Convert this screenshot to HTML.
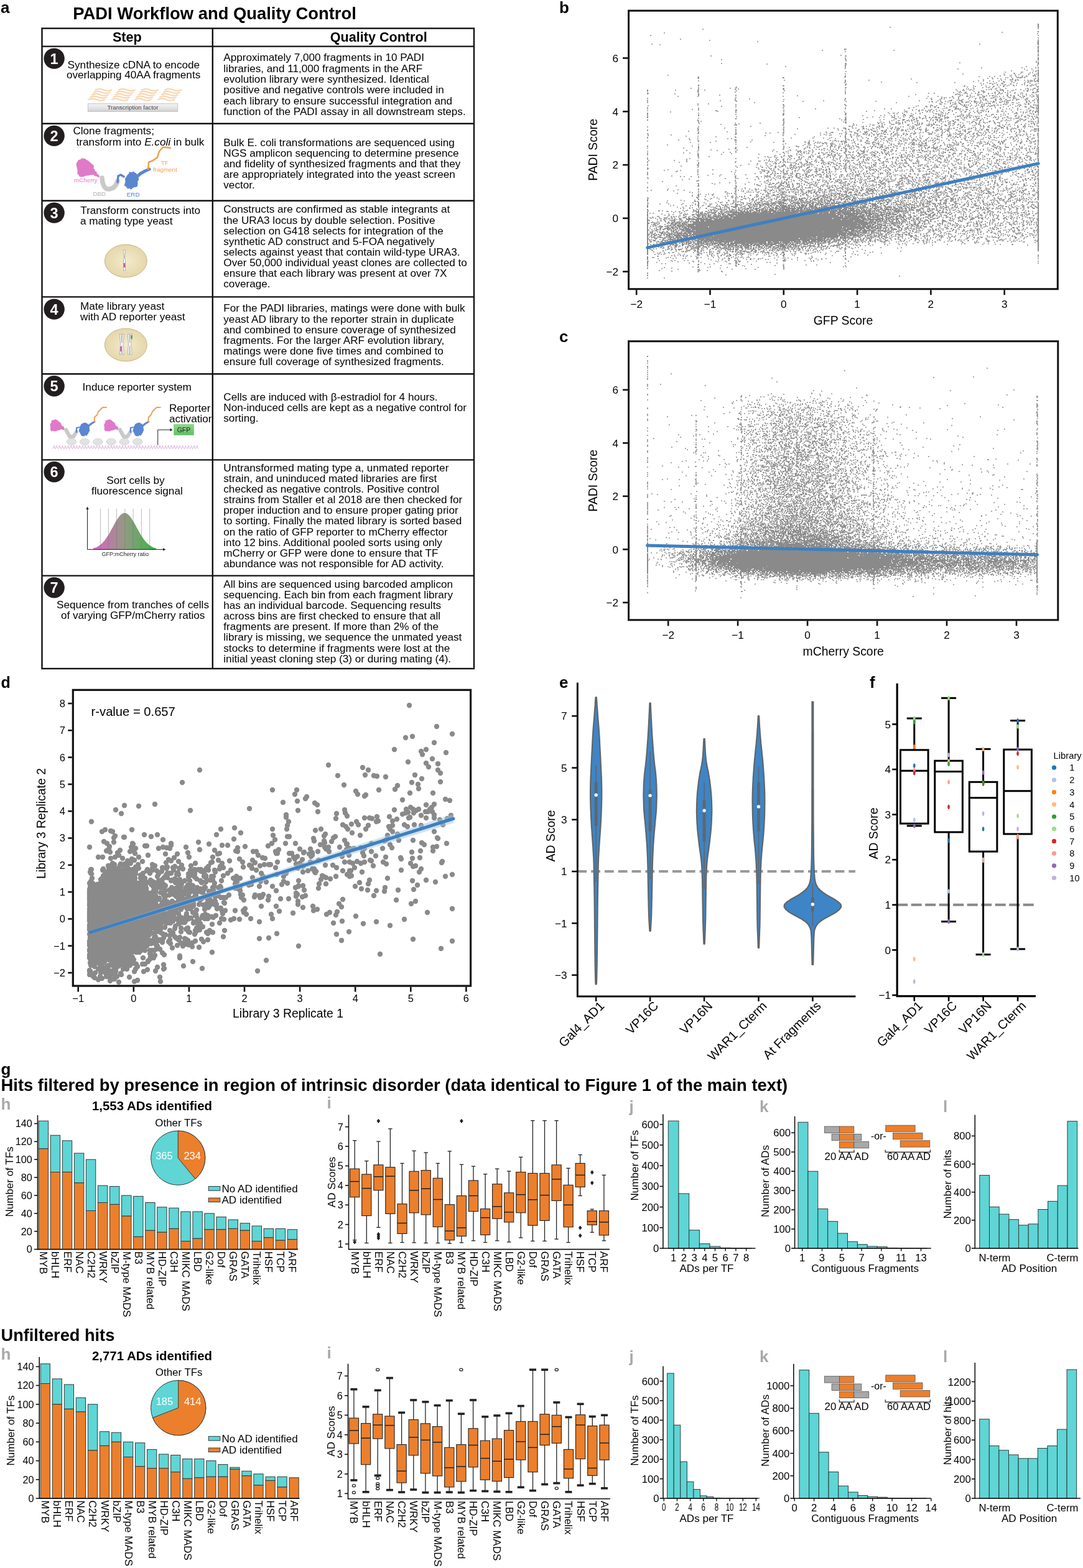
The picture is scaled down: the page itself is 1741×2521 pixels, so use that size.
<!DOCTYPE html><html><head><meta charset="utf-8"><title>PADI Workflow</title><style>html,body{margin:0;padding:0;background:#fff;width:1741px;height:2521px;overflow:hidden}svg{display:block}</style></head><body><svg width="1741" height="2521" viewBox="0 0 1741 2521" font-family="'Liberation Sans', Arial, Helvetica, sans-serif"><rect width="1741" height="2521" fill="#fff"/><text x="1" y="21" font-size="26" font-weight="bold">a</text><text x="117.3" y="30.6" font-size="27.4" font-weight="bold">PADI Workflow and Quality Control</text><rect x="67.5" y="45.6" width="694.5" height="1029.4" fill="none" stroke="#111" stroke-width="2.4"/><line x1="341.8" y1="45.6" x2="341.8" y2="1075" stroke="#111" stroke-width="2.4" /><line x1="67.5" y1="74.6" x2="762" y2="74.6" stroke="#111" stroke-width="2.4" /><line x1="67.5" y1="198.8" x2="762" y2="198.8" stroke="#111" stroke-width="2.4" /><line x1="67.5" y1="322.8" x2="762" y2="322.8" stroke="#111" stroke-width="2.4" /><line x1="67.5" y1="477.4" x2="762" y2="477.4" stroke="#111" stroke-width="2.4" /><line x1="67.5" y1="601.2" x2="762" y2="601.2" stroke="#111" stroke-width="2.4" /><line x1="67.5" y1="739.4" x2="762" y2="739.4" stroke="#111" stroke-width="2.4" /><line x1="67.5" y1="925.6" x2="762" y2="925.6" stroke="#111" stroke-width="2.4" /><text x="204.3" y="67.2" font-size="21.6" text-anchor="middle" font-weight="bold">Step</text><text x="608.7" y="67.2" font-size="21.6" text-anchor="middle" font-weight="bold">Quality Control</text><circle cx="87.1" cy="94.1" r="16.7" fill="#221e1f" /><text x="87.1" y="102.6" font-size="23.5" text-anchor="middle" font-weight="bold" fill="#fff">1</text><circle cx="87.1" cy="218.4" r="16.7" fill="#221e1f" /><text x="87.1" y="226.9" font-size="23.5" text-anchor="middle" font-weight="bold" fill="#fff">2</text><circle cx="87.1" cy="342.1" r="16.7" fill="#221e1f" /><text x="87.1" y="350.6" font-size="23.5" text-anchor="middle" font-weight="bold" fill="#fff">3</text><circle cx="87.1" cy="497.1" r="16.7" fill="#221e1f" /><text x="87.1" y="505.6" font-size="23.5" text-anchor="middle" font-weight="bold" fill="#fff">4</text><circle cx="87.1" cy="620.8" r="16.7" fill="#221e1f" /><text x="87.1" y="629.3" font-size="23.5" text-anchor="middle" font-weight="bold" fill="#fff">5</text><circle cx="87.1" cy="758.8" r="16.7" fill="#221e1f" /><text x="87.1" y="767.3" font-size="23.5" text-anchor="middle" font-weight="bold" fill="#fff">6</text><circle cx="87.1" cy="944.8" r="16.7" fill="#221e1f" /><text x="87.1" y="953.3" font-size="23.5" text-anchor="middle" font-weight="bold" fill="#fff">7</text><text x="108.6" y="109.9" font-size="17.15">Synthesize cDNA to encode</text><text x="106.9" y="126.1" font-size="17.15">overlapping 40AA fragments</text><text x="117.4" y="216.4" font-size="17.15">Clone fragments;</text><text x="129.3" y="344.2" font-size="17.15">Transform constructs into</text><text x="129" y="361.2" font-size="17.15">a mating type yeast</text><text x="129" y="498.3" font-size="17.15">Mate library yeast</text><text x="129" y="515.3" font-size="17.15">with AD reporter yeast</text><text x="132.6" y="628.3" font-size="17.15">Induce reporter system</text><text x="271.9" y="662.1" font-size="17.15">Reporter</text><text x="171.3" y="778.3" font-size="17.15">Sort cells by</text><text x="147" y="795.3" font-size="17.15">fluorescence signal</text><text x="91.1" y="977.5" font-size="17.15">Sequence from tranches of cells</text><text x="97.9" y="994.8" font-size="17.15">of varying GFP/mCherry ratios</text><text x="122.6" y="234.1" font-size="17.15">transform into <tspan font-style="italic">E.coli</tspan> in bulk</text><clipPath id="cpa"><rect x="68" y="600" width="272" height="140"/></clipPath><text x="271.9" y="679" font-size="17.15" clip-path="url(#cpa)">activation</text><text x="359.3" y="98.4" font-size="17.15">Approximately 7,000 fragments in 10 PADI</text><text x="359.3" y="115.7" font-size="17.15">libraries, and 11,000 fragments in the ARF</text><text x="359.3" y="133" font-size="17.15">evolution library were synthesized. Identical</text><text x="359.3" y="150.3" font-size="17.15">positive and negative controls were included in</text><text x="359.3" y="167.6" font-size="17.15">each library to ensure successful integration and</text><text x="359.3" y="184.9" font-size="17.15">function of the PADI assay in all downstream steps.</text><text x="359.3" y="234.7" font-size="17.15">Bulk E. coli transformations are sequenced using</text><text x="359.3" y="251.8" font-size="17.15">NGS amplicon sequencing to determine presence</text><text x="359.3" y="268.8" font-size="17.15">and fidelity of synthesized fragments and that they</text><text x="359.3" y="285.9" font-size="17.15">are appropriately integrated into the yeast screen</text><text x="359.3" y="302.9" font-size="17.15">vector.</text><text x="359.3" y="342.4" font-size="17.15">Constructs are confirmed as stable integrants at</text><text x="359.3" y="359.5" font-size="17.15">the URA3 locus by double selection. Positive</text><text x="359.3" y="376.5" font-size="17.15">selection on G418 selects for integration of the</text><text x="359.3" y="393.6" font-size="17.15">synthetic AD construct and 5-FOA negatively</text><text x="359.3" y="410.6" font-size="17.15">selects against yeast that contain wild-type URA3.</text><text x="359.3" y="427.7" font-size="17.15">Over 50,000 individual yeast clones are collected to</text><text x="359.3" y="444.8" font-size="17.15">ensure that each library was present at over 7X</text><text x="359.3" y="461.8" font-size="17.15">coverage.</text><text x="359.3" y="501.3" font-size="17.15">For the PADI libraries, matings were done with bulk</text><text x="359.3" y="518.5" font-size="17.15">yeast AD library to the reporter strain in duplicate</text><text x="359.3" y="535.7" font-size="17.15">and combined to ensure coverage of synthesized</text><text x="359.3" y="552.8" font-size="17.15">fragments. For the larger ARF evolution library,</text><text x="359.3" y="570" font-size="17.15">matings were done five times and combined to</text><text x="359.3" y="587.2" font-size="17.15">ensure full coverage of synthesized fragments.</text><text x="359.3" y="643.8" font-size="17.15">Cells are induced with β-estradiol for 4 hours.</text><text x="359.3" y="660.8" font-size="17.15">Non-induced cells are kept as a negative control for</text><text x="359.3" y="677.7" font-size="17.15">sorting.</text><text x="359.3" y="757.5" font-size="17.15">Untransformed mating type a, unmated reporter</text><text x="359.3" y="774.7" font-size="17.15">strain, and uninduced mated libraries are first</text><text x="359.3" y="791.8" font-size="17.15">checked as negative controls. Positive control</text><text x="359.3" y="809" font-size="17.15">strains from Staller et al 2018 are then checked for</text><text x="359.3" y="826.1" font-size="17.15">proper induction and to ensure proper gating prior</text><text x="359.3" y="843.3" font-size="17.15">to sorting. Finally the mated library is sorted based</text><text x="359.3" y="860.5" font-size="17.15">on the ratio of GFP reporter to mCherry effector</text><text x="359.3" y="877.6" font-size="17.15">into 12 bins. Additional pooled sorts using only</text><text x="359.3" y="894.8" font-size="17.15">mCherry or GFP were done to ensure that TF</text><text x="359.3" y="911.9" font-size="17.15">abundance was not responsible for AD activity.</text><text x="359.3" y="944.6" font-size="17.15">All bins are sequenced using barcoded amplicon</text><text x="359.3" y="961.8" font-size="17.15">sequencing. Each bin from each fragment library</text><text x="359.3" y="978.9" font-size="17.15">has an individual barcode. Sequencing results</text><text x="359.3" y="996.1" font-size="17.15">across bins are first checked to ensure that all</text><text x="359.3" y="1013.2" font-size="17.15">fragments are present. If more than 2% of the</text><text x="359.3" y="1030.3" font-size="17.15">library is missing, we sequence the unmated yeast</text><text x="359.3" y="1047.5" font-size="17.15">stocks to determine if fragments were lost at the</text><text x="359.3" y="1064.7" font-size="17.15">initial yeast cloning step (3) or during mating (4).</text><polyline points="153.5,144.5 154.5,144.1 155.5,143.8 156.5,143.5 157.5,143.3 158.5,143.1 159.5,143.0 160.5,143.0 161.5,143.1 162.5,143.3 163.5,143.5 164.5,143.8 165.5,144.1 166.5,144.5 167.5,144.9 168.5,145.2 169.5,145.5 170.5,145.7 171.5,145.9 172.5,146.0 173.5,146.0 174.5,145.9 175.5,145.7 176.5,145.5 177.5,145.2 178.5,144.9 179.5,144.5" fill="none" stroke="#f3bb80" stroke-width="2.2" stroke-opacity="0.62" stroke-linecap="round"/><polyline points="150.7,148.4 151.7,148.0 152.7,147.7 153.7,147.4 154.7,147.2 155.7,147.0 156.7,146.9 157.7,146.9 158.7,147.0 159.7,147.2 160.7,147.4 161.7,147.7 162.7,148.0 163.7,148.4 164.7,148.8 165.7,149.1 166.7,149.4 167.7,149.6 168.7,149.8 169.7,149.9 170.7,149.9 171.7,149.8 172.7,149.6 173.7,149.4 174.7,149.1 175.7,148.8 176.7,148.4" fill="none" stroke="#f3bb80" stroke-width="2.2" stroke-opacity="0.62" stroke-linecap="round"/><polyline points="147.9,152.3 148.9,151.9 149.9,151.6 150.9,151.3 151.9,151.1 152.9,150.9 153.9,150.8 154.9,150.8 155.9,150.9 156.9,151.1 157.9,151.3 158.9,151.6 159.9,151.9 160.9,152.3 161.9,152.7 162.9,153.0 163.9,153.3 164.9,153.5 165.9,153.7 166.9,153.8 167.9,153.8 168.9,153.7 169.9,153.5 170.9,153.3 171.9,153.0 172.9,152.7 173.9,152.3" fill="none" stroke="#f3bb80" stroke-width="2.2" stroke-opacity="0.62" stroke-linecap="round"/><polyline points="145.1,156.2 146.1,155.8 147.1,155.5 148.1,155.2 149.1,155.0 150.1,154.8 151.1,154.7 152.1,154.7 153.1,154.8 154.1,155.0 155.1,155.2 156.1,155.5 157.1,155.8 158.1,156.2 159.1,156.6 160.1,156.9 161.1,157.2 162.1,157.4 163.1,157.6 164.1,157.7 165.1,157.7 166.1,157.6 167.1,157.4 168.1,157.2 169.1,156.9 170.1,156.6 171.1,156.2" fill="none" stroke="#f3bb80" stroke-width="2.2" stroke-opacity="0.62" stroke-linecap="round"/><polyline points="142.3,160.1 143.3,159.7 144.3,159.4 145.3,159.1 146.3,158.9 147.3,158.7 148.3,158.6 149.3,158.6 150.3,158.7 151.3,158.9 152.3,159.1 153.3,159.4 154.3,159.7 155.3,160.1 156.3,160.5 157.3,160.8 158.3,161.1 159.3,161.3 160.3,161.5 161.3,161.6 162.3,161.6 163.3,161.5 164.3,161.3 165.3,161.1 166.3,160.8 167.3,160.5 168.3,160.1" fill="none" stroke="#f3bb80" stroke-width="2.2" stroke-opacity="0.62" stroke-linecap="round"/><polyline points="190.8,144.5 191.8,144.1 192.8,143.8 193.8,143.5 194.8,143.3 195.8,143.1 196.8,143.0 197.8,143.0 198.8,143.1 199.8,143.3 200.8,143.5 201.8,143.8 202.8,144.1 203.8,144.5 204.8,144.9 205.8,145.2 206.8,145.5 207.8,145.7 208.8,145.9 209.8,146.0 210.8,146.0 211.8,145.9 212.8,145.7 213.8,145.5 214.8,145.2 215.8,144.9 216.8,144.5" fill="none" stroke="#f3bb80" stroke-width="2.2" stroke-opacity="0.62" stroke-linecap="round"/><polyline points="188.0,148.4 189.0,148.0 190.0,147.7 191.0,147.4 192.0,147.2 193.0,147.0 194.0,146.9 195.0,146.9 196.0,147.0 197.0,147.2 198.0,147.4 199.0,147.7 200.0,148.0 201.0,148.4 202.0,148.8 203.0,149.1 204.0,149.4 205.0,149.6 206.0,149.8 207.0,149.9 208.0,149.9 209.0,149.8 210.0,149.6 211.0,149.4 212.0,149.1 213.0,148.8 214.0,148.4" fill="none" stroke="#f3bb80" stroke-width="2.2" stroke-opacity="0.62" stroke-linecap="round"/><polyline points="185.2,152.3 186.2,151.9 187.2,151.6 188.2,151.3 189.2,151.1 190.2,150.9 191.2,150.8 192.2,150.8 193.2,150.9 194.2,151.1 195.2,151.3 196.2,151.6 197.2,151.9 198.2,152.3 199.2,152.7 200.2,153.0 201.2,153.3 202.2,153.5 203.2,153.7 204.2,153.8 205.2,153.8 206.2,153.7 207.2,153.5 208.2,153.3 209.2,153.0 210.2,152.7 211.2,152.3" fill="none" stroke="#f3bb80" stroke-width="2.2" stroke-opacity="0.62" stroke-linecap="round"/><polyline points="182.4,156.2 183.4,155.8 184.4,155.5 185.4,155.2 186.4,155.0 187.4,154.8 188.4,154.7 189.4,154.7 190.4,154.8 191.4,155.0 192.4,155.2 193.4,155.5 194.4,155.8 195.4,156.2 196.4,156.6 197.4,156.9 198.4,157.2 199.4,157.4 200.4,157.6 201.4,157.7 202.4,157.7 203.4,157.6 204.4,157.4 205.4,157.2 206.4,156.9 207.4,156.6 208.4,156.2" fill="none" stroke="#f3bb80" stroke-width="2.2" stroke-opacity="0.62" stroke-linecap="round"/><polyline points="179.6,160.1 180.6,159.7 181.6,159.4 182.6,159.1 183.6,158.9 184.6,158.7 185.6,158.6 186.6,158.6 187.6,158.7 188.6,158.9 189.6,159.1 190.6,159.4 191.6,159.7 192.6,160.1 193.6,160.5 194.6,160.8 195.6,161.1 196.6,161.3 197.6,161.5 198.6,161.6 199.6,161.6 200.6,161.5 201.6,161.3 202.6,161.1 203.6,160.8 204.6,160.5 205.6,160.1" fill="none" stroke="#f3bb80" stroke-width="2.2" stroke-opacity="0.62" stroke-linecap="round"/><polyline points="228.1,144.5 229.1,144.1 230.1,143.8 231.1,143.5 232.1,143.3 233.1,143.1 234.1,143.0 235.1,143.0 236.1,143.1 237.1,143.3 238.1,143.5 239.1,143.8 240.1,144.1 241.1,144.5 242.1,144.9 243.1,145.2 244.1,145.5 245.1,145.7 246.1,145.9 247.1,146.0 248.1,146.0 249.1,145.9 250.1,145.7 251.1,145.5 252.1,145.2 253.1,144.9 254.1,144.5" fill="none" stroke="#f3bb80" stroke-width="2.2" stroke-opacity="0.62" stroke-linecap="round"/><polyline points="225.3,148.4 226.3,148.0 227.3,147.7 228.3,147.4 229.3,147.2 230.3,147.0 231.3,146.9 232.3,146.9 233.3,147.0 234.3,147.2 235.3,147.4 236.3,147.7 237.3,148.0 238.3,148.4 239.3,148.8 240.3,149.1 241.3,149.4 242.3,149.6 243.3,149.8 244.3,149.9 245.3,149.9 246.3,149.8 247.3,149.6 248.3,149.4 249.3,149.1 250.3,148.8 251.3,148.4" fill="none" stroke="#f3bb80" stroke-width="2.2" stroke-opacity="0.62" stroke-linecap="round"/><polyline points="222.5,152.3 223.5,151.9 224.5,151.6 225.5,151.3 226.5,151.1 227.5,150.9 228.5,150.8 229.5,150.8 230.5,150.9 231.5,151.1 232.5,151.3 233.5,151.6 234.5,151.9 235.5,152.3 236.5,152.7 237.5,153.0 238.5,153.3 239.5,153.5 240.5,153.7 241.5,153.8 242.5,153.8 243.5,153.7 244.5,153.5 245.5,153.3 246.5,153.0 247.5,152.7 248.5,152.3" fill="none" stroke="#f3bb80" stroke-width="2.2" stroke-opacity="0.62" stroke-linecap="round"/><polyline points="219.7,156.2 220.7,155.8 221.7,155.5 222.7,155.2 223.7,155.0 224.7,154.8 225.7,154.7 226.7,154.7 227.7,154.8 228.7,155.0 229.7,155.2 230.7,155.5 231.7,155.8 232.7,156.2 233.7,156.6 234.7,156.9 235.7,157.2 236.7,157.4 237.7,157.6 238.7,157.7 239.7,157.7 240.7,157.6 241.7,157.4 242.7,157.2 243.7,156.9 244.7,156.6 245.7,156.2" fill="none" stroke="#f3bb80" stroke-width="2.2" stroke-opacity="0.62" stroke-linecap="round"/><polyline points="216.9,160.1 217.9,159.7 218.9,159.4 219.9,159.1 220.9,158.9 221.9,158.7 222.9,158.6 223.9,158.6 224.9,158.7 225.9,158.9 226.9,159.1 227.9,159.4 228.9,159.7 229.9,160.1 230.9,160.5 231.9,160.8 232.9,161.1 233.9,161.3 234.9,161.5 235.9,161.6 236.9,161.6 237.9,161.5 238.9,161.3 239.9,161.1 240.9,160.8 241.9,160.5 242.9,160.1" fill="none" stroke="#f3bb80" stroke-width="2.2" stroke-opacity="0.62" stroke-linecap="round"/><polyline points="265.4,144.5 266.4,144.1 267.4,143.8 268.4,143.5 269.4,143.3 270.4,143.1 271.4,143.0 272.4,143.0 273.4,143.1 274.4,143.3 275.4,143.5 276.4,143.8 277.4,144.1 278.4,144.5 279.4,144.9 280.4,145.2 281.4,145.5 282.4,145.7 283.4,145.9 284.4,146.0 285.4,146.0 286.4,145.9 287.4,145.7 288.4,145.5 289.4,145.2 290.4,144.9 291.4,144.5" fill="none" stroke="#f3bb80" stroke-width="2.2" stroke-opacity="0.62" stroke-linecap="round"/><polyline points="262.6,148.4 263.6,148.0 264.6,147.7 265.6,147.4 266.6,147.2 267.6,147.0 268.6,146.9 269.6,146.9 270.6,147.0 271.6,147.2 272.6,147.4 273.6,147.7 274.6,148.0 275.6,148.4 276.6,148.8 277.6,149.1 278.6,149.4 279.6,149.6 280.6,149.8 281.6,149.9 282.6,149.9 283.6,149.8 284.6,149.6 285.6,149.4 286.6,149.1 287.6,148.8 288.6,148.4" fill="none" stroke="#f3bb80" stroke-width="2.2" stroke-opacity="0.62" stroke-linecap="round"/><polyline points="259.8,152.3 260.8,151.9 261.8,151.6 262.8,151.3 263.8,151.1 264.8,150.9 265.8,150.8 266.8,150.8 267.8,150.9 268.8,151.1 269.8,151.3 270.8,151.6 271.8,151.9 272.8,152.3 273.8,152.7 274.8,153.0 275.8,153.3 276.8,153.5 277.8,153.7 278.8,153.8 279.8,153.8 280.8,153.7 281.8,153.5 282.8,153.3 283.8,153.0 284.8,152.7 285.8,152.3" fill="none" stroke="#f3bb80" stroke-width="2.2" stroke-opacity="0.62" stroke-linecap="round"/><polyline points="257.0,156.2 258.0,155.8 259.0,155.5 260.0,155.2 261.0,155.0 262.0,154.8 263.0,154.7 264.0,154.7 265.0,154.8 266.0,155.0 267.0,155.2 268.0,155.5 269.0,155.8 270.0,156.2 271.0,156.6 272.0,156.9 273.0,157.2 274.0,157.4 275.0,157.6 276.0,157.7 277.0,157.7 278.0,157.6 279.0,157.4 280.0,157.2 281.0,156.9 282.0,156.6 283.0,156.2" fill="none" stroke="#f3bb80" stroke-width="2.2" stroke-opacity="0.62" stroke-linecap="round"/><polyline points="254.2,160.1 255.2,159.7 256.2,159.4 257.2,159.1 258.2,158.9 259.2,158.7 260.2,158.6 261.2,158.6 262.2,158.7 263.2,158.9 264.2,159.1 265.2,159.4 266.2,159.7 267.2,160.1 268.2,160.5 269.2,160.8 270.2,161.1 271.2,161.3 272.2,161.5 273.2,161.6 274.2,161.6 275.2,161.5 276.2,161.3 277.2,161.1 278.2,160.8 279.2,160.5 280.2,160.1" fill="none" stroke="#f3bb80" stroke-width="2.2" stroke-opacity="0.62" stroke-linecap="round"/><defs><linearGradient id="gbar" x1="0" y1="0" x2="0" y2="1"><stop offset="0" stop-color="#f2f2f2"/><stop offset="0.5" stop-color="#e6e6e6"/><stop offset="1" stop-color="#cfcfcf"/></linearGradient><linearGradient id="ggfp" x1="0" y1="0" x2="0" y2="1"><stop offset="0" stop-color="#8fd88f"/><stop offset="1" stop-color="#5fbf5f"/></linearGradient><linearGradient id="gbell" x1="0" y1="0" x2="1" y2="0"><stop offset="0" stop-color="#e05fc8"/><stop offset="0.5" stop-color="#939a82"/><stop offset="1" stop-color="#35b545"/></linearGradient><radialGradient id="gyeast" cx="0.5" cy="0.5" r="0.6"><stop offset="0" stop-color="#f3ebcc"/><stop offset="1" stop-color="#e3d3a4"/></radialGradient></defs><rect x="141.3" y="166.7" width="144.5" height="12.6" fill="url(#gbar)" stroke="#bbb" stroke-width="0.8"/><text x="213.5" y="176.4" font-size="9.6" text-anchor="middle" fill="#444">Transcription factor</text><polygon points="131.1,254.8 135.9,254.7 138.4,256.4 142.0,258.4 143.5,259.8 148.2,264.0 150.8,266.1 150.7,269.8 150.8,272.2 153.0,271.9 152.2,274.8 155.7,276.1 155.3,277.8 156.6,279.4 159.2,282.0 160.4,283.4 159.3,284.6 158.5,284.2 158.8,286.1 155.6,283.5 153.8,283.5 149.1,280.6 148.0,281.7 146.2,281.1 143.5,281.9 137.5,282.7 134.3,284.2 128.8,284.5 126.4,282.2 127.0,281.2 124.3,280.1 124.7,274.3 123.1,267.8 122.5,262.7 124.4,259.9 126.0,257.3 126.7,257.1 130.4,255.9 130.4,254.1" fill="#e07ac8"/><path d="M164,286 C165,299 169,305 176,304 C183,303 187,298 189,291" fill="none" stroke="#c9c9c9" stroke-width="7.5" stroke-linecap="round"/><polyline points="189.0,293.0 190.0,283.0 194.0,281.0 199.0,284.0" fill="none" stroke="#5b86d0" stroke-width="3.5" stroke-linejoin="round" stroke-linecap="round"/><polygon points="207.1,279.1 207.7,276.3 212.2,277.1 214.4,275.3 216.3,277.5 218.2,277.8 219.8,279.7 221.6,284.6 223.1,286.8 222.9,289.4 221.2,291.9 221.6,295.6 220.7,299.9 218.3,300.8 215.0,301.2 212.6,303.1 210.3,304.9 208.1,302.6 205.9,303.7 203.9,301.9 202.3,299.7 199.6,298.2 201.4,292.8 201.3,290.8 200.9,287.1 202.7,285.0 204.4,281.8" fill="#5b86d0"/><polyline points="219.0,285.0 226.0,279.0 233.0,275.0 240.0,272.0" fill="none" stroke="#5b86d0" stroke-width="5" stroke-linejoin="round" stroke-linecap="round"/><polyline points="238.0,272.0 239.0,261.0 246.0,258.0 253.0,253.0 255.0,246.0 257.0,242.0 262.0,236.5 268.0,237.0 274.0,238.0" fill="none" stroke="#f0a050" stroke-width="2.6" stroke-linejoin="round" stroke-linecap="round"/><text x="119" y="293.4" font-size="9.8" fill="#e07ac8">mCherry</text><text x="149.5" y="314.7" font-size="9.8" fill="#b0b0b0">DBD</text><text x="203.8" y="315.6" font-size="9.8" fill="#4a86c8">ERD</text><text x="258.9" y="265.3" font-size="9.8" fill="#f0a050">TF</text><text x="246" y="275.5" font-size="9.8" fill="#f0a050">fragment</text><ellipse cx="202.3" cy="419.5" rx="34" ry="26.4" fill="url(#gyeast)" stroke="#b8a878" stroke-width="0.8"/><path d="M198.5,402 h3 l-1,12 l1,4 v17 h-3 v-17 l1,-4 z" fill="#fff" stroke="#888" stroke-width="0.6"/><rect x="198.6" y="423.0" width="2.8" height="7.0" fill="#c85aa8"/><ellipse cx="202.3" cy="554.5" rx="34" ry="26.4" fill="url(#gyeast)" stroke="#b8a878" stroke-width="0.8"/><path d="M192.3,537 h2.5 l1,14 l1,-14 h2.5 l-1.5,16 l1.5,17 h-2.5 l-1,-14 l-1,14 h-2.5 l1.5,-17 z" fill="#fff" stroke="#888" stroke-width="0.6"/><path d="M205.1,537 h2.5 l1,14 l1,-14 h2.5 l-1.5,16 l1.5,17 h-2.5 l-1,-14 l-1,14 h-2.5 l1.5,-17 z" fill="#fff" stroke="#888" stroke-width="0.6"/><rect x="193.2" y="557.0" width="2.4" height="8.0" fill="#c85aa8"/><rect x="210.4" y="539.0" width="2.4" height="6.0" fill="#3aa04a"/><ellipse cx="114.9" cy="710.2" rx="7.8" ry="5.2" fill="#e2e2e2" stroke="#c8c8c8" stroke-width="0.6"/><ellipse cx="136.2" cy="710.2" rx="7.8" ry="5.2" fill="#e2e2e2" stroke="#c8c8c8" stroke-width="0.6"/><ellipse cx="157.4" cy="710.2" rx="7.8" ry="5.2" fill="#e2e2e2" stroke="#c8c8c8" stroke-width="0.6"/><ellipse cx="178.7" cy="710.2" rx="7.8" ry="5.2" fill="#e2e2e2" stroke="#c8c8c8" stroke-width="0.6"/><ellipse cx="199.9" cy="710.2" rx="7.8" ry="5.2" fill="#e2e2e2" stroke="#c8c8c8" stroke-width="0.6"/><ellipse cx="221.2" cy="710.2" rx="7.8" ry="5.2" fill="#e2e2e2" stroke="#c8c8c8" stroke-width="0.6"/><path d="M84.5,721.5 l3,-5.2 M86.0,716.3 l3,5.2M89.1,721.5 l3,-5.2 M90.6,716.3 l3,5.2M93.7,721.5 l3,-5.2 M95.2,716.3 l3,5.2M98.3,721.5 l3,-5.2 M99.8,716.3 l3,5.2M102.9,721.5 l3,-5.2 M104.4,716.3 l3,5.2M107.5,721.5 l3,-5.2 M109.0,716.3 l3,5.2M112.1,721.5 l3,-5.2 M113.6,716.3 l3,5.2M116.7,721.5 l3,-5.2 M118.2,716.3 l3,5.2M121.3,721.5 l3,-5.2 M122.8,716.3 l3,5.2M125.9,721.5 l3,-5.2 M127.4,716.3 l3,5.2M130.5,721.5 l3,-5.2 M132.0,716.3 l3,5.2M135.1,721.5 l3,-5.2 M136.6,716.3 l3,5.2M139.7,721.5 l3,-5.2 M141.2,716.3 l3,5.2M144.3,721.5 l3,-5.2 M145.8,716.3 l3,5.2M148.9,721.5 l3,-5.2 M150.4,716.3 l3,5.2M153.5,721.5 l3,-5.2 M155.0,716.3 l3,5.2M158.1,721.5 l3,-5.2 M159.6,716.3 l3,5.2M162.7,721.5 l3,-5.2 M164.2,716.3 l3,5.2M167.3,721.5 l3,-5.2 M168.8,716.3 l3,5.2M171.9,721.5 l3,-5.2 M173.4,716.3 l3,5.2M176.5,721.5 l3,-5.2 M178.0,716.3 l3,5.2M181.1,721.5 l3,-5.2 M182.6,716.3 l3,5.2M185.7,721.5 l3,-5.2 M187.2,716.3 l3,5.2M190.3,721.5 l3,-5.2 M191.8,716.3 l3,5.2M194.9,721.5 l3,-5.2 M196.4,716.3 l3,5.2M199.5,721.5 l3,-5.2 M201.0,716.3 l3,5.2M204.1,721.5 l3,-5.2 M205.6,716.3 l3,5.2M208.7,721.5 l3,-5.2 M210.2,716.3 l3,5.2M213.3,721.5 l3,-5.2 M214.8,716.3 l3,5.2M217.9,721.5 l3,-5.2 M219.4,716.3 l3,5.2M222.5,721.5 l3,-5.2 M224.0,716.3 l3,5.2M227.1,721.5 l3,-5.2 M228.6,716.3 l3,5.2M231.7,721.5 l3,-5.2 M233.2,716.3 l3,5.2M236.3,721.5 l3,-5.2 M237.8,716.3 l3,5.2M240.9,721.5 l3,-5.2 M242.4,716.3 l3,5.2M245.5,721.5 l3,-5.2 M247.0,716.3 l3,5.2M250.1,721.5 l3,-5.2 M251.6,716.3 l3,5.2M254.7,721.5 l3,-5.2 M256.2,716.3 l3,5.2M259.3,721.5 l3,-5.2 M260.8,716.3 l3,5.2M263.9,721.5 l3,-5.2 M265.4,716.3 l3,5.2M268.5,721.5 l3,-5.2 M270.0,716.3 l3,5.2M273.1,721.5 l3,-5.2 M274.6,716.3 l3,5.2M277.7,721.5 l3,-5.2 M279.2,716.3 l3,5.2M282.3,721.5 l3,-5.2 M283.8,716.3 l3,5.2M286.9,721.5 l3,-5.2 M288.4,716.3 l3,5.2M291.5,721.5 l3,-5.2 M293.0,716.3 l3,5.2M296.1,721.5 l3,-5.2 M297.6,716.3 l3,5.2M300.7,721.5 l3,-5.2 M302.2,716.3 l3,5.2M305.3,721.5 l3,-5.2 M306.8,716.3 l3,5.2M309.9,721.5 l3,-5.2 M311.4,716.3 l3,5.2M314.5,721.5 l3,-5.2 M316.0,716.3 l3,5.2" stroke="#d49ad0" stroke-width="0.8" fill="none"/><g transform="translate(0,0)"><polygon points="82.9,676.1 86.1,675.3 87.7,674.8 89.5,674.0 92.2,675.8 93.4,676.4 95.3,678.5 97.3,679.3 98.8,682.8 99.2,684.2 100.2,684.6 102.4,686.0 103.5,687.6 102.9,689.0 103.2,690.6 103.0,691.2 101.0,690.9 98.9,690.0 97.8,690.8 95.2,691.7 92.0,692.2 89.7,693.3 87.7,693.5 85.2,693.1 82.7,693.6 80.5,690.2 81.3,688.3 80.8,685.8 80.3,682.8 82.5,678.9" fill="#e07ac8"/><path d="M106,691 L112,702 L118,702 L123,694" fill="none" stroke="#c9c9c9" stroke-width="6" stroke-linecap="round" stroke-linejoin="round"/><polyline points="123.0,695.0 123.0,688.0 127.0,687.0" fill="none" stroke="#5b86d0" stroke-width="2.2" stroke-linejoin="round" stroke-linecap="round"/><polygon points="130.0,682.3 133.0,680.4 134.6,679.8 137.6,679.5 140.3,680.9 142.1,682.6 143.4,683.9 143.8,687.4 144.0,689.9 144.3,692.3 143.0,694.6 142.2,696.6 139.3,700.7 137.3,699.7 135.4,701.4 131.4,700.9 129.7,698.7 128.8,696.4 127.3,694.3 126.8,692.8 127.5,689.5 128.2,687.0 128.5,684.5 129.7,684.4" fill="#5b86d0"/><polyline points="142.0,685.0 147.0,681.0 152.0,678.0" fill="none" stroke="#5b86d0" stroke-width="3" stroke-linejoin="round" stroke-linecap="round"/><polyline points="151.5,678.0 152.0,671.0 156.0,667.0 158.0,662.0 162.0,658.0 165.0,655.0 171.0,655.0" fill="none" stroke="#f0a050" stroke-width="2.0" stroke-linejoin="round" stroke-linecap="round"/></g><g transform="translate(86.8,0)"><polygon points="82.9,676.1 86.1,675.3 87.7,674.8 89.5,674.0 92.2,675.8 93.4,676.4 95.3,678.5 97.3,679.3 98.8,682.8 99.2,684.2 100.2,684.6 102.4,686.0 103.5,687.6 102.9,689.0 103.2,690.6 103.0,691.2 101.0,690.9 98.9,690.0 97.8,690.8 95.2,691.7 92.0,692.2 89.7,693.3 87.7,693.5 85.2,693.1 82.7,693.6 80.5,690.2 81.3,688.3 80.8,685.8 80.3,682.8 82.5,678.9" fill="#e07ac8"/><path d="M106,691 L112,702 L118,702 L123,694" fill="none" stroke="#c9c9c9" stroke-width="6" stroke-linecap="round" stroke-linejoin="round"/><polyline points="123.0,695.0 123.0,688.0 127.0,687.0" fill="none" stroke="#5b86d0" stroke-width="2.2" stroke-linejoin="round" stroke-linecap="round"/><polygon points="130.0,682.3 133.0,680.4 134.6,679.8 137.6,679.5 140.3,680.9 142.1,682.6 143.4,683.9 143.8,687.4 144.0,689.9 144.3,692.3 143.0,694.6 142.2,696.6 139.3,700.7 137.3,699.7 135.4,701.4 131.4,700.9 129.7,698.7 128.8,696.4 127.3,694.3 126.8,692.8 127.5,689.5 128.2,687.0 128.5,684.5 129.7,684.4" fill="#5b86d0"/><polyline points="142.0,685.0 147.0,681.0 152.0,678.0" fill="none" stroke="#5b86d0" stroke-width="3" stroke-linejoin="round" stroke-linecap="round"/><polyline points="151.5,678.0 152.0,671.0 156.0,667.0 158.0,662.0 162.0,658.0 165.0,655.0 171.0,655.0" fill="none" stroke="#f0a050" stroke-width="2.0" stroke-linejoin="round" stroke-linecap="round"/></g><path d="M253.7,715.4 V691.1 H274" fill="none" stroke="#222" stroke-width="1"/><path d="M277.5,691.1 l-4,-2.5 v5 z" fill="#222"/><rect x="279.7" y="682.4" width="31.6" height="17.0" fill="url(#ggfp)" stroke="#6cbf6c" stroke-width="0.6"/><text x="295.5" y="694.6" font-size="10.5" text-anchor="middle" fill="#222">GFP</text><polygon points="149.6,883.4 149.6,881.6 150.6,881.3 151.6,881.0 152.6,880.7 153.7,880.3 154.7,879.9 155.7,879.4 156.7,878.9 157.7,878.3 158.7,877.7 159.8,877.0 160.8,876.3 161.8,875.5 162.8,874.6 163.8,873.7 164.8,872.7 165.8,871.6 166.9,870.4 167.9,869.2 168.9,867.9 169.9,866.6 170.9,865.1 171.9,863.6 172.9,862.1 174.0,860.4 175.0,858.7 176.0,857.0 177.0,855.2 178.0,853.4 179.0,851.6 180.0,849.7 181.1,847.9 182.1,846.0 183.1,844.1 184.1,842.3 185.1,840.5 186.1,838.7 187.2,837.0 188.2,835.4 189.2,833.8 190.2,832.4 191.2,831.0 192.2,829.8 193.2,828.6 194.3,827.7 195.3,826.8 196.3,826.1 197.3,825.5 198.3,825.1 199.3,824.9 200.3,824.8 201.4,824.9 202.4,825.1 203.4,825.5 204.4,826.1 205.4,826.8 206.4,827.7 207.5,828.6 208.5,829.8 209.5,831.0 210.5,832.4 211.5,833.8 212.5,835.4 213.5,837.0 214.6,838.7 215.6,840.5 216.6,842.3 217.6,844.1 218.6,846.0 219.6,847.9 220.6,849.7 221.7,851.6 222.7,853.4 223.7,855.2 224.7,857.0 225.7,858.7 226.7,860.4 227.8,862.1 228.8,863.6 229.8,865.1 230.8,866.6 231.8,867.9 232.8,869.2 233.8,870.4 234.9,871.6 235.9,872.7 236.9,873.7 237.9,874.6 238.9,875.5 239.9,876.3 240.9,877.0 242.0,877.7 243.0,878.3 244.0,878.9 245.0,879.4 246.0,879.9 247.0,880.3 248.1,880.7 249.1,881.0 250.1,881.3 251.1,881.6 251.1,883.4" fill="url(#gbell)"/><line x1="161.4" y1="817.8" x2="161.4" y2="883.4" stroke="#777" stroke-width="0.5" /><line x1="174.4" y1="817.8" x2="174.4" y2="883.4" stroke="#777" stroke-width="0.5" /><line x1="187.4" y1="817.8" x2="187.4" y2="883.4" stroke="#777" stroke-width="0.5" /><line x1="200.8" y1="817.8" x2="200.8" y2="883.4" stroke="#777" stroke-width="0.5" /><line x1="214.1" y1="817.8" x2="214.1" y2="883.4" stroke="#777" stroke-width="0.5" /><line x1="227.3" y1="817.8" x2="227.3" y2="883.4" stroke="#777" stroke-width="0.5" /><line x1="240.7" y1="817.8" x2="240.7" y2="883.4" stroke="#777" stroke-width="0.5" /><path d="M140.5,818 V883.4 H263" fill="none" stroke="#222" stroke-width="1"/><path d="M140.5,814.5 l-2.2,4.5 h4.4 z M266.5,883.4 l-4.5,-2.2 v4.4 z" fill="#222"/><text x="201.3" y="894.2" font-size="9.0" text-anchor="middle" fill="#222">GFP:mCherry ratio</text><text x="899" y="21" font-size="26" font-weight="bold">b</text><path d="M1040 368h2v2h-2zM1066 368h2v2h-2zM1072 368h2v2h-2zM1078 368h2v2h-2zM1092 368h2v2h-2zM1096 368h4v2h-4zM1102 368h8v2h-8zM1112 368h240v2h-240zM1356 368h18v2h-18zM1378 368h2v2h-2zM1382 368h4v2h-4zM1388 368h4v2h-4zM1396 368h4v2h-4zM1404 368h2v2h-2zM1438 368h4v2h-4zM1448 368h2v2h-2zM1532 368h2v2h-2zM1668 368h2v2h-2zM1040 400h2v2h-2zM1090 400h2v2h-2zM1094 400h2v2h-2zM1122 400h2v2h-2zM1150 400h2v2h-2zM1172 400h2v2h-2zM1178 400h2v2h-2zM1182 400h2v2h-2zM1210 400h2v2h-2zM1274 400h2v2h-2zM1668 400h2v2h-2zM1040 356h2v2h-2zM1074 356h2v2h-2zM1082 356h2v2h-2zM1102 356h4v2h-4zM1114 356h280v2h-280zM1396 356h4v2h-4zM1402 356h6v2h-6zM1410 356h2v2h-2zM1470 356h2v2h-2zM1492 356h2v2h-2zM1560 356h2v2h-2zM1668 356h2v2h-2zM1116 348h2v2h-2zM1122 348h2v2h-2zM1128 348h2v2h-2zM1138 348h4v2h-4zM1146 348h2v2h-2zM1150 348h6v2h-6zM1160 348h12v2h-12zM1174 348h182v2h-182zM1358 348h10v2h-10zM1370 348h18v2h-18zM1394 348h2v2h-2zM1398 348h6v2h-6zM1410 348h2v2h-2zM1418 348h2v2h-2zM1448 348h4v2h-4zM1462 348h4v2h-4zM1490 348h2v2h-2zM1558 348h2v2h-2zM1668 348h2v2h-2zM1040 362h2v2h-2zM1084 362h2v2h-2zM1088 362h4v2h-4zM1094 362h2v2h-2zM1104 362h12v2h-12zM1118 362h258v2h-258zM1380 362h4v2h-4zM1386 362h6v2h-6zM1394 362h6v2h-6zM1402 362h2v2h-2zM1406 362h4v2h-4zM1420 362h4v2h-4zM1426 362h2v2h-2zM1466 362h2v2h-2zM1480 362h2v2h-2zM1538 362h2v2h-2zM1668 362h2v2h-2zM1040 378h2v2h-2zM1046 378h2v2h-2zM1074 378h4v2h-4zM1084 378h10v2h-10zM1096 378h16v2h-16zM1114 378h2v2h-2zM1118 378h28v2h-28zM1148 378h200v2h-200zM1352 378h10v2h-10zM1366 378h2v2h-2zM1372 378h8v2h-8zM1390 378h2v2h-2zM1408 378h2v2h-2zM1668 378h2v2h-2zM1040 388h2v2h-2zM1074 388h2v2h-2zM1096 388h2v2h-2zM1110 388h2v2h-2zM1122 388h6v2h-6zM1130 388h6v2h-6zM1138 388h2v2h-2zM1142 388h2v2h-2zM1146 388h2v2h-2zM1150 388h2v2h-2zM1156 388h16v2h-16zM1176 388h2v2h-2zM1180 388h52v2h-52zM1234 388h6v2h-6zM1242 388h10v2h-10zM1254 388h2v2h-2zM1258 388h12v2h-12zM1272 388h2v2h-2zM1276 388h6v2h-6zM1284 388h4v2h-4zM1290 388h8v2h-8zM1300 388h6v2h-6zM1308 388h2v2h-2zM1312 388h4v2h-4zM1320 388h2v2h-2zM1324 388h4v2h-4zM1330 388h4v2h-4zM1352 388h2v2h-2zM1358 388h2v2h-2zM1420 388h2v2h-2zM1668 388h2v2h-2zM1668 102h2v2h-2zM1040 344h2v2h-2zM1122 344h2v2h-2zM1138 344h2v2h-2zM1148 344h4v2h-4zM1160 344h4v2h-4zM1170 344h14v2h-14zM1186 344h158v2h-158zM1346 344h6v2h-6zM1356 344h18v2h-18zM1376 344h4v2h-4zM1382 344h2v2h-2zM1386 344h4v2h-4zM1392 344h2v2h-2zM1396 344h6v2h-6zM1404 344h2v2h-2zM1410 344h2v2h-2zM1418 344h4v2h-4zM1424 344h2v2h-2zM1430 344h2v2h-2zM1438 344h2v2h-2zM1462 344h2v2h-2zM1494 344h2v2h-2zM1526 344h2v2h-2zM1668 344h2v2h-2zM1040 346h2v2h-2zM1092 346h2v2h-2zM1120 346h4v2h-4zM1128 346h2v2h-2zM1138 346h2v2h-2zM1154 346h2v2h-2zM1164 346h6v2h-6zM1172 346h6v2h-6zM1182 346h166v2h-166zM1350 346h6v2h-6zM1358 346h2v2h-2zM1362 346h16v2h-16zM1380 346h10v2h-10zM1394 346h6v2h-6zM1402 346h2v2h-2zM1406 346h6v2h-6zM1416 346h4v2h-4zM1424 346h2v2h-2zM1428 346h2v2h-2zM1442 346h2v2h-2zM1520 346h2v2h-2zM1668 346h2v2h-2zM1040 376h2v2h-2zM1058 376h2v2h-2zM1070 376h2v2h-2zM1076 376h2v2h-2zM1082 376h2v2h-2zM1090 376h2v2h-2zM1094 376h2v2h-2zM1098 376h2v2h-2zM1102 376h4v2h-4zM1108 376h2v2h-2zM1112 376h18v2h-18zM1132 376h214v2h-214zM1348 376h12v2h-12zM1362 376h2v2h-2zM1366 376h10v2h-10zM1382 376h4v2h-4zM1388 376h2v2h-2zM1398 376h2v2h-2zM1412 376h2v2h-2zM1668 376h2v2h-2zM1040 370h2v2h-2zM1078 370h2v2h-2zM1082 370h2v2h-2zM1090 370h2v2h-2zM1096 370h2v2h-2zM1102 370h12v2h-12zM1118 370h246v2h-246zM1368 370h8v2h-8zM1380 370h4v2h-4zM1386 370h12v2h-12zM1402 370h2v2h-2zM1418 370h2v2h-2zM1462 370h2v2h-2zM1500 370h2v2h-2zM1668 370h2v2h-2zM1122 342h2v2h-2zM1126 342h2v2h-2zM1132 342h2v2h-2zM1144 342h2v2h-2zM1156 342h2v2h-2zM1162 342h2v2h-2zM1178 342h2v2h-2zM1182 342h2v2h-2zM1186 342h10v2h-10zM1198 342h22v2h-22zM1222 342h22v2h-22zM1246 342h34v2h-34zM1282 342h4v2h-4zM1288 342h26v2h-26zM1316 342h6v2h-6zM1324 342h8v2h-8zM1334 342h8v2h-8zM1344 342h8v2h-8zM1354 342h32v2h-32zM1390 342h10v2h-10zM1402 342h2v2h-2zM1408 342h2v2h-2zM1416 342h2v2h-2zM1424 342h8v2h-8zM1434 342h2v2h-2zM1442 342h2v2h-2zM1454 342h2v2h-2zM1582 342h2v2h-2zM1668 342h2v2h-2zM1536 174h2v2h-2zM1540 174h2v2h-2zM1668 174h2v2h-2zM1122 326h2v2h-2zM1218 326h2v2h-2zM1240 326h6v2h-6zM1258 326h2v2h-2zM1262 326h2v2h-2zM1280 326h6v2h-6zM1298 326h2v2h-2zM1304 326h4v2h-4zM1314 326h2v2h-2zM1318 326h2v2h-2zM1328 326h4v2h-4zM1336 326h4v2h-4zM1342 326h6v2h-6zM1354 326h2v2h-2zM1362 326h2v2h-2zM1366 326h2v2h-2zM1370 326h2v2h-2zM1374 326h2v2h-2zM1386 326h2v2h-2zM1390 326h2v2h-2zM1396 326h4v2h-4zM1406 326h2v2h-2zM1426 326h2v2h-2zM1472 326h2v2h-2zM1536 326h2v2h-2zM1630 326h2v2h-2zM1668 326h2v2h-2zM1040 374h2v2h-2zM1052 374h2v2h-2zM1062 374h4v2h-4zM1068 374h2v2h-2zM1084 374h2v2h-2zM1092 374h4v2h-4zM1100 374h4v2h-4zM1106 374h4v2h-4zM1114 374h232v2h-232zM1348 374h12v2h-12zM1362 374h10v2h-10zM1374 374h2v2h-2zM1378 374h4v2h-4zM1390 374h2v2h-2zM1396 374h2v2h-2zM1400 374h2v2h-2zM1460 374h2v2h-2zM1668 374h2v2h-2zM1040 354h2v2h-2zM1068 354h2v2h-2zM1106 354h2v2h-2zM1118 354h6v2h-6zM1126 354h6v2h-6zM1134 354h238v2h-238zM1374 354h16v2h-16zM1398 354h2v2h-2zM1402 354h2v2h-2zM1408 354h2v2h-2zM1414 354h2v2h-2zM1418 354h2v2h-2zM1422 354h2v2h-2zM1428 354h2v2h-2zM1434 354h2v2h-2zM1440 354h2v2h-2zM1456 354h2v2h-2zM1516 354h2v2h-2zM1668 354h2v2h-2zM1040 366h2v2h-2zM1072 366h2v2h-2zM1076 366h2v2h-2zM1080 366h2v2h-2zM1092 366h2v2h-2zM1098 366h10v2h-10zM1110 366h250v2h-250zM1362 366h28v2h-28zM1392 366h6v2h-6zM1400 366h4v2h-4zM1410 366h2v2h-2zM1420 366h2v2h-2zM1454 366h2v2h-2zM1668 366h2v2h-2zM1040 340h2v2h-2zM1122 340h2v2h-2zM1128 340h2v2h-2zM1150 340h2v2h-2zM1158 340h2v2h-2zM1166 340h2v2h-2zM1174 340h14v2h-14zM1190 340h6v2h-6zM1198 340h6v2h-6zM1206 340h2v2h-2zM1210 340h6v2h-6zM1220 340h2v2h-2zM1224 340h10v2h-10zM1236 340h4v2h-4zM1242 340h38v2h-38zM1282 340h2v2h-2zM1286 340h22v2h-22zM1310 340h2v2h-2zM1314 340h2v2h-2zM1318 340h14v2h-14zM1334 340h10v2h-10zM1346 340h18v2h-18zM1366 340h2v2h-2zM1372 340h2v2h-2zM1376 340h4v2h-4zM1384 340h2v2h-2zM1388 340h6v2h-6zM1396 340h4v2h-4zM1414 340h2v2h-2zM1422 340h2v2h-2zM1430 340h2v2h-2zM1440 340h2v2h-2zM1444 340h2v2h-2zM1458 340h2v2h-2zM1520 340h2v2h-2zM1668 340h2v2h-2zM1040 332h2v2h-2zM1122 332h2v2h-2zM1178 332h6v2h-6zM1204 332h2v2h-2zM1220 332h2v2h-2zM1228 332h2v2h-2zM1242 332h2v2h-2zM1246 332h4v2h-4zM1256 332h10v2h-10zM1268 332h2v2h-2zM1272 332h2v2h-2zM1276 332h2v2h-2zM1280 332h2v2h-2zM1284 332h8v2h-8zM1294 332h2v2h-2zM1302 332h4v2h-4zM1308 332h6v2h-6zM1316 332h2v2h-2zM1320 332h12v2h-12zM1334 332h2v2h-2zM1338 332h2v2h-2zM1350 332h2v2h-2zM1354 332h10v2h-10zM1366 332h2v2h-2zM1378 332h2v2h-2zM1382 332h2v2h-2zM1388 332h2v2h-2zM1394 332h2v2h-2zM1402 332h2v2h-2zM1422 332h2v2h-2zM1426 332h4v2h-4zM1432 332h2v2h-2zM1446 332h4v2h-4zM1458 332h2v2h-2zM1668 332h2v2h-2zM1040 358h4v2h-4zM1072 358h2v2h-2zM1078 358h4v2h-4zM1086 358h2v2h-2zM1092 358h2v2h-2zM1096 358h2v2h-2zM1114 358h264v2h-264zM1380 358h18v2h-18zM1400 358h2v2h-2zM1406 358h2v2h-2zM1410 358h2v2h-2zM1420 358h2v2h-2zM1434 358h2v2h-2zM1470 358h2v2h-2zM1476 358h2v2h-2zM1514 358h2v2h-2zM1554 358h2v2h-2zM1668 358h2v2h-2zM1040 390h2v2h-2zM1092 390h2v2h-2zM1096 390h2v2h-2zM1102 390h2v2h-2zM1106 390h6v2h-6zM1120 390h4v2h-4zM1126 390h4v2h-4zM1136 390h2v2h-2zM1142 390h2v2h-2zM1148 390h6v2h-6zM1156 390h4v2h-4zM1164 390h4v2h-4zM1170 390h2v2h-2zM1174 390h24v2h-24zM1200 390h12v2h-12zM1214 390h2v2h-2zM1220 390h12v2h-12zM1234 390h4v2h-4zM1240 390h2v2h-2zM1244 390h10v2h-10zM1260 390h8v2h-8zM1270 390h2v2h-2zM1280 390h4v2h-4zM1290 390h4v2h-4zM1296 390h4v2h-4zM1306 390h2v2h-2zM1310 390h2v2h-2zM1314 390h2v2h-2zM1318 390h2v2h-2zM1322 390h2v2h-2zM1332 390h2v2h-2zM1668 390h2v2h-2zM1122 314h2v2h-2zM1262 314h2v2h-2zM1286 314h2v2h-2zM1402 314h2v2h-2zM1434 314h2v2h-2zM1480 314h2v2h-2zM1552 314h2v2h-2zM1632 314h2v2h-2zM1668 314h2v2h-2zM1040 350h2v2h-2zM1092 350h2v2h-2zM1106 350h4v2h-4zM1120 350h8v2h-8zM1134 350h4v2h-4zM1142 350h2v2h-2zM1148 350h2v2h-2zM1152 350h2v2h-2zM1156 350h6v2h-6zM1164 350h12v2h-12zM1178 350h160v2h-160zM1340 350h24v2h-24zM1366 350h16v2h-16zM1384 350h8v2h-8zM1394 350h2v2h-2zM1398 350h2v2h-2zM1404 350h2v2h-2zM1412 350h2v2h-2zM1416 350h4v2h-4zM1428 350h2v2h-2zM1440 350h4v2h-4zM1474 350h2v2h-2zM1492 350h2v2h-2zM1502 350h2v2h-2zM1562 350h2v2h-2zM1624 350h2v2h-2zM1668 350h2v2h-2zM1118 338h2v2h-2zM1122 338h2v2h-2zM1174 338h2v2h-2zM1190 338h2v2h-2zM1196 338h2v2h-2zM1200 338h2v2h-2zM1206 338h2v2h-2zM1216 338h6v2h-6zM1228 338h6v2h-6zM1236 338h12v2h-12zM1250 338h2v2h-2zM1258 338h2v2h-2zM1262 338h8v2h-8zM1272 338h20v2h-20zM1294 338h12v2h-12zM1310 338h8v2h-8zM1320 338h24v2h-24zM1348 338h8v2h-8zM1358 338h2v2h-2zM1362 338h16v2h-16zM1380 338h4v2h-4zM1390 338h2v2h-2zM1394 338h6v2h-6zM1412 338h2v2h-2zM1422 338h2v2h-2zM1438 338h8v2h-8zM1448 338h2v2h-2zM1454 338h4v2h-4zM1462 338h2v2h-2zM1490 338h2v2h-2zM1668 338h2v2h-2zM1040 364h2v2h-2zM1080 364h2v2h-2zM1086 364h2v2h-2zM1090 364h4v2h-4zM1096 364h2v2h-2zM1100 364h2v2h-2zM1106 364h32v2h-32zM1140 364h214v2h-214zM1356 364h8v2h-8zM1366 364h36v2h-36zM1404 364h4v2h-4zM1410 364h2v2h-2zM1414 364h2v2h-2zM1424 364h2v2h-2zM1478 364h2v2h-2zM1488 364h2v2h-2zM1598 364h2v2h-2zM1668 364h2v2h-2zM1040 382h2v2h-2zM1068 382h2v2h-2zM1076 382h2v2h-2zM1082 382h2v2h-2zM1088 382h4v2h-4zM1094 382h4v2h-4zM1102 382h2v2h-2zM1106 382h4v2h-4zM1112 382h2v2h-2zM1116 382h4v2h-4zM1122 382h20v2h-20zM1144 382h140v2h-140zM1286 382h12v2h-12zM1300 382h6v2h-6zM1310 382h2v2h-2zM1314 382h8v2h-8zM1324 382h4v2h-4zM1330 382h2v2h-2zM1336 382h4v2h-4zM1350 382h4v2h-4zM1356 382h4v2h-4zM1368 382h4v2h-4zM1388 382h2v2h-2zM1396 382h2v2h-2zM1400 382h2v2h-2zM1604 382h2v2h-2zM1668 382h2v2h-2zM1040 360h2v2h-2zM1050 360h2v2h-2zM1084 360h2v2h-2zM1096 360h2v2h-2zM1102 360h2v2h-2zM1106 360h276v2h-276zM1384 360h12v2h-12zM1398 360h2v2h-2zM1402 360h4v2h-4zM1410 360h8v2h-8zM1422 360h2v2h-2zM1464 360h2v2h-2zM1668 360h2v2h-2zM1040 380h2v2h-2zM1076 380h8v2h-8zM1086 380h4v2h-4zM1092 380h4v2h-4zM1098 380h8v2h-8zM1114 380h190v2h-190zM1306 380h6v2h-6zM1314 380h34v2h-34zM1350 380h2v2h-2zM1356 380h4v2h-4zM1362 380h4v2h-4zM1372 380h2v2h-2zM1404 380h2v2h-2zM1412 380h2v2h-2zM1416 380h2v2h-2zM1464 380h2v2h-2zM1512 380h2v2h-2zM1668 380h2v2h-2zM1658 186h2v2h-2zM1040 372h2v2h-2zM1064 372h2v2h-2zM1082 372h2v2h-2zM1088 372h2v2h-2zM1094 372h2v2h-2zM1100 372h2v2h-2zM1104 372h12v2h-12zM1118 372h204v2h-204zM1324 372h30v2h-30zM1358 372h4v2h-4zM1364 372h6v2h-6zM1376 372h4v2h-4zM1388 372h6v2h-6zM1400 372h4v2h-4zM1422 372h2v2h-2zM1440 372h2v2h-2zM1444 372h2v2h-2zM1586 372h2v2h-2zM1668 372h2v2h-2zM1040 384h2v2h-2zM1076 384h6v2h-6zM1084 384h2v2h-2zM1088 384h2v2h-2zM1092 384h2v2h-2zM1100 384h2v2h-2zM1108 384h2v2h-2zM1114 384h2v2h-2zM1122 384h10v2h-10zM1134 384h20v2h-20zM1156 384h146v2h-146zM1304 384h18v2h-18zM1324 384h2v2h-2zM1330 384h2v2h-2zM1336 384h2v2h-2zM1340 384h2v2h-2zM1348 384h2v2h-2zM1358 384h2v2h-2zM1370 384h2v2h-2zM1374 384h2v2h-2zM1668 384h2v2h-2zM1668 128h2v2h-2zM1224 272h2v2h-2zM1408 272h2v2h-2zM1430 272h2v2h-2zM1668 272h2v2h-2zM1040 336h2v2h-2zM1154 336h2v2h-2zM1158 336h2v2h-2zM1214 336h4v2h-4zM1220 336h2v2h-2zM1224 336h2v2h-2zM1230 336h2v2h-2zM1236 336h8v2h-8zM1252 336h4v2h-4zM1258 336h12v2h-12zM1272 336h6v2h-6zM1280 336h4v2h-4zM1286 336h4v2h-4zM1296 336h8v2h-8zM1310 336h2v2h-2zM1314 336h4v2h-4zM1320 336h8v2h-8zM1330 336h4v2h-4zM1336 336h2v2h-2zM1342 336h2v2h-2zM1348 336h4v2h-4zM1354 336h8v2h-8zM1366 336h8v2h-8zM1376 336h2v2h-2zM1380 336h2v2h-2zM1384 336h2v2h-2zM1388 336h2v2h-2zM1392 336h2v2h-2zM1398 336h2v2h-2zM1406 336h2v2h-2zM1424 336h4v2h-4zM1430 336h2v2h-2zM1434 336h2v2h-2zM1444 336h2v2h-2zM1466 336h2v2h-2zM1520 336h2v2h-2zM1668 336h2v2h-2zM1040 392h2v2h-2zM1050 392h2v2h-2zM1082 392h2v2h-2zM1086 392h2v2h-2zM1096 392h4v2h-4zM1102 392h2v2h-2zM1122 392h2v2h-2zM1126 392h2v2h-2zM1136 392h2v2h-2zM1144 392h2v2h-2zM1148 392h2v2h-2zM1154 392h2v2h-2zM1158 392h8v2h-8zM1168 392h4v2h-4zM1174 392h6v2h-6zM1182 392h2v2h-2zM1192 392h12v2h-12zM1206 392h4v2h-4zM1212 392h4v2h-4zM1218 392h2v2h-2zM1222 392h4v2h-4zM1228 392h4v2h-4zM1234 392h14v2h-14zM1254 392h6v2h-6zM1262 392h4v2h-4zM1268 392h2v2h-2zM1272 392h2v2h-2zM1278 392h2v2h-2zM1292 392h4v2h-4zM1314 392h2v2h-2zM1320 392h2v2h-2zM1348 392h2v2h-2zM1668 392h2v2h-2zM1040 394h2v2h-2zM1084 394h4v2h-4zM1096 394h2v2h-2zM1108 394h2v2h-2zM1122 394h2v2h-2zM1126 394h2v2h-2zM1150 394h2v2h-2zM1154 394h2v2h-2zM1160 394h2v2h-2zM1166 394h2v2h-2zM1172 394h4v2h-4zM1180 394h6v2h-6zM1190 394h2v2h-2zM1194 394h2v2h-2zM1200 394h6v2h-6zM1210 394h4v2h-4zM1218 394h4v2h-4zM1226 394h2v2h-2zM1230 394h4v2h-4zM1238 394h4v2h-4zM1248 394h4v2h-4zM1254 394h8v2h-8zM1270 394h2v2h-2zM1278 394h2v2h-2zM1284 394h2v2h-2zM1302 394h2v2h-2zM1320 394h2v2h-2zM1382 394h2v2h-2zM1668 394h2v2h-2zM1122 324h2v2h-2zM1212 324h2v2h-2zM1254 324h2v2h-2zM1258 324h2v2h-2zM1296 324h2v2h-2zM1320 324h2v2h-2zM1326 324h2v2h-2zM1332 324h2v2h-2zM1340 324h2v2h-2zM1348 324h4v2h-4zM1356 324h4v2h-4zM1378 324h4v2h-4zM1390 324h2v2h-2zM1426 324h2v2h-2zM1466 324h2v2h-2zM1040 396h2v2h-2zM1086 396h2v2h-2zM1122 396h4v2h-4zM1130 396h6v2h-6zM1148 396h2v2h-2zM1170 396h2v2h-2zM1182 396h2v2h-2zM1186 396h2v2h-2zM1190 396h4v2h-4zM1202 396h2v2h-2zM1220 396h6v2h-6zM1228 396h2v2h-2zM1238 396h2v2h-2zM1242 396h2v2h-2zM1250 396h2v2h-2zM1254 396h2v2h-2zM1258 396h4v2h-4zM1266 396h2v2h-2zM1282 396h2v2h-2zM1364 396h2v2h-2zM1668 396h2v2h-2zM1258 302h2v2h-2zM1318 302h2v2h-2zM1404 302h2v2h-2zM1668 302h2v2h-2zM1668 82h2v2h-2zM1040 352h2v2h-2zM1084 352h2v2h-2zM1104 352h6v2h-6zM1114 352h10v2h-10zM1126 352h18v2h-18zM1148 352h204v2h-204zM1354 352h8v2h-8zM1364 352h20v2h-20zM1386 352h6v2h-6zM1396 352h8v2h-8zM1406 352h10v2h-10zM1418 352h2v2h-2zM1424 352h2v2h-2zM1428 352h2v2h-2zM1440 352h4v2h-4zM1452 352h4v2h-4zM1668 352h2v2h-2zM1040 408h2v2h-2zM1120 408h4v2h-4zM1172 408h2v2h-2zM1192 408h2v2h-2zM1260 408h2v2h-2zM1040 330h2v2h-2zM1122 330h2v2h-2zM1182 330h2v2h-2zM1222 330h2v2h-2zM1234 330h2v2h-2zM1248 330h4v2h-4zM1254 330h2v2h-2zM1258 330h6v2h-6zM1268 330h2v2h-2zM1272 330h2v2h-2zM1278 330h2v2h-2zM1284 330h2v2h-2zM1288 330h8v2h-8zM1302 330h6v2h-6zM1310 330h2v2h-2zM1320 330h2v2h-2zM1326 330h4v2h-4zM1334 330h2v2h-2zM1338 330h12v2h-12zM1354 330h2v2h-2zM1358 330h2v2h-2zM1364 330h6v2h-6zM1386 330h6v2h-6zM1404 330h4v2h-4zM1410 330h2v2h-2zM1422 330h2v2h-2zM1474 330h2v2h-2zM1478 330h2v2h-2zM1484 330h2v2h-2zM1506 330h2v2h-2zM1520 330h2v2h-2zM1668 330h2v2h-2zM1040 386h2v2h-2zM1050 386h4v2h-4zM1072 386h2v2h-2zM1084 386h4v2h-4zM1092 386h6v2h-6zM1102 386h2v2h-2zM1106 386h2v2h-2zM1118 386h6v2h-6zM1126 386h4v2h-4zM1132 386h6v2h-6zM1140 386h6v2h-6zM1148 386h16v2h-16zM1166 386h14v2h-14zM1182 386h98v2h-98zM1282 386h4v2h-4zM1290 386h12v2h-12zM1304 386h8v2h-8zM1314 386h14v2h-14zM1332 386h2v2h-2zM1340 386h2v2h-2zM1344 386h2v2h-2zM1356 386h4v2h-4zM1374 386h2v2h-2zM1668 386h2v2h-2zM1150 334h2v2h-2zM1200 334h2v2h-2zM1210 334h2v2h-2zM1214 334h4v2h-4zM1226 334h2v2h-2zM1238 334h2v2h-2zM1242 334h2v2h-2zM1246 334h6v2h-6zM1256 334h6v2h-6zM1266 334h14v2h-14zM1282 334h8v2h-8zM1292 334h2v2h-2zM1300 334h2v2h-2zM1304 334h2v2h-2zM1310 334h8v2h-8zM1320 334h2v2h-2zM1324 334h6v2h-6zM1334 334h2v2h-2zM1348 334h6v2h-6zM1356 334h6v2h-6zM1364 334h10v2h-10zM1378 334h2v2h-2zM1382 334h2v2h-2zM1398 334h2v2h-2zM1404 334h6v2h-6zM1424 334h2v2h-2zM1436 334h2v2h-2zM1464 334h2v2h-2zM1512 334h2v2h-2zM1572 334h2v2h-2zM1576 334h2v2h-2zM1586 334h2v2h-2zM1668 334h2v2h-2zM1182 318h2v2h-2zM1272 318h2v2h-2zM1284 318h2v2h-2zM1288 318h2v2h-2zM1312 318h4v2h-4zM1320 318h2v2h-2zM1348 318h2v2h-2zM1386 318h2v2h-2zM1416 318h4v2h-4zM1456 318h2v2h-2zM1460 318h2v2h-2zM1604 318h2v2h-2zM1668 318h2v2h-2zM1122 328h2v2h-2zM1182 328h4v2h-4zM1216 328h2v2h-2zM1220 328h2v2h-2zM1234 328h2v2h-2zM1256 328h2v2h-2zM1282 328h2v2h-2zM1296 328h2v2h-2zM1300 328h4v2h-4zM1306 328h2v2h-2zM1310 328h2v2h-2zM1314 328h2v2h-2zM1318 328h6v2h-6zM1334 328h2v2h-2zM1340 328h2v2h-2zM1358 328h2v2h-2zM1376 328h2v2h-2zM1392 328h2v2h-2zM1402 328h6v2h-6zM1424 328h2v2h-2zM1458 328h2v2h-2zM1478 328h2v2h-2zM1494 328h2v2h-2zM1530 328h2v2h-2zM1668 328h2v2h-2zM1350 292h2v2h-2zM1618 292h2v2h-2zM1122 248h2v2h-2zM1370 248h2v2h-2zM1466 248h2v2h-2zM1040 416h2v2h-2zM1394 278h2v2h-2zM1402 278h2v2h-2zM1570 278h2v2h-2zM1668 278h2v2h-2zM1256 316h4v2h-4zM1274 316h2v2h-2zM1314 316h4v2h-4zM1322 316h2v2h-2zM1348 316h2v2h-2zM1358 316h2v2h-2zM1426 316h2v2h-2zM1456 316h2v2h-2zM1462 316h2v2h-2zM1484 316h2v2h-2zM1500 316h2v2h-2zM1518 316h2v2h-2zM1668 316h2v2h-2zM1322 258h2v2h-2zM1350 258h2v2h-2zM1358 258h2v2h-2zM1364 258h2v2h-2zM1668 258h2v2h-2zM1258 256h2v2h-2zM1668 256h2v2h-2zM1040 442h2v2h-2zM1280 284h2v2h-2zM1298 284h2v2h-2zM1466 284h2v2h-2zM1424 208h2v2h-2zM1506 208h2v2h-2zM1524 208h2v2h-2zM1668 208h2v2h-2zM1040 322h2v2h-2zM1260 322h2v2h-2zM1268 322h2v2h-2zM1274 322h2v2h-2zM1302 322h2v2h-2zM1330 322h2v2h-2zM1334 322h2v2h-2zM1340 322h2v2h-2zM1368 322h2v2h-2zM1374 322h2v2h-2zM1378 322h2v2h-2zM1412 322h2v2h-2zM1430 322h2v2h-2zM1490 322h2v2h-2zM1494 322h2v2h-2zM1500 204h2v2h-2zM1610 204h2v2h-2zM1404 216h2v2h-2zM1442 216h2v2h-2zM1366 308h2v2h-2zM1394 308h2v2h-2zM1432 308h2v2h-2zM1446 308h2v2h-2zM1668 308h2v2h-2zM1668 42h2v2h-2zM1302 252h2v2h-2zM1388 252h2v2h-2zM1434 252h2v2h-2zM1040 422h2v2h-2zM1182 422h2v2h-2zM1122 424h2v2h-2zM1122 312h2v2h-2zM1250 312h2v2h-2zM1296 312h2v2h-2zM1324 312h2v2h-2zM1348 312h2v2h-2zM1352 312h2v2h-2zM1372 312h4v2h-4zM1440 312h2v2h-2zM1456 312h4v2h-4zM1462 312h2v2h-2zM1668 312h2v2h-2zM1668 172h2v2h-2zM1370 286h2v2h-2zM1398 286h2v2h-2zM1652 286h2v2h-2zM1122 124h2v2h-2zM1258 124h2v2h-2zM1640 124h2v2h-2zM1668 126h2v2h-2zM1432 214h2v2h-2zM1040 398h2v2h-2zM1114 398h2v2h-2zM1120 398h4v2h-4zM1178 398h2v2h-2zM1202 398h2v2h-2zM1210 398h2v2h-2zM1224 398h2v2h-2zM1234 398h2v2h-2zM1246 398h2v2h-2zM1258 398h2v2h-2zM1266 398h2v2h-2zM1300 398h2v2h-2zM1332 398h2v2h-2zM1668 398h2v2h-2zM1258 266h2v2h-2zM1468 266h2v2h-2zM1586 266h2v2h-2zM1182 306h2v2h-2zM1358 306h2v2h-2zM1398 306h2v2h-2zM1432 306h2v2h-2zM1476 306h2v2h-2zM1480 306h2v2h-2zM1504 306h2v2h-2zM1644 306h2v2h-2zM1668 306h2v2h-2zM1246 268h2v2h-2zM1654 268h2v2h-2zM1668 268h2v2h-2zM1040 404h2v2h-2zM1156 404h2v2h-2zM1182 404h2v2h-2zM1214 404h2v2h-2zM1278 404h2v2h-2zM1122 298h2v2h-2zM1342 298h2v2h-2zM1404 298h2v2h-2zM1530 298h2v2h-2zM1668 298h2v2h-2zM1122 152h2v2h-2zM1636 152h2v2h-2zM1668 40h2v2h-2zM1330 250h2v2h-2zM1360 250h2v2h-2zM1448 250h2v2h-2zM1668 66h2v2h-2zM1122 262h2v2h-2zM1382 262h2v2h-2zM1614 262h2v2h-2zM1668 262h2v2h-2zM1668 288h2v2h-2zM1040 426h2v2h-2zM1182 426h2v2h-2zM1122 428h2v2h-2zM1384 242h2v2h-2zM1668 242h2v2h-2zM1358 218h2v2h-2zM1524 218h2v2h-2zM1358 104h2v2h-2zM1532 194h2v2h-2zM1668 194h2v2h-2zM1358 130h2v2h-2zM1668 130h2v2h-2zM1466 176h2v2h-2zM1524 176h2v2h-2zM1668 176h2v2h-2zM1234 310h2v2h-2zM1348 310h2v2h-2zM1388 310h2v2h-2zM1450 310h2v2h-2zM1454 310h2v2h-2zM1474 310h2v2h-2zM1668 310h2v2h-2zM1552 238h2v2h-2zM1040 320h2v2h-2zM1122 320h2v2h-2zM1208 320h2v2h-2zM1252 320h2v2h-2zM1280 320h2v2h-2zM1284 320h2v2h-2zM1296 320h2v2h-2zM1334 320h4v2h-4zM1346 320h2v2h-2zM1370 320h2v2h-2zM1668 320h2v2h-2zM1668 156h2v2h-2zM1040 182h2v2h-2zM1182 190h2v2h-2zM1482 190h2v2h-2zM1122 236h2v2h-2zM1182 236h2v2h-2zM1410 236h2v2h-2zM1524 236h2v2h-2zM1668 236h2v2h-2zM1668 70h2v2h-2zM1320 240h2v2h-2zM1530 240h2v2h-2zM1638 240h2v2h-2zM1358 220h2v2h-2zM1216 296h2v2h-2zM1266 296h2v2h-2zM1372 296h2v2h-2zM1336 246h2v2h-2zM1668 246h2v2h-2zM1122 226h2v2h-2zM1668 226h2v2h-2zM1448 282h2v2h-2zM1460 282h2v2h-2zM1268 300h2v2h-2zM1314 300h2v2h-2zM1384 300h2v2h-2zM1122 150h2v2h-2zM1524 180h2v2h-2zM1576 180h2v2h-2zM1668 180h2v2h-2zM1040 402h2v2h-2zM1182 402h2v2h-2zM1190 402h2v2h-2zM1226 402h2v2h-2zM1250 402h2v2h-2zM1668 402h2v2h-2zM1668 160h2v2h-2zM1468 228h2v2h-2zM1328 280h2v2h-2zM1378 280h2v2h-2zM1668 280h2v2h-2zM1266 304h2v2h-2zM1354 304h2v2h-2zM1386 304h2v2h-2zM1448 304h2v2h-2zM1534 304h4v2h-4zM1668 68h2v2h-2zM1260 264h2v2h-2zM1358 264h2v2h-2zM1564 264h2v2h-2zM1668 94h2v2h-2zM1662 198h2v2h-2zM1410 244h2v2h-2zM1478 244h2v2h-2zM1668 244h2v2h-2zM1182 224h2v2h-2zM1668 224h2v2h-2zM1588 178h2v2h-2zM1668 178h2v2h-2zM1520 260h2v2h-2zM1668 158h2v2h-2zM1668 112h2v2h-2zM1668 92h2v2h-2zM1668 118h2v2h-2zM1390 212h2v2h-2zM1040 406h2v2h-2zM1358 406h2v2h-2zM1510 166h2v2h-2zM1248 294h2v2h-2zM1258 294h2v2h-2zM1330 294h2v2h-2zM1664 294h2v2h-2zM1668 294h2v2h-2zM1596 162h2v2h-2zM1040 144h2v2h-2zM1258 200h2v2h-2zM1668 202h2v2h-2zM1040 412h2v2h-2zM1624 134h2v2h-2zM1668 116h2v2h-2zM1668 142h2v2h-2zM1182 168h2v2h-2zM1668 168h2v2h-2zM1182 410h2v2h-2zM1258 410h2v2h-2zM1358 410h2v2h-2zM1040 234h2v2h-2zM1668 50h2v2h-2zM1040 188h2v2h-2zM1420 222h2v2h-2zM1668 76h2v2h-2zM1668 206h2v2h-2zM1404 210h2v2h-2zM1668 210h2v2h-2zM1122 184h2v2h-2zM1258 184h2v2h-2zM1508 184h2v2h-2zM1122 136h2v2h-2zM1668 120h2v2h-2zM1668 74h2v2h-2zM1668 146h2v2h-2zM1668 100h2v2h-2zM1040 192h2v2h-2zM1668 80h2v2h-2zM1040 414h2v2h-2zM1332 270h2v2h-2zM1668 164h2v2h-2zM1292 274h2v2h-2zM1668 170h2v2h-2zM1668 254h2v2h-2zM1668 38h2v2h-2zM1358 122h2v2h-2z" fill="#8a8a8a"/><path d="M1041 147h0m0 3h0m0 1h0m0 7h0m0 3h0m0 2h0m0 2h0m0 8h0m0 2h0m0 3h0m0 4h0m0 3h0m0 2h0m0 17h0m0 5h0m0 1h0m0 5h0m0 6h0m0 1h0m0 5h0m0 11h0m0 5h0m0 3h0m0 1h0m0 2h0m0 5h0m0 2h0m0 4h0m0 1h0m0 3h0m0 2h0m0 4h0m0 2h0m0 5h0m0 2h0m0 1h0m0 1h0m0 5h0m0 8h0m0 7h0m0 1h0m0 5h0m0 11h0m0 8h0m0 3h0m0 9h0m0 5h0m0 1h0m0 5h0m0 71h0m0 1h0m0 1h0m0 2h0m0 2h0m0 4h0m0 2h0m0 7h0m0 1h0m0 7h0m1-297h0m0 20h0m0 46h0m0 2h0m0 53h0m0 16h0m0 32h0m0 8h0m0 12h0m0 45h0m0 36h0m1-162h0m0 96h0m0 16h0m0 7h0m0 1h0m0 14h0m1-37h0m0 21h0m0 5h0m0 4h0m0 1h0m0 14h0m1-57h0m0 7h0m0 17h0m0 6h0m0 14h0m0 2h0m1-332h0m0 307h0m0 10h0m0 19h0m0 8h0m1-95h0m0 45h0m0 7h0m0 16h0m0 2h0m0 5h0m0 4h0m0 3h0m0 1h0m1-318h0m0 290h0m0 8h0m0 3h0m0 6h0m0 4h0m0 13h0m0 7h0m1-53h0m0 8h0m0 16h0m0 1h0m0 1h0m0 28h0m0 11h0m1-71h0m0 7h0m0 8h0m0 5h0m0 1h0m0 7h0m0 6h0m0 4h0m0 5h0m0 8h0m1-17h0m0 4h0m0 19h0m0 5h0m0 9h0m1-55h0m0 9h0m0 9h0m0 1h0m0 2h0m0 3h0m1-25h0m0 3h0m0 2h0m0 8h0m0 11h0m0 27h0m1-58h0m0 9h0m0 3h0m0 15h0m0 1h0m0 5h0m0 1h0m1-22h0m0 3h0m0 1h0m0 2h0m0 2h0m0 12h0m0 17h0m1-42h0m0 1h0m0 12h0m0 6h0m0 1h0m0 5h0m0 6h0m0 2h0m0 31h0m1-74h0m0 5h0m0 3h0m0 5h0m0 8h0m0 4h0m0 8h0m0 26h0m0 5h0m1-47h0m0 4h0m0 19h0m0 24h0m0 4h0m1-77h0m0 9h0m0 9h0m0 3h0m0 21h0m0 8h0m0 7h0m0 1h0m0 12h0m1-70h0m0 11h0m0 9h0m0 5h0m0 9h0m0 6h0m0 2h0m0 26h0m0 12h0m0 16h0m1-363h0m0 256h0m0 24h0m0 11h0m0 3h0m0 2h0m0 2h0m0 3h0m0 1h0m0 8h0m0 3h0m0 5h0m1-35h0m0 9h0m0 3h0m0 2h0m0 9h0m0 1h0m0 2h0m0 17h0m0 8h0m1-54h0m0 3h0m0 9h0m0 1h0m0 1h0m0 8h0m0 2h0m0 2h0m0 4h0m0 6h0m0 1h0m0 1h0m0 4h0m0 3h0m0 1h0m0 11h0m1-65h0m0 49h0m0 31h0m0 8h0m1-140h0m0 47h0m0 25h0m0 1h0m0 17h0m0 4h0m0 1h0m0 1h0m0 1h0m0 1h0m0 1h0m0 2h0m0 3h0m0 3h0m1-30h0m0 6h0m0 9h0m0 1h0m0 5h0m0 13h0m0 1h0m1-51h0m0 19h0m0 5h0m0 6h0m0 3h0m0 4h0m0 2h0m0 5h0m0 2h0m0 10h0m1-356h0m0 221h0m0 76h0m0 1h0m0 17h0m0 6h0m0 3h0m0 2h0m0 4h0m0 3h0m0 4h0m0 4h0m0 12h0m0 24h0m0 17h0m1-101h0m0 7h0m0 8h0m0 3h0m0 4h0m0 14h0m0 6h0m0 5h0m0 15h0m1-57h0m0 6h0m0 7h0m0 3h0m0 16h0m0 4h0m0 1h0m0 14h0m0 22h0m1-74h0m0 17h0m0 7h0m0 7h0m0 5h0m0 5h0m0 24h0m1-89h0m0 14h0m0 12h0m0 12h0m0 3h0m0 5h0m0 6h0m0 2h0m0 9h0m1-156h0m0 73h0m0 17h0m0 26h0m0 14h0m0 2h0m0 7h0m0 1h0m0 3h0m0 2h0m0 3h0m0 8h0m0 4h0m0 8h0m1-280h0m0 152h0m0 31h0m0 36h0m0 22h0m0 3h0m0 9h0m0 4h0m0 5h0m0 2h0m0 11h0m0 1h0m0 1h0m0 3h0m0 13h0m1-86h0m0 16h0m0 3h0m0 5h0m0 6h0m0 7h0m0 1h0m0 1h0m0 2h0m0 1h0m0 5h0m0 6h0m0 4h0m0 3h0m0 11h0m0 7h0m1-60h0m0 5h0m0 8h0m0 4h0m0 6h0m0 6h0m0 1h0m0 1h0m0 4h0m0 11h0m0 4h0m0 4h0m0 7h0m1-53h0m0 9h0m0 5h0m0 8h0m0 11h0m0 2h0m0 6h0m1-215h0m0 151h0m0 31h0m0 25h0m0 2h0m0 1h0m0 3h0m0 1h0m0 20h0m1-197h0m0 131h0m0 3h0m0 3h0m0 7h0m0 2h0m0 2h0m0 1h0m0 9h0m0 2h0m0 6h0m0 5h0m0 3h0m0 1h0m0 5h0m0 5h0m0 17h0m1-136h0m0 57h0m0 9h0m0 7h0m0 17h0m0 2h0m0 2h0m0 1h0m0 12h0m0 3h0m0 6h0m0 2h0m0 10h0m0 20h0m0 5h0m1-85h0m0 3h0m0 3h0m0 4h0m0 11h0m0 6h0m0 9h0m0 1h0m0 2h0m0 3h0m0 8h0m0 5h0m0 14h0m1-75h0m0 9h0m0 5h0m0 1h0m0 3h0m0 2h0m0 3h0m0 2h0m0 5h0m0 9h0m0 3h0m0 7h0m0 22h0m1-109h0m0 23h0m0 12h0m0 6h0m0 6h0m0 7h0m0 2h0m0 3h0m0 2h0m0 18h0m0 20h0m1-148h0m0 91h0m0 6h0m0 22h0m0 1h0m0 6h0m0 26h0m1-259h0m0 200h0m0 3h0m0 2h0m0 2h0m0 1h0m0 7h0m0 1h0m0 3h0m0 4h0m0 16h0m0 1h0m0 1h0m0 5h0m0 2h0m0 13h0m0 7h0m1-274h0m0 195h0m0 19h0m0 2h0m0 3h0m0 5h0m0 1h0m0 3h0m0 4h0m0 6h0m0 1h0m0 4h0m0 4h0m0 9h0m1-125h0m0 23h0m0 49h0m0 13h0m0 8h0m0 4h0m0 9h0m0 7h0m0 2h0m0 11h0m0 2h0m0 11h0m1-62h0m0 4h0m0 10h0m0 4h0m0 2h0m0 2h0m0 2h0m0 9h0m0 7h0m0 2h0m1-120h0m0 36h0m0 22h0m0 25h0m0 1h0m0 3h0m0 4h0m0 2h0m0 7h0m0 2h0m0 11h0m0 6h0m1-239h0m0 150h0m0 52h0m0 4h0m0 7h0m0 7h0m0 7h0m0 5h0m0 23h0m0 11h0m0 12h0m1-208h0m0 124h0m0 9h0m0 1h0m0 16h0m0 1h0m0 5h0m0 4h0m0 12h0m0 10h0m1-146h0m0 80h0m0 11h0m0 4h0m0 2h0m0 3h0m0 1h0m0 12h0m0 28h0m1-62h0m0 4h0m0 10h0m0 4h0m0 5h0m0 14h0m0 5h0m0 13h0m0 1h0m0 5h0m0 8h0m1-346h0m0 211h0m0 10h0m0 51h0m0 18h0m0 8h0m0 3h0m0 19h0m0 5h0m0 23h0m1-144h0m0 55h0m0 21h0m0 9h0m0 1h0m0 3h0m0 2h0m0 4h0m0 7h0m0 9h0m0 8h0m0 3h0m1-60h0m0 13h0m0 13h0m0 11h0m0 2h0m0 3h0m0 3h0m0 4h0m0 12h0m0 14h0m1-115h0m0 66h0m0 8h0m0 12h0m0 24h0m1-72h0m0 6h0m0 5h0m0 12h0m0 8h0m0 4h0m0 3h0m0 7h0m0 5h0m0 8h0m0 9h0m0 11h0m0 6h0m0 5h0m1-178h0m0 8h0m0 89h0m0 10h0m0 2h0m0 3h0m0 7h0m0 3h0m0 2h0m0 2h0m0 7h0m0 4h0m0 9h0m0 3h0m0 2h0m0 15h0m0 8h0m1-128h0m0 22h0m0 17h0m0 17h0m0 6h0m0 4h0m0 9h0m0 1h0m0 3h0m0 1h0m0 7h0m0 4h0m0 3h0m0 5h0m0 3h0m0 4h0m0 2h0m0 17h0m0 10h0m1-76h0m0 6h0m0 8h0m0 1h0m0 2h0m0 1h0m0 9h0m0 6h0m0 7h0m0 4h0m0 1h0m1-43h0m0 4h0m0 6h0m0 10h0m0 4h0m0 1h0m0 27h0m0 1h0m0 7h0m0 10h0m1-196h0m0 112h0m0 8h0m0 6h0m0 3h0m0 3h0m0 8h0m0 4h0m0 2h0m0 8h0m0 11h0m0 5h0m0 11h0m0 3h0m0 2h0m0 7h0m1-170h0m0 14h0m0 2h0m0 2h0m0 92h0m0 1h0m0 36h0m0 2h0m0 9h0m1-62h0m0 6h0m0 16h0m0 4h0m0 12h0m0 6h0m0 5h0m0 2h0m0 8h0m0 1h0m0 4h0m0 2h0m0 7h0m1-54h0m0 3h0m0 4h0m0 10h0m0 10h0m0 6h0m0 3h0m0 3h0m0 2h0m0 21h0m1-208h0m0 138h0m0 7h0m0 28h0m0 4h0m0 1h0m0 4h0m0 2h0m0 8h0m1-180h0m0 65h0m0 80h0m0 14h0m0 5h0m0 1h0m0 15h0m0 20h0m1-198h0m0 21h0m0 9h0m0 54h0m0 25h0m0 1h0m0 13h0m0 20h0m0 24h0m0 10h0m1-173h0m0 102h0m0 25h0m0 1h0m0 12h0m0 7h0m0 5h0m0 1h0m0 6h0m0 9h0m1-255h0m0 142h0m0 68h0m0 5h0m0 3h0m0 15h0m0 1h0m0 4h0m0 3h0m0 2h0m0 10h0m0 5h0m0 1h0m0 11h0m1-60h0m0 2h0m0 24h0m0 3h0m0 3h0m0 1h0m0 1h0m0 12h0m0 1h0m1-223h0m0 59h0m0 75h0m0 4h0m0 1h0m0 15h0m0 4h0m0 11h0m0 1h0m0 7h0m0 3h0m0 22h0m0 8h0m0 7h0m0 3h0m0 4h0m1-74h0m0 15h0m0 5h0m0 3h0m0 2h0m0 5h0m0 3h0m0 1h0m0 21h0m0 6h0m0 1h0m0 1h0m0 4h0m0 4h0m0 23h0m0 9h0m1-92h0m0 2h0m0 6h0m0 7h0m0 4h0m0 15h0m0 11h0m0 1h0m0 6h0m0 2h0m0 4h0m0 1h0m0 6h0m0 4h0m0 15h0m1-82h0m0 6h0m0 3h0m0 4h0m0 12h0m0 7h0m0 1h0m0 1h0m0 5h0m1-56h0m0 2h0m0 48h0m0 1h0m0 7h0m0 5h0m0 1h0m0 1h0m0 2h0m0 2h0m0 3h0m0 4h0m0 1h0m0 2h0m0 2h0m0 1h0m1-80h0m0 4h0m0 1h0m0 10h0m0 25h0m0 21h0m0 7h0m0 5h0m0 6h0m1-63h0m0 3h0m0 2h0m0 5h0m0 34h0m0 8h0m0 1h0m0 6h0m0 13h0m1-121h0m0 26h0m0 19h0m0 5h0m0 9h0m0 33h0m0 11h0m0 2h0m0 1h0m0 17h0m0 2h0m1-151h0m0 53h0m0 6h0m0 17h0m0 4h0m0 40h0m0 4h0m0 4h0m0 4h0m0 4h0m0 3h0m0 2h0m1-281h0m0 20h0m0 2h0m0 1h0m0 7h0m0 12h0m0 2h0m0 24h0m0 1h0m0 12h0m0 2h0m0 2h0m0 5h0m0 4h0m0 3h0m0 3h0m0 18h0m0 3h0m0 2h0m0 1h0m0 2h0m0 7h0m0 8h0m0 3h0m0 4h0m0 2h0m0 2h0m0 3h0m0 1h0m0 10h0m0 4h0m0 4h0m0 15h0m0 5h0m0 11h0m0 7h0m0 4h0m0 7h0m0 36h0m0 5h0m0 7h0m0 6h0m0 1h0m0 1h0m0 6h0m0 1h0m0 3h0m0 1h0m0 11h0m0 4h0m0 4h0m0 3h0m1-313h0m0 2h0m0 4h0m0 8h0m0 3h0m0 1h0m0 2h0m0 1h0m0 3h0m0 26h0m0 2h0m0 1h0m0 5h0m0 4h0m0 4h0m0 5h0m0 2h0m0 7h0m0 4h0m0 4h0m0 1h0m0 1h0m0 18h0m0 3h0m0 3h0m0 1h0m0 2h0m0 11h0m0 2h0m0 7h0m0 3h0m0 3h0m0 17h0m0 1h0m0 5h0m0 6h0m0 1h0m0 7h0m0 1h0m0 3h0m0 1h0m0 3h0m0 5h0m0 88h0m0 1h0m0 1h0m0 12h0m0 2h0m0 13h0m0 2h0m1-238h0m0 138h0m0 9h0m0 2h0m0 40h0m0 4h0m0 2h0m0 17h0m0 23h0m1-85h0m0 4h0m0 43h0m0 12h0m0 28h0m1-123h0m0 22h0m0 8h0m0 1h0m0 2h0m0 2h0m0 6h0m0 1h0m0 34h0m0 3h0m1-196h0m0 147h0m0 3h0m0 58h0m0 1h0m0 1h0m0 3h0m0 6h0m0 8h0m1-34h0m0 2h0m0 10h0m0 3h0m0 5h0m1-77h0m0 11h0m0 2h0m0 1h0m0 6h0m0 43h0m0 4h0m0 3h0m1-354h0m0 297h0m0 47h0m0 2h0m0 2h0m1-65h0m0 16h0m0 2h0m0 2h0m0 1h0m0 26h0m0 9h0m0 1h0m0 4h0m0 4h0m0 5h0m0 3h0m1-77h0m0 19h0m0 7h0m0 3h0m0 30h0m0 7h0m0 14h0m1-261h0m0 175h0m0 26h0m0 1h0m0 3h0m0 43h0m0 31h0m1-108h0m0 24h0m0 4h0m0 4h0m0 37h0m0 5h0m1-77h0m0 8h0m0 7h0m0 7h0m0 9h0m0 3h0m0 2h0m0 42h0m0 1h0m0 1h0m1-58h0m0 5h0m0 4h0m0 1h0m0 53h0m0 8h0m1-65h0m0 48h0m0 6h0m0 4h0m0 1h0m0 10h0m0 25h0m1-153h0m0 41h0m0 9h0m0 11h0m0 4h0m0 1h0m0 2h0m0 44h0m0 18h0m0 18h0m1-263h0m0 145h0m0 19h0m0 7h0m0 4h0m0 24h0m0 20h0m0 1h0m0 5h0m0 5h0m0 19h0m1-164h0m0 80h0m0 8h0m0 2h0m0 3h0m0 7h0m0 36h0m0 3h0m0 4h0m0 2h0m1-332h0m0 263h0m0 3h0m0 16h0m0 3h0m0 38h0m0 5h0m0 1h0m0 8h0m0 2h0m0 1h0m0 2h0m0 2h0m0 16h0m1-196h0m0 91h0m0 9h0m0 8h0m0 5h0m0 4h0m0 5h0m0 40h0m0 3h0m0 7h0m0 4h0m0 24h0m1-339h0m0 151h0m0 92h0m0 5h0m0 2h0m0 5h0m0 3h0m0 1h0m0 34h0m0 35h0m1-99h0m0 9h0m0 11h0m0 3h0m0 8h0m0 4h0m0 28h0m0 12h0m0 11h0m0 3h0m0 2h0m0 1h0m1-116h0m0 18h0m0 24h0m0 5h0m0 8h0m0 1h0m0 3h0m0 35h0m0 2h0m0 1h0m0 7h0m0 1h0m0 12h0m1-139h0m0 7h0m0 34h0m0 19h0m0 15h0m0 31h0m0 12h0m0 3h0m0 14h0m1-96h0m0 25h0m0 4h0m0 2h0m0 3h0m0 4h0m0 1h0m0 1h0m0 34h0m0 1h0m0 5h0m0 8h0m0 5h0m0 9h0m1-97h0m0 17h0m0 2h0m0 2h0m0 5h0m0 5h0m0 31h0m0 11h0m0 6h0m0 2h0m0 13h0m0 13h0m1-128h0m0 43h0m0 2h0m0 2h0m0 4h0m0 1h0m1-15h0m0 5h0m0 4h0m0 6h0m0 49h0m1-219h0m0 42h0m0 7h0m0 99h0m0 21h0m0 1h0m0 4h0m0 40h0m0 28h0m1-242h0m0 153h0m0 4h0m0 4h0m0 12h0m0 47h0m1-156h0m0 76h0m0 11h0m0 3h0m0 7h0m0 8h0m0 41h0m0 7h0m0 1h0m0 3h0m0 8h0m0 1h0m1-229h0m0 157h0m0 53h0m0 4h0m0 5h0m0 6h0m0 4h0m0 3h0m0 10h0m1-97h0m0 18h0m0 1h0m0 2h0m0 1h0m0 39h0m0 4h0m0 1h0m0 9h0m0 5h0m0 9h0m0 5h0m1-98h0m0 11h0m0 12h0m0 3h0m0 4h0m0 1h0m0 35h0m0 5h0m0 2h0m0 3h0m0 6h0m0 5h0m0 8h0m1-262h0m0 130h0m0 11h0m0 38h0m0 4h0m0 12h0m0 50h0m1-236h0m0 164h0m0 7h0m0 1h0m0 3h0m0 3h0m0 4h0m0 1h0m0 1h0m0 1h0m0 1h0m0 44h0m0 2h0m0 3h0m0 2h0m0 3h0m0 29h0m1-231h0m0 81h0m0 45h0m0 9h0m0 13h0m0 1h0m0 50h0m0 12h0m0 16h0m1-331h0m0 6h0m0 69h0m0 77h0m0 81h0m0 9h0m0 2h0m0 3h0m0 6h0m0 52h0m0 10h0m0 25h0m1-111h0m0 14h0m0 2h0m0 2h0m0 49h0m0 7h0m0 10h0m0 9h0m0 19h0m1-107h0m0 4h0m0 3h0m0 9h0m0 1h0m0 4h0m0 41h0m0 7h0m0 17h0m1-171h0m0 85h0m0 65h0m0 4h0m0 1h0m1-62h0m0 2h0m0 3h0m0 3h0m0 2h0m0 4h0m0 34h0m0 11h0m0 9h0m0 4h0m1-204h0m0 126h0m0 1h0m0 2h0m0 2h0m0 5h0m0 45h0m0 7h0m0 1h0m0 3h0m0 2h0m0 8h0m0 7h0m1-128h0m0 22h0m0 7h0m0 13h0m0 2h0m0 14h0m0 48h0m0 4h0m0 1h0m0 4h0m0 6h0m0 12h0m1-112h0m0 11h0m0 11h0m0 7h0m0 3h0m0 60h0m0 3h0m0 39h0m1-116h0m0 6h0m0 1h0m0 3h0m0 7h0m0 53h0m0 2h0m0 1h0m0 1h0m0 7h0m0 5h0m0 9h0m1-209h0m0 98h0m0 2h0m0 14h0m0 3h0m0 3h0m0 7h0m0 1h0m0 1h0m0 49h0m0 14h0m0 1h0m0 1h0m0 6h0m0 18h0m1-207h0m0 92h0m0 19h0m0 10h0m0 2h0m0 1h0m0 47h0m0 5h0m0 2h0m0 7h0m0 3h0m1-89h0m0 7h0m0 11h0m0 1h0m0 1h0m0 2h0m0 51h0m0 5h0m0 2h0m0 13h0m0 3h0m1-178h0m0 71h0m0 12h0m0 10h0m0 1h0m0 2h0m0 8h0m0 2h0m0 49h0m0 3h0m0 14h0m0 3h0m0 1h0m0 3h0m0 5h0m1-130h0m0 42h0m0 2h0m0 1h0m0 2h0m0 47h0m0 1h0m0 4h0m0 1h0m0 2h0m0 14h0m0 6h0m1-274h0m0 103h0m0 97h0m0 8h0m0 38h0m0 10h0m0 1h0m0 1h0m0 3h0m0 1h0m0 6h0m0 1h0m0 13h0m1-96h0m0 61h0m0 12h0m0 10h0m1-188h0m0 24h0m0 29h0m0 35h0m0 5h0m0 16h0m0 64h0m0 1h0m0 17h0m1-96h0m0 14h0m0 4h0m0 1h0m0 1h0m0 1h0m0 4h0m0 9h0m0 44h0m0 5h0m0 3h0m0 1h0m0 28h0m1-118h0m0 2h0m0 10h0m0 1h0m0 10h0m0 56h0m0 2h0m0 1h0m0 8h0m1-82h0m0 3h0m0 11h0m0 9h0m0 49h0m0 9h0m0 9h0m1-90h0m0 2h0m0 13h0m0 2h0m0 3h0m0 4h0m0 51h0m0 11h0m1-208h0m0 24h0m0 55h0m0 23h0m0 8h0m0 27h0m0 5h0m0 44h0m0 32h0m1-275h0m0 4h0m0 11h0m0 2h0m0 37h0m0 18h0m0 4h0m0 19h0m0 22h0m0 16h0m0 6h0m0 2h0m0 5h0m0 1h0m0 17h0m0 20h0m0 3h0m0 61h0m0 1h0m0 23h0m1-275h0m0 2h0m0 10h0m0 1h0m0 3h0m0 5h0m0 10h0m0 5h0m0 1h0m0 1h0m0 2h0m0 3h0m0 16h0m0 1h0m0 4h0m0 3h0m0 1h0m0 2h0m0 2h0m0 2h0m0 6h0m0 6h0m0 2h0m0 3h0m0 7h0m0 4h0m0 2h0m0 10h0m0 5h0m0 7h0m0 7h0m0 9h0m0 3h0m0 1h0m0 6h0m0 2h0m0 3h0m0 2h0m0 1h0m0 2h0m0 2h0m0 5h0m0 2h0m0 2h0m0 3h0m0 4h0m0 1h0m0 1h0m0 1h0m0 1h0m0 2h0m0 8h0m0 1h0m0 3h0m0 59h0m0 2h0m0 9h0m0 5h0m0 5h0m0 1h0m0 1h0m0 5h0m1-286h0m0 6h0m0 17h0m0 14h0m0 11h0m0 13h0m0 14h0m0 85h0m0 16h0m0 22h0m0 1h0m0 6h0m0 48h0m0 5h0m0 4h0m0 6h0m0 12h0m0 4h0m0 4h0m1-187h0m0 28h0m0 62h0m0 1h0m0 11h0m0 2h0m0 48h0m0 8h0m0 7h0m0 7h0m0 7h0m1-135h0m0 31h0m0 7h0m0 72h0m0 2h0m0 2h0m0 1h0m0 3h0m0 1h0m0 11h0m1-274h0m0 163h0m0 18h0m0 5h0m0 5h0m0 3h0m0 1h0m0 58h0m0 4h0m0 5h0m0 4h0m0 4h0m0 6h0m0 6h0m1-226h0m0 136h0m0 1h0m0 1h0m0 1h0m0 55h0m0 2h0m0 26h0m0 4h0m1-109h0m0 13h0m0 9h0m0 1h0m0 3h0m0 56h0m0 5h0m0 3h0m0 14h0m1-96h0m0 6h0m0 8h0m0 4h0m0 53h0m0 13h0m0 1h0m0 11h0m1-154h0m0 55h0m0 5h0m0 7h0m0 1h0m0 1h0m0 59h0m0 4h0m0 7h0m0 1h0m0 8h0m1-107h0m0 9h0m0 13h0m0 1h0m0 65h0m0 4h0m0 4h0m0 4h0m0 4h0m1-107h0m0 13h0m0 4h0m0 5h0m0 7h0m0 4h0m0 2h0m0 1h0m0 59h0m0 2h0m0 6h0m0 6h0m1-77h0m0 64h0m0 1h0m0 3h0m0 5h0m0 18h0m1-120h0m0 1h0m0 18h0m0 1h0m0 1h0m0 4h0m0 72h0m0 11h0m1-96h0m0 16h0m0 4h0m0 1h0m0 64h0m0 4h0m1-93h0m0 1h0m0 16h0m0 5h0m0 3h0m0 1h0m0 2h0m0 52h0m0 2h0m0 8h0m0 23h0m1-132h0m0 6h0m0 1h0m0 8h0m0 8h0m0 12h0m0 3h0m0 1h0m0 9h0m0 52h0m0 1h0m0 2h0m0 3h0m0 2h0m1-123h0m0 39h0m0 17h0m0 54h0m0 4h0m0 3h0m0 2h0m0 32h0m1-103h0m0 66h0m0 2h0m0 1h0m0 6h0m0 13h0m1-180h0m0 50h0m0 22h0m0 17h0m0 11h0m0 61h0m0 1h0m0 7h0m0 8h0m1-86h0m0 8h0m0 4h0m0 57h0m0 4h0m0 4h0m0 16h0m1-114h0m0 11h0m0 12h0m0 1h0m0 4h0m0 1h0m0 4h0m0 66h0m0 6h0m1-148h0m0 29h0m0 16h0m0 18h0m0 4h0m0 4h0m0 63h0m0 3h0m0 4h0m0 4h0m0 5h0m1-255h0m0 145h0m0 16h0m0 3h0m0 4h0m0 11h0m0 1h0m0 3h0m0 64h0m1-92h0m0 15h0m0 2h0m0 2h0m0 1h0m0 6h0m0 52h0m0 8h0m0 17h0m1-214h0m0 25h0m0 31h0m0 50h0m0 5h0m0 12h0m0 1h0m0 8h0m0 2h0m0 58h0m0 1h0m0 1h0m0 1h0m0 2h0m0 4h0m0 3h0m0 3h0m0 6h0m0 1h0m1-88h0m0 5h0m0 60h0m0 3h0m0 3h0m0 3h0m0 22h0m1-200h0m0 81h0m0 18h0m0 8h0m0 1h0m0 4h0m0 1h0m0 64h0m0 2h0m1-85h0m0 19h0m0 3h0m0 61h0m1-93h0m0 11h0m0 2h0m0 6h0m0 1h0m0 1h0m0 8h0m0 70h0m1-77h0m0 2h0m0 60h0m0 5h0m0 1h0m0 6h0m0 11h0m1-251h0m0 131h0m0 21h0m0 13h0m0 6h0m0 4h0m0 50h0m0 2h0m0 9h0m0 4h0m1-126h0m0 10h0m0 15h0m0 19h0m0 4h0m0 1h0m0 4h0m0 71h0m0 30h0m1-129h0m0 3h0m0 20h0m0 2h0m0 69h0m0 1h0m0 3h0m0 2h0m0 2h0m1-137h0m0 15h0m0 21h0m0 8h0m0 2h0m0 2h0m0 4h0m0 2h0m0 9h0m0 7h0m0 56h0m0 1h0m0 2h0m0 5h0m0 7h0m0 10h0m1-155h0m0 44h0m0 17h0m0 4h0m0 2h0m0 8h0m0 2h0m0 48h0m0 2h0m0 2h0m1-327h0m0 196h0m0 21h0m0 29h0m0 3h0m0 26h0m0 51h0m0 2h0m0 14h0m1-155h0m0 16h0m0 16h0m0 12h0m0 6h0m0 6h0m0 5h0m0 6h0m0 4h0m0 3h0m0 7h0m0 56h0m0 5h0m0 2h0m0 2h0m0 6h0m0 11h0m0 13h0m1-182h0m0 11h0m0 13h0m0 16h0m0 10h0m0 10h0m0 11h0m0 16h0m0 3h0m0 3h0m0 60h0m0 1h0m0 14h0m1-91h0m0 1h0m0 4h0m0 13h0m0 1h0m0 49h0m0 5h0m1-200h0m0 61h0m0 17h0m0 16h0m0 7h0m0 27h0m0 4h0m0 2h0m0 60h0m0 9h0m1-134h0m0 12h0m0 32h0m0 8h0m0 3h0m0 1h0m0 6h0m0 5h0m0 3h0m0 5h0m0 58h0m0 5h0m0 11h0m1-139h0m0 7h0m0 12h0m0 10h0m0 10h0m0 3h0m0 12h0m0 8h0m0 3h0m0 62h0m1-135h0m0 52h0m0 2h0m0 1h0m0 1h0m0 1h0m0 2h0m0 8h0m0 3h0m0 55h0m1-125h0m0 6h0m0 38h0m0 7h0m0 8h0m0 3h0m0 5h0m0 2h0m0 1h0m0 66h0m0 2h0m0 8h0m1-103h0m0 8h0m0 8h0m0 2h0m0 70h0m0 5h0m1-132h0m0 2h0m0 31h0m0 11h0m0 7h0m0 4h0m0 9h0m0 1h0m0 2h0m0 53h0m0 1h0m0 5h0m1-141h0m0 18h0m0 7h0m0 3h0m0 6h0m0 25h0m0 1h0m0 5h0m0 4h0m0 3h0m0 5h0m0 67h0m0 3h0m0 5h0m1-192h0m0 34h0m0 22h0m0 20h0m0 11h0m0 2h0m0 20h0m0 80h0m1-193h0m0 48h0m0 21h0m0 1h0m0 15h0m0 3h0m0 1h0m0 6h0m0 15h0m0 3h0m0 1h0m0 1h0m0 3h0m0 3h0m0 64h0m0 18h0m1-160h0m0 8h0m0 5h0m0 21h0m0 16h0m0 7h0m0 2h0m0 4h0m0 9h0m0 4h0m0 4h0m0 60h0m0 3h0m0 2h0m0 4h0m0 3h0m1-306h0m0 159h0m0 12h0m0 5h0m0 4h0m0 2h0m0 10h0m0 18h0m0 3h0m0 9h0m0 2h0m0 1h0m0 64h0m0 2h0m0 28h0m1-170h0m0 15h0m0 11h0m0 4h0m0 8h0m0 19h0m0 1h0m0 14h0m0 4h0m0 2h0m0 4h0m0 1h0m0 2h0m0 59h0m0 3h0m0 6h0m0 1h0m1-130h0m0 8h0m0 5h0m0 3h0m0 13h0m0 9h0m0 1h0m0 4h0m0 7h0m0 14h0m0 2h0m0 53h0m0 11h0m0 11h0m1-164h0m0 6h0m0 10h0m0 6h0m0 2h0m0 20h0m0 3h0m0 12h0m0 5h0m0 6h0m0 4h0m0 5h0m0 1h0m0 7h0m0 57h0m0 9h0m0 1h0m0 2h0m0 3h0m1-156h0m0 2h0m0 13h0m0 12h0m0 14h0m0 32h0m0 5h0m0 62h0m0 2h0m0 4h0m0 1h0m1-189h0m0 50h0m0 20h0m0 1h0m0 9h0m0 2h0m0 5h0m0 5h0m0 2h0m0 3h0m0 6h0m0 3h0m0 3h0m0 8h0m0 4h0m0 61h0m0 16h0m0 10h0m1-169h0m0 7h0m0 7h0m0 5h0m0 9h0m0 9h0m0 37h0m0 3h0m0 1h0m0 60h0m0 8h0m0 3h0m1-131h0m0 9h0m0 8h0m0 9h0m0 4h0m0 5h0m0 15h0m0 3h0m0 1h0m0 5h0m0 1h0m0 1h0m0 4h0m0 53h0m0 3h0m0 15h0m1-141h0m0 8h0m0 27h0m0 5h0m0 9h0m0 5h0m0 2h0m0 7h0m0 4h0m0 70h0m0 4h0m1-164h0m0 17h0m0 17h0m0 2h0m0 16h0m0 5h0m0 4h0m0 32h0m0 54h0m0 9h0m0 1h0m0 1h0m0 1h0m1-116h0m0 9h0m0 15h0m0 3h0m0 1h0m0 12h0m0 2h0m0 2h0m0 62h0m0 9h0m0 3h0m1-175h0m0 12h0m0 22h0m0 9h0m0 2h0m0 1h0m0 20h0m0 6h0m0 5h0m0 8h0m0 12h0m0 73h0m0 11h0m1-159h0m0 29h0m0 3h0m0 4h0m0 12h0m0 10h0m0 4h0m0 1h0m0 5h0m0 1h0m0 10h0m0 13h0m0 54h0m0 2h0m0 3h0m0 13h0m1-162h0m0 8h0m0 7h0m0 2h0m0 6h0m0 1h0m0 5h0m0 21h0m0 22h0m0 2h0m0 2h0m0 6h0m0 1h0m0 6h0m0 54h0m0 5h0m0 5h0m0 21h0m0 14h0m1-191h0m0 7h0m0 5h0m0 2h0m0 3h0m0 12h0m0 10h0m0 8h0m0 3h0m0 1h0m0 14h0m0 9h0m0 3h0m0 10h0m1-82h0m0 4h0m0 4h0m0 22h0m0 21h0m0 2h0m0 12h0m0 1h0m0 9h0m0 62h0m0 3h0m0 3h0m0 1h0m0 5h0m0 3h0m0 4h0m1-167h0m0 9h0m0 50h0m0 10h0m0 4h0m0 2h0m0 5h0m0 2h0m0 11h0m0 1h0m0 60h0m0 3h0m0 7h0m0 10h0m0 5h0m1-166h0m0 22h0m0 4h0m0 19h0m0 14h0m0 1h0m0 84h0m0 1h0m0 8h0m1-197h0m0 44h0m0 15h0m0 7h0m0 7h0m0 7h0m0 8h0m0 8h0m0 14h0m0 3h0m0 72h0m0 15h0m1-150h0m0 4h0m0 6h0m0 10h0m0 11h0m0 5h0m0 2h0m0 2h0m0 2h0m0 12h0m0 7h0m0 2h0m0 2h0m0 4h0m0 5h0m0 1h0m0 52h0m0 3h0m0 6h0m0 3h0m1-102h0m0 7h0m0 4h0m0 4h0m0 9h0m0 2h0m0 2h0m0 5h0m0 61h0m0 2h0m0 3h0m1-151h0m0 13h0m0 8h0m0 14h0m0 4h0m0 10h0m0 2h0m0 6h0m0 2h0m0 17h0m0 3h0m0 2h0m0 2h0m0 3h0m0 1h0m0 3h0m0 1h0m0 1h0m0 59h0m0 1h0m0 2h0m1-142h0m0 15h0m0 4h0m0 4h0m0 3h0m0 9h0m0 1h0m0 14h0m0 3h0m0 8h0m0 5h0m0 1h0m0 7h0m0 2h0m0 54h0m0 1h0m0 18h0m1-157h0m0 24h0m0 17h0m0 3h0m0 2h0m0 6h0m0 3h0m0 6h0m0 6h0m0 4h0m0 5h0m0 1h0m0 9h0m0 1h0m0 52h0m0 9h0m1-147h0m0 14h0m0 1h0m0 23h0m0 3h0m0 4h0m0 5h0m0 7h0m0 4h0m0 1h0m0 10h0m0 1h0m0 5h0m0 7h0m0 50h0m0 8h0m0 1h0m0 4h0m0 1h0m0 5h0m1-140h0m0 41h0m0 1h0m0 1h0m0 1h0m0 2h0m0 8h0m0 1h0m0 9h0m0 6h0m0 2h0m0 51h0m0 9h0m0 1h0m0 5h0m1-267h0m0 5h0m0 6h0m0 6h0m0 8h0m0 5h0m0 6h0m0 9h0m0 10h0m0 15h0m0 5h0m0 3h0m0 2h0m0 5h0m0 4h0m0 5h0m0 8h0m0 5h0m0 16h0m0 13h0m0 2h0m0 1h0m0 7h0m0 2h0m0 13h0m0 6h0m0 17h0m0 8h0m0 61h0m0 11h0m0 4h0m0 9h0m0 4h0m0 8h0m1-302h0m0 13h0m0 4h0m0 2h0m0 16h0m0 9h0m0 1h0m0 2h0m0 5h0m0 2h0m0 3h0m0 2h0m0 7h0m0 1h0m0 2h0m0 2h0m0 1h0m0 1h0m0 1h0m0 5h0m0 2h0m0 3h0m0 2h0m0 3h0m0 12h0m0 2h0m0 7h0m0 1h0m0 1h0m0 2h0m0 6h0m0 6h0m0 4h0m0 2h0m0 1h0m0 1h0m0 5h0m0 1h0m0 7h0m0 2h0m0 4h0m0 2h0m0 3h0m0 11h0m0 5h0m0 10h0m0 2h0m0 1h0m0 7h0m0 1h0m0 2h0m0 3h0m0 1h0m0 1h0m0 1h0m0 2h0m0 9h0m0 54h0m0 12h0m0 1h0m0 1h0m0 2h0m0 1h0m0 1h0m0 2h0m0 6h0m0 1h0m0 5h0m0 3h0m0 1h0m0 1h0m0 1h0m0 2h0m1-304h0m0 17h0m0 101h0m0 3h0m0 35h0m0 3h0m0 5h0m0 9h0m0 6h0m0 5h0m0 4h0m0 2h0m0 2h0m0 6h0m0 72h0m0 1h0m0 2h0m0 15h0m0 1h0m1-158h0m0 6h0m0 13h0m0 2h0m0 11h0m0 25h0m0 5h0m0 76h0m0 3h0m0 2h0m0 12h0m0 5h0m1-313h0m0 124h0m0 30h0m0 7h0m0 11h0m0 6h0m0 15h0m0 4h0m0 5h0m0 3h0m0 9h0m0 2h0m0 13h0m0 59h0m0 2h0m0 2h0m0 19h0m1-174h0m0 45h0m0 4h0m0 2h0m0 1h0m0 13h0m0 12h0m0 2h0m0 6h0m0 1h0m0 1h0m0 4h0m0 69h0m1-129h0m0 1h0m0 1h0m0 3h0m0 9h0m0 1h0m0 5h0m0 6h0m0 5h0m0 8h0m0 3h0m0 18h0m0 60h0m0 4h0m1-142h0m0 3h0m0 10h0m0 9h0m0 9h0m0 10h0m0 1h0m0 20h0m0 2h0m0 6h0m0 70h0m0 7h0m1-161h0m0 3h0m0 9h0m0 6h0m0 10h0m0 3h0m0 12h0m0 15h0m0 14h0m0 6h0m0 9h0m0 2h0m0 1h0m0 61h0m0 21h0m1-165h0m0 1h0m0 31h0m0 10h0m0 2h0m0 15h0m0 21h0m0 65h0m0 5h0m0 1h0m1-164h0m0 15h0m0 33h0m0 2h0m0 10h0m0 2h0m0 9h0m0 2h0m0 6h0m0 4h0m0 70h0m0 6h0m1-155h0m0 12h0m0 4h0m0 4h0m0 6h0m0 3h0m0 15h0m0 30h0m0 6h0m0 8h0m0 2h0m0 9h0m0 52h0m0 5h0m0 1h0m0 5h0m1-161h0m0 8h0m0 14h0m0 2h0m0 5h0m0 8h0m0 3h0m0 21h0m0 2h0m0 20h0m0 1h0m0 3h0m0 9h0m0 52h0m0 6h0m0 9h0m1-183h0m0 29h0m0 4h0m0 10h0m0 4h0m0 10h0m0 3h0m0 7h0m0 3h0m0 25h0m0 5h0m0 1h0m0 1h0m0 7h0m0 62h0m0 4h0m0 4h0m1-150h0m0 11h0m0 4h0m0 3h0m0 4h0m0 12h0m0 20h0m0 3h0m0 7h0m0 6h0m0 6h0m0 1h0m0 70h0m0 1h0m0 9h0m0 9h0m1-145h0m0 4h0m0 2h0m0 2h0m0 4h0m0 11h0m0 2h0m0 4h0m0 15h0m0 2h0m0 5h0m0 5h0m0 63h0m0 1h0m0 2h0m0 4h0m0 1h0m0 11h0m1-140h0m0 27h0m0 2h0m0 1h0m0 5h0m0 4h0m0 17h0m0 5h0m0 1h0m0 58h0m0 1h0m0 2h0m1-131h0m0 5h0m0 1h0m0 22h0m0 13h0m0 1h0m0 4h0m0 7h0m0 3h0m0 7h0m0 1h0m0 4h0m0 2h0m0 61h0m0 2h0m0 1h0m0 1h0m0 6h0m1-148h0m0 11h0m0 4h0m0 21h0m0 12h0m0 18h0m0 4h0m0 4h0m0 65h0m0 3h0m0 3h0m0 8h0m0 3h0m1-195h0m0 45h0m0 13h0m0 2h0m0 29h0m0 1h0m0 5h0m0 5h0m0 2h0m0 1h0m0 3h0m0 4h0m0 1h0m0 5h0m0 59h0m0 8h0m0 1h0m0 5h0m1-141h0m0 3h0m0 4h0m0 3h0m0 9h0m0 26h0m0 4h0m0 8h0m0 2h0m0 3h0m0 3h0m0 63h0m0 5h0m0 11h0m1-173h0m0 6h0m0 18h0m0 4h0m0 7h0m0 10h0m0 1h0m0 2h0m0 20h0m0 6h0m0 3h0m0 1h0m0 4h0m0 10h0m0 10h0m0 5h0m0 53h0m0 1h0m0 1h0m1-162h0m0 12h0m0 2h0m0 9h0m0 11h0m0 10h0m0 2h0m0 2h0m0 12h0m0 7h0m0 3h0m0 14h0m0 6h0m0 16h0m0 2h0m0 43h0m0 1h0m0 5h0m0 3h0m0 4h0m0 3h0m1-248h0m0 53h0m0 36h0m0 32h0m0 4h0m0 17h0m0 9h0m0 19h0m0 10h0m0 1h0m0 6h0m0 48h0m0 3h0m0 22h0m0 1h0m0 3h0m1-182h0m0 9h0m0 12h0m0 7h0m0 22h0m0 9h0m0 6h0m0 7h0m0 2h0m0 15h0m0 5h0m0 4h0m0 55h0m0 6h0m0 5h0m1-164h0m0 7h0m0 1h0m0 9h0m0 11h0m0 4h0m0 5h0m0 6h0m0 7h0m0 15h0m0 5h0m0 7h0m0 10h0m0 3h0m0 4h0m0 7h0m0 61h0m0 1h0m0 3h0m0 1h0m1-214h0m0 59h0m0 4h0m0 2h0m0 2h0m0 13h0m0 2h0m0 15h0m0 4h0m0 5h0m0 2h0m0 1h0m0 2h0m0 26h0m0 56h0m0 9h0m0 9h0m1-157h0m0 18h0m0 19h0m0 3h0m0 4h0m0 41h0m0 13h0m0 1h0m0 44h0m0 1h0m0 4h0m0 1h0m0 1h0m0 7h0m0 1h0m0 1h0m1-160h0m0 3h0m0 4h0m0 8h0m0 11h0m0 16h0m0 20h0m0 1h0m0 6h0m0 9h0m0 1h0m0 1h0m0 2h0m0 19h0m0 62h0m1-161h0m0 11h0m0 6h0m0 2h0m0 6h0m0 19h0m0 4h0m0 6h0m0 9h0m0 14h0m0 1h0m0 2h0m0 2h0m0 4h0m0 13h0m0 50h0m0 2h0m0 2h0m0 9h0m1-159h0m0 3h0m0 3h0m0 13h0m0 2h0m0 21h0m0 6h0m0 6h0m0 4h0m0 4h0m0 12h0m0 5h0m0 2h0m0 1h0m0 1h0m0 57h0m0 4h0m0 1h0m0 6h0m1-134h0m0 22h0m0 4h0m0 10h0m0 3h0m0 4h0m0 5h0m0 1h0m0 6h0m0 3h0m0 2h0m0 5h0m0 6h0m0 3h0m0 61h0m0 1h0m1-237h0m0 71h0m0 39h0m0 1h0m0 7h0m0 1h0m0 27h0m0 13h0m0 4h0m0 3h0m0 67h0m0 2h0m0 4h0m1-157h0m0 7h0m0 14h0m0 39h0m0 6h0m0 2h0m0 6h0m0 5h0m0 1h0m0 4h0m0 3h0m0 5h0m0 56h0m0 3h0m1-157h0m0 1h0m0 4h0m0 2h0m0 18h0m0 3h0m0 24h0m0 5h0m0 1h0m0 21h0m0 7h0m0 13h0m0 1h0m0 57h0m1-168h0m0 4h0m0 32h0m0 14h0m0 8h0m0 25h0m0 8h0m0 7h0m0 1h0m0 1h0m0 6h0m0 3h0m0 59h0m0 11h0m0 12h0m1-190h0m0 9h0m0 19h0m0 23h0m0 1h0m0 11h0m0 1h0m0 9h0m0 17h0m0 3h0m0 3h0m0 10h0m0 1h0m0 56h0m0 4h0m0 3h0m0 1h0m0 9h0m1-165h0m0 15h0m0 4h0m0 10h0m0 9h0m0 2h0m0 4h0m0 5h0m0 9h0m0 7h0m0 2h0m0 12h0m0 7h0m0 67h0m0 6h0m0 4h0m0 1h0m0 18h0m1-179h0m0 13h0m0 6h0m0 5h0m0 5h0m0 3h0m0 2h0m0 3h0m0 14h0m0 11h0m0 5h0m0 13h0m0 4h0m0 3h0m0 1h0m0 58h0m1-158h0m0 2h0m0 22h0m0 2h0m0 1h0m0 3h0m0 5h0m0 8h0m0 15h0m0 26h0m0 5h0m0 11h0m0 58h0m0 3h0m0 8h0m1-174h0m0 26h0m0 13h0m0 1h0m0 5h0m0 14h0m0 6h0m0 7h0m0 5h0m0 7h0m0 2h0m0 1h0m0 7h0m0 59h0m0 1h0m0 11h0m0 6h0m0 1h0m1-173h0m0 3h0m0 10h0m0 3h0m0 2h0m0 6h0m0 12h0m0 8h0m0 3h0m0 1h0m0 6h0m0 12h0m0 11h0m0 2h0m0 2h0m0 15h0m0 9h0m0 55h0m0 2h0m0 12h0m0 5h0m1-182h0m0 2h0m0 2h0m0 1h0m0 3h0m0 3h0m0 15h0m0 10h0m0 6h0m0 1h0m0 8h0m0 5h0m0 20h0m0 6h0m0 13h0m0 5h0m0 5h0m0 2h0m0 57h0m0 5h0m0 20h0m1-177h0m0 5h0m0 19h0m0 3h0m0 8h0m0 21h0m0 3h0m0 2h0m0 2h0m0 6h0m0 9h0m0 8h0m0 1h0m0 2h0m0 9h0m0 57h0m0 3h0m0 1h0m0 1h0m1-165h0m0 18h0m0 11h0m0 12h0m0 1h0m0 8h0m0 19h0m0 7h0m0 10h0m0 3h0m0 3h0m0 60h0m0 5h0m0 2h0m0 10h0m0 15h0m1-153h0m0 33h0m0 10h0m0 4h0m0 7h0m0 5h0m0 61h0m0 7h0m0 5h0m0 11h0m0 8h0m0 5h0m1-171h0m0 7h0m0 4h0m0 4h0m0 3h0m0 6h0m0 9h0m0 6h0m0 5h0m0 3h0m0 10h0m0 4h0m0 27h0m0 43h0m0 1h0m0 10h0m0 4h0m0 4h0m0 13h0m1-171h0m0 5h0m0 35h0m0 8h0m0 13h0m0 20h0m0 3h0m0 4h0m0 4h0m0 2h0m0 2h0m0 52h0m0 25h0m1-192h0m0 21h0m0 1h0m0 6h0m0 2h0m0 13h0m0 16h0m0 15h0m0 9h0m0 15h0m0 1h0m0 3h0m0 1h0m0 8h0m0 2h0m0 3h0m0 45h0m0 5h0m0 4h0m0 3h0m0 1h0m0 7h0m0 3h0m1-179h0m0 57h0m0 1h0m0 7h0m0 6h0m0 12h0m0 4h0m0 2h0m0 11h0m0 8h0m0 6h0m0 42h0m0 18h0m0 18h0m0 1h0m1-200h0m0 11h0m0 6h0m0 71h0m0 1h0m0 10h0m0 2h0m0 4h0m0 11h0m0 1h0m0 3h0m0 1h0m0 41h0m0 2h0m0 10h0m0 1h0m0 1h0m0 1h0m1-163h0m0 25h0m0 10h0m0 7h0m0 20h0m0 3h0m0 6h0m0 2h0m0 1h0m0 1h0m0 10h0m0 1h0m0 2h0m0 9h0m0 5h0m0 64h0m0 5h0m1-230h0m0 54h0m0 19h0m0 10h0m0 14h0m0 10h0m0 11h0m0 2h0m0 16h0m0 5h0m0 4h0m0 2h0m0 3h0m0 63h0m0 1h0m0 4h0m0 4h0m0 8h0m1-165h0m0 16h0m0 5h0m0 13h0m0 2h0m0 1h0m0 6h0m0 10h0m0 6h0m0 12h0m0 1h0m0 14h0m0 11h0m0 4h0m0 59h0m0 1h0m0 15h0m1-180h0m0 23h0m0 11h0m0 2h0m0 3h0m0 4h0m0 18h0m0 1h0m0 11h0m0 1h0m0 3h0m0 2h0m0 7h0m0 5h0m0 2h0m0 1h0m0 7h0m0 4h0m0 41h0m0 4h0m0 40h0m1-196h0m0 23h0m0 13h0m0 10h0m0 5h0m0 8h0m0 6h0m0 47h0m0 1h0m0 39h0m0 1h0m0 3h0m0 12h0m0 5h0m1-175h0m0 9h0m0 14h0m0 39h0m0 18h0m0 5h0m0 1h0m0 7h0m0 3h0m0 72h0m0 9h0m0 13h0m1-172h0m0 1h0m0 6h0m0 8h0m0 20h0m0 12h0m0 12h0m0 2h0m0 15h0m0 2h0m0 1h0m0 2h0m0 66h0m0 2h0m0 2h0m1-167h0m0 6h0m0 4h0m0 6h0m0 6h0m0 19h0m0 2h0m0 1h0m0 6h0m0 10h0m0 13h0m0 7h0m0 20h0m0 11h0m0 47h0m0 1h0m0 3h0m0 2h0m1-144h0m0 1h0m0 3h0m0 20h0m0 10h0m0 5h0m0 17h0m0 3h0m0 1h0m0 4h0m0 9h0m0 2h0m0 2h0m0 14h0m0 50h0m0 6h0m0 6h0m1-189h0m0 3h0m0 12h0m0 6h0m0 19h0m0 26h0m0 20h0m0 5h0m0 11h0m0 4h0m0 2h0m0 12h0m0 2h0m0 2h0m0 50h0m0 18h0m1-148h0m0 13h0m0 1h0m0 9h0m0 2h0m0 1h0m0 1h0m0 21h0m0 9h0m0 9h0m0 3h0m0 8h0m0 1h0m0 55h0m0 7h0m0 2h0m1-155h0m0 11h0m0 2h0m0 4h0m0 1h0m0 35h0m0 23h0m0 2h0m0 75h0m0 3h0m0 15h0m0 1h0m1-336h0m0 149h0m0 4h0m0 21h0m0 12h0m0 1h0m0 9h0m0 28h0m0 3h0m0 7h0m0 5h0m0 2h0m0 51h0m0 10h0m0 2h0m1-154h0m0 15h0m0 12h0m0 3h0m0 8h0m0 4h0m0 3h0m0 10h0m0 3h0m0 2h0m0 1h0m0 6h0m0 2h0m0 10h0m0 5h0m0 10h0m0 2h0m0 8h0m0 8h0m0 1h0m0 29h0m0 11h0m0 6h0m0 6h0m0 6h0m1-240h0m0 60h0m0 9h0m0 8h0m0 9h0m0 1h0m0 13h0m0 2h0m0 9h0m0 4h0m0 4h0m0 16h0m0 17h0m0 17h0m0 53h0m0 7h0m0 6h0m0 3h0m1-184h0m0 26h0m0 11h0m0 26h0m0 29h0m0 3h0m0 3h0m0 2h0m0 2h0m0 2h0m0 2h0m0 1h0m0 8h0m0 65h0m1-167h0m0 10h0m0 9h0m0 13h0m0 4h0m0 25h0m0 4h0m0 3h0m0 8h0m0 3h0m0 2h0m0 13h0m0 2h0m0 1h0m0 1h0m0 4h0m0 53h0m0 1h0m0 6h0m1-161h0m0 39h0m0 5h0m0 18h0m0 14h0m0 10h0m0 1h0m0 1h0m0 3h0m0 8h0m0 66h0m0 1h0m0 4h0m0 9h0m1-197h0m0 5h0m0 29h0m0 17h0m0 9h0m0 2h0m0 10h0m0 21h0m0 8h0m0 1h0m0 14h0m0 55h0m0 7h0m0 17h0m0 9h0m1-202h0m0 16h0m0 2h0m0 21h0m0 20h0m0 3h0m0 2h0m0 5h0m0 2h0m0 6h0m0 2h0m0 6h0m0 10h0m0 9h0m0 3h0m0 1h0m0 14h0m0 49h0m0 2h0m0 11h0m0 2h0m1-165h0m0 5h0m0 5h0m0 23h0m0 32h0m0 14h0m0 1h0m0 2h0m0 2h0m0 6h0m0 4h0m0 58h0m0 10h0m1-191h0m0 18h0m0 24h0m0 14h0m0 21h0m0 1h0m0 1h0m0 9h0m0 2h0m0 3h0m0 4h0m0 14h0m0 5h0m0 8h0m0 5h0m0 61h0m1-147h0m0 13h0m0 2h0m0 4h0m0 11h0m0 23h0m0 10h0m0 11h0m0 9h0m0 8h0m0 50h0m0 3h0m1-151h0m0 7h0m0 11h0m0 3h0m0 10h0m0 3h0m0 15h0m0 13h0m0 3h0m0 5h0m0 3h0m0 1h0m0 3h0m0 4h0m0 3h0m0 1h0m0 3h0m0 4h0m0 9h0m0 39h0m0 3h0m0 8h0m1-178h0m0 3h0m0 4h0m0 23h0m0 5h0m0 23h0m0 3h0m0 1h0m0 5h0m0 5h0m0 12h0m0 2h0m0 1h0m0 7h0m0 8h0m0 16h0m0 4h0m0 48h0m1-159h0m0 5h0m0 5h0m0 1h0m0 1h0m0 2h0m0 13h0m0 12h0m0 14h0m0 3h0m0 1h0m0 1h0m0 1h0m0 3h0m0 1h0m0 16h0m0 1h0m0 1h0m0 13h0m0 8h0m0 55h0m0 4h0m0 1h0m0 3h0m0 5h0m0 26h0m1-209h0m0 4h0m0 16h0m0 2h0m0 14h0m0 12h0m0 27h0m0 5h0m0 18h0m0 1h0m0 1h0m0 1h0m0 1h0m0 3h0m0 1h0m0 14h0m0 2h0m0 50h0m0 19h0m1-183h0m0 9h0m0 2h0m0 2h0m0 8h0m0 2h0m0 18h0m0 14h0m0 24h0m0 5h0m0 2h0m0 3h0m0 4h0m0 1h0m0 5h0m0 5h0m0 6h0m0 5h0m0 54h0m0 5h0m1-182h0m0 22h0m0 7h0m0 8h0m0 42h0m0 6h0m0 3h0m0 13h0m0 14h0m0 1h0m0 5h0m0 16h0m0 40h0m0 21h0m1-198h0m0 14h0m0 3h0m0 2h0m0 12h0m0 8h0m0 5h0m0 4h0m0 7h0m0 12h0m0 21h0m0 5h0m0 5h0m0 11h0m0 4h0m0 9h0m0 2h0m0 47h0m0 4h0m0 1h0m0 7h0m1-156h0m0 4h0m0 10h0m0 1h0m0 8h0m0 25h0m0 28h0m0 5h0m0 2h0m0 14h0m0 13h0m0 32h0m0 2h0m0 11h0m0 1h0m1-190h0m0 43h0m0 3h0m0 6h0m0 6h0m0 23h0m0 11h0m0 6h0m0 2h0m0 5h0m0 2h0m0 9h0m0 5h0m0 8h0m0 2h0m0 46h0m0 5h0m0 6h0m1-168h0m0 6h0m0 3h0m0 2h0m0 8h0m0 6h0m0 17h0m0 1h0m0 1h0m0 12h0m0 12h0m0 13h0m0 8h0m0 3h0m0 2h0m0 24h0m0 45h0m0 6h0m1-172h0m0 3h0m0 22h0m0 2h0m0 9h0m0 12h0m0 2h0m0 3h0m0 14h0m0 21h0m0 3h0m0 1h0m0 28h0m0 39h0m0 3h0m0 2h0m0 19h0m1-172h0m0 6h0m0 15h0m0 9h0m0 7h0m0 9h0m0 5h0m0 7h0m0 9h0m0 8h0m0 4h0m0 5h0m0 3h0m0 13h0m0 2h0m0 3h0m0 7h0m0 43h0m0 6h0m1-168h0m0 39h0m0 7h0m0 19h0m0 12h0m0 12h0m0 8h0m0 2h0m0 6h0m0 2h0m0 4h0m0 2h0m0 43h0m0 1h0m0 4h0m0 6h0m0 10h0m1-162h0m0 4h0m0 1h0m0 9h0m0 6h0m0 4h0m0 23h0m0 2h0m0 12h0m0 3h0m0 5h0m0 1h0m0 12h0m0 11h0m0 2h0m0 2h0m0 39h0m0 5h0m0 2h0m0 10h0m0 1h0m0 2h0m1-191h0m0 65h0m0 20h0m0 7h0m0 12h0m0 9h0m0 10h0m0 3h0m0 2h0m0 1h0m0 1h0m0 38h0m0 1h0m0 10h0m0 5h0m0 2h0m0 11h0m1-195h0m0 18h0m0 10h0m0 2h0m0 10h0m0 40h0m0 14h0m0 4h0m0 18h0m0 3h0m0 5h0m0 13h0m0 33h0m0 7h0m0 1h0m0 1h0m0 2h0m0 1h0m0 4h0m0 9h0m1-169h0m0 2h0m0 13h0m0 13h0m0 5h0m0 2h0m0 19h0m0 5h0m0 22h0m0 11h0m0 1h0m0 2h0m0 3h0m0 46h0m0 19h0m1-207h0m0 24h0m0 17h0m0 15h0m0 7h0m0 2h0m0 7h0m0 20h0m0 2h0m0 1h0m0 4h0m0 12h0m0 9h0m0 3h0m0 15h0m0 50h0m0 8h0m0 8h0m0 5h0m1-181h0m0 16h0m0 16h0m0 2h0m0 10h0m0 3h0m0 29h0m0 7h0m0 4h0m0 2h0m0 3h0m0 7h0m0 13h0m0 53h0m0 2h0m0 6h0m1-303h0m0 139h0m0 14h0m0 30h0m0 4h0m0 5h0m0 8h0m0 9h0m0 10h0m0 7h0m0 3h0m0 2h0m0 1h0m0 6h0m0 17h0m0 49h0m0 7h0m1-207h0m0 22h0m0 12h0m0 12h0m0 3h0m0 9h0m0 16h0m0 14h0m0 2h0m0 1h0m0 7h0m0 1h0m0 3h0m0 8h0m0 17h0m0 2h0m0 10h0m0 1h0m0 1h0m0 4h0m0 8h0m0 23h0m0 1h0m0 11h0m0 17h0m1-188h0m0 18h0m0 3h0m0 1h0m0 68h0m0 2h0m0 1h0m0 9h0m0 4h0m0 4h0m0 6h0m0 17h0m0 2h0m0 8h0m0 1h0m0 19h0m0 8h0m0 1h0m0 9h0m0 2h0m0 5h0m1-117h0m0 13h0m0 6h0m0 14h0m0 1h0m0 31h0m0 22h0m0 1h0m0 5h0m0 8h0m0 2h0m0 2h0m0 5h0m0 2h0m1-197h0m0 10h0m0 21h0m0 10h0m0 21h0m0 5h0m0 8h0m0 17h0m0 6h0m0 3h0m0 4h0m0 7h0m0 8h0m0 4h0m0 45h0m0 1h0m0 7h0m0 11h0m0 1h0m0 1h0m0 4h0m0 22h0m0 17h0m1-191h0m0 7h0m0 22h0m0 3h0m0 15h0m0 13h0m0 15h0m0 6h0m0 1h0m0 4h0m0 3h0m0 1h0m0 11h0m0 35h0m0 17h0m1-312h0m0 1h0m0 44h0m0 9h0m0 28h0m0 7h0m0 12h0m0 13h0m0 13h0m0 22h0m0 2h0m0 1h0m0 15h0m0 10h0m0 12h0m0 20h0m0 6h0m0 15h0m0 4h0m0 5h0m0 20h0m0 10h0m0 1h0m0 51h0m0 3h0m1-320h0m0 7h0m0 3h0m0 2h0m0 7h0m0 5h0m0 2h0m0 1h0m0 9h0m0 3h0m0 7h0m0 1h0m0 7h0m0 4h0m0 3h0m0 3h0m0 2h0m0 2h0m0 7h0m0 1h0m0 10h0m0 4h0m0 2h0m0 8h0m0 2h0m0 4h0m0 2h0m0 2h0m0 3h0m0 1h0m0 9h0m0 2h0m0 5h0m0 4h0m0 7h0m0 3h0m0 7h0m0 2h0m0 3h0m0 2h0m0 3h0m0 3h0m0 23h0m0 1h0m0 2h0m0 1h0m0 14h0m0 4h0m0 1h0m0 3h0m0 2h0m0 1h0m0 3h0m0 1h0m0 10h0m0 9h0m0 2h0m0 66h0m0 4h0m0 1h0m0 3h0m0 3h0m0 4h0m0 10h0m0 1h0m0 7h0m0 4h0m1-348h0m0 11h0m0 6h0m0 2h0m0 4h0m0 2h0m0 11h0m0 20h0m0 1h0m0 5h0m0 22h0m0 7h0m0 12h0m0 2h0m0 4h0m0 3h0m0 2h0m0 3h0m0 2h0m0 9h0m0 4h0m0 4h0m0 1h0m0 7h0m0 3h0m0 1h0m0 2h0m0 11h0m0 3h0m0 1h0m0 5h0m0 4h0m0 5h0m0 4h0m0 1h0m0 1h0m0 2h0m0 1h0m0 6h0m0 3h0m0 12h0m0 21h0m0 1h0m0 2h0m0 4h0m0 1h0m0 7h0m0 2h0m0 21h0m0 36h0m0 5h0m0 5h0m0 1h0m0 6h0m0 17h0m0 12h0m1-215h0m0 15h0m0 4h0m0 6h0m0 3h0m0 7h0m0 8h0m0 13h0m0 6h0m0 7h0m0 9h0m0 12h0m0 4h0m0 2h0m0 3h0m0 2h0m0 2h0m0 3h0m0 1h0m0 8h0m0 1h0m0 9h0m0 9h0m0 26h0m0 2h0m0 6h0m1-128h0m0 27h0m0 2h0m0 15h0m0 4h0m0 2h0m0 3h0m0 7h0m0 2h0m0 5h0m0 7h0m0 39h0m0 1h0m0 11h0m0 3h0m0 4h0m0 1h0m0 2h0m0 7h0m1-172h0m0 11h0m0 19h0m0 4h0m0 2h0m0 1h0m0 19h0m0 8h0m0 8h0m0 3h0m0 7h0m0 11h0m0 3h0m0 3h0m0 1h0m0 10h0m0 18h0m0 1h0m0 19h0m0 7h0m0 4h0m0 8h0m1-183h0m0 24h0m0 2h0m0 10h0m0 5h0m0 46h0m0 7h0m0 3h0m0 6h0m0 4h0m0 4h0m0 9h0m0 3h0m0 2h0m0 3h0m0 1h0m0 4h0m0 25h0m0 6h0m0 13h0m0 6h0m0 29h0m1-217h0m0 5h0m0 17h0m0 11h0m0 32h0m0 3h0m0 12h0m0 14h0m0 12h0m0 7h0m0 3h0m0 6h0m0 5h0m0 11h0m0 9h0m0 1h0m0 14h0m0 7h0m0 4h0m0 1h0m0 1h0m0 5h0m0 1h0m0 5h0m0 3h0m0 6h0m1-187h0m0 24h0m0 4h0m0 6h0m0 3h0m0 6h0m0 8h0m0 5h0m0 2h0m0 11h0m0 11h0m0 5h0m0 8h0m0 6h0m0 7h0m0 3h0m0 1h0m0 4h0m0 7h0m1-129h0m0 13h0m0 22h0m0 7h0m0 20h0m0 7h0m0 13h0m0 3h0m0 12h0m0 4h0m0 10h0m0 6h0m0 62h0m0 1h0m0 5h0m1-176h0m0 5h0m0 2h0m0 31h0m0 22h0m0 3h0m0 4h0m0 8h0m0 7h0m0 16h0m0 2h0m0 2h0m0 3h0m0 10h0m0 2h0m0 55h0m0 9h0m0 20h0m1-201h0m0 8h0m0 1h0m0 5h0m0 11h0m0 3h0m0 12h0m0 6h0m0 16h0m0 14h0m0 16h0m0 5h0m0 18h0m0 22h0m0 30h0m0 6h0m0 1h0m0 13h0m1-195h0m0 26h0m0 23h0m0 14h0m0 14h0m0 11h0m0 7h0m0 1h0m0 5h0m0 9h0m0 7h0m0 1h0m0 9h0m0 2h0m0 17h0m0 42h0m0 16h0m1-206h0m0 4h0m0 28h0m0 11h0m0 9h0m0 4h0m0 12h0m0 7h0m0 1h0m0 5h0m0 23h0m0 10h0m0 4h0m0 3h0m0 8h0m0 2h0m0 8h0m0 31h0m0 1h0m0 5h0m0 3h0m0 19h0m1-201h0m0 25h0m0 2h0m0 10h0m0 8h0m0 9h0m0 2h0m0 7h0m0 11h0m0 7h0m0 20h0m0 1h0m0 3h0m0 2h0m0 11h0m0 2h0m0 6h0m0 5h0m0 2h0m0 9h0m0 32h0m0 2h0m0 5h0m0 7h0m0 7h0m0 11h0m1-204h0m0 16h0m0 12h0m0 10h0m0 29h0m0 1h0m0 4h0m0 1h0m0 20h0m0 9h0m0 15h0m0 1h0m0 4h0m0 1h0m0 3h0m0 2h0m0 25h0m0 35h0m1-176h0m0 1h0m0 14h0m0 24h0m0 3h0m0 8h0m0 24h0m0 5h0m0 1h0m0 16h0m0 7h0m0 4h0m0 2h0m0 4h0m0 3h0m0 2h0m0 1h0m0 8h0m0 16h0m0 17h0m0 2h0m0 14h0m1-158h0m0 40h0m0 5h0m0 6h0m0 1h0m0 2h0m0 4h0m0 1h0m0 4h0m0 6h0m0 7h0m0 4h0m0 7h0m0 27h0m0 37h0m0 10h0m0 6h0m0 11h0m1-203h0m0 8h0m0 20h0m0 31h0m0 4h0m0 8h0m0 21h0m0 6h0m0 15h0m0 2h0m0 5h0m0 5h0m0 1h0m0 1h0m0 1h0m0 2h0m0 32h0m0 1h0m0 4h0m0 3h0m0 5h0m0 8h0m0 5h0m1-193h0m0 18h0m0 17h0m0 7h0m0 7h0m0 30h0m0 2h0m0 23h0m0 3h0m0 4h0m0 1h0m0 1h0m0 10h0m0 3h0m0 5h0m0 31h0m0 1h0m0 7h0m0 6h0m0 1h0m0 12h0m1-180h0m0 5h0m0 1h0m0 6h0m0 36h0m0 6h0m0 7h0m0 21h0m0 15h0m0 2h0m0 5h0m0 3h0m0 6h0m0 8h0m0 39h0m0 1h0m0 14h0m0 2h0m0 2h0m0 2h0m0 4h0m0 9h0m1-193h0m0 4h0m0 3h0m0 7h0m0 7h0m0 4h0m0 5h0m0 5h0m0 6h0m0 13h0m0 18h0m0 17h0m0 6h0m0 21h0m0 1h0m0 2h0m0 6h0m0 1h0m0 2h0m0 9h0m0 11h0m0 4h0m0 1h0m0 13h0m0 3h0m0 30h0m1-201h0m0 10h0m0 13h0m0 4h0m0 9h0m0 2h0m0 9h0m0 1h0m0 18h0m0 2h0m0 6h0m0 5h0m0 24h0m0 7h0m0 5h0m0 3h0m0 2h0m0 12h0m0 7h0m0 24h0m0 5h0m0 3h0m0 5h0m0 2h0m0 11h0m1-190h0m0 30h0m0 12h0m0 1h0m0 10h0m0 19h0m0 21h0m0 2h0m0 7h0m0 4h0m0 14h0m0 5h0m0 39h0m0 7h0m0 2h0m0 1h0m0 7h0m0 4h0m1-175h0m0 29h0m0 1h0m0 12h0m0 4h0m0 1h0m0 3h0m0 11h0m0 2h0m0 9h0m0 3h0m0 16h0m0 1h0m0 10h0m0 2h0m0 2h0m0 17h0m0 3h0m0 24h0m0 2h0m0 3h0m1-161h0m0 15h0m0 15h0m0 7h0m0 5h0m0 12h0m0 4h0m0 14h0m0 3h0m0 6h0m0 2h0m0 11h0m0 5h0m0 15h0m0 1h0m0 3h0m0 10h0m0 21h0m0 13h0m0 5h0m0 1h0m0 2h0m0 3h0m1-160h0m0 28h0m0 23h0m0 13h0m0 17h0m0 8h0m0 1h0m0 4h0m0 3h0m0 4h0m0 3h0m0 3h0m0 19h0m0 3h0m0 20h0m0 10h0m0 1h0m0 2h0m1-167h0m0 7h0m0 6h0m0 14h0m0 21h0m0 17h0m0 6h0m0 2h0m0 10h0m0 3h0m0 1h0m0 19h0m0 2h0m0 5h0m0 2h0m0 9h0m0 10h0m0 8h0m0 11h0m0 7h0m0 7h0m1-183h0m0 48h0m0 8h0m0 2h0m0 8h0m0 4h0m0 14h0m0 15h0m0 11h0m0 5h0m0 2h0m0 1h0m0 7h0m0 6h0m0 1h0m0 3h0m0 1h0m0 5h0m0 25h0m0 5h0m0 3h0m0 11h0m0 12h0m1-215h0m0 11h0m0 10h0m0 15h0m0 22h0m0 3h0m0 51h0m0 6h0m0 8h0m0 2h0m0 2h0m0 9h0m0 1h0m0 7h0m0 1h0m0 5h0m0 3h0m0 31h0m0 2h0m0 3h0m0 1h0m0 6h0m0 2h0m0 3h0m1-198h0m0 11h0m0 1h0m0 2h0m0 9h0m0 1h0m0 21h0m0 6h0m0 2h0m0 5h0m0 6h0m0 1h0m0 2h0m0 7h0m0 6h0m0 7h0m0 18h0m0 4h0m0 23h0m0 11h0m0 2h0m0 1h0m0 3h0m0 1h0m0 26h0m0 6h0m0 10h0m0 1h0m1-178h0m0 29h0m0 6h0m0 3h0m0 1h0m0 6h0m0 8h0m0 18h0m0 3h0m0 9h0m0 5h0m0 24h0m0 5h0m0 1h0m0 2h0m0 1h0m0 6h0m0 5h0m0 10h0m0 26h0m0 13h0m1-176h0m0 4h0m0 21h0m0 3h0m0 4h0m0 5h0m0 3h0m0 10h0m0 21h0m0 1h0m0 28h0m0 10h0m0 5h0m0 1h0m0 5h0m0 1h0m0 3h0m0 2h0m0 10h0m0 58h0m1-192h0m0 14h0m0 9h0m0 29h0m0 22h0m0 3h0m0 1h0m0 6h0m0 15h0m0 5h0m0 3h0m0 7h0m0 1h0m0 51h0m0 8h0m0 6h0m0 8h0m1-174h0m0 20h0m0 8h0m0 5h0m0 7h0m0 11h0m0 14h0m0 2h0m0 10h0m0 4h0m0 3h0m0 20h0m0 1h0m0 12h0m0 2h0m0 6h0m0 2h0m0 7h0m0 23h0m1-207h0m0 24h0m0 4h0m0 4h0m0 2h0m0 4h0m0 4h0m0 5h0m0 5h0m0 27h0m0 13h0m0 4h0m0 2h0m0 7h0m0 5h0m0 7h0m0 3h0m0 4h0m0 1h0m0 4h0m0 1h0m0 13h0m0 3h0m0 2h0m0 7h0m0 5h0m0 13h0m0 1h0m0 1h0m0 21h0m0 7h0m0 4h0m1-197h0m0 23h0m0 3h0m0 12h0m0 16h0m0 1h0m0 5h0m0 5h0m0 1h0m0 14h0m0 6h0m0 39h0m0 4h0m0 1h0m0 1h0m0 6h0m0 9h0m0 6h0m0 6h0m0 10h0m0 11h0m0 10h0m0 2h0m0 4h0m1-161h0m0 3h0m0 4h0m0 7h0m0 19h0m0 6h0m0 24h0m0 1h0m0 5h0m0 7h0m0 3h0m0 3h0m0 1h0m0 2h0m0 3h0m0 7h0m0 36h0m0 1h0m0 13h0m0 7h0m0 3h0m0 5h0m0 27h0m1-202h0m0 15h0m0 8h0m0 10h0m0 12h0m0 4h0m0 27h0m0 20h0m0 1h0m0 6h0m0 1h0m0 8h0m0 2h0m0 8h0m0 6h0m0 10h0m0 4h0m0 1h0m0 1h0m0 2h0m0 25h0m0 3h0m0 7h0m0 4h0m1-264h0m0 81h0m0 7h0m0 1h0m0 10h0m0 29h0m0 6h0m0 5h0m0 3h0m0 12h0m0 5h0m0 8h0m0 10h0m0 11h0m0 20h0m0 11h0m0 3h0m0 22h0m0 5h0m0 1h0m0 12h0m0 1h0m1-189h0m0 13h0m0 15h0m0 23h0m0 15h0m0 4h0m0 5h0m0 6h0m0 7h0m0 1h0m0 8h0m0 3h0m0 5h0m0 4h0m0 7h0m0 6h0m0 36h0m0 10h0m0 13h0m0 2h0m0 1h0m1-187h0m0 35h0m0 11h0m0 25h0m0 3h0m0 30h0m0 13h0m0 1h0m0 3h0m0 2h0m0 8h0m0 1h0m0 27h0m0 21h0m0 2h0m0 4h0m0 2h0m0 7h0m0 11h0m1-198h0m0 62h0m0 10h0m0 11h0m0 7h0m0 6h0m0 2h0m0 5h0m0 11h0m0 10h0m0 11h0m0 9h0m0 3h0m0 2h0m0 5h0m0 6h0m0 3h0m0 8h0m0 6h0m0 1h0m0 2h0m1-179h0m0 4h0m0 6h0m0 19h0m0 1h0m0 7h0m0 3h0m0 5h0m0 8h0m0 4h0m0 2h0m0 5h0m0 32h0m0 6h0m0 8h0m0 1h0m0 8h0m0 8h0m0 3h0m0 16h0m0 2h0m0 7h0m0 7h0m0 6h0m0 4h0m1-172h0m0 6h0m0 21h0m0 8h0m0 39h0m0 8h0m0 7h0m0 3h0m0 3h0m0 3h0m0 1h0m0 4h0m0 11h0m0 6h0m0 1h0m0 4h0m0 2h0m0 5h0m0 2h0m0 15h0m0 3h0m0 9h0m0 10h0m1-192h0m0 13h0m0 5h0m0 23h0m0 2h0m0 5h0m0 12h0m0 3h0m0 6h0m0 12h0m0 4h0m0 9h0m0 8h0m0 1h0m0 5h0m0 9h0m0 4h0m0 3h0m0 5h0m0 5h0m0 1h0m0 1h0m0 3h0m0 4h0m0 1h0m0 7h0m0 1h0m0 4h0m0 7h0m0 9h0m0 5h0m0 1h0m0 2h0m0 7h0m0 7h0m0 6h0m0 6h0m0 11h0m1-194h0m0 18h0m0 4h0m0 12h0m0 20h0m0 7h0m0 26h0m0 8h0m0 2h0m0 2h0m0 11h0m0 1h0m0 6h0m0 15h0m0 5h0m0 19h0m0 4h0m0 7h0m1-177h0m0 6h0m0 9h0m0 12h0m0 6h0m0 11h0m0 4h0m0 1h0m0 9h0m0 5h0m0 3h0m0 7h0m0 4h0m0 6h0m0 6h0m0 2h0m0 27h0m0 9h0m0 10h0m0 2h0m0 2h0m0 4h0m0 3h0m0 4h0m0 1h0m0 5h0m0 1h0m0 11h0m0 1h0m0 2h0m0 1h0m1-197h0m0 47h0m0 7h0m0 14h0m0 3h0m0 2h0m0 15h0m0 21h0m0 1h0m0 15h0m0 2h0m0 6h0m0 7h0m0 3h0m0 18h0m0 1h0m0 4h0m0 22h0m0 11h0m0 1h0m0 2h0m0 7h0m1-176h0m0 10h0m0 1h0m0 7h0m0 7h0m0 7h0m0 7h0m0 3h0m0 5h0m0 4h0m0 3h0m0 7h0m0 4h0m0 9h0m0 4h0m0 4h0m0 13h0m0 11h0m0 2h0m0 14h0m0 9h0m0 6h0m0 2h0m0 16h0m0 3h0m0 2h0m0 3h0m0 5h0m0 5h0m0 2h0m0 1h0m0 1h0m0 1h0m1-226h0m0 49h0m0 13h0m0 1h0m0 9h0m0 12h0m0 15h0m0 3h0m0 3h0m0 30h0m0 8h0m0 10h0m0 8h0m0 6h0m0 2h0m0 12h0m0 1h0m0 5h0m0 5h0m0 2h0m0 1h0m0 2h0m0 7h0m0 3h0m0 11h0m1-175h0m0 9h0m0 6h0m0 3h0m0 7h0m0 31h0m0 12h0m0 19h0m0 3h0m0 5h0m0 6h0m0 5h0m0 1h0m0 3h0m0 7h0m0 6h0m0 3h0m0 1h0m0 5h0m0 1h0m0 1h0m0 4h0m0 5h0m0 1h0m0 17h0m0 1h0m0 5h0m0 2h0m0 1h0m1-172h0m0 5h0m0 35h0m0 8h0m0 34h0m0 23h0m0 7h0m0 1h0m0 7h0m0 14h0m0 13h0m0 3h0m0 13h0m0 18h0m1-188h0m0 15h0m0 4h0m0 1h0m0 2h0m0 4h0m0 7h0m0 55h0m0 2h0m0 18h0m0 11h0m0 1h0m0 3h0m0 7h0m0 6h0m0 1h0m0 3h0m0 3h0m0 4h0m0 8h0m0 3h0m0 8h0m0 5h0m0 3h0m0 4h0m0 6h0m0 5h0m1-187h0m0 6h0m0 11h0m0 11h0m0 4h0m0 1h0m0 21h0m0 4h0m0 18h0m0 1h0m0 4h0m0 3h0m0 14h0m0 22h0m0 3h0m0 3h0m0 2h0m0 7h0m0 3h0m0 6h0m0 6h0m0 2h0m0 5h0m0 1h0m0 1h0m0 6h0m0 7h0m0 2h0m0 1h0m0 2h0m0 3h0m1-181h0m0 4h0m0 28h0m0 3h0m0 23h0m0 1h0m0 14h0m0 14h0m0 8h0m0 4h0m0 5h0m0 5h0m0 5h0m0 8h0m0 13h0m0 4h0m0 4h0m0 5h0m0 1h0m0 9h0m0 10h0m0 1h0m0 2h0m0 1h0m0 1h0m0 15h0m1-197h0m0 14h0m0 1h0m0 3h0m0 8h0m0 23h0m0 9h0m0 3h0m0 8h0m0 5h0m0 27h0m0 7h0m0 3h0m0 13h0m0 2h0m0 2h0m0 8h0m0 22h0m0 1h0m0 3h0m0 4h0m0 5h0m0 3h0m0 8h0m0 8h0m0 4h0m1-190h0m0 27h0m0 16h0m0 19h0m0 4h0m0 9h0m0 5h0m0 5h0m0 2h0m0 10h0m0 1h0m0 3h0m0 5h0m0 15h0m0 9h0m0 1h0m0 3h0m0 1h0m0 4h0m0 1h0m0 3h0m0 9h0m0 5h0m0 6h0m0 2h0m0 2h0m0 4h0m0 3h0m0 1h0m0 4h0m0 1h0m0 1h0m0 1h0m0 3h0m0 6h0m0 4h0m1-202h0m0 10h0m0 22h0m0 5h0m0 4h0m0 6h0m0 4h0m0 35h0m0 7h0m0 14h0m0 1h0m0 5h0m0 12h0m0 11h0m0 5h0m0 2h0m0 5h0m0 1h0m0 2h0m0 3h0m0 3h0m0 3h0m0 6h0m0 12h0m0 3h0m0 2h0m0 1h0m0 6h0m0 10h0m0 2h0m0 10h0m1-266h0m0 72h0m0 6h0m0 4h0m0 1h0m0 21h0m0 4h0m0 4h0m0 18h0m0 8h0m0 16h0m0 6h0m0 4h0m0 7h0m0 3h0m0 9h0m0 1h0m0 5h0m0 2h0m0 4h0m0 4h0m0 3h0m0 7h0m0 4h0m0 10h0m0 2h0m0 5h0m0 1h0m0 2h0m0 6h0m0 5h0m0 2h0m0 29h0m1-209h0m0 2h0m0 2h0m0 8h0m0 9h0m0 5h0m0 9h0m0 2h0m0 1h0m0 9h0m0 1h0m0 32h0m0 14h0m0 3h0m0 14h0m0 2h0m0 4h0m0 2h0m0 6h0m0 4h0m0 8h0m0 1h0m0 1h0m0 5h0m0 3h0m0 8h0m0 6h0m0 3h0m0 4h0m0 5h0m0 7h0m0 5h0m0 5h0m0 1h0m1-185h0m0 6h0m0 1h0m0 22h0m0 4h0m0 10h0m0 15h0m0 4h0m0 13h0m0 11h0m0 6h0m0 5h0m0 2h0m0 4h0m0 6h0m0 1h0m0 4h0m0 2h0m0 3h0m0 1h0m0 14h0m0 32h0m0 6h0m0 4h0m1-175h0m0 10h0m0 15h0m0 11h0m0 19h0m0 2h0m0 8h0m0 25h0m0 1h0m0 25h0m0 2h0m0 5h0m0 10h0m0 2h0m0 2h0m0 14h0m0 6h0m0 6h0m0 16h0m1-196h0m0 4h0m0 5h0m0 16h0m0 13h0m0 34h0m0 4h0m0 2h0m0 3h0m0 5h0m0 13h0m0 2h0m0 5h0m0 15h0m0 5h0m0 2h0m0 2h0m0 1h0m0 1h0m0 2h0m0 4h0m0 4h0m0 1h0m0 7h0m0 1h0m0 3h0m0 10h0m0 5h0m0 5h0m0 4h0m0 5h0m0 1h0m0 8h0m0 4h0m0 6h0m1-215h0m0 10h0m0 15h0m0 11h0m0 5h0m0 4h0m0 20h0m0 2h0m0 2h0m0 10h0m0 40h0m0 4h0m0 4h0m0 8h0m0 1h0m0 6h0m0 9h0m0 5h0m0 4h0m0 8h0m0 5h0m0 6h0m0 19h0m0 6h0m0 2h0m0 12h0m1-183h0m0 2h0m0 4h0m0 19h0m0 7h0m0 4h0m0 6h0m0 33h0m0 3h0m0 7h0m0 2h0m0 3h0m0 5h0m0 3h0m0 14h0m0 1h0m0 13h0m0 1h0m0 8h0m0 3h0m0 9h0m0 1h0m0 9h0m0 3h0m0 1h0m0 10h0m0 4h0m0 2h0m0 2h0m0 3h0m1-180h0m0 8h0m0 1h0m0 17h0m0 4h0m0 6h0m0 11h0m0 10h0m0 4h0m0 1h0m0 2h0m0 15h0m0 20h0m0 7h0m0 19h0m0 12h0m0 1h0m0 1h0m0 1h0m0 5h0m0 2h0m0 4h0m0 2h0m0 2h0m0 1h0m0 1h0m0 7h0m0 2h0m0 5h0m0 4h0m1-174h0m0 13h0m0 13h0m0 9h0m0 1h0m0 7h0m0 4h0m0 6h0m0 1h0m0 1h0m0 22h0m0 15h0m0 1h0m0 1h0m0 5h0m0 4h0m0 5h0m0 2h0m0 2h0m0 8h0m0 17h0m0 4h0m0 3h0m0 2h0m0 7h0m0 5h0m0 1h0m0 4h0m0 2h0m0 2h0m0 2h0m0 5h0m1-150h0m0 9h0m0 10h0m0 22h0m0 3h0m0 3h0m0 4h0m0 53h0m0 8h0m0 2h0m0 2h0m0 2h0m0 1h0m0 10h0m0 21h0m1-181h0m0 10h0m0 11h0m0 2h0m0 18h0m0 9h0m0 3h0m0 11h0m0 4h0m0 4h0m0 1h0m0 4h0m0 8h0m0 18h0m0 5h0m0 6h0m0 1h0m0 8h0m0 6h0m0 11h0m0 14h0m0 10h0m0 3h0m0 1h0m0 1h0m0 7h0m0 4h0m0 8h0m1-213h0m0 42h0m0 14h0m0 2h0m0 5h0m0 17h0m0 9h0m0 6h0m0 12h0m0 5h0m0 7h0m0 36h0m0 1h0m0 1h0m0 2h0m0 6h0m0 1h0m0 3h0m0 2h0m0 7h0m0 8h0m0 3h0m0 3h0m0 4h0m1-152h0m0 9h0m0 11h0m0 3h0m0 24h0m0 9h0m0 10h0m0 2h0m0 3h0m0 9h0m0 6h0m0 9h0m0 2h0m0 1h0m0 1h0m0 2h0m0 6h0m0 5h0m0 3h0m0 5h0m0 23h0m0 2h0m0 4h0m0 14h0m1-205h0m0 12h0m0 2h0m0 26h0m0 7h0m0 20h0m0 22h0m0 6h0m0 6h0m0 15h0m0 2h0m0 2h0m0 1h0m0 2h0m0 8h0m0 20h0m0 8h0m0 7h0m0 1h0m0 5h0m0 1h0m0 4h0m0 2h0m0 1h0m0 9h0m0 1h0m0 3h0m0 4h0m0 3h0m0 8h0m1-347h0m0 154h0m0 5h0m0 8h0m0 15h0m0 29h0m0 11h0m0 8h0m0 6h0m0 12h0m0 17h0m0 4h0m0 4h0m0 4h0m0 10h0m0 2h0m0 18h0m0 5h0m0 2h0m0 8h0m1-160h0m0 11h0m0 5h0m0 11h0m0 4h0m0 6h0m0 36h0m0 7h0m0 2h0m0 16h0m0 8h0m0 5h0m0 7h0m0 10h0m0 2h0m0 2h0m0 11h0m0 1h0m0 3h0m0 9h0m0 1h0m0 3h0m0 5h0m0 1h0m0 3h0m0 8h0m0 1h0m1-209h0m0 11h0m0 14h0m0 8h0m0 12h0m0 4h0m0 7h0m0 2h0m0 8h0m0 3h0m0 24h0m0 15h0m0 1h0m0 20h0m0 12h0m0 6h0m0 5h0m0 2h0m0 10h0m0 5h0m0 3h0m0 1h0m0 5h0m0 3h0m0 2h0m0 2h0m0 5h0m0 2h0m0 3h0m0 3h0m0 5h0m0 1h0m0 7h0m1-197h0m0 5h0m0 12h0m0 17h0m0 4h0m0 21h0m0 12h0m0 4h0m0 1h0m0 24h0m0 2h0m0 1h0m0 18h0m0 7h0m0 3h0m0 16h0m0 5h0m0 8h0m0 3h0m0 3h0m0 3h0m0 2h0m0 5h0m0 1h0m0 2h0m0 1h0m0 4h0m0 8h0m1-193h0m0 12h0m0 5h0m0 35h0m0 2h0m0 13h0m0 7h0m0 7h0m0 31h0m0 6h0m0 4h0m0 7h0m0 28h0m0 3h0m0 2h0m0 6h0m0 12h0m0 9h0m1-195h0m0 31h0m0 6h0m0 17h0m0 11h0m0 6h0m0 24h0m0 37h0m0 5h0m0 7h0m0 3h0m0 3h0m0 13h0m0 7h0m0 1h0m0 1h0m0 3h0m0 4h0m0 1h0m0 7h0m0 2h0m1-290h0m0 108h0m0 4h0m0 7h0m0 12h0m0 6h0m0 14h0m0 5h0m0 29h0m0 1h0m0 14h0m0 9h0m0 1h0m0 15h0m0 3h0m0 7h0m0 10h0m0 7h0m0 5h0m0 2h0m0 2h0m0 2h0m0 3h0m0 1h0m0 1h0m0 3h0m0 7h0m0 1h0m0 8h0m0 6h0m0 6h0m1-198h0m0 3h0m0 2h0m0 2h0m0 19h0m0 8h0m0 92h0m0 2h0m0 1h0m0 2h0m0 1h0m0 1h0m0 18h0m0 5h0m0 7h0m0 8h0m0 5h0m0 1h0m0 3h0m0 1h0m0 5h0m0 1h0m1-178h0m0 43h0m0 28h0m0 6h0m0 4h0m0 1h0m0 10h0m0 6h0m0 22h0m0 11h0m0 4h0m0 4h0m0 3h0m0 2h0m0 2h0m0 4h0m0 17h0m0 3h0m0 2h0m0 5h0m0 16h0m1-186h0m0 6h0m0 2h0m0 9h0m0 2h0m0 6h0m0 3h0m0 17h0m0 10h0m0 7h0m0 2h0m0 13h0m0 6h0m0 6h0m0 10h0m0 9h0m0 3h0m0 1h0m0 14h0m0 1h0m0 11h0m0 8h0m0 1h0m0 4h0m0 3h0m0 7h0m0 3h0m0 15h0m0 1h0m0 2h0m0 5h0m1-220h0m0 26h0m0 5h0m0 39h0m0 7h0m0 6h0m0 8h0m0 2h0m0 5h0m0 12h0m0 22h0m0 4h0m0 6h0m0 4h0m0 8h0m0 8h0m0 2h0m0 6h0m0 2h0m0 8h0m0 3h0m0 1h0m0 8h0m0 32h0m1-206h0m0 15h0m0 10h0m0 2h0m0 1h0m0 3h0m0 24h0m0 1h0m0 26h0m0 34h0m0 17h0m0 8h0m0 4h0m0 8h0m0 5h0m0 7h0m0 9h0m0 2h0m0 2h0m0 3h0m0 1h0m0 11h0m1-170h0m0 8h0m0 6h0m0 15h0m0 18h0m0 1h0m0 17h0m0 3h0m0 7h0m0 12h0m0 4h0m0 10h0m0 3h0m0 10h0m0 3h0m0 6h0m0 2h0m0 4h0m0 13h0m0 9h0m0 2h0m0 4h0m0 9h0m0 27h0m1-218h0m0 7h0m0 6h0m0 3h0m0 11h0m0 1h0m0 22h0m0 23h0m0 5h0m0 36h0m0 2h0m0 1h0m0 11h0m0 5h0m0 3h0m0 3h0m0 3h0m0 9h0m0 5h0m0 4h0m0 13h0m0 1h0m0 7h0m0 3h0m0 1h0m0 5h0m0 5h0m0 1h0m0 1h0m0 3h0m0 2h0m0 2h0m0 7h0m1-194h0m0 2h0m0 6h0m0 11h0m0 11h0m0 4h0m0 31h0m0 6h0m0 24h0m0 8h0m0 3h0m0 13h0m0 7h0m0 5h0m0 4h0m0 14h0m0 4h0m0 5h0m0 3h0m0 4h0m0 2h0m0 3h0m0 14h0m0 7h0m1-195h0m0 13h0m0 18h0m0 5h0m0 20h0m0 16h0m0 3h0m0 19h0m0 3h0m0 4h0m0 2h0m0 6h0m0 10h0m0 1h0m0 21h0m0 2h0m0 3h0m0 4h0m0 2h0m0 2h0m0 8h0m0 2h0m0 2h0m0 4h0m0 2h0m0 4h0m0 7h0m0 2h0m0 14h0m0 51h0m1-254h0m0 8h0m0 1h0m0 36h0m0 11h0m0 16h0m0 6h0m0 7h0m0 7h0m0 10h0m0 8h0m0 2h0m0 1h0m0 8h0m0 15h0m0 3h0m0 1h0m0 9h0m0 7h0m0 2h0m0 2h0m0 8h0m0 8h0m0 5h0m0 6h0m0 8h0m0 1h0m1-182h0m0 17h0m0 5h0m0 6h0m0 21h0m0 11h0m0 23h0m0 4h0m0 31h0m0 1h0m0 5h0m0 1h0m0 7h0m0 4h0m0 5h0m0 1h0m0 6h0m0 10h0m0 18h0m0 7h0m0 17h0m1-194h0m0 8h0m0 9h0m0 22h0m0 8h0m0 12h0m0 1h0m0 16h0m0 2h0m0 8h0m0 4h0m0 24h0m0 2h0m0 9h0m0 12h0m0 5h0m0 7h0m0 2h0m0 6h0m0 4h0m0 17h0m0 10h0m1-190h0m0 23h0m0 11h0m0 7h0m0 3h0m0 2h0m0 4h0m0 4h0m0 11h0m0 2h0m0 5h0m0 10h0m0 4h0m0 2h0m0 7h0m0 12h0m0 1h0m0 4h0m0 5h0m0 5h0m0 4h0m0 2h0m0 4h0m0 1h0m0 12h0m0 2h0m0 1h0m0 2h0m0 2h0m0 8h0m0 9h0m0 4h0m1-199h0m0 11h0m0 3h0m0 1h0m0 2h0m0 11h0m0 48h0m0 27h0m0 1h0m0 1h0m0 3h0m0 3h0m0 6h0m0 19h0m0 4h0m0 5h0m0 11h0m0 2h0m0 10h0m0 5h0m0 9h0m0 1h0m0 9h0m0 3h0m0 1h0m0 2h0m0 3h0m0 9h0m1-206h0m0 6h0m0 1h0m0 11h0m0 5h0m0 7h0m0 6h0m0 2h0m0 29h0m0 11h0m0 2h0m0 20h0m0 10h0m0 9h0m0 4h0m0 15h0m0 8h0m0 4h0m0 7h0m0 1h0m0 2h0m0 4h0m0 7h0m0 1h0m0 5h0m0 25h0m1-204h0m0 4h0m0 5h0m0 21h0m0 2h0m0 11h0m0 10h0m0 1h0m0 2h0m0 2h0m0 6h0m0 34h0m0 17h0m0 9h0m0 11h0m0 7h0m0 3h0m0 2h0m0 1h0m0 7h0m0 2h0m0 1h0m0 5h0m0 1h0m0 2h0m0 1h0m0 4h0m0 1h0m0 19h0m1-198h0m0 3h0m0 4h0m0 8h0m0 41h0m0 24h0m0 5h0m0 5h0m0 1h0m0 7h0m0 13h0m0 4h0m0 24h0m0 6h0m0 6h0m0 3h0m0 14h0m0 1h0m0 24h0m0 4h0m0 12h0m0 1h0m1-202h0m0 1h0m0 10h0m0 27h0m0 2h0m0 5h0m0 20h0m0 2h0m0 5h0m0 25h0m0 1h0m0 1h0m0 2h0m0 21h0m0 6h0m0 4h0m0 1h0m0 5h0m0 7h0m0 3h0m0 2h0m0 1h0m0 11h0m0 9h0m0 2h0m0 19h0m0 14h0m1-212h0m0 18h0m0 12h0m0 1h0m0 8h0m0 27h0m0 13h0m0 1h0m0 3h0m0 6h0m0 18h0m0 49h0m0 1h0m0 4h0m0 2h0m0 6h0m0 1h0m0 5h0m0 15h0m0 4h0m0 4h0m0 7h0m1-173h0m0 4h0m0 15h0m0 8h0m0 4h0m0 4h0m0 9h0m0 6h0m0 2h0m0 16h0m0 9h0m0 7h0m0 8h0m0 12h0m0 11h0m0 2h0m0 2h0m0 2h0m0 3h0m0 2h0m0 15h0m0 9h0m0 5h0m0 3h0m0 3h0m0 6h0m0 15h0m0 1h0m1-215h0m0 2h0m0 13h0m0 22h0m0 8h0m0 2h0m0 26h0m0 2h0m0 19h0m0 13h0m0 23h0m0 30h0m0 3h0m0 9h0m0 10h0m0 6h0m0 7h0m0 3h0m0 12h0m1-195h0m0 7h0m0 7h0m0 8h0m0 35h0m0 12h0m0 23h0m0 3h0m0 7h0m0 61h0m0 3h0m0 1h0m0 3h0m0 2h0m1-164h0m0 47h0m0 6h0m0 11h0m0 25h0m0 2h0m0 24h0m0 2h0m0 3h0m0 3h0m0 4h0m0 12h0m0 3h0m0 6h0m0 14h0m0 3h0m1-212h0m0 19h0m0 19h0m0 7h0m0 11h0m0 11h0m0 10h0m0 5h0m0 28h0m0 1h0m0 16h0m0 7h0m0 4h0m0 2h0m0 20h0m0 15h0m0 4h0m0 1h0m0 3h0m0 8h0m0 5h0m0 1h0m0 17h0m0 8h0m0 1h0m0 5h0m1-209h0m0 15h0m0 6h0m0 11h0m0 18h0m0 25h0m0 3h0m0 4h0m0 1h0m0 27h0m0 7h0m0 18h0m0 3h0m0 16h0m0 4h0m0 3h0m0 1h0m0 17h0m0 3h0m0 1h0m0 2h0m0 3h0m0 14h0m0 11h0m1-201h0m0 17h0m0 16h0m0 11h0m0 14h0m0 14h0m0 10h0m0 7h0m0 4h0m0 16h0m0 8h0m0 13h0m0 3h0m0 8h0m0 10h0m0 9h0m0 4h0m0 9h0m0 8h0m0 7h0m0 4h0m1-191h0m0 21h0m0 7h0m0 3h0m0 20h0m0 13h0m0 18h0m0 3h0m0 3h0m0 5h0m0 4h0m0 7h0m0 21h0m0 6h0m0 5h0m0 5h0m0 1h0m0 13h0m0 5h0m0 4h0m0 28h0m0 2h0m1-254h0m0 56h0m0 3h0m0 7h0m0 28h0m0 8h0m0 6h0m0 5h0m0 7h0m0 12h0m0 10h0m0 3h0m0 20h0m0 12h0m0 7h0m0 3h0m0 19h0m0 4h0m0 17h0m0 9h0m0 2h0m0 1h0m0 2h0m0 11h0m0 6h0m1-199h0m0 7h0m0 2h0m0 10h0m0 9h0m0 11h0m0 7h0m0 25h0m0 29h0m0 11h0m0 7h0m0 12h0m0 14h0m0 2h0m0 2h0m0 4h0m0 17h0m0 20h0m0 4h0m1-192h0m0 3h0m0 8h0m0 5h0m0 3h0m0 2h0m0 19h0m0 3h0m0 2h0m0 6h0m0 5h0m0 1h0m0 6h0m0 2h0m0 1h0m0 19h0m0 1h0m0 1h0m0 14h0m0 6h0m0 5h0m0 8h0m0 2h0m0 1h0m0 3h0m0 5h0m0 11h0m0 4h0m0 1h0m0 27h0m0 10h0m0 1h0m0 8h0m1-196h0m0 41h0m0 6h0m0 2h0m0 8h0m0 21h0m0 1h0m0 12h0m0 1h0m0 13h0m0 2h0m0 5h0m0 1h0m0 4h0m0 5h0m0 7h0m0 2h0m0 23h0m0 5h0m0 7h0m0 2h0m0 2h0m0 9h0m0 5h0m0 1h0m0 3h0m0 20h0m1-219h0m0 16h0m0 3h0m0 1h0m0 10h0m0 2h0m0 1h0m0 9h0m0 1h0m0 7h0m0 2h0m0 12h0m0 6h0m0 3h0m0 62h0m0 6h0m0 6h0m0 3h0m0 7h0m0 4h0m0 1h0m0 3h0m0 4h0m0 5h0m0 8h0m0 2h0m0 3h0m0 22h0m1-190h0m0 19h0m0 20h0m0 2h0m0 8h0m0 1h0m0 9h0m0 12h0m0 16h0m0 13h0m0 14h0m0 2h0m0 1h0m0 2h0m0 5h0m0 1h0m0 3h0m0 4h0m0 4h0m0 2h0m0 1h0m0 2h0m0 10h0m0 4h0m0 1h0m0 4h0m0 1h0m0 8h0m0 3h0m0 3h0m0 2h0m1-173h0m0 4h0m0 13h0m0 2h0m0 10h0m0 55h0m0 8h0m0 9h0m0 2h0m0 7h0m0 4h0m0 2h0m0 1h0m0 1h0m0 2h0m0 10h0m0 8h0m0 1h0m0 13h0m0 12h0m0 14h0m0 5h0m0 4h0m0 1h0m0 3h0m1-235h0m0 30h0m0 26h0m0 6h0m0 48h0m0 8h0m0 20h0m0 18h0m0 8h0m0 1h0m0 31h0m0 7h0m0 5h0m0 1h0m0 1h0m0 11h0m0 5h0m0 7h0m0 1h0m1-215h0m0 5h0m0 15h0m0 10h0m0 19h0m0 6h0m0 1h0m0 5h0m0 22h0m0 9h0m0 22h0m0 8h0m0 1h0m0 8h0m0 9h0m0 7h0m0 2h0m0 2h0m0 8h0m0 3h0m0 5h0m0 14h0m0 13h0m0 1h0m0 3h0m0 10h0m0 2h0m0 3h0m1-251h0m0 57h0m0 3h0m0 2h0m0 7h0m0 40h0m0 17h0m0 1h0m0 26h0m0 33h0m0 5h0m0 13h0m0 3h0m0 1h0m0 5h0m0 4h0m0 3h0m0 9h0m0 1h0m0 4h0m0 4h0m0 1h0m0 2h0m0 10h0m1-187h0m0 1h0m0 2h0m0 6h0m0 1h0m0 16h0m0 26h0m0 4h0m0 3h0m0 1h0m0 2h0m0 13h0m0 10h0m0 12h0m0 4h0m0 1h0m0 6h0m0 13h0m0 19h0m0 1h0m0 1h0m0 21h0m0 2h0m0 1h0m0 1h0m0 26h0m1-220h0m0 24h0m0 31h0m0 8h0m0 12h0m0 4h0m0 13h0m0 5h0m0 13h0m0 1h0m0 20h0m0 15h0m0 9h0m0 6h0m0 1h0m0 1h0m0 19h0m0 2h0m0 7h0m0 4h0m0 1h0m0 15h0m0 4h0m0 5h0m1-212h0m0 23h0m0 30h0m0 5h0m0 5h0m0 11h0m0 1h0m0 6h0m0 2h0m0 3h0m0 3h0m0 5h0m0 3h0m0 16h0m0 4h0m0 2h0m0 4h0m0 5h0m0 31h0m0 1h0m0 2h0m0 3h0m0 6h0m0 1h0m0 6h0m0 7h0m0 5h0m0 3h0m0 3h0m1-212h0m0 15h0m0 2h0m0 9h0m0 10h0m0 2h0m0 5h0m0 3h0m0 6h0m0 15h0m0 4h0m0 3h0m0 5h0m0 1h0m0 32h0m0 2h0m0 10h0m0 3h0m0 7h0m0 12h0m0 11h0m0 19h0m0 19h0m0 1h0m0 10h0m0 3h0m0 16h0m1-205h0m0 1h0m0 6h0m0 1h0m0 18h0m0 9h0m0 3h0m0 2h0m0 4h0m0 7h0m0 19h0m0 14h0m0 5h0m0 15h0m0 6h0m0 19h0m0 1h0m0 2h0m0 4h0m0 9h0m0 9h0m0 1h0m0 16h0m0 3h0m0 2h0m0 8h0m1-162h0m0 6h0m0 3h0m0 14h0m0 7h0m0 1h0m0 32h0m0 8h0m0 15h0m0 16h0m0 9h0m0 9h0m0 2h0m0 10h0m0 3h0m0 3h0m0 3h0m0 1h0m0 1h0m0 5h0m0 2h0m0 11h0m0 6h0m0 5h0m0 2h0m1-170h0m0 15h0m0 10h0m0 1h0m0 6h0m0 6h0m0 4h0m0 3h0m0 12h0m0 32h0m0 5h0m0 10h0m0 1h0m0 9h0m0 12h0m0 6h0m0 1h0m0 2h0m0 8h0m0 15h0m0 17h0m1-206h0m0 21h0m0 2h0m0 29h0m0 2h0m0 6h0m0 1h0m0 4h0m0 51h0m0 18h0m0 15h0m0 2h0m0 7h0m0 11h0m0 9h0m0 12h0m1-186h0m0 17h0m0 21h0m0 15h0m0 9h0m0 8h0m0 14h0m0 17h0m0 17h0m0 1h0m0 2h0m0 7h0m0 9h0m0 3h0m0 2h0m0 6h0m0 2h0m0 5h0m0 6h0m0 3h0m0 10h0m0 4h0m0 1h0m0 10h0m0 17h0m1-210h0m0 36h0m0 18h0m0 11h0m0 12h0m0 16h0m0 5h0m0 9h0m0 2h0m0 34h0m0 8h0m0 6h0m0 2h0m0 4h0m0 1h0m0 10h0m0 12h0m0 17h0m1-190h0m0 37h0m0 43h0m0 11h0m0 3h0m0 7h0m0 4h0m0 1h0m0 12h0m0 2h0m0 15h0m0 2h0m0 2h0m0 9h0m0 7h0m0 1h0m0 4h0m0 6h0m0 1h0m0 7h0m0 4h0m0 8h0m0 10h0m0 2h0m0 1h0m0 1h0m1-216h0m0 53h0m0 7h0m0 1h0m0 9h0m0 8h0m0 19h0m0 10h0m0 19h0m0 13h0m0 5h0m0 5h0m0 10h0m0 8h0m0 16h0m0 3h0m0 5h0m0 14h0m0 1h0m0 12h0m1-206h0m0 45h0m0 6h0m0 7h0m0 6h0m0 7h0m0 8h0m0 2h0m0 17h0m0 1h0m0 4h0m0 1h0m0 3h0m0 10h0m0 7h0m0 1h0m0 4h0m0 1h0m0 27h0m0 12h0m0 1h0m0 3h0m0 2h0m0 18h0m0 3h0m0 1h0m1-212h0m0 7h0m0 9h0m0 2h0m0 19h0m0 2h0m0 1h0m0 14h0m0 5h0m0 4h0m0 4h0m0 1h0m0 13h0m0 2h0m0 1h0m0 1h0m0 24h0m0 7h0m0 11h0m0 7h0m0 16h0m0 6h0m0 5h0m0 9h0m0 1h0m0 2h0m0 5h0m0 4h0m0 11h0m0 1h0m1-174h0m0 15h0m0 2h0m0 4h0m0 12h0m0 2h0m0 3h0m0 2h0m0 1h0m0 11h0m0 5h0m0 5h0m0 5h0m0 18h0m0 5h0m0 9h0m0 4h0m0 5h0m0 5h0m0 5h0m0 1h0m0 11h0m0 11h0m0 1h0m0 12h0m0 4h0m0 5h0m0 22h0m0 12h0m0 3h0m1-233h0m0 13h0m0 1h0m0 8h0m0 14h0m0 7h0m0 9h0m0 24h0m0 10h0m0 20h0m0 3h0m0 12h0m0 2h0m0 10h0m0 3h0m0 12h0m0 19h0m0 3h0m0 3h0m0 13h0m0 10h0m0 6h0m0 15h0m0 3h0m0 2h0m0 5h0m0 5h0m1-211h0m0 15h0m0 8h0m0 21h0m0 16h0m0 28h0m0 6h0m0 16h0m0 2h0m0 26h0m0 10h0m0 1h0m0 4h0m0 4h0m0 18h0m0 25h0m0 4h0m0 2h0m0 2h0m1-232h0m0 54h0m0 4h0m0 24h0m0 5h0m0 7h0m0 1h0m0 1h0m0 4h0m0 4h0m0 3h0m0 6h0m0 1h0m0 11h0m0 5h0m0 3h0m0 2h0m0 7h0m0 15h0m0 13h0m0 8h0m0 3h0m0 4h0m0 6h0m0 9h0m0 14h0m0 5h0m1-224h0m0 27h0m0 23h0m0 2h0m0 14h0m0 5h0m0 6h0m0 10h0m0 35h0m0 16h0m0 6h0m0 5h0m0 7h0m0 2h0m0 4h0m0 7h0m0 5h0m0 4h0m0 3h0m0 5h0m0 4h0m0 1h0m0 4h0m0 3h0m0 11h0m0 13h0m1-208h0m0 25h0m0 7h0m0 3h0m0 2h0m0 13h0m0 2h0m0 20h0m0 1h0m0 19h0m0 16h0m0 4h0m0 3h0m0 1h0m0 5h0m0 8h0m0 3h0m0 8h0m0 3h0m0 10h0m0 1h0m0 8h0m0 8h0m0 2h0m0 3h0m0 7h0m0 25h0m0 8h0m0 7h0m0 3h0m1-211h0m0 2h0m0 9h0m0 54h0m0 3h0m0 2h0m0 5h0m0 4h0m0 19h0m0 15h0m0 2h0m0 27h0m0 5h0m0 1h0m0 10h0m0 2h0m0 9h0m0 6h0m0 7h0m0 4h0m0 5h0m0 4h0m1-203h0m0 2h0m0 5h0m0 16h0m0 22h0m0 11h0m0 18h0m0 9h0m0 7h0m0 36h0m0 7h0m0 8h0m0 8h0m0 5h0m0 15h0m0 4h0m0 3h0m0 3h0m0 1h0m0 4h0m0 2h0m0 9h0m0 5h0m0 12h0m0 2h0m1-226h0m0 1h0m0 10h0m0 22h0m0 9h0m0 3h0m0 13h0m0 50h0m0 6h0m0 6h0m0 38h0m0 23h0m0 10h0m0 4h0m0 3h0m1-196h0m0 3h0m0 13h0m0 25h0m0 14h0m0 7h0m0 16h0m0 16h0m0 17h0m0 17h0m0 13h0m0 10h0m0 5h0m0 7h0m0 3h0m0 10h0m0 7h0m0 21h0m0 2h0m1-202h0m0 6h0m0 10h0m0 9h0m0 12h0m0 11h0m0 1h0m0 13h0m0 27h0m0 26h0m0 4h0m0 15h0m0 8h0m0 12h0m0 3h0m0 11h0m0 4h0m0 2h0m0 3h0m0 1h0m0 5h0m0 2h0m0 4h0m0 10h0m0 5h0m0 3h0m0 16h0m0 3h0m0 4h0m1-205h0m0 4h0m0 1h0m0 31h0m0 4h0m0 4h0m0 4h0m0 6h0m0 9h0m0 4h0m0 5h0m0 8h0m0 5h0m0 1h0m0 15h0m0 1h0m0 23h0m0 13h0m0 1h0m0 8h0m0 5h0m0 5h0m0 1h0m0 4h0m0 11h0m0 7h0m0 13h0m1-204h0m0 4h0m0 4h0m0 12h0m0 2h0m0 6h0m0 29h0m0 2h0m0 1h0m0 1h0m0 3h0m0 8h0m0 30h0m0 22h0m0 6h0m0 4h0m0 16h0m0 8h0m0 6h0m0 3h0m0 2h0m0 5h0m0 21h0m0 3h0m0 2h0m1-228h0m0 22h0m0 28h0m0 27h0m0 5h0m0 12h0m0 6h0m0 18h0m0 7h0m0 22h0m0 30h0m0 9h0m0 9h0m1-173h0m0 17h0m0 25h0m0 8h0m0 1h0m0 8h0m0 7h0m0 1h0m0 25h0m0 2h0m0 4h0m0 24h0m0 4h0m0 9h0m0 3h0m0 5h0m0 3h0m0 3h0m0 8h0m0 1h0m0 2h0m0 12h0m0 1h0m0 11h0m0 1h0m0 18h0m0 1h0m0 13h0m1-217h0m0 11h0m0 5h0m0 4h0m0 4h0m0 1h0m0 13h0m0 16h0m0 4h0m0 10h0m0 9h0m0 5h0m0 4h0m0 22h0m0 6h0m0 6h0m0 3h0m0 4h0m0 29h0m0 2h0m0 39h0m0 1h0m0 12h0m0 7h0m1-225h0m0 12h0m0 12h0m0 1h0m0 12h0m0 17h0m0 19h0m0 2h0m0 4h0m0 25h0m0 9h0m0 3h0m0 15h0m0 4h0m0 6h0m0 1h0m0 3h0m0 4h0m0 3h0m0 3h0m0 1h0m0 2h0m0 1h0m0 9h0m0 1h0m0 1h0m0 4h0m0 9h0m0 17h0m0 4h0m0 12h0m1-210h0m0 9h0m0 4h0m0 6h0m0 3h0m0 1h0m0 15h0m0 3h0m0 13h0m0 27h0m0 6h0m0 9h0m0 3h0m0 14h0m0 3h0m0 5h0m0 3h0m0 3h0m0 3h0m0 2h0m0 5h0m0 3h0m0 1h0m0 10h0m0 2h0m0 12h0m0 2h0m0 14h0m0 19h0m0 7h0m1-185h0m0 2h0m0 7h0m0 4h0m0 15h0m0 3h0m0 13h0m0 2h0m0 3h0m0 16h0m0 2h0m0 9h0m0 10h0m0 5h0m0 12h0m0 10h0m0 7h0m0 2h0m0 24h0m0 5h0m0 1h0m0 3h0m0 4h0m0 9h0m0 26h0m1-231h0m0 7h0m0 11h0m0 43h0m0 3h0m0 5h0m0 6h0m0 24h0m0 15h0m0 11h0m0 3h0m0 11h0m0 11h0m0 5h0m0 6h0m0 1h0m0 10h0m0 13h0m0 1h0m0 9h0m0 5h0m0 6h0m0 1h0m0 16h0m1-205h0m0 10h0m0 6h0m0 20h0m0 32h0m0 7h0m0 6h0m0 6h0m0 25h0m0 8h0m0 3h0m0 5h0m0 2h0m0 1h0m0 10h0m0 2h0m0 12h0m0 12h0m0 28h0m0 1h0m0 3h0m0 5h0m1-199h0m0 7h0m0 5h0m0 5h0m0 1h0m0 6h0m0 4h0m0 14h0m0 5h0m0 3h0m0 15h0m0 3h0m0 4h0m0 15h0m0 12h0m0 27h0m0 5h0m0 8h0m0 1h0m0 20h0m0 1h0m0 3h0m0 6h0m0 1h0m0 10h0m0 4h0m0 17h0m0 5h0m0 1h0m1-226h0m0 29h0m0 4h0m0 43h0m0 3h0m0 14h0m0 1h0m0 6h0m0 23h0m0 18h0m0 13h0m0 8h0m0 5h0m0 2h0m0 1h0m0 4h0m0 9h0m0 17h0m0 3h0m0 3h0m0 5h0m0 8h0m1-217h0m0 23h0m0 2h0m0 5h0m0 16h0m0 26h0m0 16h0m0 5h0m0 7h0m0 25h0m0 22h0m0 13h0m0 3h0m0 1h0m0 2h0m0 4h0m0 6h0m0 7h0m0 15h0m0 12h0m0 3h0m0 11h0m1-227h0m0 5h0m0 1h0m0 3h0m0 12h0m0 3h0m0 10h0m0 2h0m0 10h0m0 2h0m0 11h0m0 16h0m0 17h0m0 5h0m0 5h0m0 9h0m0 17h0m0 7h0m0 6h0m0 8h0m0 2h0m0 1h0m0 2h0m0 10h0m0 19h0m0 3h0m0 2h0m0 1h0m0 20h0m0 6h0m0 4h0m0 5h0m1-227h0m0 2h0m0 33h0m0 1h0m0 7h0m0 4h0m0 5h0m0 4h0m0 4h0m0 2h0m0 3h0m0 5h0m0 13h0m0 7h0m0 34h0m0 9h0m0 11h0m0 21h0m0 8h0m0 4h0m0 47h0m1-215h0m0 16h0m0 4h0m0 2h0m0 23h0m0 3h0m0 2h0m0 35h0m0 24h0m0 10h0m0 8h0m0 10h0m0 38h0m0 2h0m0 12h0m0 1h0m0 2h0m0 4h0m0 18h0m1-204h0m0 7h0m0 14h0m0 48h0m0 3h0m0 5h0m0 14h0m0 21h0m0 1h0m0 6h0m0 6h0m0 9h0m0 2h0m0 7h0m0 2h0m0 12h0m0 3h0m0 3h0m0 1h0m0 3h0m0 8h0m0 3h0m0 3h0m0 1h0m0 11h0m0 2h0m0 11h0m1-203h0m0 51h0m0 11h0m0 5h0m0 6h0m0 27h0m0 8h0m0 7h0m0 21h0m0 12h0m0 2h0m0 4h0m0 4h0m0 5h0m1-184h0m0 2h0m0 12h0m0 15h0m0 27h0m0 18h0m0 29h0m0 5h0m0 3h0m0 3h0m0 4h0m0 10h0m0 1h0m0 11h0m0 10h0m0 5h0m0 11h0m0 4h0m0 19h0m0 9h0m0 20h0m0 3h0m0 11h0m1-222h0m0 7h0m0 14h0m0 1h0m0 2h0m0 10h0m0 7h0m0 25h0m0 12h0m0 11h0m0 2h0m0 29h0m0 4h0m0 4h0m0 14h0m0 17h0m0 8h0m0 21h0m0 1h0m0 6h0m0 3h0m1-202h0m0 19h0m0 3h0m0 10h0m0 6h0m0 1h0m0 9h0m0 28h0m0 2h0m0 4h0m0 13h0m0 9h0m0 15h0m0 1h0m0 2h0m0 4h0m0 7h0m0 4h0m0 4h0m0 2h0m0 4h0m0 11h0m0 1h0m0 2h0m0 3h0m0 2h0m0 5h0m0 8h0m0 4h0m0 10h0m0 6h0m0 4h0m0 8h0m1-217h0m0 32h0m0 50h0m0 36h0m0 21h0m0 5h0m0 5h0m0 8h0m0 8h0m0 3h0m0 2h0m0 7h0m0 16h0m1-177h0m0 1h0m0 28h0m0 7h0m0 14h0m0 30h0m0 2h0m0 55h0m0 6h0m0 4h0m0 3h0m0 10h0m0 1h0m0 8h0m0 5h0m0 2h0m0 8h0m0 9h0m0 2h0m0 8h0m1-193h0m0 5h0m0 2h0m0 20h0m0 6h0m0 17h0m0 2h0m0 1h0m0 6h0m0 15h0m0 1h0m0 9h0m0 16h0m0 10h0m0 2h0m0 17h0m0 3h0m0 23h0m0 6h0m0 19h0m0 3h0m0 6h0m0 11h0m0 10h0m1-229h0m0 25h0m0 5h0m0 13h0m0 4h0m0 8h0m0 23h0m0 19h0m0 3h0m0 32h0m0 5h0m0 2h0m0 12h0m0 1h0m0 4h0m0 12h0m0 17h0m0 11h0m0 8h0m0 20h0m1-199h0m0 8h0m0 3h0m0 25h0m0 16h0m0 8h0m0 2h0m0 2h0m0 17h0m0 6h0m0 2h0m0 1h0m0 12h0m0 6h0m0 6h0m0 31h0m0 9h0m0 15h0m0 6h0m0 11h0m0 2h0m0 3h0m1-218h0m0 37h0m0 4h0m0 2h0m0 1h0m0 2h0m0 4h0m0 5h0m0 9h0m0 6h0m0 13h0m0 14h0m0 12h0m0 1h0m0 16h0m0 3h0m0 13h0m0 4h0m0 8h0m0 11h0m0 9h0m0 6h0m0 12h0m0 18h0m0 10h0m0 4h0m1-229h0m0 15h0m0 4h0m0 1h0m0 19h0m0 18h0m0 2h0m0 2h0m0 15h0m0 2h0m0 10h0m0 5h0m0 1h0m0 52h0m0 1h0m0 34h0m0 1h0m0 11h0m0 4h0m0 5h0m0 17h0m0 8h0m1-222h0m0 3h0m0 2h0m0 29h0m0 3h0m0 3h0m0 17h0m0 18h0m0 3h0m0 1h0m0 40h0m0 3h0m0 1h0m0 20h0m0 4h0m0 9h0m0 5h0m0 7h0m0 11h0m0 9h0m0 2h0m0 3h0m0 4h0m0 2h0m0 11h0m0 10h0m1-220h0m0 9h0m0 36h0m0 10h0m0 5h0m0 11h0m0 23h0m0 17h0m0 9h0m0 22h0m0 3h0m0 12h0m0 2h0m0 3h0m0 12h0m0 8h0m0 24h0m0 9h0m0 11h0m1-227h0m0 9h0m0 65h0m0 4h0m0 1h0m0 14h0m0 9h0m0 11h0m0 1h0m0 1h0m0 7h0m0 2h0m0 21h0m0 1h0m0 3h0m0 3h0m0 6h0m0 2h0m0 2h0m0 11h0m0 9h0m0 12h0m0 12h0m0 13h0m1-225h0m0 23h0m0 1h0m0 15h0m0 35h0m0 19h0m0 16h0m0 8h0m0 36h0m0 5h0m0 7h0m0 10h0m0 17h0m0 1h0m0 3h0m0 11h0m0 1h0m0 8h0m0 9h0m0 7h0m1-231h0m0 9h0m0 3h0m0 31h0m0 3h0m0 18h0m0 5h0m0 9h0m0 3h0m0 12h0m0 17h0m0 21h0m0 6h0m0 25h0m0 3h0m0 1h0m0 1h0m0 10h0m0 2h0m0 3h0m0 15h0m0 1h0m0 7h0m0 9h0m1-221h0m0 9h0m0 14h0m0 12h0m0 10h0m0 12h0m0 9h0m0 15h0m0 9h0m0 3h0m0 4h0m0 1h0m0 5h0m0 22h0m0 9h0m0 1h0m0 27h0m0 1h0m0 4h0m0 4h0m0 9h0m0 27h0m1-158h0m0 2h0m0 6h0m0 16h0m0 11h0m0 26h0m0 7h0m0 3h0m0 10h0m0 1h0m0 9h0m0 9h0m0 13h0m0 14h0m0 1h0m0 12h0m0 4h0m0 10h0m0 10h0m0 19h0m1-248h0m0 33h0m0 2h0m0 4h0m0 4h0m0 21h0m0 34h0m0 12h0m0 3h0m0 24h0m0 22h0m0 15h0m0 7h0m0 1h0m0 16h0m0 2h0m0 14h0m0 18h0m0 16h0m1-229h0m0 12h0m0 10h0m0 14h0m0 4h0m0 4h0m0 17h0m0 3h0m0 4h0m0 6h0m0 12h0m0 9h0m0 8h0m0 9h0m0 15h0m0 16h0m0 2h0m0 9h0m0 13h0m0 2h0m0 3h0m0 1h0m0 2h0m0 2h0m0 2h0m0 6h0m0 8h0m0 1h0m0 3h0m0 9h0m0 8h0m0 8h0m0 5h0m0 5h0m0 1h0m0 1h0m1-242h0m0 8h0m0 15h0m0 6h0m0 8h0m0 28h0m0 10h0m0 9h0m0 5h0m0 7h0m0 20h0m0 9h0m0 3h0m0 5h0m0 3h0m0 13h0m0 3h0m0 1h0m0 3h0m0 10h0m0 14h0m0 10h0m0 6h0m0 20h0m0 3h0m0 7h0m0 1h0m0 2h0m1-203h0m0 2h0m0 43h0m0 15h0m0 12h0m0 14h0m0 2h0m0 29h0m0 3h0m0 24h0m0 1h0m0 13h0m0 6h0m0 26h0m1-214h0m0 5h0m0 10h0m0 14h0m0 12h0m0 5h0m0 1h0m0 12h0m0 4h0m0 12h0m0 12h0m0 48h0m0 11h0m0 17h0m0 5h0m0 17h0m0 2h0m0 27h0m1-249h0m0 76h0m0 14h0m0 15h0m0 5h0m0 11h0m0 19h0m0 6h0m0 5h0m0 27h0m0 1h0m0 7h0m0 4h0m0 5h0m0 1h0m0 13h0m0 3h0m0 4h0m0 11h0m0 4h0m0 8h0m0 18h0m0 19h0m1-235h0m0 4h0m0 2h0m0 1h0m0 5h0m0 23h0m0 5h0m0 2h0m0 6h0m0 11h0m0 19h0m0 3h0m0 24h0m0 5h0m0 26h0m0 13h0m0 3h0m0 17h0m0 14h0m0 17h0m0 3h0m0 1h0m0 5h0m0 15h0m1-228h0m0 1h0m0 12h0m0 5h0m0 50h0m0 40h0m0 8h0m0 7h0m0 10h0m0 37h0m0 21h0m0 2h0m0 8h0m0 2h0m0 15h0m0 3h0m0 16h0m0 1h0m1-285h0m0 51h0m0 3h0m0 7h0m0 4h0m0 11h0m0 9h0m0 21h0m0 5h0m0 3h0m0 4h0m0 28h0m0 2h0m0 19h0m0 27h0m0 5h0m0 6h0m0 12h0m0 10h0m0 1h0m0 12h0m0 8h0m0 5h0m0 9h0m0 2h0m1-218h0m0 6h0m0 14h0m0 8h0m0 13h0m0 9h0m0 4h0m0 2h0m0 8h0m0 3h0m0 4h0m0 3h0m0 7h0m0 19h0m0 23h0m0 1h0m0 12h0m0 9h0m0 3h0m0 6h0m0 5h0m0 49h0m0 1h0m0 19h0m0 6h0m1-232h0m0 13h0m0 6h0m0 11h0m0 1h0m0 5h0m0 20h0m0 24h0m0 29h0m0 3h0m0 1h0m0 2h0m0 40h0m0 17h0m0 12h0m0 8h0m0 3h0m0 5h0m0 13h0m0 3h0m0 21h0m0 2h0m1-227h0m0 3h0m0 19h0m0 7h0m0 25h0m0 2h0m0 7h0m0 20h0m0 3h0m0 5h0m0 18h0m0 3h0m0 16h0m0 6h0m0 2h0m0 28h0m0 8h0m0 16h0m0 7h0m0 23h0m0 13h0m1-239h0m0 10h0m0 6h0m0 35h0m0 1h0m0 27h0m0 3h0m0 7h0m0 58h0m0 17h0m0 2h0m0 18h0m0 12h0m0 3h0m0 3h0m0 17h0m0 17h0m1-270h0m0 26h0m0 15h0m0 5h0m0 12h0m0 8h0m0 2h0m0 5h0m0 6h0m0 5h0m0 6h0m0 6h0m0 16h0m0 45h0m0 24h0m0 31h0m0 4h0m0 4h0m0 11h0m0 2h0m0 19h0m0 5h0m0 14h0m1-246h0m0 27h0m0 14h0m0 16h0m0 30h0m0 4h0m0 52h0m0 9h0m0 6h0m0 1h0m0 5h0m0 6h0m0 3h0m0 13h0m0 13h0m0 2h0m0 2h0m0 16h0m0 6h0m1-230h0m0 7h0m0 4h0m0 19h0m0 20h0m0 4h0m0 9h0m0 9h0m0 11h0m0 21h0m0 12h0m0 10h0m0 3h0m0 2h0m0 2h0m0 6h0m0 14h0m0 4h0m0 24h0m0 10h0m0 6h0m0 4h0m0 1h0m0 11h0m0 13h0m0 5h0m0 1h0m0 5h0m0 10h0m1-248h0m0 30h0m0 2h0m0 10h0m0 10h0m0 15h0m0 4h0m0 10h0m0 5h0m0 13h0m0 12h0m0 4h0m0 4h0m0 13h0m0 5h0m0 13h0m0 5h0m0 9h0m0 10h0m0 5h0m0 11h0m0 1h0m0 24h0m0 13h0m0 10h0m0 16h0m1-243h0m0 22h0m0 9h0m0 29h0m0 2h0m0 1h0m0 5h0m0 5h0m0 2h0m0 24h0m0 2h0m0 25h0m0 35h0m0 9h0m0 2h0m0 14h0m0 7h0m0 7h0m0 24h0m1-225h0m0 2h0m0 14h0m0 1h0m0 8h0m0 3h0m0 3h0m0 9h0m0 32h0m0 6h0m0 44h0m0 11h0m0 7h0m0 9h0m0 5h0m0 2h0m0 7h0m0 25h0m0 1h0m0 8h0m0 3h0m0 5h0m0 31h0m1-241h0m0 12h0m0 14h0m0 3h0m0 4h0m0 9h0m0 5h0m0 83h0m0 6h0m0 2h0m0 17h0m0 3h0m0 1h0m0 24h0m0 12h0m0 10h0m0 16h0m0 8h0m0 6h0m0 3h0m1-241h0m0 11h0m0 3h0m0 10h0m0 9h0m0 3h0m0 11h0m0 9h0m0 19h0m0 11h0m0 16h0m0 4h0m0 6h0m0 4h0m0 34h0m0 3h0m0 17h0m0 5h0m0 9h0m0 8h0m0 19h0m0 9h0m0 3h0m0 12h0m0 9h0m1-229h0m0 32h0m0 21h0m0 6h0m0 15h0m0 5h0m0 5h0m0 3h0m0 30h0m0 2h0m0 21h0m0 7h0m0 9h0m0 2h0m0 4h0m0 6h0m0 5h0m0 4h0m0 30h0m0 9h0m0 11h0m0 1h0m0 4h0m1-244h0m0 16h0m0 5h0m0 5h0m0 16h0m0 27h0m0 9h0m0 12h0m0 7h0m0 3h0m0 16h0m0 4h0m0 1h0m0 1h0m0 25h0m0 4h0m0 23h0m0 9h0m0 3h0m0 1h0m0 29h0m0 28h0m1-205h0m0 1h0m0 13h0m0 10h0m0 2h0m0 5h0m0 45h0m0 7h0m0 1h0m0 10h0m0 3h0m0 8h0m0 7h0m0 2h0m0 1h0m0 11h0m0 2h0m0 9h0m0 21h0m0 8h0m0 9h0m0 24h0m1-236h0m0 12h0m0 5h0m0 16h0m0 7h0m0 2h0m0 2h0m0 10h0m0 13h0m0 4h0m0 10h0m0 15h0m0 4h0m0 10h0m0 4h0m0 9h0m0 1h0m0 4h0m0 1h0m0 9h0m0 1h0m0 17h0m0 12h0m0 24h0m0 9h0m0 18h0m0 7h0m0 3h0m0 5h0m1-226h0m0 2h0m0 11h0m0 5h0m0 10h0m0 8h0m0 41h0m0 24h0m0 5h0m0 10h0m0 6h0m0 10h0m0 9h0m0 7h0m0 8h0m0 5h0m0 6h0m0 18h0m0 5h0m0 10h0m0 1h0m0 8h0m0 8h0m1-226h0m0 31h0m0 32h0m0 4h0m0 8h0m0 8h0m0 15h0m0 3h0m0 30h0m0 7h0m0 7h0m0 9h0m0 6h0m0 17h0m0 12h0m0 10h0m0 9h0m0 16h0m0 2h0m0 1h0m1-221h0m0 13h0m0 6h0m0 17h0m0 11h0m0 9h0m0 18h0m0 10h0m0 33h0m0 1h0m0 10h0m0 3h0m0 20h0m0 12h0m0 2h0m0 6h0m0 3h0m0 5h0m0 20h0m0 4h0m1-197h0m0 41h0m0 34h0m0 15h0m0 4h0m0 8h0m0 9h0m0 22h0m0 5h0m0 12h0m0 13h0m0 7h0m0 8h0m0 12h0m0 7h0m0 17h0m0 3h0m0 4h0m0 3h0m1-235h0m0 29h0m0 21h0m0 7h0m0 14h0m0 4h0m0 2h0m0 4h0m0 28h0m0 8h0m0 13h0m0 31h0m0 27h0m0 8h0m0 9h0m0 21h0m0 14h0m1-254h0m0 7h0m0 3h0m0 38h0m0 9h0m0 17h0m0 10h0m0 13h0m0 15h0m0 1h0m0 5h0m0 34h0m0 1h0m0 17h0m0 2h0m0 16h0m0 14h0m0 19h0m0 6h0m0 4h0m0 14h0m0 2h0m1-235h0m0 4h0m0 8h0m0 8h0m0 29h0m0 3h0m0 19h0m0 4h0m0 1h0m0 25h0m0 3h0m0 31h0m0 11h0m0 4h0m0 9h0m0 13h0m0 13h0m0 2h0m0 10h0m0 11h0m0 9h0m0 4h0m0 6h0m0 3h0m0 8h0m0 1h0m0 1h0m1-221h0m0 2h0m0 1h0m0 16h0m0 21h0m0 32h0m0 4h0m0 9h0m0 3h0m0 7h0m0 3h0m0 41h0m0 4h0m0 18h0m0 17h0m0 49h0m0 1h0m1-251h0m0 11h0m0 9h0m0 12h0m0 16h0m0 10h0m0 8h0m0 3h0m0 16h0m0 15h0m0 9h0m0 1h0m0 15h0m0 13h0m0 17h0m0 16h0m0 14h0m0 4h0m0 1h0m0 2h0m0 18h0m0 18h0m0 24h0m1-233h0m0 5h0m0 1h0m0 24h0m0 5h0m0 4h0m0 3h0m0 7h0m0 3h0m0 41h0m0 2h0m0 9h0m0 2h0m0 22h0m0 11h0m0 4h0m0 10h0m0 8h0m0 8h0m0 3h0m0 8h0m0 11h0m0 11h0m0 4h0m0 14h0m1-212h0m0 1h0m0 3h0m0 20h0m0 9h0m0 16h0m0 6h0m0 13h0m0 22h0m0 4h0m0 2h0m0 16h0m0 12h0m0 3h0m0 11h0m0 2h0m0 11h0m0 14h0m0 4h0m0 21h0m0 2h0m0 2h0m0 8h0m0 20h0m0 2h0m1-216h0m0 5h0m0 8h0m0 6h0m0 21h0m0 2h0m0 14h0m0 4h0m0 33h0m0 23h0m0 41h0m0 4h0m0 13h0m0 10h0m0 2h0m0 4h0m0 4h0m0 2h0m0 14h0m0 3h0m1-236h0m0 2h0m0 11h0m0 13h0m0 3h0m0 11h0m0 19h0m0 8h0m0 1h0m0 16h0m0 11h0m0 5h0m0 3h0m0 4h0m0 16h0m0 6h0m0 17h0m0 6h0m0 9h0m0 3h0m0 6h0m0 2h0m0 15h0m0 2h0m0 5h0m0 4h0m0 12h0m0 2h0m0 6h0m0 2h0m0 2h0m0 2h0m0 7h0m1-252h0m0 18h0m0 1h0m0 4h0m0 16h0m0 21h0m0 10h0m0 12h0m0 5h0m0 12h0m0 7h0m0 17h0m0 2h0m0 6h0m0 11h0m0 13h0m0 13h0m0 9h0m0 10h0m0 2h0m0 13h0m0 15h0m0 4h0m0 4h0m0 22h0m0 5h0m0 8h0m1-267h0m0 25h0m0 33h0m0 2h0m0 4h0m0 3h0m0 8h0m0 51h0m0 22h0m0 6h0m0 24h0m0 11h0m0 5h0m0 5h0m0 8h0m0 12h0m0 1h0m0 7h0m0 1h0m0 5h0m0 12h0m0 16h0m1-313h0m0 81h0m0 4h0m0 2h0m0 8h0m0 29h0m0 2h0m0 3h0m0 9h0m0 4h0m0 5h0m0 12h0m0 2h0m0 25h0m0 6h0m0 14h0m0 10h0m0 2h0m0 1h0m0 6h0m0 5h0m0 3h0m0 5h0m0 5h0m0 11h0m0 34h0m0 9h0m0 2h0m1-209h0m0 4h0m0 7h0m0 22h0m0 8h0m0 4h0m0 21h0m0 14h0m0 5h0m0 2h0m0 7h0m0 14h0m0 3h0m0 7h0m0 1h0m0 4h0m0 14h0m0 5h0m0 10h0m0 5h0m0 1h0m0 8h0m0 6h0m0 3h0m0 9h0m0 1h0m0 15h0m0 1h0m0 12h0m0 7h0m1-247h0m0 23h0m0 6h0m0 15h0m0 15h0m0 10h0m0 11h0m0 10h0m0 4h0m0 2h0m0 15h0m0 29h0m0 6h0m0 5h0m0 9h0m0 1h0m0 3h0m0 4h0m0 4h0m0 27h0m0 17h0m0 7h0m0 7h0m0 1h0m0 7h0m0 1h0m0 4h0m1-268h0m0 28h0m0 9h0m0 6h0m0 17h0m0 2h0m0 15h0m0 22h0m0 1h0m0 9h0m0 12h0m0 38h0m0 38h0m0 2h0m0 2h0m0 4h0m0 31h0m0 2h0m0 4h0m0 7h0m0 4h0m0 20h0m1-217h0m0 3h0m0 4h0m0 5h0m0 1h0m0 13h0m0 17h0m0 8h0m0 29h0m0 21h0m0 4h0m0 6h0m0 8h0m0 1h0m0 7h0m0 21h0m0 4h0m0 5h0m0 16h0m0 9h0m0 4h0m0 1h0m0 4h0m0 11h0m0 14h0m1-240h0m0 6h0m0 7h0m0 2h0m0 3h0m0 12h0m0 3h0m0 50h0m0 11h0m0 15h0m0 3h0m0 3h0m0 18h0m0 9h0m0 14h0m0 11h0m0 16h0m0 1h0m0 12h0m0 13h0m0 3h0m0 40h0m1-265h0m0 2h0m0 5h0m0 11h0m0 3h0m0 12h0m0 18h0m0 14h0m0 3h0m0 6h0m0 1h0m0 3h0m0 8h0m0 8h0m0 11h0m0 7h0m0 1h0m0 23h0m0 43h0m0 4h0m0 9h0m0 3h0m0 2h0m0 3h0m0 5h0m0 1h0m0 8h0m0 19h0m0 15h0m1-228h0m0 7h0m0 2h0m0 10h0m0 2h0m0 1h0m0 7h0m0 20h0m0 7h0m0 14h0m0 10h0m0 37h0m0 5h0m0 24h0m0 16h0m0 17h0m0 2h0m0 7h0m0 1h0m0 28h0m0 26h0m1-243h0m0 7h0m0 34h0m0 22h0m0 40h0m0 1h0m0 4h0m0 26h0m0 5h0m0 19h0m0 11h0m0 24h0m1-181h0m0 1h0m0 37h0m0 18h0m0 13h0m0 3h0m0 40h0m0 11h0m0 16h0m0 31h0m0 8h0m0 11h0m0 1h0m0 6h0m0 4h0m0 1h0m0 3h0m1-226h0m0 21h0m0 7h0m0 13h0m0 6h0m0 28h0m0 1h0m0 7h0m0 50h0m0 10h0m0 1h0m0 8h0m0 12h0m0 1h0m0 1h0m0 7h0m0 16h0m0 7h0m0 13h0m0 16h0m0 20h0m0 1h0m1-244h0m0 4h0m0 10h0m0 7h0m0 5h0m0 10h0m0 8h0m0 24h0m0 1h0m0 39h0m0 58h0m0 5h0m0 74h0m1-252h0m0 38h0m0 20h0m0 6h0m0 11h0m0 22h0m0 2h0m0 23h0m0 21h0m0 8h0m0 3h0m0 17h0m0 7h0m0 8h0m0 9h0m0 1h0m0 1h0m0 7h0m0 5h0m0 3h0m0 7h0m0 6h0m0 6h0m0 15h0m0 7h0m0 2h0m1-262h0m0 37h0m0 12h0m0 12h0m0 17h0m0 6h0m0 20h0m0 8h0m0 3h0m0 17h0m0 3h0m0 2h0m0 16h0m0 14h0m0 5h0m0 9h0m0 1h0m0 9h0m0 8h0m0 7h0m0 8h0m0 41h0m1-240h0m0 9h0m0 1h0m0 15h0m0 3h0m0 11h0m0 24h0m0 4h0m0 1h0m0 3h0m0 6h0m0 3h0m0 6h0m0 3h0m0 18h0m0 1h0m0 20h0m0 1h0m0 22h0m0 2h0m0 3h0m0 7h0m0 3h0m0 3h0m0 4h0m0 21h0m0 2h0m0 4h0m0 9h0m0 20h0m0 17h0m0 2h0m0 3h0m1-248h0m0 22h0m0 30h0m0 6h0m0 3h0m0 18h0m0 20h0m0 16h0m0 49h0m0 3h0m0 5h0m0 13h0m0 1h0m0 9h0m0 32h0m0 16h0m0 1h0m1-265h0m0 7h0m0 4h0m0 6h0m0 14h0m0 17h0m0 16h0m0 8h0m0 18h0m0 10h0m0 9h0m0 1h0m0 8h0m0 14h0m0 1h0m0 8h0m0 20h0m0 2h0m0 18h0m0 5h0m0 2h0m0 17h0m0 6h0m0 5h0m0 5h0m0 14h0m0 1h0m0 1h0m0 2h0m0 19h0m1-215h0m0 1h0m0 4h0m0 24h0m0 23h0m0 2h0m0 44h0m0 10h0m0 22h0m0 26h0m0 7h0m0 10h0m0 4h0m0 2h0m0 2h0m0 7h0m0 2h0m0 10h0m0 2h0m1-234h0m0 9h0m0 15h0m0 5h0m0 58h0m0 7h0m0 15h0m0 22h0m0 15h0m0 20h0m0 1h0m0 9h0m0 1h0m0 2h0m0 28h0m0 33h0m1-230h0m0 26h0m0 5h0m0 10h0m0 54h0m0 20h0m0 3h0m0 22h0m0 3h0m0 35h0m0 3h0m0 46h0m0 3h0m1-249h0m0 25h0m0 4h0m0 4h0m0 12h0m0 14h0m0 22h0m0 4h0m0 5h0m0 10h0m0 10h0m0 17h0m0 19h0m0 6h0m0 13h0m0 2h0m0 35h0m0 2h0m0 6h0m0 1h0m0 4h0m0 4h0m0 14h0m0 2h0m0 8h0m0 5h0m0 7h0m0 1h0m1-254h0m0 8h0m0 1h0m0 5h0m0 13h0m0 11h0m0 65h0m0 21h0m0 17h0m0 6h0m0 29h0m0 6h0m0 6h0m0 6h0m0 8h0m0 13h0m0 4h0m0 6h0m0 1h0m0 2h0m0 11h0m1-235h0m0 8h0m0 18h0m0 7h0m0 5h0m0 15h0m0 5h0m0 5h0m0 40h0m0 2h0m0 4h0m0 1h0m0 4h0m0 10h0m0 27h0m0 4h0m0 14h0m0 4h0m0 4h0m0 6h0m0 12h0m0 5h0m0 4h0m0 6h0m0 6h0m0 2h0m0 8h0m0 11h0m0 14h0m0 4h0m1-247h0m0 15h0m0 3h0m0 39h0m0 17h0m0 5h0m0 3h0m0 4h0m0 7h0m0 16h0m0 18h0m0 16h0m0 2h0m0 13h0m0 4h0m0 9h0m0 8h0m0 4h0m0 2h0m0 30h0m0 14h0m0 1h0m0 6h0m1-252h0m0 11h0m0 15h0m0 15h0m0 5h0m0 2h0m0 16h0m0 10h0m0 1h0m0 9h0m0 3h0m0 2h0m0 9h0m0 12h0m0 4h0m0 16h0m0 1h0m0 8h0m0 12h0m0 19h0m0 1h0m0 1h0m0 5h0m0 19h0m0 1h0m0 8h0m0 17h0m0 7h0m0 3h0m0 26h0m0 9h0m1-247h0m0 5h0m0 3h0m0 5h0m0 4h0m0 13h0m0 16h0m0 10h0m0 35h0m0 14h0m0 15h0m0 20h0m0 2h0m0 2h0m0 3h0m0 1h0m0 3h0m0 20h0m0 46h0m0 2h0m0 13h0m0 6h0m0 12h0m1-239h0m0 5h0m0 1h0m0 2h0m0 27h0m0 16h0m0 1h0m0 1h0m0 19h0m0 11h0m0 1h0m0 8h0m0 21h0m0 2h0m0 5h0m0 8h0m0 31h0m0 9h0m0 14h0m0 27h0m0 14h0m1-244h0m0 9h0m0 3h0m0 21h0m0 18h0m0 8h0m0 19h0m0 3h0m0 8h0m0 17h0m0 8h0m0 10h0m0 2h0m0 2h0m0 23h0m0 45h0m0 5h0m0 12h0m0 5h0m0 15h0m0 3h0m0 13h0m1-246h0m0 20h0m0 13h0m0 11h0m0 30h0m0 27h0m0 11h0m0 1h0m0 14h0m0 7h0m0 10h0m0 15h0m0 3h0m0 14h0m0 11h0m0 11h0m0 53h0m0 1h0m1-262h0m0 11h0m0 9h0m0 6h0m0 25h0m0 1h0m0 14h0m0 5h0m0 5h0m0 6h0m0 27h0m0 9h0m0 13h0m0 1h0m0 39h0m0 7h0m0 7h0m0 7h0m0 6h0m0 2h0m0 10h0m0 5h0m0 7h0m0 2h0m0 1h0m0 9h0m0 3h0m0 4h0m0 8h0m1-206h0m0 11h0m0 8h0m0 2h0m0 31h0m0 8h0m0 17h0m0 3h0m0 14h0m0 2h0m0 16h0m0 17h0m0 8h0m0 2h0m0 8h0m0 16h0m0 8h0m0 6h0m0 1h0m0 6h0m0 5h0m0 10h0m0 4h0m0 6h0m0 1h0m0 3h0m1-252h0m0 10h0m0 8h0m0 2h0m0 47h0m0 6h0m0 4h0m0 20h0m0 2h0m0 10h0m0 27h0m0 6h0m0 16h0m0 13h0m0 25h0m0 1h0m0 4h0m0 4h0m0 18h0m0 19h0m0 14h0m1-237h0m0 6h0m0 5h0m0 4h0m0 34h0m0 3h0m0 1h0m0 1h0m0 10h0m0 5h0m0 18h0m0 15h0m0 5h0m0 1h0m0 3h0m0 11h0m0 14h0m0 2h0m0 25h0m0 8h0m0 1h0m0 42h0m0 18h0m1-259h0m0 15h0m0 6h0m0 2h0m0 13h0m0 7h0m0 8h0m0 1h0m0 56h0m0 1h0m0 1h0m0 5h0m0 4h0m0 2h0m0 6h0m0 3h0m0 19h0m0 1h0m0 11h0m0 3h0m0 3h0m0 2h0m0 9h0m0 19h0m0 3h0m0 8h0m0 5h0m0 6h0m0 1h0m0 19h0m0 10h0m0 2h0m0 1h0m0 12h0m0 7h0m1-266h0m0 24h0m0 7h0m0 3h0m0 8h0m0 15h0m0 3h0m0 8h0m0 9h0m0 34h0m0 2h0m0 28h0m0 12h0m0 27h0m0 7h0m0 16h0m0 3h0m0 4h0m0 22h0m0 4h0m0 4h0m0 11h0m0 7h0m1-256h0m0 5h0m0 11h0m0 15h0m0 4h0m0 15h0m0 27h0m0 21h0m0 24h0m0 6h0m0 40h0m0 22h0m0 1h0m0 56h0m1-324h0m0 92h0m0 6h0m0 44h0m0 20h0m0 7h0m0 7h0m0 1h0m0 40h0m0 2h0m0 8h0m0 1h0m0 7h0m0 6h0m0 4h0m0 15h0m0 10h0m0 9h0m0 28h0m0 26h0m0 2h0m1-253h0m0 1h0m0 10h0m0 18h0m0 13h0m0 3h0m0 11h0m0 1h0m0 10h0m0 17h0m0 12h0m0 1h0m0 21h0m0 21h0m0 18h0m0 5h0m0 11h0m0 26h0m0 2h0m0 9h0m0 18h0m1-231h0m0 8h0m0 6h0m0 2h0m0 8h0m0 13h0m0 4h0m0 13h0m0 21h0m0 4h0m0 19h0m0 27h0m0 6h0m0 1h0m0 41h0m0 3h0m0 14h0m0 2h0m0 8h0m0 16h0m0 4h0m0 6h0m0 19h0m0 3h0m0 8h0m1-268h0m0 13h0m0 5h0m0 2h0m0 19h0m0 24h0m0 21h0m0 13h0m0 10h0m0 1h0m0 18h0m0 2h0m0 13h0m0 61h0m0 15h0m0 11h0m0 5h0m0 18h0m0 15h0m1-264h0m0 11h0m0 30h0m0 2h0m0 3h0m0 22h0m0 14h0m0 24h0m0 13h0m0 9h0m0 20h0m0 1h0m0 19h0m0 17h0m0 18h0m0 15h0m0 3h0m0 8h0m0 1h0m0 4h0m1-239h0m0 12h0m0 8h0m0 13h0m0 36h0m0 9h0m0 38h0m0 3h0m0 6h0m0 11h0m0 8h0m0 8h0m0 1h0m0 23h0m0 24h0m0 2h0m0 8h0m0 10h0m0 30h0m0 11h0m1-252h0m0 17h0m0 18h0m0 8h0m0 11h0m0 21h0m0 24h0m0 1h0m0 12h0m0 27h0m0 25h0m0 4h0m0 9h0m0 26h0m0 4h0m0 10h0m0 8h0m0 10h0m0 4h0m0 6h0m0 14h0m1-223h0m0 3h0m0 1h0m0 10h0m0 17h0m0 5h0m0 40h0m0 40h0m0 17h0m0 5h0m0 3h0m0 3h0m0 19h0m0 2h0m0 6h0m0 16h0m0 4h0m0 21h0m1-235h0m0 15h0m0 1h0m0 10h0m0 3h0m0 21h0m0 6h0m0 10h0m0 1h0m0 1h0m0 7h0m0 43h0m0 2h0m0 30h0m0 15h0m0 50h0m0 4h0m1-232h0m0 21h0m0 3h0m0 2h0m0 3h0m0 8h0m0 26h0m0 19h0m0 1h0m0 13h0m0 16h0m0 16h0m0 9h0m0 7h0m0 37h0m0 3h0m0 14h0m0 18h0m0 37h0m0 10h0m1-232h0m0 9h0m0 6h0m0 12h0m0 7h0m0 11h0m0 36h0m0 9h0m0 20h0m0 11h0m0 36h0m0 8h0m0 3h0m0 8h0m0 17h0m0 9h0m0 15h0m0 7h0m1-243h0m0 25h0m0 32h0m0 63h0m0 12h0m0 6h0m0 29h0m0 15h0m0 1h0m0 14h0m0 7h0m0 2h0m0 26h0m1-212h0m0 18h0m0 25h0m0 16h0m0 36h0m0 9h0m0 32h0m0 20h0m0 17h0m0 5h0m0 2h0m0 1h0m0 20h0m0 2h0m0 1h0m0 10h0m0 7h0m1-256h0m0 6h0m0 20h0m0 9h0m0 4h0m0 8h0m0 21h0m0 13h0m0 19h0m0 29h0m0 2h0m0 2h0m0 1h0m0 15h0m0 32h0m0 7h0m0 3h0m0 6h0m0 3h0m0 1h0m0 1h0m0 23h0m0 14h0m0 22h0m0 3h0m1-257h0m0 24h0m0 1h0m0 39h0m0 15h0m0 2h0m0 10h0m0 10h0m0 12h0m0 5h0m0 6h0m0 4h0m0 11h0m0 15h0m0 13h0m0 12h0m0 6h0m0 2h0m0 1h0m0 1h0m0 18h0m0 6h0m0 2h0m0 25h0m1-255h0m0 7h0m0 3h0m0 8h0m0 45h0m0 13h0m0 18h0m0 4h0m0 21h0m0 69h0m0 8h0m0 2h0m0 3h0m0 14h0m0 2h0m0 9h0m0 7h0m0 2h0m0 3h0m0 9h0m0 2h0m0 5h0m0 21h0m1-261h0m0 3h0m0 15h0m0 19h0m0 41h0m0 14h0m0 26h0m0 3h0m0 13h0m0 28h0m0 8h0m0 3h0m0 15h0m0 1h0m0 16h0m0 10h0m0 37h0m0 13h0m1-267h0m0 2h0m0 33h0m0 7h0m0 5h0m0 7h0m0 59h0m0 2h0m0 13h0m0 5h0m0 18h0m0 4h0m0 26h0m0 4h0m0 11h0m0 11h0m0 16h0m0 17h0m0 5h0m0 8h0m0 1h0m0 13h0m1-256h0m0 8h0m0 11h0m0 2h0m0 7h0m0 42h0m0 15h0m0 2h0m0 40h0m0 14h0m0 18h0m0 1h0m0 11h0m0 5h0m0 4h0m0 9h0m0 19h0m0 7h0m0 3h0m0 3h0m0 1h0m0 1h0m0 6h0m0 6h0m0 1h0m0 15h0m1-270h0m0 15h0m0 5h0m0 16h0m0 5h0m0 32h0m0 32h0m0 4h0m0 9h0m0 59h0m0 1h0m0 12h0m0 21h0m0 5h0m0 8h0m0 24h0m0 1h0m0 19h0m1-268h0m0 32h0m0 5h0m0 2h0m0 26h0m0 18h0m0 5h0m0 5h0m0 32h0m0 7h0m0 8h0m0 49h0m0 5h0m0 4h0m0 9h0m0 17h0m0 8h0m0 7h0m0 3h0m0 10h0m0 1h0m0 2h0m0 7h0m1-260h0m0 10h0m0 19h0m0 38h0m0 11h0m0 22h0m0 6h0m0 27h0m0 3h0m0 15h0m0 5h0m0 5h0m0 16h0m0 23h0m0 12h0m0 29h0m0 20h0m0 2h0m0 5h0m1-266h0m0 6h0m0 2h0m0 14h0m0 14h0m0 13h0m0 11h0m0 4h0m0 4h0m0 7h0m0 10h0m0 8h0m0 34h0m0 7h0m0 48h0m0 3h0m0 35h0m0 3h0m0 11h0m0 19h0m0 7h0m0 1h0m1-259h0m0 13h0m0 23h0m0 1h0m0 20h0m0 5h0m0 27h0m0 5h0m0 6h0m0 8h0m0 1h0m0 6h0m0 9h0m0 3h0m0 3h0m0 21h0m0 4h0m0 3h0m0 14h0m0 14h0m0 13h0m0 2h0m0 9h0m0 3h0m0 18h0m0 21h0m0 6h0m1-248h0m0 32h0m0 16h0m0 1h0m0 7h0m0 5h0m0 1h0m0 1h0m0 20h0m0 2h0m0 22h0m0 5h0m0 25h0m0 22h0m0 26h0m0 2h0m0 10h0m0 4h0m0 4h0m0 2h0m0 8h0m0 2h0m0 1h0m0 5h0m0 3h0m0 6h0m0 1h0m0 10h0m0 9h0m1-261h0m0 3h0m0 32h0m0 10h0m0 4h0m0 2h0m0 1h0m0 25h0m0 2h0m0 1h0m0 23h0m0 16h0m0 8h0m0 10h0m0 8h0m0 14h0m0 17h0m0 5h0m0 16h0m0 13h0m0 1h0m0 7h0m0 1h0m0 24h0m0 7h0m1-251h0m0 5h0m0 61h0m0 4h0m0 1h0m0 9h0m0 18h0m0 4h0m0 13h0m0 27h0m0 13h0m0 9h0m0 9h0m0 46h0m0 4h0m0 22h0m0 2h0m1-251h0m0 40h0m0 5h0m0 3h0m0 19h0m0 2h0m0 19h0m0 8h0m0 33h0m0 9h0m0 21h0m0 6h0m0 19h0m0 18h0m0 10h0m0 32h0m0 1h0m0 9h0m0 2h0m0 8h0m1-259h0m0 46h0m0 21h0m0 17h0m0 2h0m0 2h0m0 22h0m0 1h0m0 17h0m0 7h0m0 7h0m0 1h0m0 4h0m0 30h0m0 6h0m0 1h0m0 5h0m0 5h0m0 2h0m0 2h0m0 27h0m0 10h0m0 10h0m0 1h0m0 17h0m1-233h0m0 14h0m0 25h0m0 24h0m0 12h0m0 23h0m0 2h0m0 6h0m0 31h0m0 15h0m0 16h0m0 52h0m1-257h0m0 26h0m0 7h0m0 18h0m0 7h0m0 4h0m0 11h0m0 20h0m0 6h0m0 12h0m0 1h0m0 1h0m0 7h0m0 15h0m0 31h0m0 1h0m0 36h0m0 14h0m0 11h0m0 28h0m0 7h0m1-265h0m0 8h0m0 33h0m0 30h0m0 5h0m0 8h0m0 8h0m0 17h0m0 3h0m0 17h0m0 40h0m0 17h0m0 7h0m0 1h0m0 7h0m0 13h0m0 12h0m0 16h0m0 29h0m1-278h0m0 27h0m0 13h0m0 36h0m0 43h0m0 8h0m0 1h0m0 2h0m0 17h0m0 4h0m0 21h0m0 29h0m0 5h0m0 5h0m0 25h0m0 2h0m0 6h0m0 17h0m0 7h0m0 2h0m1-263h0m0 6h0m0 2h0m0 27h0m0 3h0m0 38h0m0 26h0m0 41h0m0 6h0m0 15h0m0 9h0m0 14h0m0 3h0m0 19h0m0 4h0m0 3h0m0 1h0m0 5h0m0 7h0m0 3h0m0 3h0m0 10h0m0 3h0m0 12h0m0 3h0m1-222h0m0 23h0m0 2h0m0 22h0m0 7h0m0 37h0m0 19h0m0 16h0m0 7h0m0 1h0m0 9h0m0 9h0m0 3h0m0 1h0m0 4h0m0 2h0m0 3h0m0 9h0m0 11h0m0 13h0m0 2h0m0 2h0m0 3h0m0 5h0m0 2h0m0 10h0m0 10h0m1-243h0m0 9h0m0 39h0m0 9h0m0 7h0m0 6h0m0 80h0m0 2h0m0 33h0m0 2h0m0 2h0m0 2h0m0 18h0m0 7h0m0 1h0m0 21h0m1-273h0m0 14h0m0 4h0m0 5h0m0 2h0m0 19h0m0 12h0m0 21h0m0 13h0m0 5h0m0 6h0m0 21h0m0 21h0m0 1h0m0 16h0m0 25h0m0 2h0m0 8h0m0 5h0m0 9h0m0 21h0m0 1h0m0 5h0m0 25h0m0 10h0m0 7h0m1-265h0m0 8h0m0 28h0m0 11h0m0 1h0m0 15h0m0 6h0m0 9h0m0 2h0m0 35h0m0 23h0m0 13h0m0 1h0m0 3h0m0 4h0m0 5h0m0 11h0m0 6h0m0 18h0m0 21h0m0 25h0m1-226h0m0 18h0m0 7h0m0 13h0m0 7h0m0 4h0m0 7h0m0 51h0m0 7h0m0 30h0m0 2h0m0 15h0m0 8h0m0 27h0m0 10h0m0 28h0m1-270h0m0 15h0m0 29h0m0 2h0m0 5h0m0 5h0m0 2h0m0 7h0m0 42h0m0 3h0m0 10h0m0 11h0m0 3h0m0 1h0m0 21h0m0 27h0m0 4h0m0 11h0m0 14h0m0 1h0m0 3h0m0 19h0m0 3h0m0 12h0m0 24h0m1-268h0m0 10h0m0 15h0m0 8h0m0 14h0m0 4h0m0 13h0m0 3h0m0 36h0m0 7h0m0 4h0m0 20h0m0 3h0m0 3h0m0 5h0m0 6h0m0 9h0m0 25h0m0 31h0m0 18h0m0 8h0m0 6h0m0 5h0m0 1h0m1-238h0m0 3h0m0 5h0m0 5h0m0 4h0m0 1h0m0 11h0m0 27h0m0 34h0m0 4h0m0 1h0m0 21h0m0 7h0m0 20h0m0 2h0m0 4h0m0 35h0m0 20h0m0 12h0m0 5h0m0 8h0m0 1h0m0 15h0m0 6h0m0 14h0m1-251h0m0 2h0m0 22h0m0 23h0m0 31h0m0 3h0m0 48h0m0 49h0m0 5h0m0 1h0m0 8h0m0 4h0m1-220h0m0 1h0m0 10h0m0 2h0m0 30h0m0 4h0m0 2h0m0 6h0m0 1h0m0 11h0m0 9h0m0 1h0m0 4h0m0 3h0m0 32h0m0 10h0m0 6h0m0 25h0m0 2h0m0 30h0m0 3h0m0 6h0m0 8h0m0 8h0m0 7h0m0 3h0m0 2h0m0 12h0m1-194h0m0 16h0m0 8h0m0 39h0m0 13h0m0 2h0m0 16h0m0 4h0m0 15h0m0 35h0m0 1h0m0 32h0m0 6h0m0 10h0m0 2h0m0 14h0m1-259h0m0 17h0m0 4h0m0 16h0m0 24h0m0 4h0m0 38h0m0 7h0m0 3h0m0 13h0m0 9h0m0 3h0m0 12h0m0 22h0m0 30h0m0 5h0m0 26h0m0 2h0m0 27h0m1-250h0m0 2h0m0 13h0m0 21h0m0 5h0m0 2h0m0 5h0m0 18h0m0 8h0m0 1h0m0 7h0m0 5h0m0 19h0m0 1h0m0 9h0m0 9h0m0 3h0m0 10h0m0 14h0m0 8h0m0 10h0m0 33h0m0 23h0m0 12h0m0 9h0m1-246h0m0 8h0m0 45h0m0 9h0m0 6h0m0 1h0m0 29h0m0 2h0m0 15h0m0 9h0m0 4h0m0 11h0m0 3h0m0 31h0m0 18h0m0 4h0m0 6h0m0 26h0m0 1h0m0 3h0m1-250h0m0 25h0m0 16h0m0 4h0m0 16h0m0 23h0m0 14h0m0 14h0m0 1h0m0 51h0m0 1h0m0 10h0m0 32h0m0 11h0m0 4h0m0 17h0m0 6h0m0 11h0m0 9h0m1-259h0m0 13h0m0 15h0m0 4h0m0 13h0m0 11h0m0 7h0m0 9h0m0 15h0m0 35h0m0 35h0m0 2h0m0 6h0m0 4h0m0 14h0m0 7h0m0 6h0m0 11h0m0 2h0m0 8h0m0 6h0m0 3h0m0 35h0m1-264h0m0 8h0m0 15h0m0 6h0m0 5h0m0 6h0m0 24h0m0 5h0m0 8h0m0 5h0m0 2h0m0 24h0m0 6h0m0 17h0m0 33h0m0 3h0m0 14h0m0 5h0m0 14h0m0 15h0m0 6h0m0 12h0m0 5h0m0 2h0m1-232h0m0 27h0m0 6h0m0 7h0m0 6h0m0 1h0m0 4h0m0 1h0m0 10h0m0 8h0m0 17h0m0 8h0m0 1h0m0 39h0m0 13h0m0 11h0m0 23h0m0 1h0m0 2h0m0 8h0m0 15h0m0 5h0m0 11h0m0 15h0m0 9h0m0 2h0m0 6h0m0 3h0m0 1h0m1-262h0m0 7h0m0 2h0m0 2h0m0 11h0m0 18h0m0 5h0m0 22h0m0 14h0m0 6h0m0 4h0m0 11h0m0 6h0m0 10h0m0 1h0m0 20h0m0 23h0m0 6h0m0 2h0m0 7h0m0 10h0m0 7h0m0 21h0m0 16h0m0 7h0m0 13h0m0 3h0m1-253h0m0 15h0m0 6h0m0 38h0m0 27h0m0 1h0m0 19h0m0 4h0m0 1h0m0 4h0m0 12h0m0 20h0m0 5h0m0 12h0m0 27h0m0 9h0m0 4h0m0 7h0m0 54h0m0 1h0m0 3h0m1-281h0m0 6h0m0 8h0m0 3h0m0 5h0m0 18h0m0 20h0m0 11h0m0 1h0m0 9h0m0 6h0m0 15h0m0 15h0m0 19h0m0 2h0m0 9h0m0 16h0m0 7h0m0 5h0m0 4h0m0 5h0m0 6h0m0 20h0m0 13h0m0 12h0m0 22h0m0 13h0m1-280h0m0 1h0m0 14h0m0 5h0m0 16h0m0 3h0m0 14h0m0 7h0m0 10h0m0 3h0m0 1h0m0 2h0m0 3h0m0 1h0m0 6h0m0 3h0m0 19h0m0 2h0m0 33h0m0 5h0m0 30h0m0 32h0m0 24h0m0 10h0m0 14h0m0 1h0m0 2h0m0 11h0m0 6h0m1-247h0m0 14h0m0 3h0m0 1h0m0 6h0m0 2h0m0 32h0m0 11h0m0 3h0m0 37h0m0 28h0m0 9h0m0 34h0m0 14h0m0 1h0m0 9h0m0 18h0m0 10h0m0 2h0m0 6h0m0 17h0m0 1h0m1-334h0m0 15h0m0 36h0m0 25h0m0 10h0m0 5h0m0 16h0m0 2h0m0 7h0m0 5h0m0 4h0m0 10h0m0 26h0m0 2h0m0 18h0m0 13h0m0 3h0m0 3h0m0 14h0m0 15h0m0 4h0m0 19h0m0 11h0m0 25h0m0 12h0m0 14h0m0 5h0m0 1h0m1-330h0m0 2h0m0 11h0m0 4h0m0 3h0m0 1h0m0 1h0m0 6h0m0 7h0m0 5h0m0 3h0m0 1h0m0 1h0m0 1h0m0 6h0m0 1h0m0 3h0m0 8h0m0 2h0m0 4h0m0 1h0m0 8h0m0 2h0m0 9h0m0 5h0m0 1h0m0 12h0m0 2h0m0 1h0m0 8h0m0 4h0m0 15h0m0 2h0m0 1h0m0 4h0m0 2h0m0 2h0m0 4h0m0 1h0m0 8h0m0 8h0m0 1h0m0 3h0m0 2h0m0 1h0m0 1h0m0 7h0m0 2h0m0 2h0m0 6h0m0 1h0m0 1h0m0 8h0m0 2h0m0 1h0m0 15h0m0 5h0m0 3h0m0 1h0m0 2h0m0 4h0m0 1h0m0 3h0m0 2h0m0 2h0m0 2h0m0 1h0m0 4h0m0 1h0m0 2h0m0 2h0m0 2h0m0 22h0m0 84h0m0 1h0m0 2h0m0 3h0m0 4h0m0 3h0" stroke="#8a8a8a" stroke-width="1.9" stroke-linecap="round" fill="none"/><line x1="1040.9" y1="398.1" x2="1669.1" y2="262.9" stroke="#3f80c0" stroke-width="5" stroke-linecap="round"/><rect x="1010.6" y="17.2" width="689.7" height="447.5" fill="none" stroke="#111" stroke-width="3"/><line x1="1023.2" y1="466.2" x2="1023.2" y2="474.2" stroke="#111" stroke-width="2.6" /><text x="1023.2" y="494.9" font-size="17.2" text-anchor="middle">−2</text><line x1="1141.5" y1="466.2" x2="1141.5" y2="474.2" stroke="#111" stroke-width="2.6" /><text x="1141.5" y="494.9" font-size="17.2" text-anchor="middle">−1</text><line x1="1259.8" y1="466.2" x2="1259.8" y2="474.2" stroke="#111" stroke-width="2.6" /><text x="1259.8" y="494.9" font-size="17.2" text-anchor="middle">0</text><line x1="1378.1" y1="466.2" x2="1378.1" y2="474.2" stroke="#111" stroke-width="2.6" /><text x="1378.1" y="494.9" font-size="17.2" text-anchor="middle">1</text><line x1="1496.4" y1="466.2" x2="1496.4" y2="474.2" stroke="#111" stroke-width="2.6" /><text x="1496.4" y="494.9" font-size="17.2" text-anchor="middle">2</text><line x1="1614.7" y1="466.2" x2="1614.7" y2="474.2" stroke="#111" stroke-width="2.6" /><text x="1614.7" y="494.9" font-size="17.2" text-anchor="middle">3</text><line x1="1001.1" y1="436.7" x2="1009.1" y2="436.7" stroke="#111" stroke-width="2.6" /><text x="994.1" y="442.9" font-size="17.2" text-anchor="end">−2</text><line x1="1001.1" y1="350.9" x2="1009.1" y2="350.9" stroke="#111" stroke-width="2.6" /><text x="994.1" y="357.1" font-size="17.2" text-anchor="end">0</text><line x1="1001.1" y1="265.1" x2="1009.1" y2="265.1" stroke="#111" stroke-width="2.6" /><text x="994.1" y="271.3" font-size="17.2" text-anchor="end">2</text><line x1="1001.1" y1="179.3" x2="1009.1" y2="179.3" stroke="#111" stroke-width="2.6" /><text x="994.1" y="185.5" font-size="17.2" text-anchor="end">4</text><line x1="1001.1" y1="93.4" x2="1009.1" y2="93.4" stroke="#111" stroke-width="2.6" /><text x="994.1" y="99.6" font-size="17.2" text-anchor="end">6</text><text x="1355.5" y="522" font-size="19.4" text-anchor="middle">GFP Score</text><text x="960" y="240.9" font-size="19.4" transform="rotate(-90 960 240.9)" text-anchor="middle">PADI Score</text><text x="899" y="550" font-size="26" font-weight="bold">c</text><path d="M1040 902h2v2h-2zM1106 902h2v2h-2zM1118 902h6v2h-6zM1128 902h2v2h-2zM1138 902h6v2h-6zM1146 902h4v2h-4zM1154 902h18v2h-18zM1174 902h258v2h-258zM1434 902h12v2h-12zM1450 902h20v2h-20zM1472 902h4v2h-4zM1478 902h14v2h-14zM1494 902h2v2h-2zM1500 902h10v2h-10zM1512 902h4v2h-4zM1518 902h2v2h-2zM1526 902h2v2h-2zM1536 902h4v2h-4zM1544 902h2v2h-2zM1552 902h2v2h-2zM1556 902h6v2h-6zM1566 902h2v2h-2zM1578 902h2v2h-2zM1584 902h2v2h-2zM1590 902h12v2h-12zM1608 902h2v2h-2zM1612 902h2v2h-2zM1618 902h12v2h-12zM1632 902h2v2h-2zM1636 902h2v2h-2zM1640 902h2v2h-2zM1646 902h4v2h-4zM1666 902h2v2h-2zM1040 882h2v2h-2zM1122 882h2v2h-2zM1130 882h2v2h-2zM1150 882h2v2h-2zM1154 882h2v2h-2zM1160 882h2v2h-2zM1174 882h4v2h-4zM1180 882h4v2h-4zM1190 882h4v2h-4zM1198 882h6v2h-6zM1206 882h8v2h-8zM1216 882h78v2h-78zM1296 882h8v2h-8zM1306 882h40v2h-40zM1348 882h2v2h-2zM1352 882h2v2h-2zM1356 882h2v2h-2zM1360 882h2v2h-2zM1364 882h4v2h-4zM1370 882h6v2h-6zM1378 882h8v2h-8zM1388 882h2v2h-2zM1394 882h2v2h-2zM1398 882h4v2h-4zM1404 882h2v2h-2zM1414 882h2v2h-2zM1420 882h2v2h-2zM1430 882h2v2h-2zM1434 882h6v2h-6zM1452 882h2v2h-2zM1498 882h2v2h-2zM1554 882h2v2h-2zM1582 882h2v2h-2zM1626 882h2v2h-2zM1666 882h2v2h-2zM1040 906h2v2h-2zM1112 906h2v2h-2zM1116 906h4v2h-4zM1138 906h4v2h-4zM1144 906h6v2h-6zM1152 906h8v2h-8zM1162 906h6v2h-6zM1170 906h260v2h-260zM1432 906h8v2h-8zM1442 906h4v2h-4zM1448 906h6v2h-6zM1458 906h10v2h-10zM1470 906h6v2h-6zM1478 906h4v2h-4zM1484 906h4v2h-4zM1490 906h6v2h-6zM1502 906h2v2h-2zM1506 906h4v2h-4zM1516 906h2v2h-2zM1520 906h2v2h-2zM1526 906h2v2h-2zM1530 906h4v2h-4zM1548 906h2v2h-2zM1552 906h4v2h-4zM1558 906h2v2h-2zM1562 906h4v2h-4zM1578 906h2v2h-2zM1588 906h4v2h-4zM1596 906h4v2h-4zM1602 906h4v2h-4zM1620 906h2v2h-2zM1644 906h2v2h-2zM1666 906h2v2h-2zM1118 888h2v2h-2zM1140 888h2v2h-2zM1144 888h8v2h-8zM1158 888h4v2h-4zM1168 888h2v2h-2zM1172 888h6v2h-6zM1180 888h2v2h-2zM1184 888h192v2h-192zM1378 888h4v2h-4zM1384 888h2v2h-2zM1388 888h6v2h-6zM1396 888h10v2h-10zM1408 888h2v2h-2zM1412 888h4v2h-4zM1420 888h4v2h-4zM1428 888h2v2h-2zM1432 888h4v2h-4zM1438 888h8v2h-8zM1452 888h2v2h-2zM1456 888h2v2h-2zM1462 888h4v2h-4zM1468 888h4v2h-4zM1478 888h2v2h-2zM1486 888h2v2h-2zM1490 888h2v2h-2zM1508 888h6v2h-6zM1536 888h4v2h-4zM1554 888h4v2h-4zM1592 888h2v2h-2zM1604 888h2v2h-2zM1662 888h2v2h-2zM1666 888h2v2h-2zM1040 880h2v2h-2zM1118 880h2v2h-2zM1160 880h2v2h-2zM1170 880h2v2h-2zM1174 880h2v2h-2zM1178 880h6v2h-6zM1186 880h2v2h-2zM1190 880h4v2h-4zM1196 880h4v2h-4zM1202 880h6v2h-6zM1210 880h6v2h-6zM1220 880h16v2h-16zM1240 880h82v2h-82zM1324 880h20v2h-20zM1346 880h6v2h-6zM1356 880h12v2h-12zM1372 880h4v2h-4zM1382 880h4v2h-4zM1390 880h2v2h-2zM1404 880h4v2h-4zM1422 880h2v2h-2zM1426 880h2v2h-2zM1456 880h2v2h-2zM1466 880h2v2h-2zM1490 880h2v2h-2zM1622 880h2v2h-2zM1666 880h2v2h-2zM1040 916h2v2h-2zM1150 916h2v2h-2zM1180 916h2v2h-2zM1186 916h2v2h-2zM1192 916h14v2h-14zM1210 916h4v2h-4zM1216 916h2v2h-2zM1220 916h64v2h-64zM1286 916h52v2h-52zM1342 916h26v2h-26zM1372 916h6v2h-6zM1380 916h4v2h-4zM1388 916h2v2h-2zM1392 916h4v2h-4zM1400 916h12v2h-12zM1414 916h2v2h-2zM1420 916h4v2h-4zM1426 916h2v2h-2zM1430 916h2v2h-2zM1436 916h2v2h-2zM1444 916h2v2h-2zM1452 916h2v2h-2zM1458 916h2v2h-2zM1462 916h2v2h-2zM1470 916h2v2h-2zM1474 916h4v2h-4zM1486 916h2v2h-2zM1494 916h4v2h-4zM1524 916h2v2h-2zM1572 916h2v2h-2zM1620 916h2v2h-2zM1666 916h2v2h-2zM1040 898h2v2h-2zM1094 898h2v2h-2zM1106 898h2v2h-2zM1116 898h2v2h-2zM1122 898h2v2h-2zM1138 898h2v2h-2zM1144 898h4v2h-4zM1150 898h24v2h-24zM1176 898h260v2h-260zM1438 898h6v2h-6zM1448 898h20v2h-20zM1470 898h6v2h-6zM1478 898h6v2h-6zM1486 898h8v2h-8zM1496 898h4v2h-4zM1504 898h2v2h-2zM1510 898h2v2h-2zM1518 898h2v2h-2zM1522 898h2v2h-2zM1528 898h2v2h-2zM1540 898h2v2h-2zM1544 898h2v2h-2zM1548 898h10v2h-10zM1560 898h2v2h-2zM1570 898h4v2h-4zM1576 898h4v2h-4zM1592 898h4v2h-4zM1598 898h2v2h-2zM1602 898h2v2h-2zM1610 898h2v2h-2zM1624 898h2v2h-2zM1632 898h4v2h-4zM1652 898h2v2h-2zM1666 898h2v2h-2zM1040 886h2v2h-2zM1118 886h2v2h-2zM1130 886h2v2h-2zM1138 886h2v2h-2zM1142 886h2v2h-2zM1150 886h12v2h-12zM1164 886h4v2h-4zM1170 886h10v2h-10zM1182 886h180v2h-180zM1364 886h16v2h-16zM1382 886h14v2h-14zM1398 886h18v2h-18zM1418 886h4v2h-4zM1424 886h2v2h-2zM1428 886h2v2h-2zM1432 886h4v2h-4zM1446 886h2v2h-2zM1470 886h2v2h-2zM1474 886h2v2h-2zM1488 886h2v2h-2zM1492 886h2v2h-2zM1498 886h4v2h-4zM1520 886h4v2h-4zM1536 886h2v2h-2zM1556 886h2v2h-2zM1586 886h2v2h-2zM1596 886h2v2h-2zM1642 886h2v2h-2zM1646 886h2v2h-2zM1666 886h2v2h-2zM1144 922h2v2h-2zM1190 922h2v2h-2zM1208 922h2v2h-2zM1218 922h2v2h-2zM1224 922h2v2h-2zM1232 922h2v2h-2zM1242 922h2v2h-2zM1250 922h2v2h-2zM1256 922h4v2h-4zM1262 922h4v2h-4zM1270 922h2v2h-2zM1274 922h4v2h-4zM1280 922h8v2h-8zM1290 922h2v2h-2zM1296 922h2v2h-2zM1302 922h10v2h-10zM1314 922h2v2h-2zM1322 922h4v2h-4zM1328 922h2v2h-2zM1350 922h2v2h-2zM1370 922h4v2h-4zM1376 922h4v2h-4zM1382 922h2v2h-2zM1396 922h2v2h-2zM1400 922h6v2h-6zM1420 922h2v2h-2zM1430 922h4v2h-4zM1464 922h2v2h-2zM1526 922h2v2h-2zM1530 922h2v2h-2zM1574 922h2v2h-2zM1594 922h2v2h-2zM1640 922h2v2h-2zM1666 922h2v2h-2zM1040 878h2v2h-2zM1164 878h2v2h-2zM1176 878h2v2h-2zM1184 878h2v2h-2zM1190 878h4v2h-4zM1196 878h2v2h-2zM1202 878h6v2h-6zM1212 878h6v2h-6zM1220 878h4v2h-4zM1228 878h6v2h-6zM1236 878h2v2h-2zM1240 878h2v2h-2zM1244 878h16v2h-16zM1262 878h12v2h-12zM1276 878h20v2h-20zM1298 878h2v2h-2zM1304 878h20v2h-20zM1326 878h8v2h-8zM1336 878h2v2h-2zM1340 878h4v2h-4zM1350 878h2v2h-2zM1356 878h2v2h-2zM1360 878h4v2h-4zM1368 878h4v2h-4zM1374 878h4v2h-4zM1400 878h2v2h-2zM1410 878h2v2h-2zM1416 878h2v2h-2zM1442 878h2v2h-2zM1666 878h2v2h-2zM1040 914h2v2h-2zM1118 914h2v2h-2zM1150 914h2v2h-2zM1154 914h2v2h-2zM1166 914h2v2h-2zM1170 914h2v2h-2zM1174 914h4v2h-4zM1180 914h2v2h-2zM1188 914h12v2h-12zM1202 914h6v2h-6zM1212 914h14v2h-14zM1230 914h124v2h-124zM1356 914h22v2h-22zM1380 914h4v2h-4zM1386 914h16v2h-16zM1404 914h10v2h-10zM1416 914h4v2h-4zM1422 914h4v2h-4zM1434 914h6v2h-6zM1444 914h10v2h-10zM1460 914h2v2h-2zM1466 914h2v2h-2zM1474 914h2v2h-2zM1488 914h2v2h-2zM1498 914h2v2h-2zM1508 914h2v2h-2zM1522 914h2v2h-2zM1556 914h2v2h-2zM1560 914h2v2h-2zM1566 914h4v2h-4zM1574 914h2v2h-2zM1578 914h2v2h-2zM1584 914h2v2h-2zM1588 914h2v2h-2zM1606 914h2v2h-2zM1610 914h2v2h-2zM1636 914h2v2h-2zM1666 914h2v2h-2zM1040 904h2v2h-2zM1118 904h2v2h-2zM1128 904h6v2h-6zM1144 904h4v2h-4zM1152 904h8v2h-8zM1162 904h4v2h-4zM1168 904h16v2h-16zM1186 904h248v2h-248zM1436 904h8v2h-8zM1446 904h30v2h-30zM1480 904h6v2h-6zM1492 904h2v2h-2zM1500 904h2v2h-2zM1504 904h2v2h-2zM1514 904h6v2h-6zM1530 904h2v2h-2zM1534 904h12v2h-12zM1552 904h2v2h-2zM1556 904h2v2h-2zM1560 904h2v2h-2zM1564 904h8v2h-8zM1574 904h4v2h-4zM1592 904h2v2h-2zM1596 904h2v2h-2zM1614 904h2v2h-2zM1618 904h2v2h-2zM1626 904h6v2h-6zM1646 904h4v2h-4zM1652 904h2v2h-2zM1656 904h2v2h-2zM1666 904h2v2h-2zM1040 834h2v2h-2zM1214 834h2v2h-2zM1256 834h4v2h-4zM1264 834h2v2h-2zM1272 834h2v2h-2zM1364 834h2v2h-2zM1238 782h2v2h-2zM1040 874h2v2h-2zM1188 874h4v2h-4zM1200 874h4v2h-4zM1206 874h2v2h-2zM1212 874h2v2h-2zM1216 874h8v2h-8zM1226 874h2v2h-2zM1232 874h2v2h-2zM1238 874h2v2h-2zM1242 874h2v2h-2zM1248 874h14v2h-14zM1264 874h26v2h-26zM1292 874h6v2h-6zM1300 874h2v2h-2zM1304 874h6v2h-6zM1312 874h8v2h-8zM1322 874h8v2h-8zM1332 874h6v2h-6zM1342 874h4v2h-4zM1348 874h2v2h-2zM1352 874h2v2h-2zM1356 874h2v2h-2zM1370 874h2v2h-2zM1380 874h2v2h-2zM1386 874h2v2h-2zM1404 874h2v2h-2zM1666 874h2v2h-2zM1190 866h2v2h-2zM1202 866h2v2h-2zM1206 866h2v2h-2zM1236 866h4v2h-4zM1244 866h2v2h-2zM1256 866h2v2h-2zM1266 866h2v2h-2zM1274 866h2v2h-2zM1280 866h8v2h-8zM1292 866h2v2h-2zM1304 866h14v2h-14zM1322 866h4v2h-4zM1332 866h6v2h-6zM1340 866h2v2h-2zM1352 866h4v2h-4zM1380 866h2v2h-2zM1040 894h2v2h-2zM1114 894h2v2h-2zM1118 894h2v2h-2zM1126 894h2v2h-2zM1130 894h2v2h-2zM1138 894h2v2h-2zM1142 894h4v2h-4zM1150 894h284v2h-284zM1436 894h18v2h-18zM1458 894h2v2h-2zM1478 894h6v2h-6zM1494 894h4v2h-4zM1514 894h2v2h-2zM1518 894h2v2h-2zM1522 894h4v2h-4zM1532 894h2v2h-2zM1548 894h4v2h-4zM1562 894h2v2h-2zM1572 894h2v2h-2zM1576 894h4v2h-4zM1582 894h2v2h-2zM1594 894h6v2h-6zM1616 894h2v2h-2zM1624 894h2v2h-2zM1628 894h2v2h-2zM1648 894h2v2h-2zM1662 894h6v2h-6zM1040 918h2v2h-2zM1146 918h2v2h-2zM1152 918h2v2h-2zM1168 918h2v2h-2zM1178 918h4v2h-4zM1192 918h8v2h-8zM1202 918h4v2h-4zM1210 918h2v2h-2zM1214 918h2v2h-2zM1218 918h2v2h-2zM1224 918h6v2h-6zM1232 918h4v2h-4zM1238 918h2v2h-2zM1242 918h8v2h-8zM1252 918h2v2h-2zM1256 918h8v2h-8zM1266 918h60v2h-60zM1328 918h6v2h-6zM1336 918h18v2h-18zM1356 918h8v2h-8zM1376 918h2v2h-2zM1384 918h4v2h-4zM1390 918h6v2h-6zM1398 918h8v2h-8zM1408 918h4v2h-4zM1428 918h6v2h-6zM1450 918h2v2h-2zM1470 918h2v2h-2zM1476 918h2v2h-2zM1572 918h2v2h-2zM1578 918h2v2h-2zM1594 918h2v2h-2zM1648 918h2v2h-2zM1666 918h2v2h-2zM1040 900h2v2h-2zM1116 900h4v2h-4zM1122 900h2v2h-2zM1130 900h4v2h-4zM1144 900h10v2h-10zM1156 900h276v2h-276zM1434 900h24v2h-24zM1460 900h8v2h-8zM1470 900h4v2h-4zM1476 900h4v2h-4zM1486 900h2v2h-2zM1490 900h4v2h-4zM1496 900h2v2h-2zM1500 900h24v2h-24zM1526 900h4v2h-4zM1538 900h4v2h-4zM1548 900h2v2h-2zM1552 900h6v2h-6zM1560 900h2v2h-2zM1566 900h2v2h-2zM1576 900h2v2h-2zM1582 900h2v2h-2zM1588 900h6v2h-6zM1598 900h6v2h-6zM1606 900h6v2h-6zM1624 900h2v2h-2zM1630 900h2v2h-2zM1636 900h2v2h-2zM1640 900h6v2h-6zM1652 900h2v2h-2zM1666 900h2v2h-2zM1040 892h2v2h-2zM1118 892h2v2h-2zM1124 892h2v2h-2zM1136 892h2v2h-2zM1142 892h10v2h-10zM1156 892h4v2h-4zM1162 892h218v2h-218zM1382 892h4v2h-4zM1388 892h26v2h-26zM1416 892h6v2h-6zM1424 892h18v2h-18zM1444 892h6v2h-6zM1456 892h6v2h-6zM1464 892h2v2h-2zM1468 892h6v2h-6zM1476 892h4v2h-4zM1484 892h2v2h-2zM1488 892h2v2h-2zM1492 892h2v2h-2zM1500 892h2v2h-2zM1504 892h4v2h-4zM1512 892h2v2h-2zM1522 892h2v2h-2zM1530 892h6v2h-6zM1540 892h2v2h-2zM1544 892h2v2h-2zM1548 892h2v2h-2zM1554 892h2v2h-2zM1566 892h2v2h-2zM1570 892h2v2h-2zM1590 892h2v2h-2zM1598 892h2v2h-2zM1606 892h2v2h-2zM1612 892h2v2h-2zM1644 892h2v2h-2zM1666 892h2v2h-2zM1118 870h2v2h-2zM1190 870h4v2h-4zM1208 870h4v2h-4zM1220 870h2v2h-2zM1224 870h6v2h-6zM1234 870h2v2h-2zM1242 870h10v2h-10zM1262 870h8v2h-8zM1272 870h2v2h-2zM1280 870h2v2h-2zM1292 870h6v2h-6zM1300 870h8v2h-8zM1310 870h4v2h-4zM1318 870h8v2h-8zM1328 870h4v2h-4zM1334 870h8v2h-8zM1344 870h6v2h-6zM1360 870h2v2h-2zM1380 870h4v2h-4zM1666 870h2v2h-2zM1040 896h2v2h-2zM1106 896h2v2h-2zM1114 896h2v2h-2zM1118 896h2v2h-2zM1128 896h4v2h-4zM1134 896h4v2h-4zM1140 896h2v2h-2zM1144 896h2v2h-2zM1148 896h6v2h-6zM1156 896h206v2h-206zM1364 896h50v2h-50zM1416 896h32v2h-32zM1450 896h2v2h-2zM1454 896h4v2h-4zM1460 896h2v2h-2zM1466 896h2v2h-2zM1472 896h18v2h-18zM1496 896h6v2h-6zM1508 896h4v2h-4zM1532 896h6v2h-6zM1546 896h2v2h-2zM1552 896h2v2h-2zM1556 896h2v2h-2zM1560 896h2v2h-2zM1574 896h4v2h-4zM1582 896h2v2h-2zM1586 896h2v2h-2zM1590 896h2v2h-2zM1594 896h2v2h-2zM1610 896h2v2h-2zM1628 896h2v2h-2zM1632 896h2v2h-2zM1648 896h2v2h-2zM1652 896h2v2h-2zM1666 896h2v2h-2zM1040 862h2v2h-2zM1182 862h2v2h-2zM1186 862h2v2h-2zM1216 862h4v2h-4zM1230 862h2v2h-2zM1236 862h4v2h-4zM1250 862h2v2h-2zM1254 862h2v2h-2zM1258 862h2v2h-2zM1264 862h2v2h-2zM1272 862h4v2h-4zM1280 862h2v2h-2zM1284 862h2v2h-2zM1296 862h4v2h-4zM1304 862h2v2h-2zM1308 862h6v2h-6zM1316 862h4v2h-4zM1328 862h2v2h-2zM1340 862h8v2h-8zM1352 862h2v2h-2zM1356 862h2v2h-2zM1360 862h2v2h-2zM1366 862h2v2h-2zM1374 862h2v2h-2zM1380 862h2v2h-2zM1396 862h2v2h-2zM1404 862h2v2h-2zM1424 862h2v2h-2zM1040 890h2v2h-2zM1114 890h2v2h-2zM1118 890h2v2h-2zM1136 890h2v2h-2zM1140 890h2v2h-2zM1144 890h4v2h-4zM1152 890h6v2h-6zM1160 890h2v2h-2zM1164 890h2v2h-2zM1168 890h6v2h-6zM1176 890h244v2h-244zM1422 890h4v2h-4zM1428 890h2v2h-2zM1432 890h2v2h-2zM1436 890h2v2h-2zM1440 890h6v2h-6zM1448 890h4v2h-4zM1454 890h2v2h-2zM1468 890h2v2h-2zM1472 890h2v2h-2zM1480 890h2v2h-2zM1490 890h2v2h-2zM1532 890h2v2h-2zM1536 890h4v2h-4zM1542 890h2v2h-2zM1546 890h2v2h-2zM1550 890h2v2h-2zM1610 890h2v2h-2zM1624 890h2v2h-2zM1666 890h2v2h-2zM1118 836h2v2h-2zM1190 836h2v2h-2zM1254 836h2v2h-2zM1310 836h2v2h-2zM1318 836h2v2h-2zM1328 836h2v2h-2zM1374 836h2v2h-2zM1040 912h2v2h-2zM1118 912h2v2h-2zM1138 912h2v2h-2zM1152 912h2v2h-2zM1162 912h2v2h-2zM1166 912h2v2h-2zM1170 912h6v2h-6zM1180 912h46v2h-46zM1228 912h208v2h-208zM1440 912h2v2h-2zM1444 912h2v2h-2zM1448 912h2v2h-2zM1458 912h2v2h-2zM1464 912h2v2h-2zM1472 912h4v2h-4zM1484 912h2v2h-2zM1490 912h2v2h-2zM1512 912h4v2h-4zM1518 912h2v2h-2zM1522 912h4v2h-4zM1538 912h2v2h-2zM1548 912h2v2h-2zM1566 912h4v2h-4zM1576 912h4v2h-4zM1584 912h2v2h-2zM1596 912h2v2h-2zM1600 912h4v2h-4zM1622 912h2v2h-2zM1628 912h2v2h-2zM1642 912h2v2h-2zM1666 912h2v2h-2zM1206 842h2v2h-2zM1224 842h2v2h-2zM1254 842h2v2h-2zM1258 842h2v2h-2zM1270 842h2v2h-2zM1290 842h2v2h-2zM1304 842h2v2h-2zM1336 842h2v2h-2zM1378 842h2v2h-2zM1404 842h2v2h-2zM1666 842h2v2h-2zM1040 884h2v2h-2zM1124 884h2v2h-2zM1148 884h6v2h-6zM1162 884h4v2h-4zM1170 884h4v2h-4zM1176 884h6v2h-6zM1184 884h2v2h-2zM1188 884h4v2h-4zM1194 884h6v2h-6zM1202 884h8v2h-8zM1212 884h6v2h-6zM1220 884h132v2h-132zM1354 884h4v2h-4zM1360 884h22v2h-22zM1386 884h4v2h-4zM1392 884h2v2h-2zM1396 884h2v2h-2zM1400 884h12v2h-12zM1414 884h4v2h-4zM1422 884h2v2h-2zM1438 884h4v2h-4zM1448 884h2v2h-2zM1584 884h2v2h-2zM1638 884h2v2h-2zM1642 884h2v2h-2zM1666 884h2v2h-2zM1040 910h2v2h-2zM1118 910h2v2h-2zM1156 910h2v2h-2zM1164 910h8v2h-8zM1174 910h4v2h-4zM1180 910h52v2h-52zM1234 910h186v2h-186zM1424 910h6v2h-6zM1432 910h18v2h-18zM1452 910h2v2h-2zM1460 910h2v2h-2zM1464 910h2v2h-2zM1468 910h2v2h-2zM1472 910h6v2h-6zM1482 910h4v2h-4zM1488 910h2v2h-2zM1504 910h4v2h-4zM1510 910h6v2h-6zM1522 910h2v2h-2zM1526 910h4v2h-4zM1542 910h2v2h-2zM1546 910h2v2h-2zM1562 910h2v2h-2zM1570 910h4v2h-4zM1606 910h2v2h-2zM1612 910h2v2h-2zM1616 910h2v2h-2zM1620 910h2v2h-2zM1624 910h2v2h-2zM1640 910h4v2h-4zM1650 910h2v2h-2zM1666 910h2v2h-2zM1040 908h2v2h-2zM1118 908h2v2h-2zM1152 908h2v2h-2zM1162 908h4v2h-4zM1170 908h270v2h-270zM1444 908h20v2h-20zM1466 908h6v2h-6zM1476 908h6v2h-6zM1492 908h2v2h-2zM1496 908h8v2h-8zM1506 908h2v2h-2zM1510 908h2v2h-2zM1514 908h2v2h-2zM1520 908h10v2h-10zM1532 908h2v2h-2zM1536 908h2v2h-2zM1540 908h2v2h-2zM1544 908h2v2h-2zM1548 908h2v2h-2zM1552 908h10v2h-10zM1566 908h2v2h-2zM1572 908h2v2h-2zM1576 908h2v2h-2zM1582 908h2v2h-2zM1588 908h2v2h-2zM1592 908h4v2h-4zM1598 908h4v2h-4zM1606 908h4v2h-4zM1628 908h2v2h-2zM1632 908h2v2h-2zM1638 908h2v2h-2zM1666 908h2v2h-2zM1040 872h2v2h-2zM1118 872h2v2h-2zM1190 872h6v2h-6zM1200 872h2v2h-2zM1208 872h4v2h-4zM1216 872h2v2h-2zM1220 872h2v2h-2zM1226 872h4v2h-4zM1232 872h2v2h-2zM1240 872h2v2h-2zM1248 872h10v2h-10zM1260 872h8v2h-8zM1274 872h2v2h-2zM1278 872h6v2h-6zM1288 872h12v2h-12zM1308 872h10v2h-10zM1320 872h2v2h-2zM1324 872h2v2h-2zM1332 872h2v2h-2zM1336 872h4v2h-4zM1346 872h2v2h-2zM1350 872h2v2h-2zM1362 872h8v2h-8zM1404 872h2v2h-2zM1444 872h2v2h-2zM1666 872h2v2h-2zM1192 828h2v2h-2zM1248 828h2v2h-2zM1260 828h2v2h-2zM1264 828h2v2h-2zM1272 828h2v2h-2zM1280 828h2v2h-2zM1296 828h2v2h-2zM1324 828h2v2h-2zM1328 828h2v2h-2zM1666 828h2v2h-2zM1268 768h2v2h-2zM1272 768h2v2h-2zM1298 768h2v2h-2zM1314 768h2v2h-2zM1350 768h2v2h-2zM1118 876h2v2h-2zM1142 876h4v2h-4zM1176 876h2v2h-2zM1184 876h2v2h-2zM1190 876h4v2h-4zM1198 876h2v2h-2zM1212 876h4v2h-4zM1220 876h2v2h-2zM1224 876h4v2h-4zM1230 876h2v2h-2zM1240 876h4v2h-4zM1250 876h42v2h-42zM1294 876h16v2h-16zM1312 876h2v2h-2zM1316 876h6v2h-6zM1324 876h2v2h-2zM1328 876h2v2h-2zM1332 876h6v2h-6zM1344 876h2v2h-2zM1348 876h4v2h-4zM1380 876h2v2h-2zM1510 876h2v2h-2zM1666 876h2v2h-2zM1040 920h2v2h-2zM1190 920h2v2h-2zM1202 920h2v2h-2zM1206 920h2v2h-2zM1210 920h2v2h-2zM1228 920h2v2h-2zM1232 920h2v2h-2zM1236 920h4v2h-4zM1244 920h6v2h-6zM1252 920h6v2h-6zM1260 920h14v2h-14zM1276 920h6v2h-6zM1284 920h6v2h-6zM1292 920h4v2h-4zM1298 920h4v2h-4zM1304 920h26v2h-26zM1332 920h2v2h-2zM1338 920h4v2h-4zM1346 920h4v2h-4zM1352 920h4v2h-4zM1358 920h8v2h-8zM1368 920h2v2h-2zM1380 920h6v2h-6zM1394 920h10v2h-10zM1406 920h2v2h-2zM1410 920h4v2h-4zM1422 920h2v2h-2zM1430 920h2v2h-2zM1438 920h4v2h-4zM1454 920h2v2h-2zM1484 920h2v2h-2zM1492 920h2v2h-2zM1508 920h2v2h-2zM1520 920h2v2h-2zM1526 920h2v2h-2zM1556 920h4v2h-4zM1626 920h2v2h-2zM1666 920h2v2h-2zM1146 868h2v2h-2zM1204 868h2v2h-2zM1210 868h2v2h-2zM1216 868h2v2h-2zM1226 868h2v2h-2zM1234 868h2v2h-2zM1238 868h6v2h-6zM1250 868h2v2h-2zM1258 868h8v2h-8zM1268 868h2v2h-2zM1274 868h6v2h-6zM1282 868h4v2h-4zM1288 868h6v2h-6zM1296 868h10v2h-10zM1310 868h2v2h-2zM1314 868h8v2h-8zM1334 868h2v2h-2zM1338 868h2v2h-2zM1342 868h4v2h-4zM1352 868h2v2h-2zM1360 868h2v2h-2zM1390 868h2v2h-2zM1040 860h2v2h-2zM1118 860h2v2h-2zM1184 860h2v2h-2zM1228 860h2v2h-2zM1236 860h2v2h-2zM1250 860h4v2h-4zM1272 860h6v2h-6zM1280 860h2v2h-2zM1286 860h4v2h-4zM1300 860h10v2h-10zM1318 860h2v2h-2zM1328 860h2v2h-2zM1336 860h4v2h-4zM1352 860h2v2h-2zM1404 860h2v2h-2zM1218 852h2v2h-2zM1226 852h2v2h-2zM1232 852h2v2h-2zM1240 852h2v2h-2zM1246 852h2v2h-2zM1258 852h2v2h-2zM1262 852h2v2h-2zM1276 852h2v2h-2zM1280 852h4v2h-4zM1286 852h2v2h-2zM1300 852h2v2h-2zM1308 852h2v2h-2zM1314 852h2v2h-2zM1318 852h4v2h-4zM1328 852h2v2h-2zM1336 852h6v2h-6zM1352 852h2v2h-2zM1236 830h2v2h-2zM1248 830h2v2h-2zM1272 830h2v2h-2zM1286 830h2v2h-2zM1294 830h2v2h-2zM1300 830h2v2h-2zM1304 830h4v2h-4zM1312 830h2v2h-2zM1408 830h2v2h-2zM1190 854h2v2h-2zM1230 854h6v2h-6zM1242 854h2v2h-2zM1246 854h6v2h-6zM1260 854h4v2h-4zM1266 854h2v2h-2zM1270 854h2v2h-2zM1276 854h2v2h-2zM1282 854h6v2h-6zM1294 854h4v2h-4zM1300 854h2v2h-2zM1308 854h2v2h-2zM1318 854h2v2h-2zM1322 854h2v2h-2zM1326 854h2v2h-2zM1332 854h2v2h-2zM1354 854h2v2h-2zM1370 854h2v2h-2zM1118 848h2v2h-2zM1212 848h2v2h-2zM1226 848h6v2h-6zM1242 848h2v2h-2zM1246 848h2v2h-2zM1250 848h2v2h-2zM1256 848h6v2h-6zM1268 848h2v2h-2zM1284 848h2v2h-2zM1288 848h2v2h-2zM1296 848h4v2h-4zM1308 848h2v2h-2zM1318 848h2v2h-2zM1324 848h2v2h-2zM1358 848h2v2h-2zM1190 924h2v2h-2zM1218 924h2v2h-2zM1222 924h2v2h-2zM1244 924h2v2h-2zM1260 924h2v2h-2zM1272 924h2v2h-2zM1280 924h4v2h-4zM1290 924h2v2h-2zM1296 924h2v2h-2zM1300 924h4v2h-4zM1308 924h4v2h-4zM1324 924h2v2h-2zM1338 924h2v2h-2zM1348 924h4v2h-4zM1358 924h2v2h-2zM1404 924h2v2h-2zM1414 924h4v2h-4zM1422 924h4v2h-4zM1480 924h2v2h-2zM1666 924h2v2h-2zM1244 800h2v2h-2zM1288 800h2v2h-2zM1302 800h2v2h-2zM1310 800h2v2h-2zM1342 800h2v2h-2zM1368 800h2v2h-2zM1118 930h2v2h-2zM1284 788h2v2h-2zM1298 788h2v2h-2zM1306 788h2v2h-2zM1350 788h2v2h-2zM1666 788h2v2h-2zM1118 714h2v2h-2zM1666 662h2v2h-2zM1220 786h2v2h-2zM1258 786h2v2h-2zM1292 786h2v2h-2zM1306 786h2v2h-2zM1118 840h2v2h-2zM1218 840h2v2h-2zM1224 840h2v2h-2zM1248 840h2v2h-2zM1274 840h2v2h-2zM1292 840h2v2h-2zM1312 840h2v2h-2zM1326 840h2v2h-2zM1344 840h2v2h-2zM1264 806h2v2h-2zM1280 806h2v2h-2zM1314 806h2v2h-2zM1330 806h2v2h-2zM1344 806h2v2h-2zM1190 858h2v2h-2zM1194 858h2v2h-2zM1198 858h2v2h-2zM1210 858h2v2h-2zM1228 858h4v2h-4zM1234 858h2v2h-2zM1244 858h2v2h-2zM1258 858h4v2h-4zM1266 858h8v2h-8zM1278 858h2v2h-2zM1284 858h4v2h-4zM1290 858h6v2h-6zM1298 858h2v2h-2zM1310 858h2v2h-2zM1314 858h2v2h-2zM1330 858h6v2h-6zM1666 858h2v2h-2zM1118 926h2v2h-2zM1252 926h4v2h-4zM1304 926h2v2h-2zM1308 926h4v2h-4zM1336 926h2v2h-2zM1348 926h4v2h-4zM1404 926h2v2h-2zM1666 926h2v2h-2zM1238 814h2v2h-2zM1260 814h2v2h-2zM1266 814h2v2h-2zM1288 814h2v2h-2zM1340 814h2v2h-2zM1354 814h2v2h-2zM1222 790h2v2h-2zM1304 790h2v2h-2zM1666 790h2v2h-2zM1266 730h2v2h-2zM1286 730h2v2h-2zM1312 730h2v2h-2zM1118 864h2v2h-2zM1212 864h2v2h-2zM1218 864h4v2h-4zM1228 864h2v2h-2zM1242 864h4v2h-4zM1248 864h6v2h-6zM1256 864h2v2h-2zM1264 864h4v2h-4zM1274 864h2v2h-2zM1278 864h4v2h-4zM1284 864h2v2h-2zM1294 864h2v2h-2zM1308 864h2v2h-2zM1312 864h10v2h-10zM1326 864h4v2h-4zM1338 864h2v2h-2zM1342 864h6v2h-6zM1364 864h2v2h-2zM1404 864h2v2h-2zM1228 846h2v2h-2zM1244 846h2v2h-2zM1248 846h2v2h-2zM1254 846h2v2h-2zM1260 846h2v2h-2zM1270 846h2v2h-2zM1278 846h4v2h-4zM1290 846h4v2h-4zM1312 846h2v2h-2zM1322 846h2v2h-2zM1352 846h2v2h-2zM1366 846h2v2h-2zM1388 846h2v2h-2zM1292 722h2v2h-2zM1298 722h2v2h-2zM1328 722h2v2h-2zM1190 748h2v2h-2zM1224 748h2v2h-2zM1280 748h2v2h-2zM1296 748h2v2h-2zM1666 748h2v2h-2zM1248 812h2v2h-2zM1264 812h2v2h-2zM1040 742h2v2h-2zM1234 742h2v2h-2zM1250 742h2v2h-2zM1266 742h2v2h-2zM1040 572h2v2h-2zM1232 832h2v2h-2zM1266 832h2v2h-2zM1302 832h2v2h-2zM1310 832h2v2h-2zM1242 702h2v2h-2zM1346 702h2v2h-2zM1206 844h2v2h-2zM1222 844h2v2h-2zM1234 844h2v2h-2zM1256 844h2v2h-2zM1262 844h2v2h-2zM1270 844h2v2h-2zM1280 844h2v2h-2zM1284 844h2v2h-2zM1318 844h2v2h-2zM1324 844h2v2h-2zM1346 844h2v2h-2zM1356 844h2v2h-2zM1230 856h2v2h-2zM1236 856h2v2h-2zM1244 856h2v2h-2zM1252 856h4v2h-4zM1258 856h2v2h-2zM1262 856h2v2h-2zM1266 856h6v2h-6zM1274 856h2v2h-2zM1280 856h4v2h-4zM1286 856h2v2h-2zM1292 856h2v2h-2zM1316 856h2v2h-2zM1320 856h8v2h-8zM1340 856h2v2h-2zM1346 856h2v2h-2zM1118 802h2v2h-2zM1280 802h2v2h-2zM1298 802h2v2h-2zM1324 802h2v2h-2zM1340 802h2v2h-2zM1040 716h2v2h-2zM1294 716h2v2h-2zM1354 716h2v2h-2zM1312 680h2v2h-2zM1666 680h2v2h-2zM1190 936h2v2h-2zM1258 794h2v2h-2zM1264 794h2v2h-2zM1270 794h4v2h-4zM1286 794h4v2h-4zM1294 794h2v2h-2zM1282 808h2v2h-2zM1310 808h2v2h-2zM1360 808h2v2h-2zM1372 808h2v2h-2zM1190 850h2v2h-2zM1222 850h2v2h-2zM1264 850h2v2h-2zM1270 850h2v2h-2zM1274 850h2v2h-2zM1280 850h2v2h-2zM1284 850h4v2h-4zM1294 850h2v2h-2zM1320 850h4v2h-4zM1286 664h2v2h-2zM1308 708h2v2h-2zM1326 708h2v2h-2zM1404 708h2v2h-2zM1248 838h2v2h-2zM1256 838h2v2h-2zM1264 838h2v2h-2zM1280 838h2v2h-2zM1298 838h2v2h-2zM1324 838h2v2h-2zM1340 838h4v2h-4zM1352 838h2v2h-2zM1366 838h2v2h-2zM1386 838h2v2h-2zM1240 666h2v2h-2zM1260 766h2v2h-2zM1314 766h2v2h-2zM1244 758h2v2h-2zM1310 758h2v2h-2zM1306 732h2v2h-2zM1338 732h2v2h-2zM1274 726h2v2h-2zM1280 726h2v2h-2zM1298 726h2v2h-2zM1402 726h2v2h-2zM1190 804h2v2h-2zM1340 804h2v2h-2zM1368 804h2v2h-2zM1254 692h2v2h-2zM1282 692h2v2h-2zM1298 654h2v2h-2zM1252 760h2v2h-2zM1242 798h2v2h-2zM1254 798h2v2h-2zM1264 798h2v2h-2zM1278 798h6v2h-6zM1304 798h2v2h-2zM1324 798h2v2h-2zM1270 738h2v2h-2zM1288 738h2v2h-2zM1356 738h2v2h-2zM1404 738h2v2h-2zM1260 792h2v2h-2zM1266 792h2v2h-2zM1308 792h2v2h-2zM1248 818h2v2h-2zM1290 818h2v2h-2zM1320 818h2v2h-2zM1338 818h2v2h-2zM1404 818h2v2h-2zM1190 934h2v2h-2zM1666 934h2v2h-2zM1118 776h2v2h-2zM1242 776h2v2h-2zM1330 776h2v2h-2zM1666 776h2v2h-2zM1288 822h2v2h-2zM1306 822h2v2h-2zM1256 718h2v2h-2zM1244 826h2v2h-2zM1250 826h2v2h-2zM1352 826h2v2h-2zM1358 826h2v2h-2zM1380 826h2v2h-2zM1666 826h2v2h-2zM1308 780h2v2h-2zM1320 780h2v2h-2zM1352 780h2v2h-2zM1352 734h2v2h-2zM1040 932h2v2h-2zM1118 932h2v2h-2zM1666 932h2v2h-2zM1234 710h2v2h-2zM1280 710h2v2h-2zM1306 710h2v2h-2zM1244 698h2v2h-2zM1320 698h2v2h-2zM1382 698h2v2h-2zM1252 712h2v2h-2zM1244 784h2v2h-2zM1252 784h2v2h-2zM1278 784h2v2h-2zM1238 774h2v2h-2zM1296 774h2v2h-2zM1312 728h2v2h-2zM1404 728h2v2h-2zM1336 686h2v2h-2zM1232 756h2v2h-2zM1254 756h2v2h-2zM1280 756h2v2h-2zM1244 752h2v2h-2zM1310 752h2v2h-2zM1322 752h2v2h-2zM1404 752h2v2h-2zM1234 770h2v2h-2zM1242 770h2v2h-2zM1250 770h2v2h-2zM1300 770h2v2h-2zM1332 770h2v2h-2zM1196 696h2v2h-2zM1666 696h2v2h-2zM1356 678h2v2h-2zM1226 736h2v2h-2zM1248 736h2v2h-2zM1666 736h2v2h-2zM1360 724h2v2h-2zM1262 820h2v2h-2zM1280 820h2v2h-2zM1302 820h2v2h-2zM1308 820h2v2h-2zM1290 762h2v2h-2zM1296 762h2v2h-2zM1330 762h2v2h-2zM1250 684h2v2h-2zM1338 684h2v2h-2zM1118 928h2v2h-2zM1192 928h2v2h-2zM1334 688h2v2h-2zM1316 740h2v2h-2zM1254 668h2v2h-2zM1280 668h2v2h-2zM1330 668h2v2h-2zM1268 824h2v2h-2zM1272 824h2v2h-2zM1300 824h2v2h-2zM1368 824h2v2h-2zM1372 824h2v2h-2zM1666 954h2v2h-2zM1274 746h2v2h-2zM1286 746h2v2h-2zM1316 746h2v2h-2zM1322 746h2v2h-2zM1350 746h2v2h-2zM1256 700h2v2h-2zM1270 700h2v2h-2zM1256 706h2v2h-2zM1330 706h2v2h-2zM1282 744h2v2h-2zM1236 810h2v2h-2zM1252 810h2v2h-2zM1256 810h2v2h-2zM1268 810h2v2h-2zM1234 772h2v2h-2zM1322 772h2v2h-2zM1360 772h2v2h-2zM1292 750h2v2h-2zM1320 750h2v2h-2zM1118 816h2v2h-2zM1382 816h2v2h-2zM1306 720h2v2h-2zM1352 720h2v2h-2zM1286 764h2v2h-2zM1666 942h2v2h-2zM1262 754h2v2h-2zM1266 754h2v2h-2zM1374 660h2v2h-2zM1282 670h2v2h-2zM1190 690h2v2h-2zM1666 676h2v2h-2z" fill="#8a8a8a"/><path d="M1041 580h0m0 1h0m0 3h0m0 5h0m0 1h0m0 2h0m0 4h0m0 3h0m0 3h0m0 3h0m0 3h0m0 2h0m0 8h0m0 1h0m0 2h0m0 4h0m0 9h0m0 1h0m0 8h0m0 13h0m0 1h0m0 9h0m0 2h0m0 6h0m0 1h0m0 1h0m0 12h0m0 5h0m0 7h0m0 7h0m0 1h0m0 2h0m0 6h0m0 9h0m0 1h0m0 1h0m0 9h0m0 1h0m0 3h0m0 11h0m0 9h0m0 3h0m0 3h0m0 9h0m0 2h0m0 1h0m0 3h0m0 2h0m0 3h0m0 9h0m0 2h0m0 1h0m0 2h0m0 8h0m0 2h0m0 1h0m0 2h0m0 1h0m0 2h0m0 1h0m0 2h0m0 3h0m0 1h0m0 2h0m0 2h0m0 16h0m0 3h0m0 1h0m0 1h0m0 1h0m0 2h0m0 2h0m0 1h0m0 1h0m0 1h0m0 2h0m0 8h0m0 1h0m0 1h0m0 2h0m0 7h0m0 13h0m0 32h0m0 3h0m0 2h0m0 1h0m0 2h0m0 5h0m0 2h0m0 2h0m0 3h0m0 1h0m0 10h0m1-52h0m2-2h0m1-33h0m2-15h0m0 38h0m1-95h0m1 85h0m2-174h0m0 192h0m3-29h0m1 41h0m1-70h0m0 50h0m0 17h0m1-111h0m0 109h0m1-84h0m0 79h0m1-56h0m1 65h0m1-23h0m1-267h0m1 265h0m0 16h0m0 1h0m1-14h0m0 9h0m1-146h0m0 22h0m0 121h0m0 1h0m0 16h0m0 2h0m2-27h0m1-78h0m0 10h0m0 64h0m0 5h0m0 8h0m1-10h0m0 5h0m2-48h0m0 24h0m0 26h0m0 7h0m1-23h0m1-204h0m0 100h0m0 113h0m1 28h0m1-54h0m0 27h0m0 5h0m1-206h0m0 182h0m0 27h0m0 2h0m1-64h0m0 18h0m0 33h0m0 8h0m0 8h0m0 6h0m0 9h0m1-5h0m1-306h0m0 143h0m0 43h0m0 20h0m0 22h0m0 68h0m1-178h0m0 136h0m0 36h0m0 12h0m0 3h0m0 3h0m1-73h0m0 55h0m0 6h0m0 14h0m1-28h0m0 7h0m0 3h0m0 3h0m1 7h0m0 15h0m0 2h0m1-72h0m0 34h0m0 11h0m0 3h0m0 12h0m1-105h0m0 13h0m0 63h0m0 6h0m0 3h0m0 2h0m0 4h0m0 10h0m1-27h0m0 38h0m1-96h0m0 83h0m0 27h0m1-219h0m0 142h0m1 36h0m0 4h0m0 1h0m0 7h0m0 13h0m1-46h0m0 46h0m0 3h0m1-217h0m0 52h0m0 65h0m0 40h0m0 35h0m0 7h0m0 3h0m1-130h0m0 10h0m0 108h0m0 2h0m0 9h0m0 24h0m1-47h0m0 12h0m0 8h0m0 4h0m0 5h0m0 5h0m1-208h0m0 185h0m0 2h0m0 7h0m1-11h0m0 26h0m1-32h0m0 10h0m0 5h0m0 1h0m0 4h0m0 6h0m0 1h0m1-165h0m0 17h0m0 48h0m0 71h0m0 10h0m0 4h0m0 1h0m0 18h0m1-41h0m0 14h0m0 3h0m0 5h0m0 5h0m0 2h0m1-76h0m0 65h0m0 3h0m0 3h0m0 1h0m0 1h0m0 7h0m0 8h0m1-21h0m0 11h0m1-9h0m1-171h0m0 104h0m0 68h0m0 5h0m0 5h0m1-162h0m0 24h0m0 113h0m0 8h0m0 9h0m0 6h0m0 1h0m0 1h0m0 2h0m0 15h0m1-33h0m0 6h0m0 12h0m0 6h0m1-188h0m0 129h0m0 19h0m0 16h0m0 14h0m0 2h0m0 9h0m1-24h0m0 9h0m0 3h0m0 3h0m1-152h0m0 135h0m0 6h0m0 18h0m0 4h0m0 2h0m1-98h0m0 66h0m0 4h0m0 1h0m0 14h0m0 6h0m0 6h0m1-21h0m0 4h0m0 1h0m0 12h0m0 6h0m1-62h0m0 23h0m0 14h0m0 1h0m0 3h0m0 4h0m0 6h0m0 4h0m0 6h0m0 7h0m1-129h0m0 39h0m0 24h0m0 3h0m0 23h0m0 3h0m0 2h0m0 4h0m0 6h0m0 4h0m0 2h0m0 10h0m1-246h0m0 211h0m0 7h0m0 9h0m0 14h0m1-44h0m0 28h0m0 4h0m0 3h0m0 3h0m0 7h0m0 4h0m0 2h0m0 6h0m0 9h0m1-57h0m0 17h0m0 4h0m0 4h0m0 10h0m0 2h0m0 1h0m0 6h0m1-217h0m0 27h0m0 148h0m0 7h0m0 7h0m0 13h0m0 1h0m1-122h0m0 20h0m0 27h0m0 2h0m0 5h0m0 13h0m0 14h0m0 20h0m0 4h0m0 11h0m0 18h0m1-110h0m0 70h0m0 4h0m0 8h0m0 4h0m0 2h0m0 15h0m1-190h0m0 8h0m0 16h0m0 7h0m0 21h0m0 35h0m0 45h0m0 3h0m0 19h0m0 7h0m0 5h0m0 21h0m0 8h0m0 1h0m0 2h0m0 18h0m0 15h0m1-282h0m0 8h0m0 2h0m0 4h0m0 4h0m0 4h0m0 3h0m0 5h0m0 1h0m0 2h0m0 5h0m0 2h0m0 4h0m0 7h0m0 1h0m0 5h0m0 1h0m0 4h0m0 20h0m0 10h0m0 3h0m0 1h0m0 1h0m0 5h0m0 3h0m0 2h0m0 4h0m0 18h0m0 3h0m0 11h0m0 2h0m0 1h0m0 1h0m0 8h0m0 5h0m0 3h0m0 22h0m0 3h0m0 4h0m0 8h0m0 6h0m0 1h0m0 8h0m0 2h0m0 14h0m0 1h0m0 18h0m0 4h0m0 3h0m0 19h0m0 1h0m0 2h0m1-269h0m0 13h0m0 32h0m0 67h0m0 43h0m0 14h0m0 19h0m0 12h0m0 4h0m0 5h0m0 3h0m0 9h0m0 18h0m1-32h0m0 15h0m0 1h0m0 3h0m0 17h0m0 2h0m1-146h0m0 97h0m0 24h0m0 7h0m0 7h0m0 11h0m1-85h0m0 70h0m0 7h0m0 1h0m0 4h0m1-181h0m0 129h0m0 8h0m0 4h0m0 14h0m0 6h0m0 5h0m0 21h0m1-227h0m0 189h0m0 2h0m0 5h0m0 1h0m0 3h0m0 6h0m0 2h0m0 1h0m1-30h0m0 8h0m0 2h0m0 4h0m0 6h0m0 3h0m0 1h0m0 9h0m1-267h0m0 88h0m0 117h0m0 33h0m0 5h0m0 5h0m0 2h0m0 2h0m0 3h0m0 2h0m0 1h0m0 11h0m0 6h0m1-49h0m0 5h0m0 4h0m0 1h0m0 4h0m0 15h0m0 3h0m0 8h0m0 5h0m1-209h0m0 46h0m0 90h0m0 9h0m0 23h0m0 10h0m0 4h0m0 2h0m0 3h0m0 2h0m0 11h0m0 2h0m0 9h0m0 7h0m0 1h0m1-190h0m0 106h0m0 16h0m0 30h0m0 11h0m0 3h0m0 6h0m0 2h0m1-191h0m0 10h0m0 13h0m0 73h0m0 19h0m0 2h0m0 35h0m0 12h0m0 7h0m0 2h0m0 1h0m0 10h0m0 1h0m0 11h0m0 1h0m0 3h0m0 7h0m0 1h0m1-267h0m0 208h0m0 15h0m0 1h0m0 2h0m0 3h0m0 18h0m0 7h0m1-259h0m0 52h0m0 142h0m0 25h0m0 4h0m0 13h0m0 3h0m0 9h0m0 1h0m0 4h0m0 4h0m1-291h0m0 108h0m0 51h0m0 53h0m0 23h0m0 26h0m0 2h0m0 2h0m0 1h0m0 5h0m0 8h0m0 3h0m0 5h0m0 2h0m0 1h0m1-87h0m0 54h0m0 10h0m0 3h0m0 4h0m0 6h0m0 2h0m0 4h0m0 4h0m0 4h0m0 8h0m1-126h0m0 2h0m0 66h0m0 13h0m0 5h0m0 6h0m0 2h0m0 3h0m0 2h0m0 5h0m0 9h0m0 1h0m0 2h0m0 7h0m0 2h0m1-251h0m0 71h0m0 103h0m0 9h0m0 2h0m0 33h0m0 6h0m0 5h0m0 15h0m0 5h0m0 2h0m1-36h0m0 5h0m0 9h0m0 2h0m0 1h0m0 7h0m0 7h0m0 3h0m1-233h0m0 8h0m0 40h0m0 4h0m0 87h0m0 27h0m0 21h0m0 12h0m0 6h0m0 13h0m0 6h0m0 5h0m0 2h0m0 1h0m1-159h0m0 108h0m0 1h0m0 11h0m0 31h0m0 2h0m0 4h0m1-204h0m0 149h0m0 8h0m0 12h0m0 11h0m0 3h0m0 7h0m0 2h0m0 7h0m0 2h0m0 10h0m0 6h0m1-123h0m0 7h0m0 14h0m0 31h0m0 3h0m0 14h0m0 12h0m0 9h0m0 2h0m0 1h0m0 1h0m0 8h0m0 3h0m0 5h0m1-44h0m0 9h0m0 1h0m0 9h0m0 7h0m0 1h0m0 6h0m0 1h0m0 1h0m0 10h0m1-152h0m0 41h0m0 33h0m0 44h0m0 1h0m0 8h0m0 9h0m0 8h0m0 2h0m0 3h0m0 1h0m0 6h0m1-110h0m0 43h0m0 3h0m0 16h0m0 11h0m0 1h0m0 3h0m0 15h0m0 1h0m0 5h0m0 4h0m0 9h0m1-94h0m0 26h0m0 26h0m0 2h0m0 1h0m0 5h0m0 21h0m0 2h0m0 3h0m0 1h0m0 7h0m0 5h0m1-229h0m0 57h0m0 125h0m0 8h0m0 7h0m0 1h0m0 2h0m0 14h0m0 4h0m1-82h0m0 16h0m0 26h0m0 5h0m0 29h0m0 14h0m1-284h0m0 40h0m0 184h0m0 11h0m0 9h0m0 6h0m0 1h0m0 9h0m0 5h0m0 5h0m0 3h0m0 3h0m1-158h0m0 100h0m0 22h0m0 19h0m0 5h0m0 2h0m0 2h0m0 1h0m0 1h0m1-91h0m0 59h0m0 1h0m0 13h0m0 11h0m0 6h0m0 2h0m0 8h0m0 1h0m0 10h0m1-79h0m0 11h0m0 16h0m0 32h0m0 3h0m0 3h0m0 2h0m1-224h0m0 106h0m0 17h0m0 5h0m0 21h0m0 7h0m0 11h0m0 21h0m0 2h0m0 10h0m0 26h0m0 1h0m1-44h0m0 1h0m0 5h0m0 6h0m0 3h0m0 20h0m1-187h0m0 7h0m0 107h0m0 6h0m0 18h0m0 22h0m0 4h0m0 1h0m0 7h0m0 4h0m0 8h0m0 1h0m1-79h0m0 17h0m0 9h0m0 3h0m0 4h0m0 1h0m0 16h0m0 3h0m0 25h0m0 3h0m0 5h0m0 3h0m0 4h0m1-191h0m0 14h0m0 106h0m0 20h0m0 8h0m0 2h0m0 5h0m0 22h0m0 4h0m1-70h0m0 18h0m0 8h0m0 6h0m0 7h0m0 3h0m0 24h0m0 2h0m0 2h0m0 13h0m1-91h0m0 27h0m0 8h0m0 3h0m0 7h0m0 4h0m0 7h0m0 17h0m0 2h0m0 2h0m0 3h0m0 3h0m0 6h0m1-120h0m0 59h0m0 6h0m0 6h0m0 10h0m0 18h0m0 6h0m0 2h0m0 1h0m0 1h0m1-9h0m0 2h0m0 2h0m1-71h0m0 13h0m0 26h0m0 2h0m0 6h0m0 7h0m0 2h0m0 13h0m0 1h0m0 2h0m0 1h0m0 6h0m0 6h0m1-268h0m0 190h0m0 33h0m0 4h0m0 35h0m0 6h0m0 2h0m1-260h0m0 74h0m0 41h0m0 84h0m0 7h0m0 3h0m0 2h0m0 2h0m0 9h0m0 2h0m0 1h0m0 23h0m0 1h0m1-108h0m0 44h0m0 12h0m0 4h0m0 10h0m0 4h0m0 10h0m0 25h0m0 5h0m0 2h0m0 2h0m0 1h0m1-180h0m0 6h0m0 126h0m0 5h0m0 2h0m0 2h0m0 3h0m0 3h0m0 18h0m0 10h0m1-157h0m0 31h0m0 15h0m0 46h0m0 7h0m0 3h0m0 2h0m0 14h0m0 4h0m0 4h0m0 16h0m0 3h0m0 11h0m0 1h0m0 1h0m0 13h0m1-187h0m0 80h0m0 10h0m0 14h0m0 8h0m0 8h0m0 4h0m0 10h0m0 6h0m0 20h0m0 9h0m1-79h0m0 23h0m0 6h0m0 7h0m0 11h0m0 24h0m0 5h0m0 2h0m1-229h0m0 98h0m0 80h0m0 16h0m0 7h0m0 22h0m0 13h0m1-78h0m0 2h0m0 12h0m0 8h0m0 1h0m0 4h0m0 6h0m0 12h0m1-143h0m0 25h0m0 21h0m0 47h0m0 19h0m0 2h0m0 1h0m0 4h0m0 19h0m0 26h0m0 7h0m0 6h0m1-260h0m0 113h0m0 76h0m0 15h0m0 4h0m0 1h0m0 32h0m0 12h0m0 2h0m1-140h0m0 4h0m0 56h0m0 16h0m0 2h0m0 14h0m0 3h0m0 2h0m0 1h0m0 1h0m0 1h0m0 1h0m0 1h0m0 3h0m0 17h0m0 14h0m0 1h0m0 2h0m0 2h0m0 5h0m1-102h0m0 11h0m0 57h0m0 39h0m1-219h0m0 54h0m0 20h0m0 7h0m0 13h0m0 5h0m0 9h0m0 7h0m0 21h0m0 2h0m0 21h0m0 22h0m0 25h0m0 5h0m1-273h0m0 122h0m0 22h0m0 21h0m0 13h0m0 20h0m0 17h0m0 4h0m0 5h0m0 8h0m0 1h0m0 35h0m0 3h0m0 3h0m1-273h0m0 108h0m0 116h0m0 15h0m0 30h0m0 9h0m1-281h0m0 69h0m0 3h0m0 41h0m0 31h0m0 39h0m0 17h0m0 3h0m0 11h0m0 4h0m0 6h0m0 4h0m0 1h0m0 2h0m0 35h0m0 1h0m0 1h0m0 4h0m0 5h0m1-267h0m0 33h0m0 153h0m0 13h0m0 28h0m0 3h0m0 3h0m0 24h0m0 4h0m0 5h0m1-100h0m0 14h0m0 5h0m0 21h0m0 4h0m0 12h0m0 9h0m0 39h0m1-211h0m0 69h0m0 18h0m0 22h0m0 35h0m0 2h0m0 10h0m0 3h0m0 3h0m0 9h0m0 4h0m0 27h0m0 5h0m0 4h0m0 6h0m1-128h0m0 8h0m0 1h0m0 25h0m0 8h0m0 2h0m0 21h0m0 3h0m0 5h0m0 3h0m0 37h0m0 10h0m0 1h0m1-284h0m0 47h0m0 37h0m0 7h0m0 38h0m0 20h0m0 2h0m0 14h0m0 45h0m0 5h0m0 7h0m0 3h0m0 4h0m0 9h0m0 7h0m0 15h0m0 10h0m0 1h0m0 3h0m0 7h0m0 1h0m0 6h0m1-247h0m0 55h0m0 2h0m0 24h0m0 13h0m0 40h0m0 35h0m0 1h0m0 1h0m0 3h0m0 11h0m0 5h0m0 9h0m0 21h0m0 10h0m0 4h0m1-246h0m0 31h0m0 2h0m0 33h0m0 37h0m0 5h0m0 6h0m0 6h0m0 12h0m0 4h0m0 30h0m0 2h0m0 7h0m0 1h0m0 2h0m0 9h0m0 9h0m0 15h0m0 32h0m0 3h0m0 1h0m0 5h0m1-252h0m0 1h0m0 17h0m0 82h0m0 27h0m0 15h0m0 18h0m0 3h0m0 22h0m0 9h0m0 9h0m0 9h0m0 29h0m0 8h0m1-257h0m0 9h0m0 13h0m0 40h0m0 33h0m0 7h0m0 43h0m0 58h0m0 1h0m0 4h0m0 2h0m0 5h0m0 42h0m0 7h0m1-265h0m0 18h0m0 79h0m0 11h0m0 24h0m0 10h0m0 6h0m0 11h0m0 1h0m0 1h0m0 2h0m0 6h0m0 3h0m0 3h0m0 6h0m0 1h0m0 10h0m0 15h0m0 7h0m0 5h0m1-201h0m0 66h0m0 38h0m0 41h0m0 11h0m0 14h0m0 10h0m0 1h0m0 3h0m0 3h0m0 7h0m0 1h0m0 42h0m0 1h0m0 2h0m0 2h0m1-286h0m0 5h0m0 19h0m0 3h0m0 2h0m0 8h0m0 5h0m0 3h0m0 5h0m0 22h0m0 8h0m0 6h0m0 4h0m0 10h0m0 1h0m0 16h0m0 3h0m0 3h0m0 15h0m0 3h0m0 1h0m0 4h0m0 3h0m0 2h0m0 3h0m0 10h0m0 8h0m0 1h0m0 15h0m0 9h0m0 3h0m0 6h0m0 4h0m0 15h0m0 2h0m0 52h0m0 26h0m0 18h0m1-325h0m0 2h0m0 5h0m0 12h0m0 3h0m0 13h0m0 4h0m0 7h0m0 3h0m0 3h0m0 1h0m0 5h0m0 1h0m0 1h0m0 10h0m0 3h0m0 2h0m0 7h0m0 3h0m0 3h0m0 3h0m0 1h0m0 2h0m0 1h0m0 4h0m0 17h0m0 2h0m0 5h0m0 7h0m0 3h0m0 2h0m0 2h0m0 4h0m0 6h0m0 3h0m0 6h0m0 9h0m0 6h0m0 1h0m0 1h0m0 2h0m0 10h0m0 3h0m0 6h0m0 17h0m0 2h0m0 7h0m0 2h0m0 1h0m0 2h0m0 5h0m0 2h0m0 1h0m0 47h0m0 2h0m0 1h0m0 1h0m0 5h0m0 1h0m0 1h0m0 2h0m0 1h0m0 8h0m0 2h0m0 4h0m0 7h0m1-306h0m0 46h0m0 3h0m0 70h0m0 31h0m0 17h0m0 16h0m0 23h0m0 1h0m0 3h0m0 14h0m0 15h0m0 1h0m0 66h0m1-265h0m0 15h0m0 2h0m0 5h0m0 1h0m0 11h0m0 58h0m0 2h0m0 42h0m0 21h0m0 2h0m0 4h0m0 4h0m0 2h0m0 11h0m0 10h0m0 1h0m0 6h0m1-151h0m0 6h0m0 38h0m0 42h0m0 8h0m0 8h0m0 4h0m0 11h0m0 2h0m0 7h0m0 9h0m0 3h0m0 8h0m0 3h0m0 1h0m0 45h0m0 2h0m1-276h0m0 37h0m0 16h0m0 32h0m0 20h0m0 14h0m0 3h0m0 7h0m0 9h0m0 1h0m0 1h0m0 24h0m0 2h0m0 12h0m0 16h0m0 10h0m0 11h0m0 7h0m0 1h0m0 1h0m0 3h0m0 4h0m0 37h0m0 1h0m0 3h0m1-260h0m0 10h0m0 18h0m0 10h0m0 2h0m0 4h0m0 2h0m0 4h0m0 32h0m0 26h0m0 16h0m0 7h0m0 10h0m0 24h0m0 9h0m0 1h0m0 9h0m0 1h0m0 9h0m0 3h0m0 3h0m0 6h0m0 1h0m0 1h0m0 5h0m0 5h0m0 53h0m0 13h0m1-263h0m0 4h0m0 18h0m0 36h0m0 10h0m0 3h0m0 26h0m0 26h0m0 13h0m0 4h0m0 14h0m0 3h0m0 3h0m0 5h0m0 1h0m0 6h0m0 3h0m0 3h0m0 15h0m0 4h0m0 42h0m1-286h0m0 17h0m0 19h0m0 49h0m0 32h0m0 22h0m0 10h0m0 13h0m0 5h0m0 5h0m0 17h0m0 1h0m0 17h0m0 3h0m0 3h0m0 5h0m0 4h0m0 1h0m0 5h0m0 2h0m0 2h0m0 3h0m0 48h0m1-247h0m0 20h0m0 5h0m0 17h0m0 4h0m0 19h0m0 9h0m0 14h0m0 18h0m0 38h0m0 4h0m0 1h0m0 6h0m0 3h0m0 9h0m0 29h0m0 2h0m0 6h0m0 36h0m0 6h0m0 3h0m1-268h0m0 15h0m0 58h0m0 5h0m0 8h0m0 2h0m0 18h0m0 11h0m0 16h0m0 8h0m0 2h0m0 17h0m0 1h0m0 18h0m0 3h0m0 2h0m0 10h0m0 5h0m0 3h0m0 3h0m0 1h0m0 2h0m0 1h0m0 3h0m0 10h0m0 3h0m0 34h0m0 4h0m0 2h0m1-271h0m0 42h0m0 6h0m0 31h0m0 38h0m0 25h0m0 3h0m0 21h0m0 24h0m0 7h0m0 5h0m0 10h0m0 10h0m0 5h0m0 1h0m0 45h0m0 1h0m0 4h0m0 3h0m1-286h0m0 8h0m0 30h0m0 14h0m0 16h0m0 4h0m0 7h0m0 9h0m0 25h0m0 12h0m0 1h0m0 4h0m0 4h0m0 5h0m0 1h0m0 16h0m0 1h0m0 12h0m0 9h0m0 10h0m0 1h0m0 9h0m0 8h0m0 1h0m0 8h0m0 5h0m0 11h0m0 49h0m0 4h0m1-268h0m0 4h0m0 18h0m0 3h0m0 6h0m0 14h0m0 66h0m0 11h0m0 28h0m0 3h0m0 4h0m0 1h0m0 6h0m0 6h0m0 4h0m0 3h0m0 7h0m0 2h0m0 12h0m0 11h0m0 6h0m0 46h0m0 1h0m0 4h0m0 4h0m0 2h0m1-297h0m0 14h0m0 24h0m0 4h0m0 17h0m0 20h0m0 5h0m0 1h0m0 33h0m0 42h0m0 7h0m0 25h0m0 3h0m0 10h0m0 10h0m0 19h0m0 1h0m0 1h0m0 11h0m0 39h0m1-238h0m0 2h0m0 32h0m0 43h0m0 13h0m0 17h0m0 3h0m0 43h0m0 4h0m0 9h0m0 11h0m0 1h0m0 1h0m0 3h0m0 4h0m0 3h0m1-222h0m0 10h0m0 25h0m0 8h0m0 4h0m0 6h0m0 4h0m0 3h0m0 24h0m0 4h0m0 1h0m0 11h0m0 8h0m0 2h0m0 21h0m0 7h0m0 3h0m0 16h0m0 6h0m0 27h0m0 6h0m0 5h0m0 7h0m0 5h0m0 6h0m0 1h0m0 6h0m0 40h0m0 6h0m0 3h0m1-271h0m0 23h0m0 3h0m0 10h0m0 9h0m0 50h0m0 17h0m0 5h0m0 10h0m0 17h0m0 5h0m0 9h0m0 2h0m0 1h0m0 3h0m0 15h0m0 1h0m0 4h0m0 15h0m0 3h0m0 1h0m0 5h0m0 1h0m0 5h0m0 11h0m1-233h0m0 38h0m0 14h0m0 8h0m0 31h0m0 1h0m0 7h0m0 11h0m0 11h0m0 6h0m0 4h0m0 7h0m0 6h0m0 1h0m0 48h0m0 5h0m0 5h0m0 4h0m0 6h0m0 7h0m0 2h0m0 7h0m0 1h0m0 37h0m0 3h0m1-257h0m0 5h0m0 9h0m0 21h0m0 13h0m0 1h0m0 5h0m0 1h0m0 16h0m0 13h0m0 5h0m0 5h0m0 9h0m0 2h0m0 4h0m0 5h0m0 3h0m0 18h0m0 8h0m0 8h0m0 5h0m0 10h0m0 8h0m0 1h0m0 4h0m0 4h0m0 5h0m0 3h0m0 5h0m0 5h0m0 1h0m0 14h0m0 3h0m0 6h0m0 32h0m0 1h0m0 1h0m0 2h0m0 1h0m1-267h0m0 8h0m0 23h0m0 6h0m0 1h0m0 17h0m0 14h0m0 7h0m0 3h0m0 20h0m0 22h0m0 10h0m0 20h0m0 7h0m0 2h0m0 8h0m0 6h0m0 9h0m0 4h0m0 3h0m0 8h0m0 4h0m0 19h0m0 9h0m0 31h0m0 8h0m1-263h0m0 42h0m0 4h0m0 1h0m0 4h0m0 15h0m0 17h0m0 7h0m0 6h0m0 1h0m0 3h0m0 10h0m0 8h0m0 58h0m0 6h0m0 9h0m0 10h0m0 5h0m0 4h0m0 45h0m0 4h0m0 3h0m1-274h0m0 27h0m0 2h0m0 5h0m0 29h0m0 9h0m0 3h0m0 18h0m0 29h0m0 2h0m0 5h0m0 11h0m0 28h0m0 4h0m0 1h0m0 1h0m0 11h0m0 11h0m0 2h0m0 5h0m0 4h0m0 3h0m0 14h0m0 47h0m0 1h0m0 9h0m1-276h0m0 1h0m0 36h0m0 45h0m0 5h0m0 19h0m0 5h0m0 1h0m0 24h0m0 27h0m0 10h0m0 5h0m0 9h0m0 16h0m0 11h0m0 5h0m0 66h0m1-284h0m0 6h0m0 29h0m0 7h0m0 5h0m0 10h0m0 20h0m0 13h0m0 2h0m0 7h0m0 5h0m0 7h0m0 15h0m0 7h0m0 15h0m0 4h0m0 2h0m0 1h0m0 16h0m0 7h0m0 5h0m0 1h0m0 7h0m0 6h0m0 6h0m0 1h0m0 2h0m0 5h0m0 3h0m0 2h0m0 2h0m0 9h0m0 2h0m0 34h0m0 8h0m1-244h0m0 14h0m0 1h0m0 16h0m0 7h0m0 3h0m0 3h0m0 6h0m0 10h0m0 8h0m0 6h0m0 6h0m0 3h0m0 15h0m0 11h0m0 3h0m0 11h0m0 4h0m0 11h0m0 3h0m0 4h0m0 4h0m0 5h0m0 3h0m0 17h0m0 1h0m0 2h0m0 6h0m0 1h0m0 4h0m0 11h0m0 36h0m0 5h0m1-279h0m0 1h0m0 28h0m0 27h0m0 9h0m0 10h0m0 8h0m0 14h0m0 31h0m0 2h0m0 21h0m0 3h0m0 2h0m0 8h0m0 10h0m0 1h0m0 10h0m0 15h0m0 4h0m0 7h0m0 4h0m0 7h0m0 3h0m0 4h0m0 49h0m1-271h0m0 17h0m0 31h0m0 19h0m0 39h0m0 11h0m0 4h0m0 6h0m0 1h0m0 16h0m0 21h0m0 13h0m0 10h0m0 5h0m0 15h0m0 3h0m0 9h0m0 1h0m0 6h0m0 1h0m0 1h0m0 1h0m0 4h0m0 1h0m0 32h0m0 7h0m0 1h0m0 3h0m0 2h0m0 1h0m0 1h0m1-285h0m0 8h0m0 27h0m0 12h0m0 12h0m0 42h0m0 1h0m0 1h0m0 7h0m0 3h0m0 7h0m0 18h0m0 15h0m0 1h0m0 10h0m0 2h0m0 5h0m0 10h0m0 15h0m0 4h0m0 5h0m0 16h0m0 2h0m0 12h0m0 45h0m1-271h0m0 12h0m0 8h0m0 32h0m0 9h0m0 10h0m0 6h0m0 22h0m0 1h0m0 22h0m0 3h0m0 6h0m0 2h0m0 22h0m0 21h0m0 5h0m0 7h0m0 4h0m0 2h0m0 2h0m0 8h0m0 12h0m0 4h0m0 5h0m0 38h0m0 10h0m1-286h0m0 7h0m0 2h0m0 15h0m0 6h0m0 17h0m0 8h0m0 13h0m0 11h0m0 3h0m0 8h0m0 39h0m0 4h0m0 10h0m0 13h0m0 5h0m0 1h0m0 1h0m0 8h0m0 6h0m0 5h0m0 9h0m0 2h0m0 18h0m0 14h0m0 50h0m0 7h0m1-257h0m0 25h0m0 10h0m0 13h0m0 11h0m0 8h0m0 4h0m0 9h0m0 9h0m0 19h0m0 8h0m0 2h0m0 2h0m0 11h0m0 6h0m0 14h0m0 6h0m0 2h0m0 5h0m0 8h0m0 1h0m0 4h0m0 3h0m0 3h0m0 2h0m0 4h0m0 1h0m0 4h0m0 8h0m0 4h0m0 45h0m0 2h0m0 1h0m1-284h0m0 26h0m0 23h0m0 54h0m0 13h0m0 4h0m0 19h0m0 3h0m0 32h0m0 2h0m0 4h0m0 5h0m0 11h0m0 9h0m0 11h0m0 4h0m0 10h0m0 4h0m0 6h0m0 46h0m1-272h0m0 71h0m0 1h0m0 9h0m0 7h0m0 11h0m0 6h0m0 22h0m0 17h0m0 1h0m0 7h0m0 5h0m0 12h0m0 8h0m0 10h0m0 7h0m0 4h0m0 1h0m0 4h0m0 6h0m0 2h0m0 10h0m0 5h0m0 43h0m0 3h0m0 2h0m0 6h0m1-275h0m0 15h0m0 17h0m0 37h0m0 5h0m0 6h0m0 3h0m0 8h0m0 15h0m0 20h0m0 45h0m0 1h0m0 2h0m0 7h0m0 6h0m0 3h0m0 10h0m0 8h0m0 1h0m0 7h0m0 2h0m0 4h0m0 49h0m1-267h0m0 22h0m0 2h0m0 5h0m0 3h0m0 9h0m0 3h0m0 7h0m0 7h0m0 7h0m0 14h0m0 11h0m0 4h0m0 11h0m0 3h0m0 8h0m0 3h0m0 6h0m0 4h0m0 10h0m0 10h0m0 4h0m0 4h0m0 3h0m0 4h0m0 3h0m0 1h0m0 3h0m0 1h0m0 2h0m0 1h0m0 16h0m0 5h0m0 10h0m0 8h0m0 4h0m0 42h0m0 6h0m0 1h0m1-265h0m0 4h0m0 4h0m0 4h0m0 15h0m0 11h0m0 33h0m0 14h0m0 1h0m0 2h0m0 1h0m0 8h0m0 4h0m0 11h0m0 3h0m0 10h0m0 23h0m0 5h0m0 8h0m0 19h0m0 1h0m0 4h0m0 3h0m0 10h0m0 2h0m0 4h0m0 12h0m0 34h0m0 1h0m0 7h0m0 1h0m0 1h0m0 1h0m0 4h0m0 4h0m1-294h0m0 56h0m0 3h0m0 3h0m0 60h0m0 18h0m0 16h0m0 2h0m0 3h0m0 4h0m0 8h0m0 30h0m0 2h0m0 1h0m0 12h0m0 3h0m0 2h0m0 14h0m0 2h0m0 38h0m1-258h0m0 13h0m0 14h0m0 13h0m0 4h0m0 3h0m0 8h0m0 5h0m0 4h0m0 6h0m0 6h0m0 1h0m0 3h0m0 6h0m0 7h0m0 2h0m0 4h0m0 14h0m0 19h0m0 8h0m0 8h0m0 12h0m0 11h0m0 1h0m0 13h0m0 14h0m0 6h0m0 6h0m0 10h0m0 36h0m0 10h0m0 4h0m0 2h0m1-250h0m0 10h0m0 17h0m0 13h0m0 5h0m0 13h0m0 28h0m0 3h0m0 17h0m0 11h0m0 2h0m0 26h0m0 3h0m0 4h0m0 3h0m0 1h0m0 17h0m0 4h0m0 58h0m0 3h0m0 8h0m1-276h0m0 31h0m0 17h0m0 2h0m0 5h0m0 6h0m0 3h0m0 7h0m0 17h0m0 2h0m0 10h0m0 7h0m0 3h0m0 13h0m0 2h0m0 10h0m0 3h0m0 9h0m0 6h0m0 4h0m0 4h0m0 3h0m0 11h0m0 3h0m0 1h0m0 1h0m0 2h0m0 11h0m0 2h0m0 1h0m0 1h0m0 4h0m0 2h0m0 1h0m0 6h0m0 6h0m0 1h0m0 1h0m0 3h0m0 2h0m0 2h0m0 47h0m0 1h0m0 2h0m0 3h0m1-260h0m0 6h0m0 10h0m0 4h0m0 10h0m0 2h0m0 1h0m0 6h0m0 10h0m0 3h0m0 2h0m0 22h0m0 1h0m0 2h0m0 4h0m0 4h0m0 7h0m0 3h0m0 8h0m0 1h0m0 12h0m0 8h0m0 8h0m0 23h0m0 33h0m0 6h0m0 4h0m0 1h0m0 2h0m0 49h0m0 4h0m0 5h0m1-273h0m0 11h0m0 26h0m0 1h0m0 23h0m0 6h0m0 10h0m0 2h0m0 6h0m0 1h0m0 29h0m0 1h0m0 7h0m0 11h0m0 8h0m0 11h0m0 3h0m0 6h0m0 3h0m0 5h0m0 1h0m0 3h0m0 2h0m0 5h0m0 11h0m0 19h0m0 3h0m0 7h0m0 34h0m0 15h0m1-268h0m0 4h0m0 19h0m0 7h0m0 7h0m0 5h0m0 3h0m0 20h0m0 3h0m0 9h0m0 2h0m0 8h0m0 5h0m0 5h0m0 10h0m0 13h0m0 17h0m0 4h0m0 5h0m0 5h0m0 7h0m0 10h0m0 21h0m0 2h0m0 4h0m0 6h0m0 7h0m0 11h0m0 34h0m0 14h0m0 4h0m1-294h0m0 31h0m0 42h0m0 5h0m0 11h0m0 9h0m0 8h0m0 17h0m0 8h0m0 12h0m0 1h0m0 6h0m0 7h0m0 9h0m0 2h0m0 14h0m0 1h0m0 3h0m0 3h0m0 1h0m0 1h0m0 8h0m0 8h0m0 1h0m0 6h0m0 2h0m0 9h0m0 6h0m0 7h0m0 3h0m0 3h0m0 1h0m0 43h0m0 1h0m1-263h0m0 10h0m0 36h0m0 13h0m0 2h0m0 29h0m0 2h0m0 3h0m0 11h0m0 6h0m0 33h0m0 8h0m0 2h0m0 3h0m0 5h0m0 2h0m0 4h0m0 5h0m0 21h0m0 1h0m0 7h0m0 7h0m0 1h0m1-219h0m0 5h0m0 13h0m0 22h0m0 5h0m0 4h0m0 11h0m0 8h0m0 22h0m0 2h0m0 20h0m0 3h0m0 6h0m0 5h0m0 12h0m0 6h0m0 4h0m0 13h0m0 1h0m0 6h0m0 5h0m0 9h0m0 2h0m0 8h0m0 2h0m0 1h0m0 4h0m0 18h0m0 1h0m0 6h0m0 1h0m0 3h0m0 42h0m0 4h0m1-285h0m0 12h0m0 14h0m0 13h0m0 25h0m0 5h0m0 6h0m0 5h0m0 2h0m0 10h0m0 7h0m0 5h0m0 15h0m0 7h0m0 3h0m0 8h0m0 3h0m0 4h0m0 11h0m0 21h0m0 1h0m0 14h0m0 6h0m0 2h0m0 6h0m0 1h0m0 13h0m0 1h0m0 3h0m0 3h0m0 4h0m0 4h0m0 2h0m0 41h0m0 1h0m0 5h0m0 1h0m0 2h0m1-271h0m0 4h0m0 8h0m0 38h0m0 5h0m0 5h0m0 6h0m0 8h0m0 18h0m0 14h0m0 10h0m0 4h0m0 1h0m0 7h0m0 15h0m0 3h0m0 5h0m0 5h0m0 10h0m0 1h0m0 15h0m0 8h0m0 2h0m0 2h0m0 2h0m0 4h0m0 13h0m0 3h0m0 3h0m0 2h0m0 48h0m1-293h0m0 30h0m0 13h0m0 4h0m0 2h0m0 2h0m0 29h0m0 8h0m0 6h0m0 7h0m0 3h0m0 7h0m0 3h0m0 3h0m0 5h0m0 8h0m0 12h0m0 16h0m0 9h0m0 2h0m0 12h0m0 1h0m0 2h0m0 2h0m0 2h0m0 4h0m0 2h0m0 5h0m0 7h0m0 4h0m0 5h0m0 6h0m0 5h0m0 6h0m0 2h0m0 4h0m0 1h0m0 8h0m0 38h0m0 2h0m1-312h0m0 32h0m0 23h0m0 2h0m0 25h0m0 3h0m0 18h0m0 7h0m0 1h0m0 8h0m0 14h0m0 3h0m0 1h0m0 6h0m0 1h0m0 1h0m0 5h0m0 1h0m0 9h0m0 6h0m0 25h0m0 6h0m0 2h0m0 5h0m0 22h0m0 3h0m0 4h0m0 6h0m0 2h0m0 6h0m0 1h0m0 7h0m0 1h0m0 1h0m0 3h0m0 2h0m0 1h0m0 4h0m0 1h0m0 46h0m0 5h0m1-284h0m0 63h0m0 20h0m0 3h0m0 3h0m0 17h0m0 13h0m0 6h0m0 18h0m0 2h0m0 1h0m0 4h0m0 10h0m0 13h0m0 15h0m0 3h0m0 9h0m0 10h0m0 3h0m0 2h0m0 3h0m0 12h0m0 47h0m0 7h0m1-290h0m0 25h0m0 12h0m0 3h0m0 4h0m0 6h0m0 2h0m0 6h0m0 5h0m0 7h0m0 3h0m0 23h0m0 1h0m0 13h0m0 3h0m0 3h0m0 4h0m0 6h0m0 4h0m0 2h0m0 9h0m0 23h0m0 15h0m0 4h0m0 3h0m0 9h0m0 6h0m0 7h0m0 8h0m0 7h0m0 2h0m0 65h0m1-275h0m0 1h0m0 12h0m0 16h0m0 6h0m0 9h0m0 5h0m0 8h0m0 8h0m0 6h0m0 23h0m0 2h0m0 2h0m0 11h0m0 12h0m0 1h0m0 12h0m0 10h0m0 10h0m0 2h0m0 7h0m0 7h0m0 7h0m0 10h0m0 2h0m0 1h0m0 12h0m0 3h0m0 5h0m0 11h0m0 1h0m0 5h0m0 47h0m0 1h0m0 9h0m1-292h0m0 15h0m0 4h0m0 17h0m0 1h0m0 26h0m0 9h0m0 4h0m0 2h0m0 14h0m0 7h0m0 1h0m0 3h0m0 3h0m0 10h0m0 1h0m0 4h0m0 9h0m0 4h0m0 2h0m0 1h0m0 1h0m0 1h0m0 8h0m0 4h0m0 10h0m0 1h0m0 16h0m0 2h0m0 5h0m0 6h0m0 8h0m0 12h0m0 6h0m0 2h0m0 12h0m0 3h0m1-240h0m0 29h0m0 4h0m0 2h0m0 13h0m0 8h0m0 1h0m0 3h0m0 5h0m0 10h0m0 12h0m0 2h0m0 9h0m0 11h0m0 1h0m0 7h0m0 3h0m0 4h0m0 1h0m0 1h0m0 10h0m0 2h0m0 4h0m0 8h0m0 1h0m0 4h0m0 10h0m0 4h0m0 8h0m0 6h0m0 12h0m0 4h0m0 2h0m0 8h0m0 4h0m0 12h0m0 5h0m0 4h0m0 6h0m0 45h0m0 3h0m0 7h0m0 4h0m1-289h0m0 19h0m0 14h0m0 3h0m0 5h0m0 1h0m0 6h0m0 3h0m0 4h0m0 6h0m0 12h0m0 2h0m0 7h0m0 15h0m0 4h0m0 16h0m0 6h0m0 9h0m0 2h0m0 2h0m0 26h0m0 1h0m0 4h0m0 5h0m0 3h0m0 2h0m0 3h0m0 6h0m0 3h0m0 6h0m0 4h0m0 20h0m0 6h0m0 52h0m1-248h0m0 5h0m0 2h0m0 13h0m0 4h0m0 4h0m0 11h0m0 1h0m0 19h0m0 5h0m0 5h0m0 24h0m0 11h0m0 4h0m0 4h0m0 1h0m0 10h0m0 35h0m0 8h0m0 16h0m0 1h0m0 1h0m0 4h0m0 7h0m0 3h0m0 2h0m0 46h0m1-309h0m0 35h0m0 19h0m0 10h0m0 10h0m0 19h0m0 17h0m0 10h0m0 5h0m0 7h0m0 3h0m0 2h0m0 23h0m0 2h0m0 2h0m0 12h0m0 1h0m0 3h0m0 1h0m0 7h0m0 23h0m0 3h0m0 5h0m0 1h0m0 3h0m0 6h0m0 2h0m0 6h0m0 3h0m0 3h0m0 10h0m0 56h0m0 3h0m0 1h0m1-264h0m0 28h0m0 4h0m0 11h0m0 41h0m0 3h0m0 4h0m0 11h0m0 3h0m0 1h0m0 11h0m0 15h0m0 11h0m0 8h0m0 9h0m0 11h0m0 11h0m0 4h0m0 12h0m0 2h0m0 6h0m0 56h0m1-282h0m0 11h0m0 23h0m0 23h0m0 7h0m0 21h0m0 1h0m0 2h0m0 4h0m0 3h0m0 35h0m0 1h0m0 1h0m0 2h0m0 8h0m0 1h0m0 8h0m0 6h0m0 1h0m0 8h0m0 1h0m0 1h0m0 9h0m0 3h0m0 7h0m0 1h0m0 4h0m0 9h0m0 2h0m0 7h0m0 66h0m1-280h0m0 31h0m0 3h0m0 4h0m0 4h0m0 30h0m0 9h0m0 3h0m0 10h0m0 10h0m0 2h0m0 10h0m0 4h0m0 2h0m0 7h0m0 21h0m0 1h0m0 4h0m0 9h0m0 1h0m0 1h0m0 2h0m0 1h0m0 10h0m0 4h0m0 12h0m0 13h0m0 2h0m0 4h0m0 4h0m0 61h0m0 7h0m1-274h0m0 4h0m0 3h0m0 2h0m0 7h0m0 2h0m0 5h0m0 9h0m0 8h0m0 8h0m0 13h0m0 14h0m0 7h0m0 10h0m0 5h0m0 15h0m0 8h0m0 10h0m0 5h0m0 6h0m0 6h0m0 1h0m0 11h0m0 7h0m0 10h0m0 5h0m0 13h0m0 13h0m0 1h0m0 64h0m0 1h0m0 7h0m0 1h0m1-276h0m0 11h0m0 12h0m0 8h0m0 1h0m0 6h0m0 7h0m0 10h0m0 4h0m0 13h0m0 12h0m0 6h0m0 21h0m0 1h0m0 16h0m0 11h0m0 7h0m0 6h0m0 2h0m0 2h0m0 2h0m0 1h0m0 3h0m0 5h0m0 6h0m0 3h0m0 4h0m0 3h0m0 6h0m0 6h0m0 3h0m0 12h0m0 6h0m0 53h0m0 4h0m0 4h0m1-291h0m0 17h0m0 1h0m0 5h0m0 10h0m0 2h0m0 2h0m0 13h0m0 13h0m0 5h0m0 8h0m0 14h0m0 9h0m0 7h0m0 21h0m0 3h0m0 4h0m0 4h0m0 3h0m0 1h0m0 3h0m0 26h0m0 23h0m0 4h0m0 2h0m0 7h0m0 1h0m0 2h0m0 3h0m0 6h0m0 5h0m0 1h0m0 2h0m0 1h0m0 1h0m0 47h0m0 2h0m1-281h0m0 1h0m0 10h0m0 13h0m0 25h0m0 4h0m0 3h0m0 4h0m0 17h0m0 1h0m0 19h0m0 1h0m0 8h0m0 4h0m0 10h0m0 5h0m0 1h0m0 8h0m0 3h0m0 8h0m0 4h0m0 5h0m0 2h0m0 14h0m0 4h0m0 7h0m0 2h0m0 15h0m0 10h0m0 13h0m0 1h0m0 8h0m0 2h0m0 1h0m0 53h0m0 11h0m1-274h0m0 5h0m0 14h0m0 4h0m0 7h0m0 2h0m0 16h0m0 11h0m0 2h0m0 1h0m0 8h0m0 5h0m0 14h0m0 2h0m0 18h0m0 8h0m0 1h0m0 11h0m0 12h0m0 3h0m0 12h0m0 3h0m0 4h0m0 3h0m0 14h0m0 9h0m0 3h0m0 2h0m0 1h0m0 1h0m0 4h0m0 7h0m0 55h0m0 6h0m1-287h0m0 23h0m0 7h0m0 5h0m0 2h0m0 8h0m0 1h0m0 1h0m0 3h0m0 6h0m0 12h0m0 1h0m0 1h0m0 7h0m0 23h0m0 7h0m0 2h0m0 7h0m0 2h0m0 1h0m0 21h0m0 4h0m0 12h0m0 2h0m0 8h0m0 9h0m0 1h0m0 4h0m0 5h0m0 3h0m0 9h0m0 7h0m0 3h0m0 5h0m0 9h0m0 62h0m0 5h0m1-286h0m0 6h0m0 2h0m0 4h0m0 2h0m0 7h0m0 2h0m0 7h0m0 22h0m0 36h0m0 3h0m0 6h0m0 6h0m0 3h0m0 7h0m0 9h0m0 3h0m0 5h0m0 5h0m0 1h0m0 3h0m0 6h0m0 1h0m0 8h0m0 6h0m0 4h0m0 5h0m0 6h0m0 16h0m0 5h0m0 10h0m0 10h0m0 4h0m0 5h0m0 1h0m0 2h0m0 49h0m0 3h0m1-291h0m0 28h0m0 28h0m0 13h0m0 1h0m0 2h0m0 1h0m0 15h0m0 1h0m0 7h0m0 1h0m0 4h0m0 1h0m0 4h0m0 18h0m0 8h0m0 7h0m0 2h0m0 9h0m0 6h0m0 9h0m0 7h0m0 6h0m0 14h0m0 3h0m0 3h0m0 2h0m0 3h0m0 18h0m0 6h0m0 1h0m0 18h0m0 40h0m1-277h0m0 14h0m0 8h0m0 6h0m0 13h0m0 6h0m0 9h0m0 16h0m0 1h0m0 4h0m0 2h0m0 3h0m0 2h0m0 1h0m0 6h0m0 1h0m0 5h0m0 1h0m0 3h0m0 1h0m0 2h0m0 1h0m0 5h0m0 16h0m0 10h0m0 3h0m0 2h0m0 1h0m0 11h0m0 7h0m0 3h0m0 18h0m0 14h0m0 6h0m0 7h0m0 5h0m0 1h0m0 10h0m0 12h0m0 43h0m0 2h0m0 2h0m0 2h0m1-282h0m0 13h0m0 3h0m0 9h0m0 15h0m0 11h0m0 4h0m0 6h0m0 9h0m0 9h0m0 9h0m0 2h0m0 16h0m0 5h0m0 5h0m0 10h0m0 5h0m0 6h0m0 3h0m0 3h0m0 8h0m0 10h0m0 3h0m0 8h0m0 4h0m0 17h0m0 3h0m0 1h0m0 5h0m0 20h0m0 3h0m0 55h0m0 5h0m0 2h0m1-283h0m0 23h0m0 15h0m0 13h0m0 3h0m0 9h0m0 4h0m0 2h0m0 3h0m0 13h0m0 3h0m0 1h0m0 9h0m0 1h0m0 4h0m0 3h0m0 2h0m0 4h0m0 2h0m0 12h0m0 12h0m0 3h0m0 15h0m0 4h0m0 4h0m0 16h0m0 2h0m0 2h0m0 1h0m0 4h0m0 2h0m0 3h0m0 7h0m0 9h0m0 1h0m0 6h0m0 8h0m1-216h0m0 8h0m0 14h0m0 6h0m0 18h0m0 1h0m0 3h0m0 1h0m0 4h0m0 1h0m0 1h0m0 1h0m0 5h0m0 8h0m0 4h0m0 3h0m0 2h0m0 1h0m0 2h0m0 18h0m0 4h0m0 6h0m0 2h0m0 7h0m0 9h0m0 7h0m0 1h0m0 2h0m0 2h0m0 4h0m0 11h0m0 10h0m0 18h0m0 7h0m0 10h0m0 15h0m0 50h0m0 1h0m0 6h0m1-266h0m0 2h0m0 4h0m0 3h0m0 8h0m0 2h0m0 15h0m0 7h0m0 11h0m0 8h0m0 3h0m0 6h0m0 1h0m0 13h0m0 9h0m0 11h0m0 2h0m0 1h0m0 6h0m0 5h0m0 5h0m0 29h0m0 7h0m0 7h0m0 6h0m0 5h0m0 5h0m0 6h0m0 8h0m0 1h0m0 66h0m0 2h0m0 4h0m0 4h0m1-291h0m0 13h0m0 32h0m0 4h0m0 2h0m0 2h0m0 21h0m0 21h0m0 8h0m0 8h0m0 2h0m0 7h0m0 8h0m0 3h0m0 3h0m0 1h0m0 4h0m0 9h0m0 7h0m0 14h0m0 3h0m0 1h0m0 2h0m0 8h0m0 1h0m0 5h0m0 2h0m0 2h0m0 2h0m0 1h0m0 20h0m0 3h0m0 54h0m0 9h0m1-273h0m0 4h0m0 2h0m0 9h0m0 14h0m0 10h0m0 2h0m0 9h0m0 8h0m0 4h0m0 7h0m0 1h0m0 3h0m0 5h0m0 8h0m0 8h0m0 3h0m0 1h0m0 2h0m0 6h0m0 11h0m0 1h0m0 5h0m0 6h0m0 14h0m0 7h0m0 7h0m0 9h0m0 16h0m0 2h0m0 1h0m0 2h0m0 3h0m0 2h0m0 1h0m0 2h0m0 2h0m0 9h0m0 6h0m0 63h0m0 1h0m1-278h0m0 10h0m0 13h0m0 2h0m0 6h0m0 4h0m0 1h0m0 7h0m0 8h0m0 6h0m0 3h0m0 2h0m0 20h0m0 1h0m0 7h0m0 4h0m0 3h0m0 4h0m0 2h0m0 4h0m0 4h0m0 4h0m0 13h0m0 14h0m0 3h0m0 11h0m0 8h0m0 7h0m0 5h0m0 5h0m0 11h0m0 2h0m0 14h0m0 60h0m0 1h0m0 2h0m1-266h0m0 11h0m0 6h0m0 2h0m0 4h0m0 1h0m0 3h0m0 1h0m0 2h0m0 5h0m0 13h0m0 5h0m0 5h0m0 2h0m0 1h0m0 6h0m0 16h0m0 4h0m0 2h0m0 5h0m0 12h0m0 2h0m0 9h0m0 1h0m0 3h0m0 15h0m0 4h0m0 14h0m0 1h0m0 1h0m0 3h0m0 1h0m0 3h0m0 8h0m0 1h0m0 3h0m0 7h0m0 6h0m0 1h0m0 4h0m0 2h0m0 18h0m0 52h0m0 1h0m0 1h0m0 3h0m1-281h0m0 17h0m0 7h0m0 1h0m0 1h0m0 13h0m0 4h0m0 2h0m0 1h0m0 4h0m0 20h0m0 28h0m0 4h0m0 2h0m0 2h0m0 2h0m0 1h0m0 17h0m0 4h0m0 2h0m0 2h0m0 2h0m0 4h0m0 1h0m0 8h0m0 22h0m0 2h0m0 4h0m0 1h0m0 11h0m0 1h0m0 1h0m0 4h0m0 21h0m0 5h0m0 3h0m0 56h0m1-281h0m0 9h0m0 13h0m0 12h0m0 2h0m0 11h0m0 10h0m0 5h0m0 12h0m0 8h0m0 6h0m0 11h0m0 8h0m0 6h0m0 6h0m0 4h0m0 2h0m0 15h0m0 1h0m0 3h0m0 15h0m0 8h0m0 1h0m0 7h0m0 1h0m0 6h0m0 4h0m0 5h0m0 3h0m0 8h0m0 13h0m0 4h0m0 2h0m0 4h0m0 52h0m0 2h0m1-266h0m0 11h0m0 7h0m0 19h0m0 4h0m0 3h0m0 5h0m0 4h0m0 1h0m0 5h0m0 15h0m0 12h0m0 7h0m0 4h0m0 8h0m0 7h0m0 3h0m0 6h0m0 5h0m0 10h0m0 1h0m0 2h0m0 5h0m0 6h0m0 2h0m0 1h0m0 6h0m0 5h0m0 9h0m0 3h0m0 6h0m0 10h0m0 1h0m0 1h0m0 9h0m0 2h0m0 8h0m0 49h0m0 4h0m1-268h0m0 3h0m0 1h0m0 10h0m0 1h0m0 8h0m0 10h0m0 13h0m0 1h0m0 24h0m0 7h0m0 6h0m0 7h0m0 2h0m0 7h0m0 1h0m0 3h0m0 6h0m0 2h0m0 8h0m0 10h0m0 1h0m0 13h0m0 11h0m0 5h0m0 4h0m0 16h0m0 4h0m0 2h0m0 2h0m0 2h0m0 1h0m0 9h0m0 7h0m0 58h0m0 4h0m1-274h0m0 4h0m0 6h0m0 11h0m0 2h0m0 6h0m0 12h0m0 17h0m0 2h0m0 25h0m0 3h0m0 2h0m0 2h0m0 10h0m0 10h0m0 6h0m0 1h0m0 1h0m0 2h0m0 6h0m0 17h0m0 7h0m0 10h0m0 4h0m0 1h0m0 5h0m0 1h0m0 7h0m0 12h0m0 3h0m0 7h0m0 4h0m0 6h0m0 1h0m0 1h0m0 54h0m0 3h0m0 3h0m0 3h0m1-279h0m0 29h0m0 5h0m0 1h0m0 5h0m0 1h0m0 3h0m0 10h0m0 32h0m0 7h0m0 1h0m0 17h0m0 4h0m0 9h0m0 4h0m0 6h0m0 5h0m0 2h0m0 14h0m0 1h0m0 2h0m0 7h0m0 11h0m0 2h0m0 2h0m0 7h0m0 1h0m0 8h0m0 1h0m0 6h0m0 1h0m0 16h0m0 8h0m0 46h0m0 2h0m0 4h0m0 1h0m1-245h0m0 11h0m0 1h0m0 1h0m0 5h0m0 15h0m0 5h0m0 11h0m0 2h0m0 34h0m0 6h0m0 5h0m0 13h0m0 7h0m0 4h0m0 4h0m0 11h0m0 7h0m0 2h0m0 1h0m0 2h0m0 2h0m0 9h0m0 7h0m0 2h0m0 2h0m0 4h0m0 6h0m0 5h0m0 1h0m0 6h0m0 43h0m0 8h0m0 1h0m1-264h0m0 1h0m0 19h0m0 8h0m0 10h0m0 17h0m0 1h0m0 6h0m0 1h0m0 11h0m0 5h0m0 9h0m0 12h0m0 4h0m0 1h0m0 13h0m0 1h0m0 4h0m0 4h0m0 1h0m0 14h0m0 2h0m0 3h0m0 1h0m0 4h0m0 1h0m0 3h0m0 1h0m0 1h0m0 5h0m0 6h0m0 2h0m0 7h0m0 1h0m0 6h0m0 16h0m0 4h0m0 58h0m1-280h0m0 7h0m0 16h0m0 5h0m0 13h0m0 3h0m0 2h0m0 20h0m0 9h0m0 8h0m0 30h0m0 4h0m0 11h0m0 3h0m0 8h0m0 1h0m0 16h0m0 1h0m0 4h0m0 5h0m0 1h0m0 2h0m0 2h0m0 13h0m0 5h0m0 1h0m0 10h0m0 5h0m0 2h0m0 3h0m0 4h0m0 9h0m0 2h0m0 50h0m1-272h0m0 8h0m0 19h0m0 3h0m0 1h0m0 4h0m0 16h0m0 20h0m0 2h0m0 5h0m0 19h0m0 12h0m0 2h0m0 2h0m0 12h0m0 24h0m0 9h0m0 8h0m0 2h0m0 3h0m0 5h0m0 1h0m0 2h0m0 4h0m0 2h0m0 16h0m0 2h0m0 6h0m0 62h0m1-257h0m0 15h0m0 11h0m0 3h0m0 1h0m0 6h0m0 11h0m0 4h0m0 2h0m0 20h0m0 3h0m0 5h0m0 8h0m0 7h0m0 2h0m0 9h0m0 3h0m0 21h0m0 3h0m0 8h0m0 1h0m0 4h0m0 1h0m0 12h0m0 5h0m0 4h0m0 1h0m0 5h0m0 4h0m0 5h0m0 4h0m0 2h0m0 5h0m0 67h0m1-284h0m0 19h0m0 11h0m0 1h0m0 1h0m0 15h0m0 4h0m0 3h0m0 1h0m0 5h0m0 4h0m0 6h0m0 1h0m0 2h0m0 3h0m0 12h0m0 1h0m0 2h0m0 2h0m0 2h0m0 4h0m0 1h0m0 2h0m0 4h0m0 9h0m0 2h0m0 4h0m0 7h0m0 4h0m0 3h0m0 7h0m0 1h0m0 4h0m0 21h0m0 1h0m0 1h0m0 10h0m0 2h0m0 1h0m0 5h0m0 1h0m0 1h0m0 9h0m0 13h0m0 4h0m0 66h0m0 3h0m0 1h0m0 4h0m0 8h0m0 3h0m0 3h0m1-309h0m0 12h0m0 34h0m0 8h0m0 3h0m0 10h0m0 6h0m0 7h0m0 1h0m0 1h0m0 3h0m0 4h0m0 2h0m0 1h0m0 2h0m0 2h0m0 3h0m0 4h0m0 7h0m0 1h0m0 8h0m0 6h0m0 5h0m0 8h0m0 1h0m0 3h0m0 1h0m0 2h0m0 1h0m0 4h0m0 3h0m0 8h0m0 5h0m0 4h0m0 6h0m0 3h0m0 2h0m0 4h0m0 4h0m0 4h0m0 16h0m0 1h0m0 10h0m0 10h0m0 1h0m0 50h0m0 10h0m0 3h0m0 1h0m0 1h0m1-285h0m0 8h0m0 4h0m0 11h0m0 9h0m0 2h0m0 16h0m0 16h0m0 11h0m0 1h0m0 2h0m0 9h0m0 12h0m0 12h0m0 2h0m0 3h0m0 9h0m0 4h0m0 15h0m0 9h0m0 24h0m0 6h0m0 3h0m0 5h0m0 5h0m0 12h0m0 61h0m0 9h0m1-287h0m0 21h0m0 3h0m0 3h0m0 45h0m0 5h0m0 2h0m0 3h0m0 3h0m0 6h0m0 4h0m0 5h0m0 8h0m0 1h0m0 10h0m0 17h0m0 2h0m0 3h0m0 1h0m0 17h0m0 16h0m0 12h0m0 10h0m0 17h0m0 2h0m0 1h0m0 1h0m0 1h0m0 3h0m0 8h0m0 44h0m0 11h0m1-270h0m0 19h0m0 1h0m0 8h0m0 3h0m0 14h0m0 8h0m0 3h0m0 3h0m0 2h0m0 4h0m0 1h0m0 3h0m0 5h0m0 23h0m0 4h0m0 5h0m0 13h0m0 3h0m0 1h0m0 5h0m0 10h0m0 1h0m0 2h0m0 6h0m0 1h0m0 7h0m0 2h0m0 17h0m0 3h0m0 4h0m0 4h0m0 4h0m0 5h0m0 1h0m0 21h0m0 42h0m0 9h0m0 3h0m0 1h0m0 1h0m1-286h0m0 8h0m0 16h0m0 4h0m0 1h0m0 6h0m0 2h0m0 42h0m0 5h0m0 9h0m0 11h0m0 6h0m0 10h0m0 19h0m0 3h0m0 13h0m0 1h0m0 1h0m0 4h0m0 4h0m0 8h0m0 7h0m0 1h0m0 2h0m0 11h0m0 4h0m0 2h0m0 1h0m0 3h0m0 10h0m0 6h0m0 7h0m0 2h0m0 52h0m0 4h0m0 3h0m1-287h0m0 5h0m0 6h0m0 12h0m0 3h0m0 2h0m0 3h0m0 2h0m0 7h0m0 20h0m0 2h0m0 3h0m0 1h0m0 16h0m0 7h0m0 6h0m0 5h0m0 6h0m0 4h0m0 3h0m0 13h0m0 2h0m0 9h0m0 5h0m0 3h0m0 13h0m0 2h0m0 5h0m0 3h0m0 8h0m0 2h0m0 4h0m0 1h0m0 1h0m0 6h0m0 11h0m0 2h0m0 15h0m0 1h0m0 4h0m0 1h0m0 56h0m0 3h0m1-254h0m0 21h0m0 6h0m0 1h0m0 3h0m0 4h0m0 19h0m0 4h0m0 2h0m0 11h0m0 3h0m0 14h0m0 1h0m0 11h0m0 4h0m0 3h0m0 1h0m0 14h0m0 10h0m0 1h0m0 2h0m0 1h0m0 9h0m0 1h0m0 5h0m0 6h0m0 10h0m0 1h0m0 7h0m0 9h0m0 6h0m0 3h0m0 5h0m0 1h0m1-214h0m0 1h0m0 25h0m0 8h0m0 13h0m0 3h0m0 9h0m0 2h0m0 4h0m0 6h0m0 3h0m0 2h0m0 3h0m0 4h0m0 15h0m0 3h0m0 7h0m0 3h0m0 5h0m0 4h0m0 3h0m0 37h0m0 7h0m0 3h0m0 3h0m0 6h0m0 2h0m0 6h0m0 6h0m0 7h0m0 4h0m0 8h0m0 53h0m0 1h0m0 8h0m1-284h0m0 1h0m0 9h0m0 10h0m0 12h0m0 5h0m0 13h0m0 27h0m0 11h0m0 3h0m0 9h0m0 4h0m0 13h0m0 5h0m0 1h0m0 7h0m0 5h0m0 2h0m0 1h0m0 1h0m0 1h0m0 3h0m0 16h0m0 3h0m0 2h0m0 3h0m0 2h0m0 7h0m0 7h0m0 3h0m0 2h0m0 2h0m0 7h0m0 8h0m0 2h0m0 70h0m0 1h0m0 4h0m1-268h0m0 6h0m0 4h0m0 40h0m0 11h0m0 7h0m0 4h0m0 5h0m0 7h0m0 5h0m0 7h0m0 14h0m0 2h0m0 18h0m0 1h0m0 8h0m0 1h0m0 1h0m0 13h0m0 4h0m0 1h0m0 4h0m0 2h0m0 9h0m0 11h0m0 2h0m0 6h0m0 2h0m0 2h0m0 3h0m0 1h0m0 63h0m1-269h0m0 3h0m0 14h0m0 10h0m0 6h0m0 15h0m0 10h0m0 8h0m0 1h0m0 5h0m0 9h0m0 8h0m0 3h0m0 18h0m0 2h0m0 1h0m0 5h0m0 5h0m0 7h0m0 2h0m0 2h0m0 2h0m0 4h0m0 8h0m0 6h0m0 2h0m0 4h0m0 10h0m0 1h0m0 4h0m0 1h0m0 15h0m0 2h0m0 10h0m0 1h0m0 2h0m0 2h0m0 5h0m0 6h0m0 45h0m0 9h0m1-288h0m0 16h0m0 30h0m0 10h0m0 1h0m0 11h0m0 11h0m0 4h0m0 7h0m0 1h0m0 7h0m0 6h0m0 17h0m0 2h0m0 6h0m0 5h0m0 3h0m0 2h0m0 1h0m0 1h0m0 13h0m0 5h0m0 2h0m0 13h0m0 9h0m0 5h0m0 1h0m0 11h0m0 1h0m0 7h0m0 3h0m0 1h0m0 7h0m0 2h0m0 1h0m0 11h0m0 50h0m1-271h0m0 16h0m0 11h0m0 4h0m0 9h0m0 9h0m0 11h0m0 13h0m0 26h0m0 6h0m0 15h0m0 3h0m0 4h0m0 16h0m0 17h0m0 4h0m0 4h0m0 5h0m0 5h0m0 3h0m0 1h0m0 5h0m0 2h0m0 13h0m0 6h0m0 6h0m0 54h0m0 1h0m0 2h0m1-277h0m0 8h0m0 18h0m0 6h0m0 2h0m0 4h0m0 12h0m0 3h0m0 7h0m0 18h0m0 3h0m0 1h0m0 3h0m0 1h0m0 2h0m0 2h0m0 5h0m0 24h0m0 12h0m0 9h0m0 4h0m0 19h0m0 4h0m0 1h0m0 2h0m0 8h0m0 5h0m0 7h0m0 3h0m0 1h0m0 7h0m0 4h0m0 3h0m0 4h0m0 1h0m0 2h0m0 6h0m0 12h0m0 40h0m0 5h0m0 3h0m1-279h0m0 32h0m0 3h0m0 14h0m0 4h0m0 2h0m0 10h0m0 20h0m0 3h0m0 9h0m0 3h0m0 1h0m0 2h0m0 4h0m0 2h0m0 1h0m0 2h0m0 2h0m0 2h0m0 10h0m0 1h0m0 5h0m0 4h0m0 1h0m0 5h0m0 9h0m0 5h0m0 3h0m0 7h0m0 4h0m0 3h0m0 1h0m0 2h0m0 7h0m0 3h0m0 8h0m0 1h0m0 5h0m0 1h0m0 6h0m0 24h0m0 43h0m0 3h0m1-272h0m0 8h0m0 3h0m0 5h0m0 3h0m0 5h0m0 5h0m0 6h0m0 3h0m0 1h0m0 14h0m0 9h0m0 16h0m0 2h0m0 23h0m0 11h0m0 8h0m0 12h0m0 5h0m0 10h0m0 1h0m0 3h0m0 8h0m0 7h0m0 1h0m0 3h0m0 8h0m0 3h0m0 8h0m0 5h0m0 14h0m0 12h0m0 43h0m1-274h0m0 16h0m0 21h0m0 47h0m0 1h0m0 1h0m0 6h0m0 2h0m0 14h0m0 21h0m0 8h0m0 17h0m0 1h0m0 10h0m0 11h0m0 7h0m0 4h0m0 5h0m0 2h0m0 16h0m0 5h0m0 3h0m0 2h0m0 11h0m0 45h0m0 3h0m0 4h0m1-277h0m0 13h0m0 12h0m0 1h0m0 4h0m0 6h0m0 6h0m0 2h0m0 1h0m0 3h0m0 3h0m0 3h0m0 2h0m0 1h0m0 8h0m0 17h0m0 3h0m0 3h0m0 9h0m0 2h0m0 5h0m0 1h0m0 15h0m0 1h0m0 34h0m0 1h0m0 2h0m0 3h0m0 7h0m0 1h0m0 5h0m0 9h0m0 6h0m0 5h0m0 4h0m0 2h0m0 4h0m0 1h0m0 3h0m0 6h0m0 4h0m0 1h0m0 50h0m0 10h0m1-280h0m0 9h0m0 12h0m0 22h0m0 3h0m0 7h0m0 11h0m0 1h0m0 2h0m0 12h0m0 2h0m0 17h0m0 5h0m0 5h0m0 6h0m0 9h0m0 1h0m0 1h0m0 14h0m0 4h0m0 5h0m0 1h0m0 5h0m0 22h0m0 5h0m0 4h0m0 1h0m0 4h0m0 1h0m0 1h0m0 1h0m0 3h0m0 3h0m0 4h0m0 10h0m0 9h0m0 5h0m0 47h0m1-271h0m0 2h0m0 10h0m0 8h0m0 27h0m0 1h0m0 7h0m0 6h0m0 10h0m0 1h0m0 8h0m0 4h0m0 8h0m0 5h0m0 8h0m0 8h0m0 1h0m0 4h0m0 12h0m0 1h0m0 2h0m0 3h0m0 21h0m0 4h0m0 3h0m0 1h0m0 4h0m0 4h0m0 1h0m0 1h0m0 5h0m0 3h0m0 1h0m0 10h0m0 14h0m0 16h0m0 43h0m0 7h0m0 3h0m1-285h0m0 24h0m0 1h0m0 6h0m0 9h0m0 9h0m0 1h0m0 2h0m0 3h0m0 5h0m0 4h0m0 2h0m0 3h0m0 1h0m0 3h0m0 5h0m0 3h0m0 1h0m0 21h0m0 4h0m0 2h0m0 20h0m0 11h0m0 2h0m0 2h0m0 5h0m0 1h0m0 6h0m0 6h0m0 8h0m0 12h0m0 4h0m0 2h0m0 2h0m0 15h0m0 6h0m0 1h0m0 4h0m0 4h0m0 1h0m0 5h0m0 55h0m1-290h0m0 20h0m0 2h0m0 4h0m0 2h0m0 5h0m0 1h0m0 3h0m0 22h0m0 14h0m0 14h0m0 7h0m0 12h0m0 6h0m0 6h0m0 2h0m0 9h0m0 8h0m0 13h0m0 4h0m0 12h0m0 7h0m0 3h0m0 9h0m0 1h0m0 7h0m0 10h0m0 1h0m0 2h0m0 2h0m0 2h0m0 7h0m0 8h0m0 2h0m0 2h0m0 6h0m0 3h0m0 3h0m0 50h0m0 2h0m0 3h0m1-278h0m0 12h0m0 12h0m0 13h0m0 2h0m0 3h0m0 8h0m0 18h0m0 3h0m0 8h0m0 13h0m0 22h0m0 3h0m0 27h0m0 8h0m0 3h0m0 5h0m0 4h0m0 16h0m0 1h0m0 1h0m0 4h0m0 1h0m0 4h0m0 3h0m0 8h0m0 1h0m0 62h0m0 14h0m1-303h0m0 1h0m0 22h0m0 24h0m0 7h0m0 28h0m0 5h0m0 2h0m0 4h0m0 7h0m0 20h0m0 2h0m0 6h0m0 3h0m0 1h0m0 10h0m0 9h0m0 3h0m0 21h0m0 8h0m0 1h0m0 2h0m0 17h0m0 3h0m0 2h0m0 5h0m0 2h0m0 3h0m0 10h0m0 6h0m0 7h0m0 9h0m1-220h0m0 5h0m0 3h0m0 3h0m0 4h0m0 11h0m0 13h0m0 3h0m0 5h0m0 3h0m0 37h0m0 4h0m0 11h0m0 3h0m0 3h0m0 3h0m0 5h0m0 1h0m0 20h0m0 13h0m0 1h0m0 14h0m0 1h0m0 4h0m0 1h0m0 2h0m0 1h0m0 6h0m0 3h0m0 5h0m0 3h0m0 9h0m0 2h0m0 5h0m1-224h0m0 3h0m0 11h0m0 8h0m0 7h0m0 15h0m0 2h0m0 10h0m0 12h0m0 23h0m0 19h0m0 5h0m0 5h0m0 8h0m0 5h0m0 15h0m0 5h0m0 4h0m0 4h0m0 3h0m0 20h0m0 6h0m0 5h0m0 8h0m0 3h0m0 5h0m0 4h0m0 5h0m0 3h0m0 63h0m0 2h0m1-305h0m0 16h0m0 12h0m0 36h0m0 9h0m0 9h0m0 5h0m0 1h0m0 1h0m0 3h0m0 27h0m0 4h0m0 4h0m0 4h0m0 3h0m0 13h0m0 1h0m0 5h0m0 10h0m0 4h0m0 10h0m0 1h0m0 4h0m0 2h0m0 7h0m0 8h0m0 13h0m0 7h0m0 1h0m0 3h0m0 2h0m0 6h0m0 3h0m0 8h0m1-229h0m0 19h0m0 21h0m0 6h0m0 13h0m0 3h0m0 16h0m0 7h0m0 22h0m0 4h0m0 21h0m0 21h0m0 3h0m0 9h0m0 11h0m0 6h0m0 1h0m0 12h0m0 2h0m0 1h0m0 11h0m0 8h0m0 10h0m0 3h0m0 59h0m1-267h0m0 12h0m0 1h0m0 4h0m0 8h0m0 6h0m0 7h0m0 3h0m0 6h0m0 9h0m0 13h0m0 11h0m0 2h0m0 17h0m0 1h0m0 7h0m0 14h0m0 2h0m0 1h0m0 12h0m0 3h0m0 6h0m0 5h0m0 11h0m0 3h0m0 4h0m0 9h0m0 4h0m0 4h0m0 9h0m1-212h0m0 12h0m0 15h0m0 2h0m0 13h0m0 1h0m0 16h0m0 2h0m0 4h0m0 2h0m0 11h0m0 1h0m0 1h0m0 16h0m0 9h0m0 4h0m0 2h0m0 14h0m0 4h0m0 4h0m0 14h0m0 5h0m0 5h0m0 4h0m0 1h0m0 5h0m0 4h0m0 9h0m0 10h0m0 6h0m0 3h0m0 11h0m0 5h0m0 4h0m0 11h0m0 54h0m0 1h0m1-282h0m0 46h0m0 2h0m0 5h0m0 4h0m0 9h0m0 8h0m0 2h0m0 6h0m0 13h0m0 4h0m0 25h0m0 6h0m0 1h0m0 4h0m0 7h0m0 21h0m0 8h0m0 2h0m0 12h0m0 2h0m0 1h0m0 2h0m0 11h0m0 3h0m0 2h0m0 7h0m0 3h0m0 4h0m0 9h0m0 1h0m0 44h0m1-235h0m0 6h0m0 5h0m0 12h0m0 3h0m0 3h0m0 20h0m0 17h0m0 8h0m0 4h0m0 1h0m0 3h0m0 6h0m0 6h0m0 1h0m0 13h0m0 21h0m0 2h0m0 5h0m0 2h0m0 17h0m0 3h0m0 6h0m0 3h0m0 2h0m0 66h0m0 2h0m0 1h0m1-283h0m0 17h0m0 4h0m0 11h0m0 2h0m0 4h0m0 2h0m0 1h0m0 5h0m0 21h0m0 18h0m0 2h0m0 8h0m0 3h0m0 5h0m0 3h0m0 7h0m0 1h0m0 4h0m0 13h0m0 1h0m0 3h0m0 9h0m0 6h0m0 11h0m0 2h0m0 8h0m0 17h0m0 7h0m0 2h0m0 1h0m0 2h0m0 5h0m0 4h0m0 9h0m0 1h0m1-207h0m0 32h0m0 6h0m0 37h0m0 2h0m0 1h0m0 3h0m0 25h0m0 3h0m0 2h0m0 9h0m0 5h0m0 2h0m0 8h0m0 2h0m0 22h0m0 2h0m0 2h0m0 5h0m0 7h0m0 7h0m0 2h0m0 2h0m0 14h0m0 8h0m0 14h0m0 49h0m0 6h0m1-259h0m0 2h0m0 5h0m0 4h0m0 3h0m0 20h0m0 5h0m0 7h0m0 2h0m0 14h0m0 3h0m0 2h0m0 5h0m0 1h0m0 8h0m0 12h0m0 2h0m0 9h0m0 13h0m0 3h0m0 4h0m0 2h0m0 2h0m0 8h0m0 3h0m0 4h0m0 5h0m0 1h0m0 11h0m0 6h0m0 12h0m0 7h0m0 21h0m0 48h0m0 12h0m1-290h0m0 10h0m0 27h0m0 12h0m0 10h0m0 5h0m0 8h0m0 12h0m0 8h0m0 3h0m0 7h0m0 2h0m0 1h0m0 3h0m0 1h0m0 2h0m0 12h0m0 4h0m0 3h0m0 8h0m0 1h0m0 7h0m0 2h0m0 1h0m0 3h0m0 4h0m0 1h0m0 2h0m0 1h0m0 8h0m0 10h0m0 7h0m0 9h0m0 3h0m0 4h0m0 6h0m0 5h0m0 64h0m0 9h0m1-299h0m0 21h0m0 17h0m0 10h0m0 3h0m0 16h0m0 4h0m0 3h0m0 5h0m0 33h0m0 4h0m0 1h0m0 4h0m0 5h0m0 5h0m0 1h0m0 6h0m0 1h0m0 6h0m0 4h0m0 5h0m0 2h0m0 2h0m0 10h0m0 7h0m0 7h0m0 2h0m0 6h0m0 1h0m0 6h0m0 11h0m0 19h0m0 1h0m0 5h0m0 56h0m0 3h0m0 13h0m1-303h0m0 11h0m0 3h0m0 8h0m0 10h0m0 7h0m0 4h0m0 7h0m0 20h0m0 16h0m0 7h0m0 3h0m0 2h0m0 8h0m0 4h0m0 25h0m0 3h0m0 9h0m0 4h0m0 7h0m0 10h0m0 4h0m0 3h0m0 1h0m0 4h0m0 4h0m0 22h0m0 10h0m0 6h0m0 1h0m0 14h0m0 49h0m0 1h0m0 1h0m0 2h0m0 1h0m0 1h0m0 2h0m1-278h0m0 13h0m0 20h0m0 28h0m0 2h0m0 2h0m0 5h0m0 1h0m0 12h0m0 7h0m0 8h0m0 5h0m0 1h0m0 1h0m0 4h0m0 3h0m0 2h0m0 14h0m0 7h0m0 3h0m0 11h0m0 5h0m0 5h0m0 1h0m0 3h0m0 9h0m0 7h0m0 9h0m0 4h0m0 14h0m0 3h0m0 5h0m1-237h0m0 19h0m0 26h0m0 1h0m0 16h0m0 4h0m0 3h0m0 4h0m0 1h0m0 4h0m0 9h0m0 12h0m0 14h0m0 1h0m0 11h0m0 2h0m0 5h0m0 11h0m0 10h0m0 8h0m0 4h0m0 3h0m0 4h0m0 5h0m0 17h0m0 5h0m0 4h0m0 5h0m0 10h0m0 17h0m0 2h0m0 2h0m0 6h0m0 2h0m0 46h0m0 7h0m1-284h0m0 6h0m0 1h0m0 8h0m0 19h0m0 4h0m0 10h0m0 15h0m0 4h0m0 2h0m0 1h0m0 5h0m0 18h0m0 4h0m0 3h0m0 19h0m0 2h0m0 8h0m0 4h0m0 2h0m0 5h0m0 2h0m0 9h0m0 6h0m0 4h0m0 11h0m0 6h0m0 4h0m0 4h0m0 4h0m0 10h0m0 9h0m0 8h0m0 16h0m0 46h0m0 5h0m1-283h0m0 15h0m0 23h0m0 12h0m0 7h0m0 6h0m0 7h0m0 8h0m0 5h0m0 5h0m0 2h0m0 18h0m0 6h0m0 3h0m0 5h0m0 10h0m0 3h0m0 4h0m0 21h0m0 3h0m0 2h0m0 15h0m0 33h0m0 7h0m0 6h0m0 1h0m0 4h0m0 4h0m0 47h0m0 3h0m0 3h0m1-273h0m0 5h0m0 15h0m0 1h0m0 1h0m0 3h0m0 21h0m0 13h0m0 3h0m0 9h0m0 8h0m0 3h0m0 11h0m0 9h0m0 26h0m0 8h0m0 2h0m0 14h0m0 11h0m0 9h0m0 1h0m0 3h0m0 1h0m0 7h0m0 8h0m0 2h0m0 3h0m0 2h0m0 3h0m0 5h0m0 11h0m0 52h0m1-285h0m0 8h0m0 15h0m0 4h0m0 5h0m0 7h0m0 1h0m0 4h0m0 1h0m0 7h0m0 5h0m0 9h0m0 3h0m0 16h0m0 1h0m0 1h0m0 30h0m0 2h0m0 3h0m0 7h0m0 2h0m0 5h0m0 20h0m0 2h0m0 4h0m0 1h0m0 2h0m0 12h0m0 27h0m0 10h0m0 1h0m0 3h0m0 1h0m0 5h0m0 9h0m0 50h0m1-252h0m0 3h0m0 10h0m0 6h0m0 1h0m0 13h0m0 4h0m0 12h0m0 11h0m0 9h0m0 2h0m0 2h0m0 3h0m0 5h0m0 17h0m0 6h0m0 2h0m0 6h0m0 20h0m0 7h0m0 3h0m0 16h0m0 12h0m0 3h0m0 3h0m0 7h0m0 3h0m0 4h0m0 52h0m0 7h0m1-253h0m0 13h0m0 1h0m0 11h0m0 14h0m0 1h0m0 4h0m0 2h0m0 1h0m0 3h0m0 4h0m0 9h0m0 21h0m0 12h0m0 2h0m0 1h0m0 22h0m0 7h0m0 2h0m0 2h0m0 20h0m0 2h0m0 8h0m0 9h0m0 1h0m0 1h0m0 15h0m0 2h0m0 5h0m0 51h0m0 3h0m0 2h0m0 4h0m0 1h0m1-285h0m0 24h0m0 28h0m0 37h0m0 3h0m0 4h0m0 1h0m0 10h0m0 4h0m0 10h0m0 1h0m0 2h0m0 5h0m0 15h0m0 3h0m0 2h0m0 1h0m0 5h0m0 8h0m0 3h0m0 21h0m0 7h0m0 9h0m0 5h0m0 7h0m0 10h0m0 4h0m0 3h0m0 1h0m0 58h0m1-275h0m0 3h0m0 6h0m0 9h0m0 2h0m0 6h0m0 5h0m0 9h0m0 5h0m0 6h0m0 2h0m0 2h0m0 5h0m0 7h0m0 8h0m0 10h0m0 3h0m0 4h0m0 17h0m0 6h0m0 2h0m0 15h0m0 1h0m0 6h0m0 13h0m0 7h0m0 9h0m0 4h0m0 4h0m0 2h0m0 4h0m0 7h0m0 7h0m0 1h0m0 11h0m0 57h0m0 2h0m1-280h0m0 3h0m0 44h0m0 3h0m0 11h0m0 8h0m0 8h0m0 4h0m0 11h0m0 1h0m0 19h0m0 14h0m0 3h0m0 2h0m0 15h0m0 4h0m0 1h0m0 1h0m0 7h0m0 3h0m0 1h0m0 5h0m0 2h0m0 1h0m0 5h0m0 1h0m0 2h0m0 7h0m0 6h0m0 5h0m0 10h0m0 1h0m0 2h0m0 1h0m0 8h0m0 2h0m0 5h0m0 3h0m0 1h0m1-237h0m0 15h0m0 10h0m0 1h0m0 26h0m0 23h0m0 2h0m0 17h0m0 14h0m0 2h0m0 1h0m0 3h0m0 5h0m0 6h0m0 2h0m0 6h0m0 42h0m0 11h0m0 8h0m0 3h0m0 2h0m0 1h0m0 1h0m0 2h0m0 18h0m0 3h0m0 3h0m0 2h0m0 3h0m0 3h0m0 3h0m1-222h0m0 6h0m0 3h0m0 9h0m0 3h0m0 29h0m0 19h0m0 1h0m0 9h0m0 14h0m0 2h0m0 43h0m0 15h0m0 1h0m0 1h0m0 4h0m0 3h0m0 3h0m0 6h0m0 7h0m0 5h0m0 6h0m0 17h0m0 3h0m0 63h0m1-262h0m0 15h0m0 10h0m0 34h0m0 32h0m0 27h0m0 25h0m0 6h0m0 4h0m0 2h0m0 2h0m0 4h0m0 4h0m0 2h0m0 8h0m0 1h0m0 11h0m0 16h0m0 55h0m0 3h0m0 1h0m1-287h0m0 11h0m0 9h0m0 1h0m0 19h0m0 17h0m0 12h0m0 4h0m0 7h0m0 5h0m0 9h0m0 2h0m0 7h0m0 18h0m0 3h0m0 1h0m0 3h0m0 3h0m0 1h0m0 3h0m0 6h0m0 2h0m0 21h0m0 8h0m0 6h0m0 4h0m0 2h0m0 2h0m0 3h0m0 4h0m0 1h0m0 4h0m0 8h0m0 4h0m0 10h0m0 1h0m0 7h0m0 56h0m0 5h0m1-261h0m0 13h0m0 2h0m0 2h0m0 26h0m0 5h0m0 5h0m0 14h0m0 2h0m0 7h0m0 2h0m0 15h0m0 4h0m0 11h0m0 6h0m0 3h0m0 2h0m0 8h0m0 1h0m0 3h0m0 6h0m0 5h0m0 6h0m0 11h0m0 1h0m0 6h0m0 1h0m0 1h0m0 8h0m0 1h0m0 1h0m0 2h0m0 6h0m0 19h0m0 46h0m0 2h0m0 8h0m1-281h0m0 1h0m0 4h0m0 23h0m0 3h0m0 19h0m0 2h0m0 2h0m0 1h0m0 6h0m0 14h0m0 18h0m0 13h0m0 9h0m0 1h0m0 2h0m0 3h0m0 13h0m0 16h0m0 17h0m0 1h0m0 1h0m0 5h0m0 5h0m0 4h0m0 7h0m0 1h0m0 3h0m0 1h0m0 11h0m0 1h0m0 3h0m0 21h0m0 46h0m0 1h0m1-294h0m0 13h0m0 23h0m0 2h0m0 12h0m0 8h0m0 6h0m0 11h0m0 3h0m0 10h0m0 7h0m0 7h0m0 1h0m0 3h0m0 3h0m0 35h0m0 4h0m0 2h0m0 14h0m0 3h0m0 4h0m0 15h0m0 5h0m0 12h0m0 18h0m0 3h0m0 6h0m0 1h0m0 1h0m0 55h0m0 3h0m1-256h0m0 8h0m0 5h0m0 4h0m0 8h0m0 29h0m0 16h0m0 20h0m0 21h0m0 9h0m0 3h0m0 4h0m0 1h0m0 3h0m0 2h0m0 1h0m0 5h0m0 2h0m0 14h0m0 6h0m0 4h0m0 9h0m0 4h0m0 2h0m0 5h0m0 14h0m0 52h0m0 4h0m0 1h0m0 4h0m0 5h0m1-256h0m0 4h0m0 10h0m0 3h0m0 14h0m0 25h0m0 22h0m0 11h0m0 12h0m0 5h0m0 2h0m0 3h0m0 6h0m0 8h0m0 3h0m0 1h0m0 2h0m0 3h0m0 11h0m0 4h0m0 6h0m0 1h0m0 3h0m0 8h0m0 1h0m0 6h0m0 5h0m0 9h0m0 10h0m0 3h0m0 40h0m0 9h0m0 2h0m1-244h0m0 42h0m0 14h0m0 10h0m0 5h0m0 2h0m0 6h0m0 14h0m0 4h0m0 6h0m0 9h0m0 3h0m0 14h0m0 16h0m0 4h0m0 5h0m0 6h0m0 5h0m0 6h0m0 4h0m0 2h0m0 17h0m0 55h0m1-271h0m0 3h0m0 14h0m0 14h0m0 2h0m0 3h0m0 8h0m0 6h0m0 15h0m0 15h0m0 22h0m0 6h0m0 26h0m0 3h0m0 8h0m0 6h0m0 18h0m0 11h0m0 5h0m0 14h0m0 4h0m0 3h0m0 1h0m0 5h0m0 42h0m0 7h0m0 3h0m1-266h0m0 12h0m0 5h0m0 4h0m0 6h0m0 21h0m0 3h0m0 1h0m0 9h0m0 16h0m0 6h0m0 8h0m0 31h0m0 1h0m0 8h0m0 16h0m0 2h0m0 3h0m0 1h0m0 5h0m0 24h0m0 10h0m0 13h0m0 1h0m0 6h0m0 2h0m1-221h0m0 26h0m0 29h0m0 11h0m0 16h0m0 16h0m0 9h0m0 3h0m0 2h0m0 3h0m0 2h0m0 10h0m0 1h0m0 3h0m0 14h0m0 11h0m0 2h0m0 6h0m0 2h0m0 2h0m0 8h0m0 11h0m0 3h0m0 16h0m0 11h0m0 2h0m0 5h0m0 46h0m0 2h0m0 5h0m1-270h0m0 23h0m0 29h0m0 3h0m0 20h0m0 8h0m0 3h0m0 7h0m0 3h0m0 11h0m0 3h0m0 8h0m0 9h0m0 1h0m0 2h0m0 12h0m0 10h0m0 10h0m0 5h0m0 3h0m0 8h0m0 4h0m0 10h0m0 6h0m0 10h0m0 10h0m0 3h0m0 41h0m0 1h0m0 3h0m0 10h0m1-259h0m0 12h0m0 17h0m0 16h0m0 7h0m0 9h0m0 3h0m0 11h0m0 9h0m0 39h0m0 1h0m0 2h0m0 6h0m0 6h0m0 20h0m0 1h0m0 11h0m0 4h0m0 10h0m0 12h0m0 5h0m0 44h0m0 2h0m0 1h0m0 3h0m0 2h0m0 4h0m0 4h0m1-278h0m0 12h0m0 6h0m0 11h0m0 5h0m0 7h0m0 26h0m0 15h0m0 8h0m0 2h0m0 9h0m0 3h0m0 37h0m0 33h0m0 5h0m0 8h0m0 6h0m0 6h0m0 19h0m0 42h0m0 8h0m1-231h0m0 2h0m0 8h0m0 17h0m0 18h0m0 3h0m0 4h0m0 6h0m0 3h0m0 17h0m0 19h0m0 5h0m0 2h0m0 9h0m0 19h0m0 7h0m0 3h0m0 1h0m0 3h0m0 10h0m0 5h0m0 10h0m0 15h0m0 40h0m0 3h0m1-280h0m0 7h0m0 4h0m0 10h0m0 5h0m0 35h0m0 5h0m0 6h0m0 30h0m0 9h0m0 4h0m0 5h0m0 14h0m0 6h0m0 5h0m0 3h0m0 20h0m0 1h0m0 4h0m0 10h0m0 2h0m0 3h0m0 4h0m0 22h0m0 1h0m0 2h0m0 1h0m0 1h0m0 2h0m0 2h0m0 6h0m0 5h0m0 3h0m0 40h0m0 6h0m0 2h0m1-280h0m0 20h0m0 9h0m0 52h0m0 7h0m0 3h0m0 8h0m0 7h0m0 14h0m0 2h0m0 18h0m0 7h0m0 1h0m0 5h0m0 3h0m0 2h0m0 17h0m0 6h0m0 11h0m0 26h0m1-187h0m0 5h0m0 1h0m0 11h0m0 6h0m0 23h0m0 2h0m0 2h0m0 5h0m0 17h0m0 31h0m0 3h0m0 18h0m0 4h0m0 6h0m0 8h0m0 2h0m0 2h0m0 5h0m0 7h0m0 3h0m0 7h0m0 4h0m0 1h0m0 7h0m0 1h0m0 4h0m0 4h0m0 4h0m1-218h0m0 31h0m0 11h0m0 6h0m0 2h0m0 15h0m0 33h0m0 23h0m0 2h0m0 17h0m0 3h0m0 12h0m0 5h0m0 12h0m0 5h0m0 10h0m0 1h0m0 1h0m0 9h0m0 2h0m0 10h0m0 8h0m0 8h0m0 39h0m0 7h0m0 1h0m1-289h0m0 16h0m0 2h0m0 5h0m0 6h0m0 9h0m0 7h0m0 3h0m0 2h0m0 11h0m0 42h0m0 2h0m0 8h0m0 7h0m0 4h0m0 4h0m0 4h0m0 1h0m0 1h0m0 12h0m0 2h0m0 9h0m0 13h0m0 2h0m0 1h0m0 3h0m0 4h0m0 2h0m0 6h0m0 3h0m0 14h0m0 11h0m0 3h0m0 2h0m0 4h0m0 12h0m0 5h0m0 1h0m0 40h0m0 9h0m1-273h0m0 15h0m0 16h0m0 1h0m0 31h0m0 2h0m0 9h0m0 6h0m0 17h0m0 4h0m0 11h0m0 27h0m0 3h0m0 29h0m0 1h0m0 1h0m0 1h0m0 10h0m0 11h0m0 16h0m0 7h0m0 3h0m0 4h0m1-215h0m0 13h0m0 42h0m0 6h0m0 6h0m0 7h0m0 10h0m0 6h0m0 14h0m0 10h0m0 8h0m0 2h0m0 3h0m0 4h0m0 5h0m0 19h0m0 3h0m0 2h0m0 11h0m0 1h0m0 4h0m0 1h0m0 1h0m0 2h0m0 1h0m0 5h0m0 6h0m0 3h0m0 8h0m0 3h0m0 3h0m0 2h0m0 3h0m0 40h0m0 2h0m0 3h0m1-284h0m0 32h0m0 19h0m0 12h0m0 16h0m0 43h0m0 6h0m0 6h0m0 6h0m0 19h0m0 27h0m0 10h0m0 7h0m0 6h0m0 3h0m0 3h0m0 9h0m0 3h0m0 3h0m0 2h0m0 1h0m0 6h0m0 32h0m1-273h0m0 28h0m0 3h0m0 21h0m0 3h0m0 14h0m0 25h0m0 2h0m0 15h0m0 3h0m0 10h0m0 17h0m0 4h0m0 2h0m0 12h0m0 20h0m0 11h0m0 3h0m0 8h0m0 2h0m0 2h0m0 6h0m0 2h0m0 18h0m0 5h0m0 36h0m0 5h0m0 3h0m0 3h0m1-256h0m0 26h0m0 9h0m0 3h0m0 3h0m0 4h0m0 7h0m0 7h0m0 17h0m0 20h0m0 5h0m0 6h0m0 2h0m0 7h0m0 7h0m0 15h0m0 3h0m0 6h0m0 5h0m0 2h0m0 19h0m0 4h0m0 5h0m0 1h0m0 6h0m0 6h0m0 1h0m0 5h0m0 52h0m0 4h0m0 3h0m1-334h0m0 62h0m0 35h0m0 11h0m0 4h0m0 1h0m0 17h0m0 2h0m0 9h0m0 24h0m0 37h0m0 14h0m0 5h0m0 7h0m0 1h0m0 5h0m0 4h0m0 2h0m0 9h0m0 1h0m0 1h0m0 6h0m0 2h0m0 1h0m0 16h0m0 3h0m0 4h0m0 49h0m1-274h0m0 7h0m0 23h0m0 28h0m0 5h0m0 1h0m0 8h0m0 8h0m0 4h0m0 3h0m0 3h0m0 7h0m0 3h0m0 4h0m0 8h0m0 7h0m0 11h0m0 24h0m0 3h0m0 35h0m0 1h0m0 8h0m0 5h0m0 5h0m0 6h0m0 5h0m0 1h0m0 2h0m0 4h0m0 2h0m1-222h0m0 31h0m0 8h0m0 6h0m0 11h0m0 37h0m0 1h0m0 5h0m0 2h0m0 8h0m0 2h0m0 3h0m0 5h0m0 15h0m0 36h0m0 2h0m0 4h0m0 6h0m0 14h0m0 7h0m0 3h0m0 4h0m0 3h0m0 54h0m1-256h0m0 2h0m0 11h0m0 23h0m0 24h0m0 4h0m0 23h0m0 3h0m0 12h0m0 4h0m0 40h0m0 9h0m0 4h0m0 3h0m0 5h0m0 3h0m0 11h0m0 5h0m0 4h0m0 2h0m0 10h0m0 50h0m1-247h0m0 17h0m0 37h0m0 13h0m0 22h0m0 2h0m0 14h0m0 5h0m0 16h0m0 17h0m0 4h0m0 4h0m0 6h0m0 13h0m0 7h0m0 7h0m0 3h0m0 1h0m0 6h0m0 25h0m1-248h0m0 2h0m0 4h0m0 21h0m0 58h0m0 9h0m0 22h0m0 4h0m0 4h0m0 2h0m0 8h0m0 4h0m0 3h0m0 3h0m0 6h0m0 9h0m0 9h0m0 1h0m0 1h0m0 2h0m0 10h0m0 11h0m0 4h0m0 11h0m0 13h0m0 6h0m0 6h0m0 3h0m0 36h0m0 2h0m0 3h0m0 3h0m0 1h0m1-248h0m0 7h0m0 5h0m0 26h0m0 4h0m0 5h0m0 13h0m0 33h0m0 10h0m0 8h0m0 8h0m0 23h0m0 2h0m0 12h0m0 13h0m0 5h0m0 2h0m0 3h0m0 2h0m0 4h0m0 7h0m0 1h0m0 8h0m0 12h0m0 27h0m0 1h0m0 2h0m1-274h0m0 42h0m0 4h0m0 5h0m0 6h0m0 58h0m0 6h0m0 2h0m0 11h0m0 3h0m0 6h0m0 3h0m0 3h0m0 6h0m0 7h0m0 7h0m0 4h0m0 6h0m0 23h0m0 3h0m0 1h0m0 3h0m0 2h0m0 6h0m0 10h0m0 39h0m0 10h0m1-282h0m0 13h0m0 22h0m0 67h0m0 29h0m0 9h0m0 12h0m0 19h0m0 2h0m0 11h0m0 3h0m0 9h0m0 1h0m0 7h0m0 2h0m0 5h0m0 11h0m0 2h0m0 5h0m0 1h0m0 4h0m0 45h0m1-286h0m0 37h0m0 29h0m0 11h0m0 12h0m0 12h0m0 12h0m0 5h0m0 5h0m0 28h0m0 43h0m0 12h0m0 7h0m0 5h0m0 7h0m0 1h0m0 2h0m0 10h0m0 41h0m0 3h0m0 1h0m1-266h0m0 64h0m0 9h0m0 3h0m0 24h0m0 2h0m0 39h0m0 1h0m0 1h0m0 22h0m0 13h0m0 1h0m0 1h0m0 2h0m0 5h0m0 6h0m0 9h0m0 7h0m0 1h0m0 1h0m0 14h0m0 1h0m0 36h0m0 4h0m0 1h0m0 1h0m0 4h0m1-280h0m0 37h0m0 36h0m0 20h0m0 5h0m0 8h0m0 6h0m0 49h0m0 4h0m0 19h0m0 24h0m0 16h0m0 5h0m0 41h0m0 1h0m0 8h0m0 2h0m1-272h0m0 8h0m0 5h0m0 10h0m0 26h0m0 7h0m0 9h0m0 50h0m0 2h0m0 32h0m0 14h0m0 6h0m0 23h0m0 8h0m0 6h0m0 1h0m0 6h0m0 6h0m0 5h0m0 37h0m0 1h0m0 9h0m1-274h0m0 5h0m0 9h0m0 5h0m0 6h0m0 7h0m0 5h0m0 30h0m0 26h0m0 8h0m0 2h0m0 12h0m0 6h0m0 6h0m0 3h0m0 3h0m0 23h0m0 6h0m0 7h0m0 7h0m0 5h0m0 2h0m0 1h0m0 2h0m0 4h0m0 12h0m0 7h0m0 3h0m0 8h0m0 4h0m0 4h0m0 36h0m0 4h0m0 3h0m0 2h0m0 2h0m1-261h0m0 25h0m0 1h0m0 8h0m0 16h0m0 12h0m0 2h0m0 8h0m0 22h0m0 14h0m0 29h0m0 26h0m0 5h0m0 9h0m0 2h0m0 18h0m0 5h0m0 1h0m0 1h0m0 2h0m0 4h0m0 39h0m0 2h0m0 3h0m1-255h0m0 13h0m0 23h0m0 10h0m0 13h0m0 18h0m0 8h0m0 26h0m0 9h0m0 1h0m0 2h0m0 1h0m0 13h0m0 10h0m0 18h0m0 9h0m0 4h0m0 4h0m0 3h0m0 2h0m0 7h0m0 9h0m0 1h0m0 2h0m0 45h0m0 3h0m0 1h0m1-252h0m0 52h0m0 79h0m0 3h0m0 2h0m0 14h0m0 16h0m0 25h0m0 1h0m0 16h0m0 41h0m0 1h0m1-260h0m0 8h0m0 27h0m0 6h0m0 4h0m0 12h0m0 18h0m0 4h0m0 7h0m0 5h0m0 12h0m0 4h0m0 9h0m0 2h0m0 20h0m0 61h0m0 8h0m0 9h0m0 1h0m0 44h0m0 3h0m0 3h0m1-256h0m0 21h0m0 18h0m0 33h0m0 7h0m0 1h0m0 1h0m0 22h0m0 6h0m0 25h0m0 3h0m0 26h0m0 3h0m0 5h0m0 7h0m0 3h0m0 1h0m0 1h0m0 6h0m0 11h0m0 1h0m0 2h0m0 4h0m0 2h0m0 10h0m1-266h0m0 87h0m0 3h0m0 4h0m0 4h0m0 34h0m0 4h0m0 5h0m0 5h0m0 15h0m0 19h0m0 10h0m0 3h0m0 21h0m0 8h0m0 9h0m0 12h0m0 4h0m0 5h0m0 6h0m0 2h0m0 5h0m0 35h0m0 8h0m1-273h0m0 13h0m0 16h0m0 26h0m0 6h0m0 20h0m0 18h0m0 2h0m0 8h0m0 11h0m0 3h0m0 1h0m0 38h0m0 5h0m0 4h0m0 10h0m0 1h0m0 4h0m0 1h0m0 5h0m0 1h0m0 3h0m0 4h0m0 7h0m0 1h0m0 8h0m0 1h0m0 3h0m0 47h0m0 9h0m1-242h0m0 32h0m0 16h0m0 27h0m0 17h0m0 2h0m0 1h0m0 3h0m0 7h0m0 13h0m0 4h0m0 3h0m0 1h0m0 17h0m0 16h0m0 6h0m0 11h0m0 1h0m0 5h0m0 2h0m0 5h0m0 34h0m0 4h0m0 2h0m0 2h0m0 3h0m1-273h0m0 11h0m0 30h0m0 8h0m0 45h0m0 4h0m0 2h0m0 8h0m0 12h0m0 12h0m0 18h0m0 9h0m0 4h0m0 15h0m0 1h0m0 1h0m0 8h0m0 7h0m0 4h0m0 7h0m0 9h0m0 8h0m0 1h0m0 2h0m0 1h0m0 1h0m0 12h0m0 23h0m1-192h0m0 1h0m0 28h0m0 16h0m0 40h0m0 4h0m0 8h0m0 14h0m0 7h0m0 1h0m0 1h0m0 5h0m0 4h0m0 2h0m0 9h0m0 4h0m0 18h0m0 31h0m0 2h0m0 3h0m0 4h0m1-170h0m0 4h0m0 21h0m0 3h0m0 19h0m0 17h0m0 4h0m0 18h0m0 5h0m0 1h0m0 8h0m0 3h0m0 8h0m0 5h0m0 3h0m0 4h0m0 6h0m0 6h0m0 28h0m0 2h0m0 3h0m0 6h0m1-237h0m0 4h0m0 9h0m0 6h0m0 11h0m0 19h0m0 28h0m0 12h0m0 30h0m0 17h0m0 21h0m0 1h0m0 16h0m0 52h0m0 14h0m1-256h0m0 13h0m0 2h0m0 18h0m0 33h0m0 1h0m0 2h0m0 5h0m0 83h0m0 10h0m0 5h0m0 19h0m0 6h0m0 1h0m0 3h0m0 5h0m0 5h0m0 37h0m0 2h0m0 3h0m1-208h0m0 5h0m0 8h0m0 6h0m0 38h0m0 4h0m0 12h0m0 1h0m0 10h0m0 1h0m0 3h0m0 5h0m0 3h0m0 17h0m0 10h0m0 1h0m0 1h0m0 22h0m0 7h0m0 1h0m0 1h0m0 37h0m0 2h0m0 5h0m1-284h0m0 37h0m0 14h0m0 14h0m0 30h0m0 24h0m0 4h0m0 53h0m0 15h0m0 4h0m0 8h0m0 10h0m0 4h0m0 3h0m0 3h0m0 16h0m0 3h0m0 12h0m1-211h0m0 42h0m0 24h0m0 48h0m0 9h0m0 3h0m0 13h0m0 21h0m0 10h0m0 4h0m0 7h0m0 1h0m0 14h0m0 1h0m0 1h0m0 8h0m0 1h0m0 4h0m0 25h0m0 2h0m0 1h0m1-269h0m0 51h0m0 1h0m0 4h0m0 14h0m0 1h0m0 31h0m0 6h0m0 3h0m0 43h0m0 18h0m0 11h0m0 2h0m0 7h0m0 9h0m0 2h0m0 2h0m0 2h0m0 2h0m0 10h0m0 1h0m0 3h0m0 3h0m0 2h0m0 38h0m0 2h0m0 5h0m1-241h0m0 9h0m0 6h0m0 15h0m0 16h0m0 35h0m0 5h0m0 15h0m0 11h0m0 13h0m0 1h0m0 1h0m0 1h0m0 11h0m0 1h0m0 24h0m0 4h0m0 7h0m0 1h0m0 5h0m0 4h0m0 8h0m0 3h0m0 42h0m0 8h0m1-221h0m0 14h0m0 9h0m0 11h0m0 14h0m0 26h0m0 3h0m0 10h0m0 4h0m0 26h0m0 2h0m0 13h0m0 1h0m0 1h0m0 5h0m0 10h0m0 2h0m0 13h0m0 3h0m0 3h0m0 5h0m0 36h0m0 6h0m1-282h0m0 74h0m0 24h0m0 4h0m0 11h0m0 2h0m0 50h0m0 6h0m0 7h0m0 23h0m0 19h0m0 1h0m0 6h0m0 6h0m0 3h0m0 2h0m0 2h0m0 32h0m0 11h0m1-255h0m0 1h0m0 2h0m0 12h0m0 54h0m0 19h0m0 36h0m0 27h0m0 17h0m0 4h0m0 11h0m0 1h0m0 17h0m0 2h0m0 1h0m0 47h0m0 1h0m1-289h0m0 12h0m0 51h0m0 8h0m0 7h0m0 11h0m0 11h0m0 18h0m0 1h0m0 15h0m0 2h0m0 25h0m0 13h0m0 20h0m0 7h0m0 12h0m0 4h0m0 10h0m0 7h0m0 3h0m0 2h0m0 5h0m0 3h0m1-246h0m0 59h0m0 5h0m0 50h0m0 20h0m0 39h0m0 2h0m0 3h0m0 7h0m0 13h0m0 19h0m0 3h0m0 2h0m0 5h0m0 9h0m0 5h0m0 7h0m0 45h0m0 3h0m1-258h0m0 48h0m0 26h0m0 2h0m0 6h0m0 51h0m0 9h0m0 13h0m0 14h0m0 3h0m0 3h0m0 2h0m0 12h0m0 4h0m0 6h0m0 2h0m0 5h0m0 43h0m0 4h0m1-256h0m0 28h0m0 14h0m0 1h0m0 4h0m0 33h0m0 16h0m0 16h0m0 70h0m0 4h0m0 21h0m0 3h0m0 1h0m0 4h0m0 1h0m0 2h0m0 31h0m0 6h0m0 5h0m1-238h0m0 6h0m0 12h0m0 24h0m0 15h0m0 22h0m0 4h0m0 22h0m0 13h0m0 13h0m0 10h0m0 20h0m0 21h0m0 1h0m0 5h0m0 1h0m0 35h0m0 2h0m0 6h0m1-190h0m0 1h0m0 11h0m0 63h0m0 1h0m0 39h0m0 10h0m0 3h0m0 9h0m0 2h0m0 2h0m0 2h0m0 3h0m0 1h0m0 35h0m0 6h0m0 2h0m0 2h0m1-260h0m0 130h0m0 13h0m0 2h0m0 25h0m0 15h0m0 24h0m0 10h0m1-190h0m0 17h0m0 6h0m0 2h0m0 1h0m0 51h0m0 4h0m0 15h0m0 3h0m0 51h0m0 14h0m0 9h0m0 3h0m0 5h0m0 2h0m0 38h0m0 10h0m0 6h0m1-115h0m0 8h0m0 10h0m0 20h0m0 10h0m0 3h0m0 5h0m0 8h0m1-202h0m0 17h0m0 34h0m0 2h0m0 7h0m0 53h0m0 42h0m0 4h0m0 10h0m0 2h0m0 7h0m0 8h0m0 1h0m0 5h0m0 5h0m0 2h0m0 5h0m0 44h0m1-249h0m0 37h0m0 9h0m0 32h0m0 5h0m0 27h0m0 40h0m0 1h0m0 5h0m0 15h0m0 15h0m0 16h0m0 1h0m0 34h0m0 12h0m0 4h0m1-242h0m0 7h0m0 5h0m0 4h0m0 1h0m0 5h0m0 4h0m0 4h0m0 3h0m0 1h0m0 1h0m0 2h0m0 3h0m0 3h0m0 3h0m0 4h0m0 4h0m0 1h0m0 6h0m0 4h0m0 2h0m0 20h0m0 2h0m0 3h0m0 3h0m0 5h0m0 3h0m0 1h0m0 3h0m0 2h0m0 3h0m0 2h0m0 1h0m0 1h0m0 4h0m0 2h0m0 2h0m0 2h0m0 17h0m0 2h0m0 1h0m0 9h0m0 1h0m0 1h0m0 5h0m0 6h0m0 6h0m0 5h0m0 2h0m0 4h0m0 2h0m0 1h0m0 1h0m0 3h0m0 39h0m0 9h0m0 2h0m0 1h0m0 2h0m0 2h0m0 2h0m1-294h0m0 13h0m0 12h0m0 1h0m0 6h0m0 2h0m0 9h0m0 6h0m0 3h0m0 30h0m0 6h0m0 9h0m0 1h0m0 11h0m0 2h0m0 2h0m0 4h0m0 1h0m0 3h0m0 4h0m0 5h0m0 4h0m0 3h0m0 11h0m0 4h0m0 11h0m0 5h0m0 14h0m0 2h0m0 7h0m0 5h0m0 7h0m0 1h0m0 2h0m0 4h0m0 1h0m0 16h0m0 6h0m0 43h0m0 9h0m0 3h0m0 7h0m0 6h0m1-241h0m0 2h0m0 6h0m0 50h0m0 46h0m0 66h0m0 2h0m0 2h0m0 39h0m0 5h0m0 4h0m0 2h0m1-255h0m0 13h0m0 13h0m0 15h0m0 18h0m0 24h0m0 29h0m0 21h0m0 16h0m0 8h0m0 18h0m0 20h0m0 3h0m0 8h0m0 2h0m0 1h0m0 6h0m0 33h0m1-261h0m0 132h0m0 9h0m0 28h0m0 22h0m0 4h0m0 5h0m0 1h0m0 1h0m0 2h0m0 9h0m0 15h0m0 34h0m1-264h0m0 18h0m0 36h0m0 19h0m0 43h0m0 10h0m0 23h0m0 8h0m0 7h0m0 31h0m0 15h0m0 1h0m0 3h0m0 5h0m0 5h0m0 38h0m0 6h0m1-269h0m0 46h0m0 3h0m0 28h0m0 1h0m0 5h0m0 54h0m0 27h0m0 20h0m0 35h0m0 1h0m0 5h0m0 39h0m0 4h0m1-249h0m0 43h0m0 6h0m0 44h0m0 28h0m0 4h0m0 10h0m0 20h0m0 23h0m0 4h0m0 5h0m0 2h0m0 2h0m0 1h0m0 2h0m0 1h0m0 5h0m0 5h0m0 8h0m0 33h0m0 3h0m0 5h0m0 2h0m0 4h0m1-219h0m0 24h0m0 3h0m0 55h0m0 15h0m0 25h0m0 7h0m0 13h0m0 7h0m0 13h0m0 1h0m0 2h0m0 6h0m0 37h0m1-278h0m0 104h0m0 50h0m0 6h0m0 5h0m0 1h0m0 17h0m0 31h0m0 6h0m0 2h0m0 8h0m0 4h0m0 1h0m0 35h0m0 4h0m0 4h0m0 1h0m1-218h0m0 25h0m0 60h0m0 15h0m0 10h0m0 8h0m0 37h0m0 8h0m0 4h0m0 6h0m0 3h0m0 8h0m0 23h0m0 2h0m0 1h0m0 7h0m0 8h0m1-209h0m0 12h0m0 20h0m0 11h0m0 20h0m0 17h0m0 35h0m0 7h0m0 6h0m0 1h0m0 12h0m0 2h0m0 5h0m0 2h0m0 4h0m0 14h0m0 28h0m0 1h0m0 1h0m1-224h0m0 34h0m0 54h0m0 30h0m0 8h0m0 24h0m0 12h0m0 22h0m0 6h0m0 8h0m0 1h0m0 18h0m0 3h0m1-203h0m0 10h0m0 46h0m0 8h0m0 9h0m0 14h0m0 32h0m0 28h0m0 2h0m0 9h0m0 2h0m0 11h0m0 36h0m0 1h0m0 7h0m1-208h0m0 15h0m0 95h0m0 11h0m0 3h0m0 12h0m0 8h0m0 7h0m0 2h0m0 4h0m0 4h0m0 32h0m1-227h0m0 2h0m0 42h0m0 62h0m0 8h0m0 40h0m0 19h0m0 12h0m0 8h0m0 1h0m0 2h0m0 32h0m0 4h0m0 4h0m1-193h0m0 2h0m0 13h0m0 61h0m0 4h0m0 7h0m0 5h0m0 20h0m0 12h0m0 3h0m0 21h0m0 8h0m0 1h0m0 22h0m0 4h0m0 2h0m0 3h0m0 1h0m0 2h0m1-230h0m0 49h0m0 36h0m0 20h0m0 5h0m0 17h0m0 2h0m0 8h0m0 16h0m0 7h0m0 3h0m0 9h0m0 7h0m0 2h0m0 6h0m0 10h0m0 1h0m0 21h0m0 4h0m0 3h0m0 6h0m0 3h0m1-202h0m0 24h0m0 10h0m0 10h0m0 17h0m0 5h0m0 12h0m0 2h0m0 12h0m0 13h0m0 4h0m0 3h0m0 1h0m0 28h0m0 13h0m0 14h0m1-167h0m0 45h0m0 14h0m0 10h0m0 16h0m0 4h0m0 32h0m0 8h0m0 6h0m0 2h0m0 12h0m0 42h0m0 8h0m1-221h0m0 24h0m0 1h0m0 22h0m0 61h0m0 66h0m0 7h0m0 25h0m0 8h0m0 4h0m0 3h0m1-232h0m0 39h0m0 73h0m0 44h0m0 6h0m0 3h0m0 7h0m0 4h0m0 3h0m0 8h0m0 5h0m0 33h0m1-238h0m0 68h0m0 8h0m0 14h0m0 6h0m0 26h0m0 32h0m0 11h0m0 38h0m0 7h0m0 24h0m0 3h0m0 2h0m0 1h0m0 7h0m1-257h0m0 63h0m0 25h0m0 3h0m0 17h0m0 4h0m0 5h0m0 9h0m0 4h0m0 3h0m0 33h0m0 4h0m0 21h0m0 20h0m0 4h0m0 1h0m0 1h0m0 2h0m0 1h0m0 24h0m1-229h0m0 95h0m0 14h0m0 20h0m0 12h0m0 17h0m0 9h0m0 23h0m0 4h0m0 1h0m0 1h0m0 3h0m0 31h0m0 10h0m0 1h0m1-170h0m0 2h0m0 38h0m0 12h0m0 33h0m0 29h0m0 2h0m0 41h0m0 8h0m0 10h0m1-167h0m0 37h0m0 36h0m0 19h0m0 7h0m0 8h0m0 1h0m0 2h0m0 3h0m0 5h0m0 31h0m1-112h0m0 2h0m0 62h0m0 12h0m0 4h0m0 2h0m0 1h0m0 2h0m0 2h0m0 2h0m0 15h0m0 1h0m0 3h0m0 4h0m0 13h0m1-174h0m0 118h0m0 8h0m0 5h0m0 17h0m0 2h0m0 7h0m0 7h0m0 4h0m1-153h0m0 23h0m0 6h0m0 3h0m0 51h0m0 7h0m0 3h0m0 10h0m0 3h0m0 2h0m0 6h0m0 20h0m0 13h0m0 6h0m0 4h0m1-245h0m0 48h0m0 57h0m0 31h0m0 48h0m0 16h0m0 4h0m0 7h0m0 23h0m1-263h0m0 107h0m0 7h0m0 4h0m0 14h0m0 42h0m0 1h0m0 5h0m0 37h0m0 11h0m0 15h0m0 1h0m0 27h0m1-216h0m0 93h0m0 44h0m0 30h0m0 17h0m0 10h0m0 5h0m0 8h0m0 4h0m0 1h0m0 1h0m0 2h0m0 4h0m1-246h0m0 11h0m0 95h0m0 38h0m0 16h0m0 20h0m0 14h0m0 7h0m0 1h0m0 7h0m0 36h0m1-159h0m0 113h0m0 3h0m0 3h0m0 3h0m0 1h0m0 24h0m0 5h0m0 6h0m0 2h0m0 7h0m1-205h0m0 76h0m0 25h0m0 3h0m0 60h0m0 22h0m0 7h0m0 21h0m1-214h0m0 5h0m0 21h0m0 28h0m0 38h0m0 29h0m0 4h0m0 2h0m0 23h0m0 30h0m0 10h0m0 1h0m0 5h0m0 2h0m0 5h0m1-163h0m0 37h0m0 42h0m0 6h0m0 3h0m0 1h0m0 26h0m0 4h0m0 1h0m0 21h0m0 2h0m0 5h0m0 2h0m1-226h0m0 7h0m0 39h0m0 47h0m0 65h0m0 36h0m0 8h0m0 17h0m0 4h0m0 1h0m0 5h0m0 1h0m1-173h0m0 1h0m0 28h0m0 26h0m0 5h0m0 15h0m0 2h0m0 10h0m0 28h0m0 2h0m0 10h0m0 9h0m0 10h0m0 16h0m0 5h0m0 2h0m0 2h0m0 12h0m0 12h0m1-129h0m0 4h0m0 36h0m0 20h0m0 3h0m0 9h0m0 27h0m0 4h0m0 2h0m0 3h0m0 3h0m1-51h0m0 25h0m0 19h0m0 1h0m0 1h0m1-144h0m0 31h0m0 19h0m0 20h0m0 16h0m0 1h0m0 7h0m0 15h0m0 3h0m0 16h0m0 1h0m0 1h0m0 6h0m0 18h0m1-275h0m0 44h0m0 13h0m0 20h0m0 6h0m0 118h0m0 14h0m0 7h0m0 4h0m0 10h0m0 7h0m0 1h0m0 18h0m0 1h0m0 2h0m0 5h0m1-271h0m0 80h0m0 17h0m0 117h0m0 6h0m0 8h0m0 5h0m0 1h0m0 15h0m0 4h0m0 1h0m0 4h0m0 4h0m0 2h0m0 1h0m0 4h0m0 2h0m0 1h0m1-244h0m0 48h0m0 32h0m0 50h0m0 18h0m0 45h0m0 9h0m0 6h0m0 6h0m0 25h0m1-205h0m0 99h0m0 16h0m0 24h0m0 5h0m0 10h0m0 27h0m0 6h0m0 11h0m0 4h0m0 2h0m0 3h0m1-54h0m0 11h0m0 1h0m0 5h0m0 4h0m0 3h0m0 18h0m0 1h0m0 11h0m0 4h0m0 11h0m1-216h0m0 87h0m0 15h0m0 10h0m0 22h0m0 14h0m0 17h0m0 9h0m0 1h0m0 26h0m0 10h0m0 6h0m1-134h0m0 28h0m0 33h0m0 8h0m0 5h0m0 6h0m0 2h0m0 6h0m0 1h0m0 20h0m0 5h0m0 2h0m0 1h0m1-171h0m0 55h0m0 12h0m0 11h0m0 15h0m0 29h0m0 4h0m0 1h0m0 9h0m0 4h0m0 3h0m0 25h0m0 17h0m1-121h0m0 10h0m0 31h0m0 21h0m0 5h0m0 4h0m0 3h0m0 18h0m0 3h0m0 2h0m0 15h0m1-195h0m0 125h0m0 19h0m0 3h0m0 14h0m0 2h0m0 1h0m0 12h0m0 6h0m0 7h0m1-254h0m0 170h0m0 26h0m0 2h0m0 10h0m0 2h0m0 1h0m0 9h0m0 4h0m0 3h0m0 17h0m0 2h0m0 4h0m1-229h0m0 101h0m0 55h0m0 8h0m0 1h0m0 31h0m0 1h0m0 2h0m0 8h0m0 17h0m0 2h0m0 2h0m1-167h0m0 18h0m0 25h0m0 90h0m0 1h0m0 7h0m0 2h0m0 18h0m0 5h0m0 3h0m0 1h0m0 4h0m0 1h0m0 4h0m1-182h0m0 50h0m0 43h0m0 12h0m0 18h0m0 8h0m0 5h0m0 3h0m0 2h0m0 2h0m0 7h0m0 5h0m0 15h0m0 6h0m0 5h0m0 6h0m1-210h0m0 111h0m0 29h0m0 5h0m0 7h0m0 4h0m0 5h0m0 5h0m0 1h0m0 31h0m0 1h0m0 1h0m0 7h0m1-275h0m0 129h0m0 23h0m0 2h0m0 70h0m0 10h0m0 2h0m0 3h0m0 1h0m0 24h0m0 4h0m0 2h0m0 2h0m1-57h0m0 8h0m0 8h0m0 7h0m0 5h0m0 17h0m0 1h0m0 13h0m0 3h0m1-91h0m0 32h0m0 4h0m0 10h0m0 8h0m0 1h0m0 15h0m0 2h0m0 4h0m0 7h0m0 2h0m1-42h0m0 6h0m0 19h0m0 6h0m0 5h0m0 1h0m0 5h0m1-42h0m0 11h0m0 16h0m0 2h0m0 12h0m0 3h0m1-236h0m0 142h0m0 44h0m0 7h0m0 32h0m0 3h0m1-50h0m0 11h0m0 8h0m0 2h0m0 20h0m0 1h0m0 4h0m0 43h0m1-223h0m0 41h0m0 10h0m0 18h0m0 45h0m0 20h0m0 24h0m0 2h0m0 10h0m0 1h0m0 8h0m0 4h0m1-190h0m0 77h0m0 15h0m0 51h0m0 4h0m0 10h0m0 9h0m0 3h0m0 4h0m0 13h0m0 1h0m1-128h0m0 9h0m0 70h0m0 12h0m0 5h0m0 7h0m0 4h0m0 8h0m0 11h0m0 7h0m0 10h0m0 4h0m1-56h0m0 2h0m0 33h0m0 13h0m0 6h0m1-238h0m0 10h0m0 119h0m0 52h0m0 3h0m0 2h0m0 6h0m0 22h0m0 6h0m0 2h0m0 3h0m0 2h0m0 4h0m0 9h0m1-102h0m0 7h0m0 44h0m0 2h0m0 3h0m0 2h0m0 5h0m0 5h0m0 14h0m0 8h0m1-100h0m0 11h0m0 36h0m0 5h0m0 8h0m0 5h0m0 4h0m0 3h0m0 15h0m0 9h0m0 6h0m1-192h0m0 47h0m0 17h0m0 31h0m0 46h0m0 4h0m0 9h0m0 3h0m0 29h0m0 15h0m1-124h0m0 43h0m0 18h0m0 6h0m0 2h0m0 2h0m0 8h0m0 1h0m0 2h0m0 3h0m0 4h0m0 5h0m0 3h0m0 6h0m0 2h0m0 5h0m0 2h0m1-128h0m0 38h0m0 3h0m0 26h0m0 13h0m0 3h0m0 1h0m0 6h0m0 7h0m0 1h0m0 7h0m0 7h0m0 5h0m0 3h0m0 8h0m0 5h0m0 1h0m1-272h0m0 165h0m0 92h0m0 1h0m0 3h0m0 1h0m1-69h0m0 17h0m0 10h0m0 8h0m0 10h0m0 7h0m0 16h0m0 2h0m0 1h0m1-50h0m0 11h0m0 8h0m0 4h0m0 18h0m0 1h0m0 3h0m0 3h0m0 5h0m0 3h0m0 5h0m1-85h0m0 37h0m0 1h0m0 2h0m0 22h0m0 7h0m0 5h0m0 2h0m0 8h0m0 3h0m0 3h0m1-99h0m0 22h0m0 6h0m0 14h0m0 4h0m0 8h0m0 1h0m0 1h0m0 7h0m0 8h0m0 1h0m0 3h0m0 2h0m0 1h0m0 1h0m0 1h0m1-198h0m0 97h0m0 22h0m0 46h0m0 1h0m0 2h0m0 5h0m0 17h0m0 6h0m0 4h0m0 1h0m0 1h0m1-241h0m0 94h0m0 18h0m0 24h0m0 16h0m0 48h0m0 10h0m0 4h0m0 1h0m0 4h0m0 18h0m0 1h0m0 1h0m0 4h0m1-110h0m0 52h0m0 21h0m0 1h0m0 7h0m0 17h0m0 3h0m0 2h0m0 4h0m1-65h0m0 20h0m0 7h0m0 4h0m0 2h0m0 8h0m0 19h0m0 6h0m0 2h0m0 1h0m0 2h0m0 11h0m1-156h0m0 62h0m0 8h0m0 27h0m0 7h0m0 5h0m0 10h0m0 1h0m0 4h0m0 2h0m0 10h0m0 12h0m1-138h0m0 6h0m0 18h0m0 49h0m0 5h0m0 9h0m0 10h0m0 2h0m0 16h0m0 2h0m0 4h0m0 4h0m0 3h0m0 2h0m1-216h0m0 168h0m0 8h0m0 12h0m0 1h0m0 2h0m0 1h0m0 12h0m0 5h0m0 2h0m1-31h0m0 10h0m0 10h0m0 3h0m0 10h0m0 1h0m0 2h0m1-47h0m0 13h0m0 9h0m0 14h0m0 2h0m0 5h0m0 9h0m0 3h0m0 1h0m1-196h0m0 57h0m0 75h0m0 4h0m0 2h0m0 14h0m0 8h0m0 20h0m0 3h0m0 2h0m0 9h0m1-121h0m0 4h0m0 12h0m0 69h0m0 4h0m0 2h0m0 4h0m0 4h0m0 5h0m0 2h0m0 2h0m1-163h0m0 109h0m0 18h0m0 9h0m0 1h0m0 5h0m0 5h0m0 2h0m0 1h0m0 3h0m0 5h0m0 3h0m0 6h0m1-213h0m0 181h0m0 1h0m0 2h0m0 19h0m0 1h0m0 4h0m0 1h0m1-37h0m0 10h0m0 15h0m0 9h0m0 1h0m0 7h0m1-116h0m0 9h0m0 75h0m0 2h0m0 1h0m0 4h0m0 6h0m0 3h0m0 1h0m0 1h0m0 5h0m0 3h0m1-85h0m0 33h0m0 15h0m0 14h0m0 3h0m0 10h0m0 7h0m0 13h0m0 6h0m1-189h0m0 45h0m0 79h0m0 15h0m0 1h0m0 8h0m0 3h0m0 1h0m0 2h0m0 3h0m0 1h0m0 3h0m0 2h0m0 3h0m0 6h0m0 4h0m0 5h0m0 1h0m1-316h0m0 190h0m0 42h0m0 13h0m0 19h0m0 3h0m0 15h0m0 25h0m0 4h0m0 1h0m0 4h0m0 3h0m0 19h0m0 10h0m1-129h0m0 23h0m0 17h0m0 11h0m0 6h0m0 3h0m0 5h0m0 5h0m0 1h0m0 9h0m0 8h0m0 13h0m1-61h0m0 10h0m0 14h0m0 8h0m0 7h0m0 7h0m0 1h0m0 2h0m0 1h0m0 1h0m0 3h0m1-66h0m0 4h0m0 7h0m0 15h0m0 9h0m0 5h0m0 1h0m0 3h0m0 1h0m0 8h0m0 9h0m0 15h0m1-54h0m0 4h0m0 4h0m0 2h0m0 23h0m0 4h0m0 1h0m0 7h0m1-181h0m0 147h0m0 2h0m0 7h0m0 3h0m0 14h0m0 9h0m1-180h0m0 40h0m0 9h0m0 73h0m0 15h0m0 7h0m0 5h0m0 12h0m0 8h0m0 10h0m1-69h0m0 17h0m0 18h0m0 1h0m0 23h0m0 1h0m0 1h0m1-101h0m0 33h0m0 25h0m0 21h0m0 17h0m0 2h0m0 15h0m1-40h0m0 4h0m0 4h0m0 4h0m0 10h0m0 24h0m1-275h0m0 105h0m0 13h0m0 111h0m0 1h0m0 8h0m0 8h0m0 3h0m1-118h0m0 25h0m0 41h0m0 6h0m0 2h0m0 31h0m0 20h0m0 1h0m0 2h0m0 2h0m0 5h0m0 1h0m1-92h0m0 46h0m0 18h0m0 3h0m0 5h0m0 5h0m0 1h0m1-113h0m0 43h0m0 39h0m0 6h0m0 1h0m0 6h0m0 4h0m0 11h0m0 9h0m0 12h0m0 3h0m1-56h0m0 2h0m0 1h0m0 7h0m0 1h0m0 11h0m0 2h0m0 32h0m0 1h0m1-149h0m0 84h0m0 13h0m0 8h0m0 3h0m0 1h0m0 2h0m0 6h0m0 11h0m0 9h0m0 3h0m0 2h0m0 2h0m0 2h0m1-49h0m0 5h0m0 8h0m0 5h0m0 1h0m0 3h0m0 1h0m0 8h0m0 17h0m1-184h0m0 2h0m0 136h0m0 1h0m0 3h0m0 2h0m0 1h0m0 5h0m0 3h0m0 1h0m0 9h0m0 3h0m1-155h0m0 45h0m0 53h0m0 22h0m0 8h0m0 9h0m0 17h0m0 5h0m0 6h0m0 1h0m0 14h0m1-78h0m0 17h0m0 6h0m0 11h0m0 1h0m0 4h0m0 11h0m0 8h0m0 3h0m0 8h0m1-85h0m0 32h0m0 6h0m0 2h0m0 4h0m0 20h0m0 5h0m0 1h0m0 5h0m0 2h0m0 1h0m1-103h0m0 7h0m0 60h0m0 2h0m0 6h0m0 1h0m0 15h0m0 10h0m0 15h0m1-280h0m0 39h0m0 80h0m0 85h0m0 34h0m0 6h0m0 1h0m0 6h0m0 4h0m0 14h0m1-44h0m0 11h0m0 8h0m0 3h0m0 7h0m0 5h0m0 7h0m1-113h0m0 88h0m0 1h0m0 8h0m0 1h0m0 3h0m0 1h0m1-24h0m0 2h0m0 3h0m0 8h0m0 1h0m0 3h0m0 6h0m0 8h0m0 2h0m0 3h0m1-80h0m0 27h0m0 10h0m0 4h0m0 1h0m0 10h0m0 9h0m0 4h0m1-276h0m0 123h0m0 67h0m0 44h0m0 22h0m0 3h0m0 4h0m0 3h0m0 4h0m0 8h0m0 7h0m0 2h0m0 1h0m0 1h0m0 2h0m0 14h0m1-81h0m0 19h0m0 7h0m0 2h0m0 14h0m0 1h0m0 1h0m0 8h0m0 2h0m1-222h0m0 42h0m0 30h0m0 39h0m0 21h0m0 33h0m0 4h0m0 41h0m0 2h0m0 1h0m0 9h0m0 7h0m0 2h0m0 1h0m0 1h0m0 3h0m1-247h0m0 82h0m0 65h0m0 42h0m0 7h0m0 13h0m0 8h0m0 5h0m0 5h0m0 1h0m0 2h0m0 6h0m0 3h0m1-28h0m0 2h0m0 26h0m0 3h0m0 2h0m1-200h0m0 114h0m0 35h0m0 9h0m0 5h0m0 20h0m0 2h0m0 1h0m0 2h0m0 8h0m0 9h0m0 18h0m1-122h0m0 32h0m0 28h0m0 3h0m0 2h0m0 6h0m0 14h0m0 2h0m0 6h0m0 5h0m0 2h0m0 1h0m0 2h0m1-101h0m0 47h0m0 4h0m0 4h0m0 16h0m0 4h0m0 6h0m0 1h0m0 1h0m0 3h0m0 2h0m0 1h0m0 2h0m0 6h0m0 1h0m0 5h0m1-110h0m0 70h0m0 2h0m0 2h0m0 7h0m0 2h0m0 3h0m0 5h0m0 6h0m0 13h0m0 7h0m1-88h0m0 41h0m0 11h0m0 1h0m0 12h0m0 7h0m0 4h0m1-38h0m0 8h0m0 5h0m0 8h0m0 6h0m0 7h0m0 4h0m1-54h0m0 16h0m0 4h0m0 9h0m0 5h0m0 1h0m0 1h0m0 16h0m0 1h0m0 2h0m1-218h0m0 93h0m0 91h0m0 17h0m0 1h0m0 23h0m1-204h0m0 128h0m0 31h0m0 4h0m0 4h0m0 1h0m0 7h0m0 10h0m0 1h0m0 7h0m0 6h0m0 3h0m1-166h0m0 66h0m0 56h0m0 9h0m0 7h0m0 2h0m0 15h0m0 5h0m1-203h0m0 140h0m0 28h0m0 1h0m0 17h0m0 2h0m0 5h0m0 2h0m0 6h0m0 1h0m0 2h0m1-106h0m0 23h0m0 12h0m0 29h0m0 12h0m0 13h0m0 5h0m0 4h0m0 3h0m0 6h0m0 6h0m1-151h0m0 101h0m0 10h0m0 3h0m0 7h0m0 4h0m0 13h0m0 2h0m0 9h0m1-57h0m0 49h0m1-169h0m0 38h0m0 1h0m0 52h0m0 9h0m0 40h0m0 7h0m0 2h0m0 3h0m0 10h0m0 9h0m0 1h0m0 4h0m1-220h0m0 185h0m0 5h0m0 7h0m0 5h0m0 8h0m0 1h0m0 1h0m1-102h0m0 39h0m0 3h0m0 18h0m0 5h0m0 7h0m0 1h0m0 3h0m0 7h0m0 2h0m0 6h0m0 6h0m0 5h0m0 2h0m0 1h0m1-107h0m0 65h0m0 12h0m0 12h0m0 3h0m0 2h0m0 3h0m0 10h0m0 3h0m0 7h0m1-279h0m0 224h0m0 15h0m0 1h0m0 4h0m0 5h0m0 6h0m0 10h0m0 1h0m0 7h0m1-40h0m0 1h0m0 1h0m0 25h0m0 1h0m0 11h0m0 4h0m1-115h0m0 62h0m0 15h0m0 9h0m0 14h0m0 1h0m0 10h0m1-118h0m0 65h0m0 8h0m0 4h0m0 7h0m0 1h0m0 1h0m0 1h0m0 23h0m0 4h0m0 2h0m0 8h0m0 7h0m1-141h0m0 77h0m0 27h0m0 7h0m0 6h0m0 2h0m0 1h0m0 9h0m1-64h0m0 27h0m0 6h0m0 3h0m0 1h0m0 8h0m0 3h0m0 20h0m1-19h0m0 6h0m0 6h0m1-155h0m0 24h0m0 78h0m0 2h0m0 26h0m0 11h0m0 1h0m0 4h0m0 3h0m0 11h0m1-120h0m0 80h0m0 2h0m0 6h0m0 7h0m0 12h0m0 3h0m0 2h0m0 2h0m1-146h0m0 6h0m0 22h0m0 19h0m0 55h0m0 8h0m0 10h0m0 3h0m0 1h0m0 16h0m0 4h0m0 12h0m1-43h0m0 1h0m0 7h0m0 1h0m0 17h0m0 2h0m0 3h0m0 2h0m0 5h0m1-38h0m0 8h0m0 15h0m0 5h0m0 10h0m1-175h0m0 46h0m0 82h0m0 14h0m0 1h0m0 5h0m0 2h0m0 2h0m0 3h0m0 3h0m0 6h0m0 3h0m0 1h0m0 3h0m0 9h0m1-136h0m0 2h0m0 58h0m0 38h0m0 2h0m0 9h0m0 10h0m0 1h0m0 5h0m0 5h0m0 5h0m1-321h0m0 275h0m0 6h0m0 3h0m0 3h0m0 5h0m0 4h0m0 8h0m0 2h0m0 1h0m0 3h0m0 5h0m1-187h0m0 122h0m0 29h0m0 4h0m0 7h0m0 4h0m0 3h0m0 18h0m1-47h0m0 6h0m0 14h0m0 13h0m1-101h0m0 44h0m0 16h0m0 17h0m0 2h0m0 4h0m0 3h0m0 3h0m0 1h0m0 1h0m0 12h0m0 2h0m0 10h0m0 4h0m0 33h0m1-75h0m0 3h0m0 3h0m0 7h0m0 5h0m0 1h0m0 5h0m0 10h0m0 3h0m1-75h0m0 34h0m0 2h0m0 1h0m0 8h0m0 2h0m0 19h0m0 1h0m0 8h0m0 3h0m0 15h0m1-142h0m0 15h0m0 68h0m0 11h0m0 13h0m0 11h0m0 5h0m0 17h0m1-60h0m0 8h0m0 13h0m0 3h0m0 1h0m0 4h0m0 2h0m0 5h0m0 5h0m1-60h0m0 33h0m0 4h0m0 10h0m0 2h0m0 9h0m0 19h0m1-71h0m0 20h0m0 3h0m0 10h0m0 2h0m0 10h0m0 1h0m0 2h0m0 1h0m0 7h0m0 7h0m1-60h0m0 17h0m0 1h0m0 7h0m0 2h0m0 3h0m0 7h0m0 11h0m0 3h0m0 7h0m0 6h0m1-260h0m0 125h0m0 42h0m0 33h0m0 11h0m0 8h0m0 4h0m0 9h0m0 6h0m0 3h0m1-157h0m0 31h0m0 84h0m0 55h0m1-165h0m0 70h0m0 1h0m0 15h0m0 29h0m0 9h0m0 3h0m0 1h0m0 16h0m0 9h0m0 2h0m0 4h0m0 7h0m1-66h0m0 35h0m0 22h0m0 1h0m0 3h0m0 10h0m1-44h0m0 5h0m0 1h0m0 8h0m0 9h0m0 2h0m0 8h0m0 3h0m0 5h0m0 9h0m0 8h0m1-63h0m0 1h0m0 3h0m0 10h0m0 1h0m0 3h0m0 5h0m0 2h0m0 4h0m0 5h0m1-32h0m0 2h0m0 3h0m0 2h0m0 17h0m0 5h0m0 5h0m0 5h0m0 1h0m1-68h0m0 8h0m0 26h0m0 3h0m0 7h0m0 6h0m0 2h0m0 4h0m0 3h0m0 7h0m1-59h0m0 20h0m0 1h0m0 10h0m0 11h0m0 3h0m1-79h0m0 23h0m0 27h0m0 2h0m0 11h0m0 3h0m0 2h0m0 2h0m0 2h0m0 1h0m0 9h0m0 8h0m0 4h0m1-81h0m0 49h0m0 14h0m0 14h0m1-326h0m0 165h0m0 111h0m0 10h0m0 3h0m0 9h0m0 3h0m0 3h0m0 3h0m0 9h0m0 1h0m0 2h0m0 2h0m0 3h0m0 1h0m0 2h0m0 1h0m1-181h0m0 119h0m0 24h0m0 10h0m0 2h0m0 7h0m0 2h0m0 2h0m0 5h0m0 4h0m0 7h0m1-182h0m0 20h0m0 120h0m0 7h0m0 3h0m0 1h0m0 1h0m0 2h0m0 3h0m0 3h0m0 3h0m0 2h0m0 7h0m0 1h0m0 6h0m0 6h0m1-85h0m0 44h0m0 12h0m0 3h0m0 7h0m0 1h0m0 6h0m1-38h0m0 37h0m0 6h0m0 4h0m1-136h0m0 95h0m0 8h0m0 5h0m0 12h0m0 9h0m0 2h0m0 4h0m1-46h0m0 6h0m0 1h0m0 2h0m0 8h0m0 2h0m0 5h0m0 26h0m1-128h0m0 26h0m0 57h0m0 7h0m0 5h0m0 1h0m0 2h0m0 11h0m0 1h0m0 5h0m0 2h0m0 2h0m0 9h0m1-42h0m0 7h0m0 13h0m0 13h0m1-151h0m0 17h0m0 6h0m0 105h0m0 19h0m0 2h0m1-192h0m0 27h0m0 120h0m0 10h0m0 5h0m0 7h0m0 4h0m0 4h0m0 1h0m0 11h0m0 6h0m0 2h0m0 6h0m0 1h0m1-173h0m0 11h0m0 45h0m0 76h0m0 4h0m0 1h0m0 4h0m0 7h0m0 11h0m0 2h0m0 6h0m1-32h0m0 1h0m0 2h0m0 1h0m0 14h0m0 13h0m0 17h0m1-75h0m0 6h0m0 24h0m0 4h0m0 4h0m0 6h0m0 6h0m0 10h0m1-182h0m0 82h0m0 65h0m0 2h0m0 4h0m0 3h0m0 2h0m0 1h0m0 1h0m0 1h0m0 6h0m0 2h0m0 4h0m0 10h0m1-61h0m0 15h0m0 8h0m0 20h0m0 7h0m0 4h0m0 3h0m0 8h0m1-226h0m0 187h0m0 2h0m0 9h0m0 1h0m0 5h0m0 2h0m0 6h0m0 7h0m1-226h0m0 109h0m0 33h0m0 45h0m0 3h0m0 5h0m0 8h0m0 1h0m0 4h0m0 1h0m0 9h0m0 6h0m0 5h0m0 13h0m1-283h0m0 164h0m0 63h0m0 6h0m0 13h0m0 5h0m0 2h0m0 1h0m0 6h0m0 2h0m0 4h0m0 3h0m0 2h0m0 1h0m1-140h0m0 103h0m0 10h0m0 9h0m0 5h0m0 2h0m0 7h0m1-147h0m0 108h0m0 3h0m0 7h0m0 5h0m0 7h0m0 1h0m0 1h0m0 1h0m0 8h0m0 3h0m1-38h0m0 1h0m0 3h0m0 6h0m0 9h0m0 1h0m0 1h0m0 17h0m0 1h0m0 5h0m0 2h0m1-97h0m0 53h0m0 10h0m0 4h0m0 1h0m0 10h0m0 1h0m0 1h0m0 4h0m0 1h0m0 10h0m0 10h0m1-91h0m0 46h0m0 12h0m0 6h0m0 8h0m0 2h0m0 20h0m1-91h0m0 18h0m0 27h0m0 5h0m0 14h0m0 1h0m0 2h0m0 5h0m1-261h0m0 125h0m0 43h0m0 66h0m0 11h0m0 7h0m0 10h0m0 8h0m1-63h0m0 22h0m0 1h0m0 5h0m0 14h0m0 2h0m0 2h0m0 5h0m0 2h0m0 6h0m1-32h0m0 8h0m0 2h0m0 1h0m0 1h0m0 11h0m0 2h0m0 4h0m0 3h0m0 7h0m1-238h0m0 77h0m0 44h0m0 72h0m0 5h0m0 2h0m0 2h0m0 2h0m0 4h0m0 1h0m0 2h0m0 1h0m0 1h0m0 5h0m0 1h0m1-63h0m0 38h0m0 4h0m0 7h0m0 2h0m0 2h0m0 4h0m0 16h0m0 2h0m1-37h0m0 12h0m0 5h0m0 2h0m0 2h0m0 3h0m0 8h0m0 6h0m1-41h0m0 3h0m0 3h0m0 4h0m0 1h0m0 2h0m0 1h0m0 2h0m0 5h0m0 2h0m0 3h0m0 4h0m0 2h0m0 2h0m0 7h0m1-287h0m0 149h0m0 88h0m0 10h0m0 8h0m0 17h0m0 3h0m0 11h0m0 1h0m1-176h0m0 132h0m0 9h0m0 7h0m0 21h0m0 6h0m0 1h0m0 2h0m1-29h0m0 6h0m0 3h0m0 2h0m0 4h0m0 4h0m1-23h0m0 2h0m0 4h0m0 2h0m0 11h0m0 4h0m0 2h0m1-38h0m0 2h0m0 12h0m0 5h0m0 2h0m0 1h0m0 1h0m0 4h0m0 5h0m0 25h0m1-52h0m0 21h0m0 1h0m0 3h0m0 3h0m0 4h0m0 5h0m0 5h0m1-100h0m0 83h0m0 13h0m1-37h0m0 6h0m0 16h0m0 7h0m0 2h0m0 1h0m1-49h0m0 14h0m0 9h0m0 3h0m0 4h0m0 4h0m0 9h0m0 2h0m0 2h0m0 1h0m0 11h0m1-39h0m0 6h0m0 14h0m0 1h0m0 3h0m0 8h0m0 4h0m1-34h0m0 4h0m0 6h0m0 8h0m0 5h0m0 3h0m0 2h0m0 2h0m0 4h0m1-296h0m0 48h0m0 211h0m0 4h0m0 8h0m0 10h0m0 3h0m0 19h0m1-62h0m0 14h0m0 4h0m0 6h0m0 11h0m0 5h0m0 12h0m0 7h0m1-46h0m0 4h0m0 7h0m0 3h0m0 6h0m0 4h0m0 2h0m0 6h0m0 6h0m1-27h0m0 1h0m0 2h0m0 11h0m0 7h0m0 5h0m0 22h0m1-53h0m0 2h0m0 2h0m0 2h0m0 1h0m0 6h0m0 7h0m0 4h0m0 10h0m1-114h0m0 20h0m0 20h0m0 30h0m0 4h0m0 8h0m0 2h0m0 4h0m0 7h0m0 12h0m1-84h0m0 57h0m0 2h0m0 3h0m0 5h0m0 8h0m0 2h0m0 6h0m0 9h0m0 8h0m0 4h0m1-194h0m0 151h0m0 1h0m0 6h0m0 15h0m0 5h0m0 3h0m0 1h0m1-67h0m0 35h0m0 16h0m0 4h0m0 4h0m0 8h0m1-122h0m0 39h0m0 3h0m0 39h0m0 10h0m0 2h0m0 2h0m0 24h0m0 1h0m1-112h0m0 21h0m0 63h0m0 9h0m0 6h0m0 4h0m0 4h0m0 12h0m1-199h0m0 165h0m0 2h0m0 2h0m0 1h0m0 2h0m1-113h0m0 103h0m0 3h0m0 1h0m0 2h0m0 12h0m0 5h0m1-32h0m0 9h0m0 1h0m1-104h0m0 47h0m0 29h0m0 28h0m0 1h0m0 14h0m0 2h0m0 1h0m0 8h0m0 3h0m0 19h0m1-214h0m0 140h0m0 38h0m0 1h0m0 6h0m0 2h0m0 3h0m1-145h0m0 43h0m0 5h0m0 60h0m0 21h0m0 2h0m0 8h0m0 7h0m1-34h0m0 10h0m0 3h0m0 2h0m0 4h0m0 8h0m0 1h0m0 3h0m1-29h0m0 12h0m0 5h0m0 6h0m0 7h0m0 13h0m1-42h0m0 3h0m0 14h0m0 7h0m0 2h0m0 4h0m0 2h0m1-67h0m0 39h0m0 12h0m0 1h0m0 6h0m0 4h0m1-154h0m0 60h0m0 19h0m0 52h0m0 11h0m0 6h0m0 2h0m0 1h0m0 5h0m0 2h0m0 3h0m1-42h0m0 10h0m0 3h0m0 15h0m0 3h0m0 6h0m0 3h0m1-27h0m0 1h0m0 2h0m0 11h0m0 4h0m0 3h0m0 2h0m0 1h0m0 10h0m1-73h0m0 27h0m0 12h0m0 6h0m0 2h0m0 2h0m0 1h0m0 1h0m1-21h0m0 10h0m0 2h0m0 9h0m0 7h0m0 3h0m0 3h0m0 4h0m1-173h0m0 122h0m0 27h0m0 17h0m0 4h0m0 5h0m1-34h0m0 4h0m0 1h0m0 6h0m0 1h0m0 4h0m0 6h0m0 5h0m0 5h0m0 5h0m0 9h0m1-134h0m0 31h0m0 55h0m0 1h0m0 3h0m0 2h0m0 21h0m0 4h0m0 1h0m0 4h0m1-26h0m0 5h0m0 2h0m0 5h0m0 26h0m1-33h0m0 1h0m0 1h0m0 2h0m0 7h0m1-64h0m0 11h0m0 31h0m0 14h0m0 5h0m0 5h0m0 1h0m1-23h0m0 7h0m0 2h0m0 6h0m0 5h0m0 5h0m1-18h0m0 3h0m0 3h0m0 8h0m0 4h0m0 3h0m0 3h0m1-44h0m0 14h0m0 1h0m0 4h0m0 2h0m0 5h0m0 5h0m0 1h0m0 1h0m0 1h0m0 9h0m1-128h0m0 89h0m0 4h0m0 15h0m0 13h0m1-129h0m0 89h0m0 5h0m0 30h0m0 12h0m1-284h0m0 2h0m0 5h0m0 5h0m0 2h0m0 2h0m0 2h0m0 7h0m0 3h0m0 3h0m0 10h0m0 1h0m0 12h0m0 5h0m0 3h0m0 10h0m0 1h0m0 7h0m0 4h0m0 5h0m0 3h0m0 10h0m0 4h0m0 4h0m0 15h0m0 2h0m0 3h0m0 5h0m0 1h0m0 3h0m0 3h0m0 17h0m0 5h0m0 4h0m0 2h0m0 10h0m0 1h0m0 23h0m0 10h0m0 9h0m0 8h0m0 60h0m0 2h0m0 2h0m0 5h0m0 5h0m0 3h0m0 3h0m0 4h0m1-314h0m0 6h0m0 7h0m0 2h0m0 5h0m0 1h0m0 7h0m0 2h0m0 2h0m0 3h0m0 10h0m0 6h0m0 15h0m0 6h0m0 1h0m0 2h0m0 1h0m0 2h0m0 3h0m0 1h0m0 2h0m0 1h0m0 17h0m0 25h0m0 4h0m0 1h0m0 5h0m0 6h0m0 14h0m0 3h0m0 4h0m0 11h0m0 2h0m0 3h0m0 4h0m0 3h0m0 5h0m0 5h0m0 1h0m0 2h0m0 7h0m0 1h0m0 1h0m0 3h0m0 3h0m0 4h0m0 5h0m0 7h0m0 1h0m0 61h0m0 5h0m0 6h0m0 3h0m0 4h0" stroke="#8a8a8a" stroke-width="1.9" stroke-linecap="round" fill="none"/><line x1="1040.6" y1="876.9" x2="1667.6" y2="891.8" stroke="#3f80c0" stroke-width="5" stroke-linecap="round"/><rect x="1010.6" y="548.7" width="690.2" height="448.1" fill="none" stroke="#111" stroke-width="3"/><line x1="1074.2" y1="998.3" x2="1074.2" y2="1006.3" stroke="#111" stroke-width="2.6" /><text x="1074.2" y="1027" font-size="17.2" text-anchor="middle">−2</text><line x1="1186.1" y1="998.3" x2="1186.1" y2="1006.3" stroke="#111" stroke-width="2.6" /><text x="1186.1" y="1027" font-size="17.2" text-anchor="middle">−1</text><line x1="1298.1" y1="998.3" x2="1298.1" y2="1006.3" stroke="#111" stroke-width="2.6" /><text x="1298.1" y="1027" font-size="17.2" text-anchor="middle">0</text><line x1="1410.1" y1="998.3" x2="1410.1" y2="1006.3" stroke="#111" stroke-width="2.6" /><text x="1410.1" y="1027" font-size="17.2" text-anchor="middle">1</text><line x1="1522" y1="998.3" x2="1522" y2="1006.3" stroke="#111" stroke-width="2.6" /><text x="1522" y="1027" font-size="17.2" text-anchor="middle">2</text><line x1="1634" y1="998.3" x2="1634" y2="1006.3" stroke="#111" stroke-width="2.6" /><text x="1634" y="1027" font-size="17.2" text-anchor="middle">3</text><line x1="1001.1" y1="968.8" x2="1009.1" y2="968.8" stroke="#111" stroke-width="2.6" /><text x="994.1" y="975" font-size="17.2" text-anchor="end">−2</text><line x1="1001.1" y1="883.3" x2="1009.1" y2="883.3" stroke="#111" stroke-width="2.6" /><text x="994.1" y="889.5" font-size="17.2" text-anchor="end">0</text><line x1="1001.1" y1="797.8" x2="1009.1" y2="797.8" stroke="#111" stroke-width="2.6" /><text x="994.1" y="804" font-size="17.2" text-anchor="end">2</text><line x1="1001.1" y1="712.3" x2="1009.1" y2="712.3" stroke="#111" stroke-width="2.6" /><text x="994.1" y="718.5" font-size="17.2" text-anchor="end">4</text><line x1="1001.1" y1="626.8" x2="1009.1" y2="626.8" stroke="#111" stroke-width="2.6" /><text x="994.1" y="633" font-size="17.2" text-anchor="end">6</text><text x="1355.7" y="1054" font-size="19.4" text-anchor="middle">mCherry Score</text><text x="960" y="772.8" font-size="19.4" transform="rotate(-90 960 772.8)" text-anchor="middle">PADI Score</text><text x="1.5" y="1106" font-size="25" font-weight="bold">d</text><path d="M144 1362h0m0 58h0m0 10h0m0 3h0m0 2h0m0 2h0m0 2h0m0 3h0m0 1h0m0 2h0m0 2h0m0 1h0m0 4h0m0 3h0m0 1h0m0 5h0m0 4h0m0 3h0m0 2h0m0 2h0m0 3h0m0 1h0m0 3h0m0 1h0m0 1h0m0 6h0m0 3h0m0 3h0m0 2h0m0 7h0m0 11h0m0 2h0m0 1h0m0 1h0m0 1h0m0 2h0m0 7h0m0 2h0m0 6h0m0 3h0m0 2h0m0 20h0m0 2h0m0 5h0m1-165h0m0 17h0m0 1h0m0 6h0m0 1h0m0 2h0m0 1h0m0 6h0m0 1h0m0 2h0m0 6h0m0 1h0m0 2h0m0 5h0m0 6h0m0 1h0m0 4h0m0 1h0m0 1h0m0 1h0m0 3h0m0 4h0m0 2h0m0 2h0m0 2h0m0 4h0m0 1h0m0 7h0m0 2h0m0 1h0m0 3h0m0 1h0m0 3h0m0 1h0m0 4h0m0 1h0m0 1h0m0 1h0m0 4h0m0 2h0m0 1h0m0 1h0m0 2h0m0 2h0m0 3h0m0 3h0m0 8h0m0 6h0m0 6h0m0 13h0m1-163h0m0 6h0m0 13h0m0 6h0m0 2h0m0 16h0m0 9h0m0 2h0m0 4h0m0 2h0m0 3h0m0 2h0m0 10h0m0 2h0m0 2h0m0 2h0m0 4h0m0 3h0m0 2h0m0 1h0m0 3h0m0 1h0m0 1h0m0 9h0m0 5h0m0 3h0m0 1h0m0 1h0m0 1h0m0 3h0m0 1h0m0 1h0m0 4h0m0 2h0m0 2h0m0 2h0m0 2h0m0 11h0m0 9h0m0 1h0m0 13h0m0 2h0m1-246h0m0 77h0m0 7h0m0 29h0m0 3h0m0 10h0m0 3h0m0 8h0m0 3h0m0 4h0m0 7h0m0 13h0m0 7h0m0 1h0m0 30h0m0 27h0m1-138h0m0 27h0m0 7h0m0 8h0m0 8h0m0 1h0m0 13h0m0 2h0m0 2h0m0 3h0m0 3h0m0 7h0m0 3h0m0 5h0m0 2h0m0 4h0m0 3h0m0 1h0m0 1h0m1-92h0m0 18h0m0 2h0m0 8h0m0 5h0m0 14h0m0 20h0m0 2h0m0 3h0m0 5h0m0 3h0m0 4h0m0 2h0m0 13h0m0 1h0m0 5h0m0 5h0m0 2h0m0 6h0m0 5h0m1-109h0m0 8h0m0 2h0m0 2h0m0 15h0m0 8h0m0 9h0m0 8h0m0 3h0m0 8h0m0 11h0m0 4h0m0 3h0m0 4h0m0 11h0m0 16h0m0 4h0m0 20h0m1-147h0m0 21h0m0 1h0m0 3h0m0 2h0m0 9h0m0 6h0m0 5h0m0 1h0m0 1h0m0 2h0m0 4h0m0 7h0m0 8h0m0 8h0m0 1h0m0 1h0m0 1h0m0 14h0m0 34h0m1-126h0m0 7h0m0 2h0m0 3h0m0 14h0m0 7h0m0 6h0m0 5h0m0 4h0m0 16h0m0 7h0m0 3h0m0 12h0m0 9h0m0 1h0m0 8h0m0 1h0m0 4h0m0 7h0m0 8h0m0 4h0m0 18h0m1-123h0m0 14h0m0 2h0m0 12h0m0 3h0m0 2h0m0 3h0m0 6h0m0 7h0m0 1h0m0 3h0m0 1h0m0 16h0m0 11h0m0 17h0m0 17h0m1-132h0m0 7h0m0 2h0m0 9h0m0 6h0m0 1h0m0 8h0m0 11h0m0 1h0m0 7h0m0 3h0m0 4h0m0 1h0m0 21h0m0 2h0m0 5h0m0 4h0m0 8h0m0 3h0m0 1h0m0 4h0m0 7h0m1-119h0m0 6h0m0 3h0m0 4h0m0 1h0m0 2h0m0 3h0m0 4h0m0 1h0m0 5h0m0 12h0m0 2h0m0 2h0m0 2h0m0 25h0m0 12h0m0 7h0m0 3h0m1-100h0m0 36h0m0 1h0m0 5h0m0 4h0m0 10h0m0 3h0m0 2h0m0 1h0m0 9h0m0 7h0m0 6h0m0 1h0m0 3h0m0 9h0m0 2h0m0 6h0m0 7h0m1-90h0m0 1h0m0 2h0m0 4h0m0 11h0m0 3h0m0 7h0m0 7h0m0 1h0m0 2h0m0 2h0m0 4h0m0 1h0m0 2h0m0 12h0m0 1h0m0 2h0m0 9h0m0 2h0m0 1h0m0 13h0m0 1h0m1-154h0m0 55h0m0 3h0m0 4h0m0 15h0m0 7h0m0 7h0m0 1h0m0 2h0m0 5h0m0 1h0m0 2h0m0 2h0m0 1h0m0 1h0m0 4h0m0 1h0m0 2h0m0 3h0m0 1h0m0 5h0m0 5h0m0 4h0m0 9h0m0 4h0m0 10h0m0 26h0m0 17h0m1-143h0m0 3h0m0 7h0m0 2h0m0 8h0m0 24h0m0 2h0m0 1h0m0 3h0m0 8h0m0 9h0m0 3h0m0 2h0m0 1h0m0 2h0m0 16h0m0 1h0m0 6h0m0 2h0m0 2h0m0 3h0m0 4h0m0 1h0m1-121h0m0 2h0m0 18h0m0 1h0m0 11h0m0 5h0m0 2h0m0 7h0m0 2h0m0 2h0m0 1h0m0 7h0m0 4h0m0 4h0m0 1h0m0 7h0m0 8h0m0 1h0m0 1h0m0 9h0m0 4h0m0 8h0m0 12h0m0 8h0m0 4h0m0 23h0m1-149h0m0 11h0m0 1h0m0 2h0m0 9h0m0 1h0m0 6h0m0 8h0m0 4h0m0 2h0m0 1h0m0 2h0m0 6h0m0 1h0m0 1h0m0 4h0m0 2h0m0 3h0m0 4h0m0 2h0m0 11h0m0 3h0m0 5h0m0 7h0m0 29h0m0 9h0m0 12h0m1-156h0m0 6h0m0 19h0m0 1h0m0 2h0m0 4h0m0 2h0m0 11h0m0 3h0m0 4h0m0 3h0m0 1h0m0 6h0m0 3h0m0 5h0m0 4h0m0 6h0m0 5h0m0 3h0m0 1h0m0 3h0m0 2h0m0 2h0m0 5h0m0 11h0m0 3h0m0 10h0m0 1h0m0 24h0m1-151h0m0 14h0m0 6h0m0 2h0m0 2h0m0 3h0m0 4h0m0 2h0m0 5h0m0 7h0m0 2h0m0 2h0m0 1h0m0 3h0m0 3h0m0 3h0m0 4h0m0 1h0m0 2h0m0 2h0m0 5h0m0 2h0m0 1h0m0 6h0m0 12h0m0 4h0m0 6h0m0 14h0m0 6h0m0 3h0m0 4h0m0 2h0m0 7h0m1-216h0m0 79h0m0 17h0m0 7h0m0 6h0m0 9h0m0 1h0m0 1h0m0 12h0m0 2h0m0 1h0m0 3h0m0 2h0m0 13h0m0 2h0m0 1h0m0 3h0m0 2h0m0 2h0m0 5h0m0 1h0m0 7h0m0 1h0m0 5h0m0 41h0m0 13h0m1-195h0m0 21h0m0 30h0m0 8h0m0 4h0m0 6h0m0 2h0m0 1h0m0 1h0m0 2h0m0 3h0m0 2h0m0 1h0m0 5h0m0 2h0m0 3h0m0 4h0m0 5h0m0 3h0m0 6h0m0 1h0m0 2h0m0 9h0m0 1h0m0 5h0m0 4h0m0 3h0m0 7h0m0 14h0m1-136h0m0 11h0m0 17h0m0 2h0m0 6h0m0 18h0m0 6h0m0 8h0m0 3h0m0 1h0m0 14h0m0 6h0m0 2h0m0 2h0m0 4h0m0 3h0m0 10h0m0 6h0m0 2h0m0 7h0m0 1h0m0 18h0m0 1h0m0 1h0m1-193h0m0 72h0m0 5h0m0 6h0m0 2h0m0 4h0m0 6h0m0 1h0m0 1h0m0 1h0m0 4h0m0 3h0m0 6h0m0 2h0m0 3h0m0 1h0m0 1h0m0 2h0m0 3h0m0 4h0m0 3h0m0 4h0m0 5h0m0 1h0m0 5h0m0 1h0m0 3h0m0 3h0m0 4h0m0 3h0m0 2h0m0 2h0m0 3h0m0 4h0m0 14h0m0 2h0m0 7h0m0 10h0m1-135h0m0 18h0m0 7h0m0 3h0m0 3h0m0 2h0m0 6h0m0 3h0m0 2h0m0 1h0m0 2h0m0 4h0m0 1h0m0 5h0m0 3h0m0 12h0m0 2h0m0 4h0m0 6h0m0 5h0m0 2h0m0 5h0m0 1h0m0 5h0m0 1h0m0 1h0m0 5h0m0 3h0m0 5h0m0 9h0m0 9h0m1-222h0m0 68h0m0 13h0m0 11h0m0 8h0m0 6h0m0 1h0m0 3h0m0 3h0m0 2h0m0 1h0m0 4h0m0 2h0m0 4h0m0 3h0m0 2h0m0 2h0m0 3h0m0 8h0m0 2h0m0 1h0m0 2h0m0 1h0m0 1h0m0 2h0m0 10h0m0 4h0m0 1h0m0 1h0m0 3h0m0 3h0m0 1h0m0 19h0m0 9h0m1-117h0m0 6h0m0 3h0m0 6h0m0 3h0m0 5h0m0 1h0m0 6h0m0 3h0m0 1h0m0 2h0m0 3h0m0 6h0m0 1h0m0 1h0m0 3h0m0 4h0m0 1h0m0 1h0m0 3h0m0 2h0m0 1h0m0 3h0m0 3h0m0 4h0m0 3h0m0 6h0m0 7h0m0 2h0m0 1h0m0 8h0m0 19h0m0 2h0m0 24h0m1-197h0m0 38h0m0 6h0m0 3h0m0 3h0m0 4h0m0 10h0m0 4h0m0 2h0m0 11h0m0 3h0m0 3h0m0 6h0m0 2h0m0 1h0m0 2h0m0 3h0m0 1h0m0 5h0m0 3h0m0 2h0m0 3h0m0 5h0m0 6h0m0 1h0m0 2h0m0 17h0m0 8h0m0 6h0m0 10h0m0 1h0m0 2h0m0 16h0m0 13h0m1-214h0m0 53h0m0 7h0m0 6h0m0 2h0m0 3h0m0 9h0m0 9h0m0 6h0m0 6h0m0 5h0m0 4h0m0 2h0m0 4h0m0 1h0m0 1h0m0 6h0m0 2h0m0 3h0m0 1h0m0 4h0m0 2h0m0 2h0m0 4h0m0 1h0m0 2h0m0 14h0m0 2h0m0 7h0m0 5h0m0 4h0m0 2h0m0 19h0m0 5h0m1-146h0m0 7h0m0 1h0m0 5h0m0 4h0m0 3h0m0 7h0m0 6h0m0 6h0m0 2h0m0 2h0m0 2h0m0 1h0m0 2h0m0 2h0m0 6h0m0 1h0m0 1h0m0 6h0m0 4h0m0 1h0m0 2h0m0 3h0m0 2h0m0 5h0m0 1h0m0 1h0m0 4h0m0 2h0m0 2h0m0 1h0m0 1h0m0 3h0m0 1h0m0 4h0m0 2h0m0 1h0m0 1h0m0 2h0m0 5h0m0 2h0m0 13h0m0 2h0m1-150h0m0 21h0m0 21h0m0 5h0m0 3h0m0 1h0m0 2h0m0 6h0m0 2h0m0 1h0m0 4h0m0 1h0m0 1h0m0 1h0m0 3h0m0 2h0m0 1h0m0 1h0m0 6h0m0 1h0m0 1h0m0 2h0m0 4h0m0 4h0m0 5h0m0 1h0m0 9h0m0 1h0m0 11h0m0 3h0m0 4h0m0 6h0m0 4h0m0 2h0m0 3h0m1-170h0m0 32h0m0 6h0m0 8h0m0 12h0m0 1h0m0 6h0m0 6h0m0 5h0m0 3h0m0 1h0m0 2h0m0 5h0m0 3h0m0 2h0m0 1h0m0 4h0m0 1h0m0 1h0m0 1h0m0 3h0m0 3h0m0 1h0m0 2h0m0 1h0m0 1h0m0 1h0m0 1h0m0 1h0m0 2h0m0 5h0m0 11h0m0 1h0m0 2h0m0 7h0m0 2h0m0 2h0m0 3h0m0 2h0m0 1h0m0 2h0m0 4h0m0 14h0m0 6h0m0 9h0m0 8h0m1-199h0m0 31h0m0 9h0m0 9h0m0 4h0m0 8h0m0 1h0m0 7h0m0 4h0m0 2h0m0 3h0m0 1h0m0 9h0m0 3h0m0 4h0m0 6h0m0 2h0m0 3h0m0 1h0m0 5h0m0 1h0m0 5h0m0 1h0m0 1h0m0 1h0m0 2h0m0 1h0m0 2h0m0 6h0m0 4h0m0 2h0m0 1h0m0 1h0m0 2h0m0 1h0m0 12h0m0 4h0m0 7h0m0 1h0m0 1h0m0 12h0m0 11h0m0 14h0m0 5h0m1-201h0m0 48h0m0 1h0m0 5h0m0 4h0m0 2h0m0 6h0m0 6h0m0 3h0m0 3h0m0 1h0m0 4h0m0 3h0m0 4h0m0 5h0m0 2h0m0 3h0m0 2h0m0 2h0m0 1h0m0 1h0m0 1h0m0 9h0m0 2h0m0 1h0m0 1h0m0 2h0m0 1h0m0 2h0m0 2h0m0 1h0m0 6h0m0 2h0m0 1h0m0 3h0m0 1h0m0 8h0m0 9h0m0 2h0m0 6h0m0 2h0m0 39h0m1-241h0m0 44h0m0 28h0m0 11h0m0 1h0m0 9h0m0 3h0m0 4h0m0 2h0m0 2h0m0 3h0m0 2h0m0 1h0m0 1h0m0 1h0m0 1h0m0 1h0m0 6h0m0 1h0m0 1h0m0 1h0m0 4h0m0 10h0m0 3h0m0 2h0m0 1h0m0 3h0m0 7h0m0 1h0m0 9h0m0 2h0m0 3h0m0 7h0m0 2h0m0 1h0m0 11h0m0 1h0m0 5h0m0 6h0m0 1h0m0 3h0m1-123h0m0 6h0m0 2h0m0 3h0m0 1h0m0 1h0m0 3h0m0 3h0m0 1h0m0 4h0m0 1h0m0 1h0m0 1h0m0 2h0m0 3h0m0 1h0m0 2h0m0 2h0m0 1h0m0 2h0m0 1h0m0 1h0m0 1h0m0 2h0m0 2h0m0 1h0m0 1h0m0 1h0m0 3h0m0 4h0m0 6h0m0 1h0m0 2h0m0 2h0m0 1h0m0 1h0m0 1h0m0 2h0m0 1h0m0 3h0m0 4h0m0 6h0m0 8h0m0 1h0m0 2h0m0 4h0m0 6h0m1-129h0m0 6h0m0 7h0m0 2h0m0 15h0m0 3h0m0 5h0m0 5h0m0 1h0m0 4h0m0 6h0m0 1h0m0 2h0m0 1h0m0 1h0m0 1h0m0 1h0m0 4h0m0 2h0m0 5h0m0 1h0m0 3h0m0 2h0m0 2h0m0 1h0m0 1h0m0 2h0m0 1h0m0 2h0m0 2h0m0 1h0m0 1h0m0 1h0m0 4h0m0 3h0m0 3h0m0 2h0m0 1h0m0 1h0m0 1h0m0 5h0m0 7h0m0 6h0m0 16h0m0 10h0m1-211h0m0 51h0m0 2h0m0 34h0m0 2h0m0 1h0m0 8h0m0 2h0m0 8h0m0 2h0m0 6h0m0 4h0m0 2h0m0 3h0m0 2h0m0 2h0m0 2h0m0 3h0m0 1h0m0 4h0m0 1h0m0 1h0m0 1h0m0 1h0m0 5h0m0 1h0m0 4h0m0 3h0m0 2h0m0 2h0m0 1h0m0 1h0m0 2h0m0 1h0m0 3h0m0 2h0m0 2h0m0 1h0m0 5h0m0 2h0m0 2h0m0 1h0m0 5h0m0 6h0m0 1h0m0 3h0m0 1h0m0 6h0m0 2h0m0 5h0m0 12h0m1-163h0m0 11h0m0 8h0m0 4h0m0 8h0m0 1h0m0 1h0m0 1h0m0 1h0m0 1h0m0 3h0m0 3h0m0 2h0m0 3h0m0 2h0m0 2h0m0 2h0m0 1h0m0 5h0m0 1h0m0 2h0m0 2h0m0 3h0m0 3h0m0 2h0m0 6h0m0 2h0m0 1h0m0 1h0m0 2h0m0 1h0m0 2h0m0 1h0m0 3h0m0 10h0m0 1h0m0 1h0m0 1h0m0 1h0m0 3h0m0 1h0m0 1h0m0 1h0m0 7h0m0 7h0m0 1h0m0 4h0m0 1h0m0 1h0m0 13h0m0 10h0m0 13h0m0 8h0m1-227h0m0 7h0m0 52h0m0 8h0m0 7h0m0 4h0m0 4h0m0 1h0m0 6h0m0 4h0m0 2h0m0 1h0m0 5h0m0 1h0m0 2h0m0 2h0m0 1h0m0 2h0m0 3h0m0 4h0m0 2h0m0 1h0m0 3h0m0 1h0m0 2h0m0 2h0m0 2h0m0 2h0m0 1h0m0 2h0m0 1h0m0 3h0m0 1h0m0 2h0m0 6h0m0 1h0m0 1h0m0 2h0m0 1h0m0 1h0m0 2h0m0 1h0m0 1h0m0 5h0m0 1h0m0 1h0m0 2h0m0 3h0m0 2h0m0 1h0m0 4h0m0 2h0m0 5h0m0 6h0m0 7h0m0 6h0m0 15h0m1-174h0m0 6h0m0 30h0m0 3h0m0 1h0m0 4h0m0 1h0m0 6h0m0 1h0m0 1h0m0 3h0m0 1h0m0 7h0m0 2h0m0 3h0m0 1h0m0 2h0m0 2h0m0 2h0m0 1h0m0 1h0m0 2h0m0 3h0m0 3h0m0 2h0m0 3h0m0 2h0m0 2h0m0 1h0m0 3h0m0 3h0m0 2h0m0 3h0m0 1h0m0 5h0m0 4h0m0 7h0m0 8h0m0 3h0m0 6h0m0 1h0m0 1h0m0 14h0m0 27h0m1-230h0m0 34h0m0 20h0m0 3h0m0 23h0m0 5h0m0 2h0m0 5h0m0 5h0m0 1h0m0 3h0m0 2h0m0 2h0m0 2h0m0 13h0m0 1h0m0 6h0m0 3h0m0 5h0m0 2h0m0 1h0m0 8h0m0 1h0m0 2h0m0 3h0m0 2h0m0 2h0m0 2h0m0 1h0m0 2h0m0 2h0m0 4h0m0 3h0m0 1h0m0 3h0m0 1h0m0 1h0m0 4h0m0 11h0m0 1h0m0 15h0m0 4h0m0 12h0m0 2h0m1-267h0m0 97h0m0 10h0m0 2h0m0 2h0m0 1h0m0 4h0m0 5h0m0 3h0m0 6h0m0 3h0m0 1h0m0 1h0m0 2h0m0 3h0m0 1h0m0 1h0m0 3h0m0 4h0m0 6h0m0 5h0m0 2h0m0 1h0m0 1h0m0 1h0m0 3h0m0 2h0m0 1h0m0 1h0m0 1h0m0 1h0m0 2h0m0 14h0m0 1h0m0 2h0m0 1h0m0 1h0m0 3h0m0 4h0m0 1h0m0 2h0m0 3h0m0 1h0m0 3h0m0 1h0m0 12h0m0 2h0m0 30h0m0 3h0m1-161h0m0 18h0m0 7h0m0 1h0m0 2h0m0 7h0m0 5h0m0 6h0m0 2h0m0 3h0m0 3h0m0 3h0m0 7h0m0 4h0m0 1h0m0 1h0m0 2h0m0 3h0m0 3h0m0 1h0m0 2h0m0 5h0m0 3h0m0 1h0m0 2h0m0 7h0m0 2h0m0 1h0m0 1h0m0 5h0m0 7h0m0 4h0m0 2h0m0 10h0m0 24h0m1-141h0m0 8h0m0 4h0m0 2h0m0 1h0m0 8h0m0 1h0m0 1h0m0 2h0m0 4h0m0 3h0m0 6h0m0 3h0m0 5h0m0 4h0m0 3h0m0 1h0m0 3h0m0 7h0m0 3h0m0 1h0m0 1h0m0 1h0m0 1h0m0 1h0m0 1h0m0 1h0m0 1h0m0 1h0m0 1h0m0 1h0m0 2h0m0 1h0m0 2h0m0 1h0m0 1h0m0 2h0m0 3h0m0 4h0m0 1h0m0 4h0m0 3h0m0 5h0m0 4h0m0 4h0m0 1h0m0 5h0m0 4h0m0 1h0m0 11h0m0 16h0m1-199h0m0 46h0m0 3h0m0 6h0m0 5h0m0 5h0m0 2h0m0 2h0m0 4h0m0 3h0m0 1h0m0 2h0m0 2h0m0 5h0m0 1h0m0 1h0m0 2h0m0 1h0m0 4h0m0 3h0m0 1h0m0 1h0m0 2h0m0 1h0m0 5h0m0 1h0m0 2h0m0 2h0m0 2h0m0 3h0m0 3h0m0 10h0m0 1h0m0 4h0m0 1h0m0 2h0m0 4h0m0 1h0m0 10h0m0 2h0m0 5h0m0 22h0m1-158h0m0 10h0m0 16h0m0 1h0m0 2h0m0 7h0m0 3h0m0 9h0m0 1h0m0 1h0m0 5h0m0 1h0m0 2h0m0 1h0m0 4h0m0 1h0m0 4h0m0 5h0m0 1h0m0 1h0m0 1h0m0 1h0m0 2h0m0 2h0m0 2h0m0 1h0m0 2h0m0 2h0m0 2h0m0 1h0m0 1h0m0 1h0m0 3h0m0 2h0m0 2h0m0 5h0m0 2h0m0 1h0m0 2h0m0 5h0m0 1h0m0 4h0m0 2h0m0 2h0m0 2h0m0 8h0m0 1h0m0 10h0m0 7h0m0 3h0m1-176h0m0 45h0m0 4h0m0 3h0m0 2h0m0 4h0m0 1h0m0 1h0m0 1h0m0 3h0m0 12h0m0 1h0m0 1h0m0 1h0m0 2h0m0 3h0m0 2h0m0 1h0m0 1h0m0 1h0m0 1h0m0 7h0m0 1h0m0 1h0m0 1h0m0 1h0m0 1h0m0 1h0m0 3h0m0 1h0m0 1h0m0 1h0m0 2h0m0 4h0m0 3h0m0 1h0m0 3h0m0 2h0m0 2h0m0 1h0m0 1h0m0 1h0m0 1h0m0 1h0m0 2h0m0 4h0m0 9h0m0 7h0m0 15h0m0 9h0m0 1h0m0 26h0m1-176h0m0 8h0m0 6h0m0 2h0m0 1h0m0 7h0m0 5h0m0 5h0m0 1h0m0 2h0m0 2h0m0 4h0m0 1h0m0 4h0m0 1h0m0 3h0m0 1h0m0 3h0m0 1h0m0 1h0m0 1h0m0 1h0m0 3h0m0 2h0m0 1h0m0 1h0m0 2h0m0 1h0m0 1h0m0 1h0m0 3h0m0 1h0m0 6h0m0 2h0m0 4h0m0 1h0m0 4h0m0 1h0m0 1h0m0 1h0m0 1h0m0 2h0m0 3h0m0 7h0m0 3h0m0 4h0m0 2h0m0 2h0m0 6h0m0 1h0m0 8h0m0 14h0m1-185h0m0 24h0m0 15h0m0 6h0m0 1h0m0 15h0m0 4h0m0 7h0m0 2h0m0 4h0m0 1h0m0 9h0m0 2h0m0 2h0m0 1h0m0 7h0m0 3h0m0 1h0m0 3h0m0 1h0m0 2h0m0 1h0m0 4h0m0 2h0m0 1h0m0 2h0m0 6h0m0 7h0m0 1h0m0 4h0m0 1h0m0 5h0m0 4h0m0 2h0m0 1h0m0 6h0m1-135h0m0 2h0m0 8h0m0 3h0m0 2h0m0 7h0m0 1h0m0 5h0m0 2h0m0 4h0m0 6h0m0 2h0m0 3h0m0 2h0m0 4h0m0 3h0m0 1h0m0 1h0m0 1h0m0 3h0m0 7h0m0 1h0m0 1h0m0 1h0m0 1h0m0 2h0m0 1h0m0 2h0m0 1h0m0 3h0m0 1h0m0 1h0m0 2h0m0 1h0m0 3h0m0 7h0m0 1h0m0 4h0m0 3h0m0 1h0m0 1h0m0 2h0m0 3h0m0 1h0m0 3h0m0 1h0m0 3h0m0 2h0m0 1h0m0 1h0m0 3h0m0 5h0m0 8h0m0 6h0m0 1h0m0 31h0m1-257h0m0 96h0m0 14h0m0 2h0m0 2h0m0 2h0m0 2h0m0 2h0m0 4h0m0 13h0m0 1h0m0 1h0m0 7h0m0 2h0m0 4h0m0 1h0m0 1h0m0 1h0m0 3h0m0 1h0m0 2h0m0 2h0m0 2h0m0 1h0m0 1h0m0 5h0m0 1h0m0 1h0m0 1h0m0 2h0m0 1h0m0 4h0m0 1h0m0 2h0m0 1h0m0 2h0m0 1h0m0 2h0m0 1h0m0 1h0m0 1h0m0 5h0m0 1h0m0 2h0m0 1h0m0 6h0m0 1h0m0 6h0m0 2h0m0 12h0m0 6h0m0 23h0m1-164h0m0 2h0m0 1h0m0 4h0m0 2h0m0 16h0m0 7h0m0 1h0m0 5h0m0 2h0m0 3h0m0 1h0m0 5h0m0 1h0m0 3h0m0 2h0m0 2h0m0 3h0m0 2h0m0 2h0m0 4h0m0 2h0m0 2h0m0 1h0m0 1h0m0 1h0m0 1h0m0 2h0m0 2h0m0 3h0m0 1h0m0 1h0m0 5h0m0 1h0m0 1h0m0 1h0m0 2h0m0 5h0m0 1h0m0 1h0m0 1h0m0 4h0m0 1h0m0 1h0m0 19h0m0 2h0m0 6h0m1-159h0m0 20h0m0 3h0m0 14h0m0 5h0m0 1h0m0 1h0m0 7h0m0 2h0m0 2h0m0 5h0m0 1h0m0 1h0m0 14h0m0 1h0m0 1h0m0 2h0m0 2h0m0 3h0m0 5h0m0 5h0m0 5h0m0 1h0m0 1h0m0 2h0m0 9h0m0 2h0m0 6h0m0 2h0m0 1h0m0 1h0m0 6h0m0 1h0m0 7h0m0 4h0m0 14h0m0 9h0m1-135h0m0 3h0m0 4h0m0 11h0m0 1h0m0 1h0m0 10h0m0 2h0m0 2h0m0 1h0m0 4h0m0 2h0m0 2h0m0 2h0m0 2h0m0 2h0m0 3h0m0 1h0m0 1h0m0 7h0m0 3h0m0 3h0m0 1h0m0 4h0m0 5h0m0 1h0m0 8h0m0 2h0m0 2h0m0 4h0m0 10h0m0 5h0m0 5h0m0 3h0m0 5h0m0 2h0m0 16h0m0 7h0m1-212h0m0 52h0m0 2h0m0 23h0m0 4h0m0 12h0m0 5h0m0 1h0m0 3h0m0 4h0m0 1h0m0 2h0m0 2h0m0 2h0m0 2h0m0 2h0m0 4h0m0 3h0m0 2h0m0 1h0m0 3h0m0 3h0m0 1h0m0 2h0m0 3h0m0 3h0m0 1h0m0 5h0m0 3h0m0 3h0m0 2h0m0 5h0m0 3h0m0 7h0m0 6h0m0 11h0m0 6h0m0 3h0m1-248h0m0 51h0m0 43h0m0 19h0m0 16h0m0 10h0m0 3h0m0 1h0m0 6h0m0 2h0m0 2h0m0 2h0m0 1h0m0 2h0m0 3h0m0 8h0m0 3h0m0 3h0m0 7h0m0 1h0m0 3h0m0 1h0m0 2h0m0 5h0m0 1h0m0 1h0m0 1h0m0 1h0m0 1h0m0 2h0m0 1h0m0 7h0m0 2h0m0 2h0m0 1h0m0 3h0m0 1h0m0 1h0m0 7h0m0 8h0m0 7h0m0 5h0m0 9h0m1-156h0m0 9h0m0 2h0m0 7h0m0 1h0m0 1h0m0 15h0m0 5h0m0 2h0m0 2h0m0 2h0m0 1h0m0 2h0m0 8h0m0 3h0m0 2h0m0 2h0m0 2h0m0 2h0m0 1h0m0 2h0m0 1h0m0 1h0m0 1h0m0 3h0m0 1h0m0 3h0m0 6h0m0 2h0m0 1h0m0 1h0m0 2h0m0 3h0m0 1h0m0 1h0m0 4h0m0 1h0m0 2h0m0 4h0m0 1h0m0 5h0m0 3h0m0 2h0m0 2h0m0 1h0m0 3h0m0 5h0m0 4h0m0 14h0m0 1h0m0 9h0m0 2h0m1-144h0m0 18h0m0 1h0m0 1h0m0 5h0m0 1h0m0 4h0m0 1h0m0 1h0m0 8h0m0 1h0m0 3h0m0 1h0m0 4h0m0 5h0m0 2h0m0 1h0m0 6h0m0 11h0m0 1h0m0 4h0m0 3h0m0 1h0m0 6h0m0 1h0m0 1h0m0 3h0m0 4h0m0 26h0m0 4h0m1-134h0m0 5h0m0 7h0m0 8h0m0 7h0m0 1h0m0 1h0m0 1h0m0 4h0m0 2h0m0 4h0m0 4h0m0 2h0m0 1h0m0 5h0m0 3h0m0 6h0m0 6h0m0 2h0m0 9h0m0 2h0m0 2h0m0 5h0m0 8h0m0 2h0m0 2h0m0 3h0m0 4h0m0 2h0m0 8h0m0 7h0m0 1h0m0 9h0m0 3h0m1-142h0m0 11h0m0 3h0m0 4h0m0 1h0m0 8h0m0 2h0m0 7h0m0 10h0m0 4h0m0 4h0m0 2h0m0 2h0m0 2h0m0 6h0m0 3h0m0 2h0m0 2h0m0 3h0m0 2h0m0 3h0m0 6h0m0 1h0m0 7h0m0 4h0m0 8h0m0 1h0m0 3h0m0 1h0m0 15h0m0 1h0m0 4h0m0 2h0m0 3h0m0 22h0m1-174h0m0 5h0m0 1h0m0 22h0m0 18h0m0 2h0m0 2h0m0 10h0m0 3h0m0 1h0m0 6h0m0 6h0m0 1h0m0 1h0m0 1h0m0 1h0m0 2h0m0 3h0m0 2h0m0 1h0m0 1h0m0 1h0m0 2h0m0 3h0m0 2h0m0 1h0m0 6h0m0 1h0m0 2h0m0 2h0m0 9h0m0 12h0m0 6h0m0 8h0m0 5h0m0 2h0m0 14h0m0 3h0m1-133h0m0 4h0m0 1h0m0 7h0m0 8h0m0 2h0m0 2h0m0 1h0m0 4h0m0 3h0m0 1h0m0 3h0m0 10h0m0 1h0m0 5h0m0 2h0m0 4h0m0 6h0m0 5h0m0 3h0m0 15h0m0 8h0m0 4h0m0 4h0m0 2h0m0 1h0m0 7h0m1-135h0m0 14h0m0 15h0m0 3h0m0 8h0m0 5h0m0 1h0m0 1h0m0 5h0m0 3h0m0 2h0m0 2h0m0 3h0m0 5h0m0 1h0m0 2h0m0 8h0m0 6h0m0 1h0m0 1h0m0 6h0m0 3h0m0 3h0m0 3h0m0 1h0m0 3h0m0 5h0m0 14h0m1-134h0m0 27h0m0 24h0m0 1h0m0 6h0m0 2h0m0 5h0m0 2h0m0 2h0m0 4h0m0 4h0m0 3h0m0 2h0m0 1h0m0 6h0m0 6h0m0 3h0m0 1h0m0 2h0m0 5h0m0 2h0m0 2h0m0 3h0m0 5h0m0 3h0m0 8h0m0 12h0m0 16h0m0 27h0m1-202h0m0 37h0m0 11h0m0 10h0m0 1h0m0 8h0m0 8h0m0 8h0m0 2h0m0 1h0m0 5h0m0 3h0m0 1h0m0 2h0m0 1h0m0 3h0m0 1h0m0 1h0m0 3h0m0 5h0m0 1h0m0 3h0m0 1h0m0 6h0m0 1h0m0 3h0m0 1h0m0 8h0m0 14h0m0 3h0m0 4h0m0 24h0m0 3h0m1-164h0m0 33h0m0 12h0m0 5h0m0 7h0m0 1h0m0 2h0m0 2h0m0 1h0m0 4h0m0 3h0m0 2h0m0 3h0m0 1h0m0 2h0m0 1h0m0 4h0m0 1h0m0 1h0m0 17h0m0 1h0m0 3h0m0 2h0m0 1h0m0 1h0m0 6h0m0 6h0m0 1h0m0 22h0m0 4h0m1-175h0m0 41h0m0 9h0m0 11h0m0 2h0m0 7h0m0 2h0m0 5h0m0 4h0m0 1h0m0 1h0m0 9h0m0 1h0m0 4h0m0 2h0m0 2h0m0 1h0m0 1h0m0 1h0m0 5h0m0 5h0m0 8h0m0 5h0m0 3h0m0 1h0m0 2h0m0 12h0m0 1h0m0 2h0m0 10h0m0 3h0m0 17h0m1-206h0m0 47h0m0 20h0m0 6h0m0 12h0m0 5h0m0 5h0m0 5h0m0 13h0m0 2h0m0 2h0m0 6h0m0 1h0m0 1h0m0 5h0m0 6h0m0 4h0m0 1h0m0 14h0m0 9h0m0 2h0m0 4h0m0 9h0m0 25h0m0 5h0m1-187h0m0 42h0m0 27h0m0 10h0m0 9h0m0 1h0m0 4h0m0 3h0m0 2h0m0 4h0m0 1h0m0 3h0m0 4h0m0 1h0m0 3h0m0 3h0m0 10h0m0 13h0m0 1h0m0 2h0m0 2h0m0 3h0m0 3h0m0 2h0m0 3h0m0 5h0m0 1h0m0 4h0m0 6h0m0 11h0m0 4h0m0 1h0m0 3h0m1-190h0m0 11h0m0 30h0m0 22h0m0 22h0m0 4h0m0 2h0m0 6h0m0 1h0m0 2h0m0 2h0m0 2h0m0 8h0m0 2h0m0 5h0m0 3h0m0 1h0m0 2h0m0 2h0m0 3h0m0 1h0m0 3h0m0 8h0m0 5h0m0 1h0m0 15h0m0 3h0m0 4h0m0 3h0m0 15h0m1-121h0m0 3h0m0 3h0m0 5h0m0 3h0m0 11h0m0 8h0m0 1h0m0 3h0m0 7h0m0 4h0m0 2h0m0 4h0m0 3h0m0 2h0m0 3h0m0 4h0m0 1h0m0 8h0m0 3h0m0 10h0m0 1h0m0 30h0m1-160h0m0 39h0m0 1h0m0 10h0m0 13h0m0 7h0m0 6h0m0 1h0m0 6h0m0 5h0m0 1h0m0 9h0m0 5h0m0 6h0m0 2h0m0 12h0m0 3h0m0 6h0m0 34h0m0 13h0m0 16h0m1-206h0m0 33h0m0 7h0m0 5h0m0 20h0m0 2h0m0 5h0m0 5h0m0 7h0m0 2h0m0 1h0m0 1h0m0 10h0m0 2h0m0 3h0m0 9h0m0 2h0m0 2h0m0 3h0m0 1h0m0 5h0m0 6h0m0 1h0m0 7h0m0 2h0m1-149h0m0 30h0m0 7h0m0 4h0m0 33h0m0 4h0m0 1h0m0 4h0m0 5h0m0 10h0m0 5h0m0 2h0m0 1h0m0 7h0m0 13h0m0 1h0m0 3h0m0 9h0m0 9h0m0 5h0m0 5h0m0 6h0m0 1h0m0 29h0m1-138h0m0 5h0m0 1h0m0 10h0m0 2h0m0 6h0m0 6h0m0 4h0m0 1h0m0 1h0m0 2h0m0 3h0m0 1h0m0 2h0m0 6h0m0 2h0m0 6h0m0 10h0m0 12h0m0 17h0m0 4h0m0 3h0m0 7h0m0 19h0m1-118h0m0 3h0m0 7h0m0 2h0m0 12h0m0 4h0m0 10h0m0 2h0m0 1h0m0 4h0m0 2h0m0 5h0m0 4h0m0 6h0m0 2h0m0 1h0m0 1h0m0 6h0m0 6h0m0 1h0m0 2h0m0 2h0m0 14h0m1-102h0m0 6h0m0 9h0m0 1h0m0 1h0m0 9h0m0 7h0m0 7h0m0 2h0m0 2h0m0 5h0m0 7h0m0 2h0m0 6h0m0 1h0m0 2h0m0 3h0m0 2h0m0 10h0m0 17h0m0 28h0m0 22h0m1-186h0m0 32h0m0 7h0m0 23h0m0 4h0m0 9h0m0 2h0m0 26h0m0 4h0m0 11h0m1-212h0m0 82h0m0 18h0m0 24h0m0 10h0m0 3h0m0 6h0m0 1h0m0 2h0m0 3h0m0 2h0m0 4h0m0 5h0m0 8h0m0 8h0m0 4h0m0 23h0m0 3h0m0 8h0m1-75h0m0 7h0m0 8h0m0 6h0m0 4h0m0 20h0m0 1h0m0 6h0m0 1h0m0 3h0m0 8h0m0 2h0m0 13h0m0 2h0m0 3h0m0 10h0m0 2h0m1-75h0m0 8h0m0 1h0m0 13h0m0 1h0m0 2h0m0 11h0m0 1h0m0 8h0m0 8h0m0 13h0m0 6h0m1-121h0m0 5h0m0 38h0m0 1h0m0 8h0m0 2h0m0 1h0m0 27h0m0 5h0m0 1h0m1-77h0m0 15h0m0 12h0m0 4h0m0 3h0m0 4h0m0 11h0m0 2h0m0 4h0m0 2h0m0 1h0m0 6h0m0 2h0m0 4h0m0 3h0m0 24h0m0 11h0m0 2h0m1-106h0m0 5h0m0 14h0m0 3h0m0 6h0m0 5h0m0 8h0m0 1h0m0 17h0m0 1h0m0 11h0m0 5h0m0 4h0m0 1h0m0 9h0m1-127h0m0 24h0m0 9h0m0 32h0m0 15h0m0 7h0m0 3h0m0 6h0m0 7h0m0 7h0m0 25h0m0 30h0m1-146h0m0 9h0m0 17h0m0 30h0m0 8h0m0 2h0m0 11h0m0 3h0m0 8h0m0 23h0m0 25h0m1-119h0m0 18h0m0 2h0m0 1h0m0 10h0m0 25h0m0 9h0m0 1h0m0 11h0m0 11h0m0 18h0m0 35h0m1-220h0m0 104h0m0 16h0m0 2h0m0 22h0m0 1h0m0 1h0m0 3h0m0 2h0m0 3h0m0 2h0m0 4h0m0 10h0m0 15h0m1-167h0m0 52h0m0 4h0m0 11h0m0 6h0m0 4h0m0 12h0m0 10h0m0 11h0m0 12h0m0 1h0m0 23h0m0 13h0m0 9h0m0 22h0m1-132h0m0 6h0m0 23h0m0 8h0m0 13h0m0 1h0m0 17h0m0 3h0m0 16h0m1-77h0m0 3h0m0 12h0m0 8h0m0 4h0m0 4h0m0 15h0m0 8h0m0 3h0m0 10h0m0 6h0m1-141h0m0 40h0m0 19h0m0 18h0m0 7h0m0 19h0m0 1h0m0 13h0m0 18h0m0 2h0m0 24h0m1-123h0m0 47h0m0 11h0m0 9h0m0 4h0m0 10h0m0 15h0m0 13h0m0 2h0m0 50h0m1-184h0m0 66h0m0 18h0m0 21h0m0 3h0m0 9h0m0 1h0m0 25h0m0 27h0m0 1h0m1-146h0m0 36h0m0 32h0m0 5h0m0 40h0m1-72h0m0 12h0m0 10h0m0 7h0m0 3h0m0 22h0m0 3h0m0 4h0m0 1h0m0 11h0m1-110h0m0 37h0m0 5h0m0 4h0m0 1h0m0 7h0m0 1h0m0 3h0m0 7h0m0 17h0m0 14h0m0 12h0m0 16h0m0 5h0m0 9h0m1-127h0m0 25h0m0 14h0m0 1h0m0 5h0m0 28h0m0 11h0m0 35h0m0 4h0m1-193h0m0 55h0m0 22h0m0 14h0m0 16h0m0 7h0m0 1h0m0 1h0m0 1h0m0 2h0m0 8h0m0 4h0m0 17h0m0 24h0m1-69h0m0 29h0m0 1h0m0 9h0m0 27h0m0 14h0m1-138h0m0 6h0m0 3h0m0 18h0m0 6h0m0 30h0m0 5h0m0 5h0m0 18h0m0 7h0m0 2h0m0 25h0m0 1h0m1-91h0m0 18h0m0 14h0m0 2h0m0 11h0m0 4h0m0 39h0m1-92h0m0 11h0m0 2h0m0 7h0m0 8h0m0 18h0m0 20h0m0 4h0m0 49h0m1-121h0m0 13h0m0 10h0m0 8h0m0 8h0m0 2h0m0 42h0m0 6h0m0 20h0m1-235h0m0 99h0m0 72h0m0 3h0m0 6h0m0 27h0m0 36h0m1-102h0m0 5h0m0 5h0m0 7h0m0 19h0m0 6h0m0 1h0m0 3h0m0 4h0m0 10h0m0 12h0m0 55h0m1-115h0m0 9h0m0 2h0m0 1h0m0 6h0m0 20h0m0 14h0m0 14h0m0 4h0m0 3h0m0 7h0m1-126h0m0 28h0m0 40h0m0 8h0m0 19h0m0 26h0m1-179h0m0 67h0m0 35h0m0 21h0m0 10h0m0 6h0m0 40h0m0 34h0m1-133h0m0 39h0m0 17h0m0 9h0m0 5h0m0 33h0m1-161h0m0 41h0m0 11h0m0 30h0m0 14h0m0 4h0m0 19h0m0 28h0m1-88h0m0 21h0m0 13h0m0 41h0m0 14h0m1-55h0m0 9h0m0 24h0m0 2h0m0 34h0m0 45h0m1-155h0m0 11h0m0 8h0m0 41h0m0 18h0m0 5h0m0 12h0m0 67h0m1-158h0m0 39h0m0 11h0m0 15h0m1-84h0m0 20h0m0 33h0m0 7h0m0 7h0m0 1h0m0 1h0m0 12h0m1-87h0m0 19h0m0 37h0m0 15h0m0 35h0m0 11h0m0 3h0m0 17h0m1-182h0m0 12h0m0 59h0m0 5h0m0 30h0m0 24h0m1-52h0m0 11h0m0 12h0m0 22h0m0 35h0m0 43h0m0 7h0m1-147h0m0 18h0m0 18h0m0 10h0m0 78h0m0 22h0m1-124h0m0 11h0m0 24h0m0 12h0m0 11h0m1-118h0m0 22h0m0 29h0m0 47h0m0 12h0m0 20h0m1-116h0m0 9h0m0 11h0m0 33h0m1-77h0m0 33h0m1-2h0m0 10h0m0 7h0m0 39h0m0 32h0m0 2h0m1-29h0m0 5h0m0 15h0m0 7h0m1-100h0m0 94h0m0 38h0m1-110h0m0 27h0m0 8h0m0 28h0m0 14h0m1-117h0m0 67h0m0 27h0m0 10h0m0 15h0m0 13h0m0 8h0m0 7h0m1-73h0m0 35h0m0 1h0m0 10h0m0 33h0m1-161h0m0 3h0m0 25h0m0 20h0m0 12h0m0 49h0m0 16h0m0 1h0m1-67h0m0 12h0m0 8h0m0 18h0m0 16h0m1-38h0m0 18h0m0 14h0m0 3h0m0 58h0m1-129h0m0 42h0m0 41h0m0 3h0m0 19h0m1-101h0m0 31h0m0 39h0m0 2h0m0 2h0m1-94h0m0 74h0m1-60h0m0 20h0m0 18h0m0 8h0m0 54h0m0 13h0m1-87h0m0 34h0m0 36h0m1-61h0m0 1h0m0 12h0m0 11h0m0 9h0m0 6h0m0 41h0m1-102h0m0 9h0m0 38h0m0 7h0m1-87h0m0 104h0m0 43h0m1-117h0m0 31h0m0 16h0m0 1h0m0 9h0m0 19h0m0 31h0m1-125h0m0 21h0m0 16h0m0 24h0m0 23h0m0 8h0m0 8h0m0 26h0m1-115h0m0 46h0m0 7h0m0 32h0m0 4h0m0 24h0m1-95h0m0 21h0m0 23h0m0 49h0m0 30h0m0 3h0m1-114h0m0 14h0m0 2h0m0 2h0m0 1h0m0 34h0m1-54h0m0 6h0m0 8h0m0 23h0m0 13h0m0 17h0m0 6h0m0 18h0m1-125h0m0 28h0m0 2h0m0 11h0m0 8h0m0 38h0m1-220h0m0 184h0m0 10h0m0 5h0m1-60h0m0 61h0m0 23h0m0 2h0m0 38h0m1-75h0m0 107h0m1-121h0m0 5h0m0 18h0m0 61h0m1-100h0m0 30h0m0 37h0m0 26h0m1 9h0m1-156h0m0 65h0m0 23h0m0 23h0m0 4h0m0 3h0m0 14h0m0 16h0m1-41h0m0 24h0m1-39h0m0 6h0m0 1h0m1-90h0m0 52h0m0 14h0m0 3h0m0 13h0m0 4h0m0 18h0m0 17h0m0 20h0m1-107h0m0 5h0m0 24h0m0 6h0m0 17h0m0 41h0m0 17h0m0 4h0m1-141h0m0 56h0m0 2h0m0 8h0m0 33h0m1-61h0m0 14h0m0 31h0m0 38h0m1-196h0m0 96h0m0 35h0m0 27h0m1-69h0m0 31h0m0 2h0m0 51h0m1-70h0m0 1h0m0 24h0m0 22h0m1-7h0m0 12h0m0 58h0m0 6h0m1-116h0m0 18h0m0 7h0m0 13h0m0 6h0m0 4h0m0 2h0m0 11h0m0 79h0m1-102h0m0 2h0m0 6h0m0 4h0m0 28h0m1-2h0m1-84h0m0 4h0m0 2h0m0 2h0m0 4h0m0 24h0m0 68h0m1-114h0m0 50h0m0 3h0m0 31h0m0 24h0m0 17h0m1-74h0m0 4h0m0 27h0m0 12h0m0 16h0m1-85h0m0 50h0m0 11h0m0 18h0m1-65h0m0 6h0m0 51h0m2-130h0m0 44h0m0 35h0m0 12h0m1 9h0m0 25h0m0 44h0m1-285h0m0 128h0m0 87h0m0 35h0m0 7h0m1-95h0m0 16h0m0 13h0m0 56h0m1-87h0m0 36h0m0 12h0m1-45h0m0 18h0m0 91h0m1-92h0m0 26h0m0 30h0m0 1h0m0 82h0m1-126h0m0 4h0m0 37h0m0 18h0m1-59h0m0 24h0m0 59h0m1-110h0m0 5h0m0 21h0m1-30h0m0 26h0m0 36h0m0 15h0m1-78h0m0 28h0m0 15h0m0 28h0m0 6h0m0 1h0m1-69h0m0 3h0m0 7h0m1-22h0m0 44h0m0 13h0m0 22h0m0 24h0m1-55h0m0 8h0m1-6h0m0 12h0m0 14h0m0 5h0m0 24h0m0 10h0m1-118h0m0 6h0m0 42h0m0 3h0m0 15h0m1-102h0m0 76h0m0 13h0m0 10h0m0 43h0m1-43h0m0 40h0m1-81h0m0 25h0m1-53h0m0 61h0m1-39h0m0 65h0m1-88h0m0 26h0m0 23h0m0 15h0m0 3h0m0 33h0m0 45h0m1-153h0m0 37h0m0 12h0m0 72h0m1-90h0m0 22h0m0 1h0m0 43h0m1-50h0m1-58h0m0 32h0m0 21h0m0 29h0m1-47h0m0 40h0m0 7h0m0 6h0m1-14h0m0 31h0m1-130h0m0 112h0m1 7h0m1-88h0m1 10h0m0 44h0m0 13h0m2-68h0m0 25h0m0 87h0m1-91h0m0 32h0m0 35h0m1-127h0m0 94h0m0 16h0m0 17h0m1-44h0m0 61h0m1-118h0m0 29h0m0 77h0m1 4h0m1-74h0m0 13h0m0 35h0m0 63h0m1-55h0m0 27h0m1-26h0m0 44h0m1-32h0m1-21h0m3-84h0m0 45h0m2 35h0m1-55h0m2 15h0m0 80h0m4-67h0m1-63h0m0 128h0m1-146h0m1 90h0m0 7h0m0 36h0m1-96h0m0 49h0m1-8h0m1 9h0m1-55h0m0 6h0m1 43h0m0 17h0m2-48h0m0 97h0m1-66h0m0 14h0m0 6h0m1-93h0m0 99h0m1 5h0m2-57h0m0 53h0m1-45h0m0 70h0m1-17h0m0 20h0m1 0h0m1-106h0m0 100h0m2 9h0m4-47h0m1-123h0m0 91h0m2 86h0m1-85h0m0 30h0m1-26h0m1-13h0m0 28h0m1-42h0m2 73h0m1-55h0m0 52h0m2-70h0m0 30h0m2 162h0m1-186h0m2 50h0m0 15h0m0 42h0m0 27h0m1-117h0m0 51h0m1-26h0m1-13h0m0 53h0m1-15h0m1-63h0m0 33h0m1-3h0m0 29h0m2-48h0m1-10h0m2 38h0m0 126h0m3-184h0m0 87h0m1-57h0m0 51h0m0 67h0m3-118h0m1 80h0m1-114h0m1-86h0m0 63h0m0 92h0m0 52h0m1-134h0m3 7h0m1 19h0m0 26h0m1-23h0m0 60h0m0 25h0m1-51h0m0 95h0m1-129h0m0 14h0m2-20h0m1 99h0m2-20h0m2-23h0m2-132h0m1 119h0m0 8h0m3-61h0m1-46h0m0 4h0m0 89h0m0 1h0m1-71h0m1-6h0m0 18h0m0 75h0m2-99h0m0 124h0m1-100h0m0 27h0m0 11h0m4-11h0m2 96h0m1-90h0m2-101h0m0 104h0m1-25h0m0 71h0m1-38h0m0 47h0m0 5h0m1-171h0m1 18h0m0 89h0m0 61h0m1-135h0m0 93h0m0 53h0m0 5h0m1-38h0m0 8h0m0 1h0m0 96h0m2-156h0m0 23h0m4-6h0m0 60h0m1-49h0m0 9h0m0 22h0m0 35h0m1-88h0m0 21h0m1-22h0m0 61h0m2-147h0m0 156h0m2-159h0m2 119h0m2-27h0m2-8h0m0 21h0m1-9h0m2-6h0m0 4h0m0 22h0m1 60h0m1-109h0m0 116h0m1-112h0m0 45h0m1-106h0m0 111h0m1-67h0m0 68h0m1-2h0m2-107h0m0 168h0m1-157h0m0 64h0m1 14h0m0 45h0m1-7h0m2-63h0m1-25h0m0 81h0m2-6h0m2 1h0m1-65h0m0 8h0m1 3h0m0 7h0m1-21h0m0 50h0m1-26h0m0 46h0m0 10h0m1 49h0m3-240h0m0 132h0m1 7h0m1 98h0m1-54h0m2-60h0m2 38h0m1-44h0m0 137h0m3-139h0m1-29h0m0 93h0m0 62h0m1-163h0m0 87h0m0 107h0m1-36h0m1-219h0m2 206h0m1-91h0m3 96h0m0 54h0m1-135h0m0 104h0m1-155h0m0 74h0m0 46h0m2-184h0m0 108h0m1-68h0m0 49h0m0 35h0m1-79h0m1 22h0m1 28h0m0 9h0m0 3h0m1-57h0m0 45h0m0 49h0m1-73h0m0 31h0m2 11h0m0 123h0m1-134h0m0 22h0m0 14h0m0 9h0m2-9h0m1-75h0m0 83h0m1-69h0m1 49h0m2-24h0m1 31h0m1 30h0m1-153h0m0 201h0m1-152h0m1 64h0m1-108h0m1 49h0m2 93h0m1-76h0m1 20h0m0 25h0m1 41h0m1-27h0m1-168h0m0 137h0m1 114h0m1-109h0m1-96h0m0 35h0m0 49h0m0 22h0m1-140h0m1 32h0m0 55h0m3 98h0m1-193h0m0 89h0m0 94h0m2-106h0m0 100h0m1-32h0m2-27h0m0 13h0m0 15h0m1-68h0m2 76h0m1-145h0m0 193h0m3-64h0m1-55h0m0 111h0m0 50h0m1-234h0m0 65h0m2 7h0m1-50h0m2 264h0m4-170h0m1 22h0m2-34h0m0 81h0m1-6h0m1-178h0m0 129h0m1-28h0m0 39h0m2-46h0m0 69h0m2-83h0m1-16h0m1 20h0m0 25h0m0 130h0m3-125h0m1-43h0m0 7h0m0 10h0m3-132h0m0 97h0m1-33h0m2 178h0m1-130h0m1-54h0m0 78h0m1 90h0m1-80h0m3 28h0m1 2h0m0 18h0m2-113h0m0 23h0m3 17h0m0 152h0m2-292h0m0 121h0m1-6h0m2 28h0m1-104h0m0 81h0m1 9h0m1-181h0m1 141h0m0 39h0m1-16h0m0 90h0m1 65h0m1-195h0m0 112h0m1-186h0m0 196h0m0 36h0m1-115h0m0 50h0m0 42h0m0 117h0m1-203h0m0 123h0m1-104h0m1-80h0m1 146h0m0 57h0m1-146h0m2 120h0m1-162h0m1 7h0m0 33h0m1 101h0m1-23h0m1-11h0m1-160h0m0 103h0m0 16h0m0 70h0m1-145h0m0 103h0m1-142h0m3 145h0m2-53h0m1-100h0m0 22h0m0 67h0m0 21h0m0 100h0m2 52h0m1-162h0m1-72h0m2 68h0m3-3h0m1-78h0m0 85h0m1-30h0m0 87h0m0 6h0m2-174h0m0 99h0m0 17h0m0 5h0m0 22h0m2 81h0m2-250h0m0 193h0m1-14h0m1-119h0m0 10h0m0 110h0m3-30h0m1-75h0m0 14h0m1 268h0m1-138h0m1-2h0m1-59h0m4-41h0m0 124h0m1-199h0m1 146h0m1-40h0m4-29h0m2 24h0m2-131h0m0 226h0m0 55h0m0 52h0" stroke="#8a8a8a" stroke-width="8.4" stroke-linecap="round" fill="none"/><path d="M145.3,1496.1 L728.9,1309.3 L728.9,1323.3 L145.3,1502.1Z" fill="#9ec5e8" fill-opacity="0.5"/><line x1="145.3" y1="1499.1" x2="728.9" y2="1316.3" stroke="#3f80c0" stroke-width="5.2" stroke-linecap="round"/><rect x="117.3" y="1109.3" width="639.3" height="475.8" fill="none" stroke="#111" stroke-width="3.2"/><line x1="125.7" y1="1586.7" x2="125.7" y2="1594.6" stroke="#111" stroke-width="2.6" /><text x="125.7" y="1611.4" font-size="16.4" text-anchor="middle">−1</text><line x1="214.8" y1="1586.7" x2="214.8" y2="1594.6" stroke="#111" stroke-width="2.6" /><text x="214.8" y="1611.4" font-size="16.4" text-anchor="middle">0</text><line x1="303.9" y1="1586.7" x2="303.9" y2="1594.6" stroke="#111" stroke-width="2.6" /><text x="303.9" y="1611.4" font-size="16.4" text-anchor="middle">1</text><line x1="393" y1="1586.7" x2="393" y2="1594.6" stroke="#111" stroke-width="2.6" /><text x="393" y="1611.4" font-size="16.4" text-anchor="middle">2</text><line x1="482.1" y1="1586.7" x2="482.1" y2="1594.6" stroke="#111" stroke-width="2.6" /><text x="482.1" y="1611.4" font-size="16.4" text-anchor="middle">3</text><line x1="571.2" y1="1586.7" x2="571.2" y2="1594.6" stroke="#111" stroke-width="2.6" /><text x="571.2" y="1611.4" font-size="16.4" text-anchor="middle">4</text><line x1="660.3" y1="1586.7" x2="660.3" y2="1594.6" stroke="#111" stroke-width="2.6" /><text x="660.3" y="1611.4" font-size="16.4" text-anchor="middle">5</text><line x1="749.4" y1="1586.7" x2="749.4" y2="1594.6" stroke="#111" stroke-width="2.6" /><text x="749.4" y="1611.4" font-size="16.4" text-anchor="middle">6</text><line x1="109.3" y1="1564" x2="115.7" y2="1564" stroke="#111" stroke-width="2.6" /><text x="104.8" y="1569.9" font-size="16.4" text-anchor="end">−2</text><line x1="109.3" y1="1520.7" x2="115.7" y2="1520.7" stroke="#111" stroke-width="2.6" /><text x="104.8" y="1526.6" font-size="16.4" text-anchor="end">−1</text><line x1="109.3" y1="1477.4" x2="115.7" y2="1477.4" stroke="#111" stroke-width="2.6" /><text x="104.8" y="1483.3" font-size="16.4" text-anchor="end">0</text><line x1="109.3" y1="1434.1" x2="115.7" y2="1434.1" stroke="#111" stroke-width="2.6" /><text x="104.8" y="1440" font-size="16.4" text-anchor="end">1</text><line x1="109.3" y1="1390.8" x2="115.7" y2="1390.8" stroke="#111" stroke-width="2.6" /><text x="104.8" y="1396.7" font-size="16.4" text-anchor="end">2</text><line x1="109.3" y1="1347.5" x2="115.7" y2="1347.5" stroke="#111" stroke-width="2.6" /><text x="104.8" y="1353.4" font-size="16.4" text-anchor="end">3</text><line x1="109.3" y1="1304.2" x2="115.7" y2="1304.2" stroke="#111" stroke-width="2.6" /><text x="104.8" y="1310.1" font-size="16.4" text-anchor="end">4</text><line x1="109.3" y1="1260.9" x2="115.7" y2="1260.9" stroke="#111" stroke-width="2.6" /><text x="104.8" y="1266.8" font-size="16.4" text-anchor="end">5</text><line x1="109.3" y1="1217.6" x2="115.7" y2="1217.6" stroke="#111" stroke-width="2.6" /><text x="104.8" y="1223.5" font-size="16.4" text-anchor="end">6</text><line x1="109.3" y1="1174.3" x2="115.7" y2="1174.3" stroke="#111" stroke-width="2.6" /><text x="104.8" y="1180.2" font-size="16.4" text-anchor="end">7</text><line x1="109.3" y1="1131" x2="115.7" y2="1131" stroke="#111" stroke-width="2.6" /><text x="104.8" y="1136.9" font-size="16.4" text-anchor="end">8</text><text x="146.6" y="1150.5" font-size="20.2">r-value = 0.657</text><text x="463" y="1636" font-size="19.4" text-anchor="middle">Library 3 Replicate 1</text><text x="73" y="1324" font-size="19.4" transform="rotate(-90 73 1324)" text-anchor="middle">Library 3 Replicate 2</text><text x="899" y="1106" font-size="26" font-weight="bold">e</text><line x1="928.4" y1="1401.1" x2="1375" y2="1401.1" stroke="#999999" stroke-width="4" stroke-dasharray="14.8 7"/><path d="M958.8,1582.3 959.1,1578.0 959.2,1573.8 959.3,1569.6 959.4,1565.4 959.5,1561.1 959.6,1556.9 959.7,1552.7 959.7,1548.4 959.8,1544.2 959.8,1540.0 959.9,1535.7 959.9,1531.5 960.0,1527.3 960.0,1523.1 960.1,1518.8 960.1,1514.6 960.2,1510.4 960.2,1506.1 960.2,1501.9 960.3,1497.7 960.3,1493.4 960.4,1489.2 960.4,1485.0 960.4,1480.8 960.5,1476.5 960.5,1472.3 960.6,1468.1 960.6,1463.8 960.6,1459.6 960.7,1455.4 960.7,1451.1 960.8,1446.9 960.8,1442.7 960.9,1438.5 961.0,1434.2 961.0,1430.0 961.1,1425.8 961.2,1421.5 961.3,1417.3 961.3,1413.1 961.4,1408.8 961.5,1404.6 961.5,1400.4 961.6,1396.2 961.7,1391.9 961.8,1387.7 962.0,1383.5 962.1,1379.2 962.4,1375.0 962.6,1370.8 962.9,1366.5 963.1,1362.3 963.4,1358.1 963.7,1353.9 964.0,1349.6 964.3,1345.4 964.6,1341.2 964.9,1336.9 965.2,1332.7 965.5,1328.5 965.7,1324.3 966.0,1320.0 966.2,1315.8 966.4,1311.6 966.5,1307.3 966.7,1303.1 966.9,1298.9 967.0,1294.6 967.1,1290.4 967.2,1286.2 967.3,1282.0 967.3,1277.7 967.3,1273.5 967.3,1269.3 967.2,1265.0 967.1,1260.8 967.0,1256.6 966.9,1252.3 966.7,1248.1 966.5,1243.9 966.3,1239.7 966.1,1235.4 965.9,1231.2 965.7,1227.0 965.5,1222.7 965.3,1218.5 965.1,1214.3 964.9,1210.0 964.6,1205.8 964.4,1201.6 964.2,1197.4 964.0,1193.1 963.8,1188.9 963.5,1184.7 963.3,1180.4 963.0,1176.2 962.7,1172.0 962.4,1167.7 962.0,1163.5 961.7,1159.3 961.3,1155.1 961.0,1150.8 960.7,1146.6 960.4,1142.4 960.0,1138.1 959.7,1133.9 959.5,1129.7 959.2,1125.4 958.8,1121.2 957.6,1121.2 957.2,1125.4 956.9,1129.7 956.7,1133.9 956.4,1138.1 956.0,1142.4 955.7,1146.6 955.4,1150.8 955.1,1155.1 954.7,1159.3 954.4,1163.5 954.0,1167.7 953.7,1172.0 953.4,1176.2 953.1,1180.4 952.9,1184.7 952.6,1188.9 952.4,1193.1 952.2,1197.4 952.0,1201.6 951.8,1205.8 951.5,1210.0 951.3,1214.3 951.1,1218.5 950.9,1222.7 950.7,1227.0 950.5,1231.2 950.3,1235.4 950.1,1239.7 949.9,1243.9 949.7,1248.1 949.5,1252.3 949.4,1256.6 949.3,1260.8 949.2,1265.0 949.1,1269.3 949.1,1273.5 949.1,1277.7 949.1,1282.0 949.2,1286.2 949.3,1290.4 949.4,1294.6 949.5,1298.9 949.7,1303.1 949.9,1307.3 950.0,1311.6 950.2,1315.8 950.4,1320.0 950.7,1324.3 950.9,1328.5 951.2,1332.7 951.5,1336.9 951.8,1341.2 952.1,1345.4 952.4,1349.6 952.7,1353.9 953.0,1358.1 953.3,1362.3 953.5,1366.5 953.8,1370.8 954.0,1375.0 954.3,1379.2 954.4,1383.5 954.6,1387.7 954.7,1391.9 954.8,1396.2 954.9,1400.4 954.9,1404.6 955.0,1408.8 955.1,1413.1 955.1,1417.3 955.2,1421.5 955.3,1425.8 955.4,1430.0 955.4,1434.2 955.5,1438.5 955.6,1442.7 955.6,1446.9 955.7,1451.1 955.7,1455.4 955.8,1459.6 955.8,1463.8 955.8,1468.1 955.9,1472.3 955.9,1476.5 956.0,1480.8 956.0,1485.0 956.0,1489.2 956.1,1493.4 956.1,1497.7 956.2,1501.9 956.2,1506.1 956.2,1510.4 956.3,1514.6 956.3,1518.8 956.4,1523.1 956.4,1527.3 956.5,1531.5 956.5,1535.7 956.6,1540.0 956.6,1544.2 956.7,1548.4 956.7,1552.7 956.8,1556.9 956.9,1561.1 957.0,1565.4 957.1,1569.6 957.2,1573.8 957.3,1578.0 957.6,1582.3Z" fill="#3d85c6" stroke="#60666b" stroke-width="2.2" stroke-linejoin="round"/><path d="M1045.7,1496.9 1046.0,1493.5 1046.2,1490.2 1046.4,1486.8 1046.6,1483.4 1046.8,1480.1 1046.9,1476.7 1047.1,1473.4 1047.2,1470.0 1047.3,1466.6 1047.4,1463.3 1047.5,1459.9 1047.6,1456.5 1047.6,1453.2 1047.7,1449.8 1047.8,1446.5 1047.9,1443.1 1047.9,1439.7 1048.0,1436.4 1048.1,1433.0 1048.1,1429.6 1048.2,1426.3 1048.2,1422.9 1048.3,1419.6 1048.4,1416.2 1048.4,1412.8 1048.5,1409.5 1048.5,1406.1 1048.6,1402.7 1048.7,1399.4 1048.7,1396.0 1048.8,1392.7 1048.9,1389.3 1049.0,1385.9 1049.1,1382.6 1049.2,1379.2 1049.4,1375.8 1049.5,1372.5 1049.7,1369.1 1049.8,1365.8 1050.0,1362.4 1050.2,1359.0 1050.4,1355.7 1050.7,1352.3 1050.9,1348.9 1051.2,1345.6 1051.4,1342.2 1051.7,1338.9 1052.0,1335.5 1052.3,1332.1 1052.6,1328.8 1052.9,1325.4 1053.2,1322.0 1053.5,1318.7 1053.9,1315.3 1054.2,1312.0 1054.5,1308.6 1054.8,1305.2 1055.0,1301.9 1055.2,1298.5 1055.3,1295.1 1055.4,1291.8 1055.5,1288.4 1055.6,1285.1 1055.7,1281.7 1055.7,1278.3 1055.7,1275.0 1055.6,1271.6 1055.5,1268.2 1055.4,1264.9 1055.3,1261.5 1055.1,1258.2 1054.9,1254.8 1054.7,1251.4 1054.4,1248.1 1054.1,1244.7 1053.8,1241.3 1053.4,1238.0 1052.9,1234.6 1052.5,1231.3 1052.1,1227.9 1051.7,1224.5 1051.4,1221.2 1051.1,1217.8 1050.8,1214.4 1050.5,1211.1 1050.2,1207.7 1050.0,1204.4 1049.7,1201.0 1049.5,1197.6 1049.2,1194.3 1049.0,1190.9 1048.7,1187.5 1048.5,1184.2 1048.3,1180.8 1048.1,1177.5 1047.9,1174.1 1047.7,1170.7 1047.5,1167.4 1047.3,1164.0 1047.2,1160.6 1047.0,1157.3 1046.8,1153.9 1046.7,1150.6 1046.5,1147.2 1046.3,1143.8 1046.2,1140.5 1046.0,1137.1 1045.9,1133.7 1045.7,1130.4 1044.5,1130.4 1044.3,1133.7 1044.2,1137.1 1044.0,1140.5 1043.9,1143.8 1043.7,1147.2 1043.5,1150.6 1043.4,1153.9 1043.2,1157.3 1043.0,1160.6 1042.9,1164.0 1042.7,1167.4 1042.5,1170.7 1042.3,1174.1 1042.1,1177.5 1041.9,1180.8 1041.7,1184.2 1041.5,1187.5 1041.2,1190.9 1041.0,1194.3 1040.7,1197.6 1040.5,1201.0 1040.2,1204.4 1040.0,1207.7 1039.7,1211.1 1039.4,1214.4 1039.1,1217.8 1038.8,1221.2 1038.5,1224.5 1038.1,1227.9 1037.7,1231.3 1037.3,1234.6 1036.8,1238.0 1036.4,1241.3 1036.1,1244.7 1035.8,1248.1 1035.5,1251.4 1035.3,1254.8 1035.1,1258.2 1034.9,1261.5 1034.8,1264.9 1034.7,1268.2 1034.6,1271.6 1034.5,1275.0 1034.5,1278.3 1034.5,1281.7 1034.6,1285.1 1034.7,1288.4 1034.8,1291.8 1034.9,1295.1 1035.0,1298.5 1035.2,1301.9 1035.4,1305.2 1035.7,1308.6 1036.0,1312.0 1036.3,1315.3 1036.7,1318.7 1037.0,1322.0 1037.3,1325.4 1037.6,1328.8 1037.9,1332.1 1038.2,1335.5 1038.5,1338.9 1038.8,1342.2 1039.0,1345.6 1039.3,1348.9 1039.5,1352.3 1039.8,1355.7 1040.0,1359.0 1040.2,1362.4 1040.4,1365.8 1040.5,1369.1 1040.7,1372.5 1040.8,1375.8 1041.0,1379.2 1041.1,1382.6 1041.2,1385.9 1041.3,1389.3 1041.4,1392.7 1041.5,1396.0 1041.5,1399.4 1041.6,1402.7 1041.7,1406.1 1041.7,1409.5 1041.8,1412.8 1041.8,1416.2 1041.9,1419.6 1042.0,1422.9 1042.0,1426.3 1042.1,1429.6 1042.1,1433.0 1042.2,1436.4 1042.3,1439.7 1042.3,1443.1 1042.4,1446.5 1042.5,1449.8 1042.6,1453.2 1042.6,1456.5 1042.7,1459.9 1042.8,1463.3 1042.9,1466.6 1043.0,1470.0 1043.1,1473.4 1043.3,1476.7 1043.4,1480.1 1043.6,1483.4 1043.8,1486.8 1044.0,1490.2 1044.2,1493.5 1044.5,1496.9Z" fill="#3d85c6" stroke="#60666b" stroke-width="2.2" stroke-linejoin="round"/><path d="M1132.7,1517.7 1132.9,1514.7 1133.0,1511.7 1133.1,1508.6 1133.2,1505.6 1133.3,1502.6 1133.5,1499.6 1133.6,1496.5 1133.7,1493.5 1133.8,1490.5 1133.9,1487.5 1134.0,1484.4 1134.1,1481.4 1134.2,1478.4 1134.2,1475.4 1134.3,1472.3 1134.3,1469.3 1134.4,1466.3 1134.4,1463.2 1134.4,1460.2 1134.5,1457.2 1134.5,1454.2 1134.6,1451.1 1134.6,1448.1 1134.7,1445.1 1134.7,1442.1 1134.8,1439.0 1134.8,1436.0 1134.8,1433.0 1134.9,1430.0 1134.9,1426.9 1135.0,1423.9 1135.0,1420.9 1135.1,1417.9 1135.1,1414.8 1135.2,1411.8 1135.3,1408.8 1135.4,1405.7 1135.6,1402.7 1135.7,1399.7 1135.8,1396.7 1136.0,1393.6 1136.2,1390.6 1136.4,1387.6 1136.7,1384.6 1137.0,1381.5 1137.4,1378.5 1137.8,1375.5 1138.2,1372.5 1138.7,1369.4 1139.1,1366.4 1139.5,1363.4 1139.9,1360.4 1140.3,1357.3 1140.7,1354.3 1141.0,1351.3 1141.4,1348.2 1141.7,1345.2 1142.1,1342.2 1142.4,1339.2 1142.7,1336.1 1143.0,1333.1 1143.2,1330.1 1143.4,1327.1 1143.6,1324.0 1143.8,1321.0 1143.9,1318.0 1144.0,1315.0 1144.1,1311.9 1144.2,1308.9 1144.3,1305.9 1144.3,1302.9 1144.3,1299.8 1144.2,1296.8 1144.2,1293.8 1144.0,1290.7 1143.9,1287.7 1143.8,1284.7 1143.6,1281.7 1143.4,1278.6 1143.2,1275.6 1142.9,1272.6 1142.6,1269.6 1142.3,1266.5 1141.9,1263.5 1141.5,1260.5 1141.2,1257.5 1140.8,1254.4 1140.3,1251.4 1139.9,1248.4 1139.3,1245.4 1138.8,1242.3 1138.2,1239.3 1137.5,1236.3 1136.9,1233.2 1136.3,1230.2 1135.8,1227.2 1135.3,1224.2 1134.9,1221.1 1134.6,1218.1 1134.3,1215.1 1134.1,1212.1 1133.9,1209.0 1133.7,1206.0 1133.5,1203.0 1133.4,1200.0 1133.2,1196.9 1133.1,1193.9 1132.9,1190.9 1132.7,1187.9 1131.5,1187.9 1131.3,1190.9 1131.1,1193.9 1131.0,1196.9 1130.8,1200.0 1130.7,1203.0 1130.5,1206.0 1130.3,1209.0 1130.1,1212.1 1129.9,1215.1 1129.6,1218.1 1129.3,1221.1 1128.9,1224.2 1128.4,1227.2 1127.9,1230.2 1127.3,1233.2 1126.7,1236.3 1126.0,1239.3 1125.4,1242.3 1124.9,1245.4 1124.3,1248.4 1123.9,1251.4 1123.4,1254.4 1123.0,1257.5 1122.7,1260.5 1122.3,1263.5 1121.9,1266.5 1121.6,1269.6 1121.3,1272.6 1121.0,1275.6 1120.8,1278.6 1120.6,1281.7 1120.4,1284.7 1120.3,1287.7 1120.2,1290.7 1120.0,1293.8 1120.0,1296.8 1119.9,1299.8 1119.9,1302.9 1119.9,1305.9 1120.0,1308.9 1120.1,1311.9 1120.2,1315.0 1120.3,1318.0 1120.4,1321.0 1120.6,1324.0 1120.8,1327.1 1121.0,1330.1 1121.2,1333.1 1121.5,1336.1 1121.8,1339.2 1122.1,1342.2 1122.5,1345.2 1122.8,1348.2 1123.2,1351.3 1123.5,1354.3 1123.9,1357.3 1124.3,1360.4 1124.7,1363.4 1125.1,1366.4 1125.5,1369.4 1126.0,1372.5 1126.4,1375.5 1126.8,1378.5 1127.2,1381.5 1127.5,1384.6 1127.8,1387.6 1128.0,1390.6 1128.2,1393.6 1128.4,1396.7 1128.5,1399.7 1128.6,1402.7 1128.8,1405.7 1128.9,1408.8 1129.0,1411.8 1129.1,1414.8 1129.1,1417.9 1129.2,1420.9 1129.2,1423.9 1129.3,1426.9 1129.3,1430.0 1129.4,1433.0 1129.4,1436.0 1129.4,1439.0 1129.5,1442.1 1129.5,1445.1 1129.6,1448.1 1129.6,1451.1 1129.7,1454.2 1129.7,1457.2 1129.8,1460.2 1129.8,1463.2 1129.8,1466.3 1129.9,1469.3 1129.9,1472.3 1130.0,1475.4 1130.0,1478.4 1130.1,1481.4 1130.2,1484.4 1130.3,1487.5 1130.4,1490.5 1130.5,1493.5 1130.6,1496.5 1130.7,1499.6 1130.9,1502.6 1131.0,1505.6 1131.1,1508.6 1131.2,1511.7 1131.3,1514.7 1131.5,1517.7Z" fill="#3d85c6" stroke="#60666b" stroke-width="2.2" stroke-linejoin="round"/><path d="M1220.1,1524.0 1220.3,1520.5 1220.4,1517.1 1220.5,1513.7 1220.6,1510.3 1220.7,1506.9 1220.9,1503.4 1221.0,1500.0 1221.1,1496.6 1221.3,1493.2 1221.4,1489.8 1221.5,1486.3 1221.5,1482.9 1221.6,1479.5 1221.7,1476.1 1221.7,1472.7 1221.7,1469.2 1221.8,1465.8 1221.8,1462.4 1221.8,1459.0 1221.9,1455.6 1221.9,1452.1 1221.9,1448.7 1222.0,1445.3 1222.0,1441.9 1222.1,1438.5 1222.1,1435.1 1222.2,1431.6 1222.2,1428.2 1222.2,1424.8 1222.3,1421.4 1222.4,1418.0 1222.4,1414.5 1222.5,1411.1 1222.6,1407.7 1222.7,1404.3 1222.8,1400.9 1222.9,1397.4 1223.1,1394.0 1223.2,1390.6 1223.4,1387.2 1223.6,1383.8 1223.8,1380.3 1224.1,1376.9 1224.3,1373.5 1224.6,1370.1 1224.9,1366.7 1225.2,1363.2 1225.6,1359.8 1225.9,1356.4 1226.3,1353.0 1226.6,1349.6 1226.9,1346.1 1227.2,1342.7 1227.5,1339.3 1227.7,1335.9 1228.0,1332.5 1228.2,1329.0 1228.4,1325.6 1228.6,1322.2 1228.7,1318.8 1228.9,1315.4 1229.0,1311.9 1229.1,1308.5 1229.2,1305.1 1229.2,1301.7 1229.3,1298.3 1229.3,1294.8 1229.4,1291.4 1229.4,1288.0 1229.4,1284.6 1229.3,1281.2 1229.3,1277.7 1229.2,1274.3 1229.1,1270.9 1229.0,1267.5 1228.8,1264.1 1228.7,1260.6 1228.5,1257.2 1228.3,1253.8 1228.2,1250.4 1227.9,1247.0 1227.7,1243.5 1227.4,1240.1 1227.2,1236.7 1226.9,1233.3 1226.7,1229.9 1226.4,1226.4 1226.1,1223.0 1225.8,1219.6 1225.4,1216.2 1225.1,1212.8 1224.7,1209.3 1224.4,1205.9 1224.0,1202.5 1223.7,1199.1 1223.3,1195.7 1223.0,1192.2 1222.7,1188.8 1222.4,1185.4 1222.1,1182.0 1221.8,1178.6 1221.6,1175.1 1221.3,1171.7 1221.1,1168.3 1220.9,1164.9 1220.7,1161.5 1220.5,1158.0 1220.4,1154.6 1220.1,1151.2 1218.9,1151.2 1218.6,1154.6 1218.5,1158.0 1218.3,1161.5 1218.1,1164.9 1217.9,1168.3 1217.7,1171.7 1217.4,1175.1 1217.2,1178.6 1216.9,1182.0 1216.6,1185.4 1216.3,1188.8 1216.0,1192.2 1215.7,1195.7 1215.3,1199.1 1215.0,1202.5 1214.6,1205.9 1214.3,1209.3 1213.9,1212.8 1213.6,1216.2 1213.2,1219.6 1212.9,1223.0 1212.6,1226.4 1212.3,1229.9 1212.1,1233.3 1211.8,1236.7 1211.6,1240.1 1211.3,1243.5 1211.1,1247.0 1210.8,1250.4 1210.7,1253.8 1210.5,1257.2 1210.3,1260.6 1210.2,1264.1 1210.0,1267.5 1209.9,1270.9 1209.8,1274.3 1209.7,1277.7 1209.7,1281.2 1209.6,1284.6 1209.6,1288.0 1209.6,1291.4 1209.7,1294.8 1209.7,1298.3 1209.8,1301.7 1209.8,1305.1 1209.9,1308.5 1210.0,1311.9 1210.1,1315.4 1210.3,1318.8 1210.4,1322.2 1210.6,1325.6 1210.8,1329.0 1211.0,1332.5 1211.3,1335.9 1211.5,1339.3 1211.8,1342.7 1212.1,1346.1 1212.4,1349.6 1212.7,1353.0 1213.1,1356.4 1213.4,1359.8 1213.8,1363.2 1214.1,1366.7 1214.4,1370.1 1214.7,1373.5 1214.9,1376.9 1215.2,1380.3 1215.4,1383.8 1215.6,1387.2 1215.8,1390.6 1215.9,1394.0 1216.1,1397.4 1216.2,1400.9 1216.3,1404.3 1216.4,1407.7 1216.5,1411.1 1216.6,1414.5 1216.6,1418.0 1216.7,1421.4 1216.8,1424.8 1216.8,1428.2 1216.8,1431.6 1216.9,1435.1 1216.9,1438.5 1217.0,1441.9 1217.0,1445.3 1217.1,1448.7 1217.1,1452.1 1217.1,1455.6 1217.2,1459.0 1217.2,1462.4 1217.2,1465.8 1217.3,1469.2 1217.3,1472.7 1217.3,1476.1 1217.4,1479.5 1217.5,1482.9 1217.5,1486.3 1217.6,1489.8 1217.7,1493.2 1217.9,1496.6 1218.0,1500.0 1218.1,1503.4 1218.3,1506.9 1218.4,1510.3 1218.5,1513.7 1218.6,1517.1 1218.7,1520.5 1218.9,1524.0Z" fill="#3d85c6" stroke="#60666b" stroke-width="2.2" stroke-linejoin="round"/><path d="M1307.2,1551.0 1307.3,1547.2 1307.4,1543.3 1307.5,1539.4 1307.6,1535.5 1307.7,1531.6 1307.8,1527.8 1307.9,1523.9 1308.0,1520.0 1308.1,1516.1 1308.2,1512.3 1308.3,1508.4 1308.5,1504.5 1308.8,1500.6 1309.1,1496.7 1310.1,1492.9 1311.9,1489.0 1314.4,1485.1 1318.7,1481.2 1324.7,1477.4 1331.7,1473.5 1339.1,1469.6 1345.3,1465.7 1349.8,1461.8 1352.3,1458.0 1351.6,1454.1 1347.7,1450.2 1342.0,1446.3 1335.2,1442.4 1328.5,1438.6 1322.7,1434.7 1318.0,1430.8 1314.5,1426.9 1312.4,1423.1 1311.0,1419.2 1310.1,1415.3 1309.6,1411.4 1309.3,1407.5 1309.0,1403.7 1308.8,1399.8 1308.6,1395.9 1308.5,1392.0 1308.3,1388.1 1308.2,1384.3 1308.1,1380.4 1308.0,1376.5 1308.0,1372.6 1307.9,1368.8 1307.9,1364.9 1307.8,1361.0 1307.8,1357.1 1307.8,1353.2 1307.8,1349.4 1307.7,1345.5 1307.7,1341.6 1307.7,1337.7 1307.6,1333.8 1307.6,1330.0 1307.6,1326.1 1307.5,1322.2 1307.5,1318.3 1307.5,1314.5 1307.5,1310.6 1307.5,1306.7 1307.5,1302.8 1307.5,1298.9 1307.5,1295.1 1307.5,1291.2 1307.5,1287.3 1307.5,1283.4 1307.5,1279.6 1307.5,1275.7 1307.5,1271.8 1307.4,1267.9 1307.4,1264.0 1307.4,1260.2 1307.4,1256.3 1307.4,1252.4 1307.4,1248.5 1307.4,1244.6 1307.4,1240.8 1307.4,1236.9 1307.4,1233.0 1307.4,1229.1 1307.4,1225.3 1307.4,1221.4 1307.4,1217.5 1307.4,1213.6 1307.4,1209.7 1307.4,1205.9 1307.4,1202.0 1307.4,1198.1 1307.4,1194.2 1307.4,1190.3 1307.4,1186.5 1307.4,1182.6 1307.4,1178.7 1307.3,1174.8 1307.3,1171.0 1307.3,1167.1 1307.3,1163.2 1307.3,1159.3 1307.3,1155.4 1307.3,1151.6 1307.3,1147.7 1307.3,1143.8 1307.3,1139.9 1307.3,1136.0 1307.3,1132.2 1307.3,1128.3 1305.5,1128.3 1305.5,1132.2 1305.5,1136.0 1305.5,1139.9 1305.5,1143.8 1305.5,1147.7 1305.5,1151.6 1305.5,1155.4 1305.5,1159.3 1305.5,1163.2 1305.5,1167.1 1305.5,1171.0 1305.5,1174.8 1305.4,1178.7 1305.4,1182.6 1305.4,1186.5 1305.4,1190.3 1305.4,1194.2 1305.4,1198.1 1305.4,1202.0 1305.4,1205.9 1305.4,1209.7 1305.4,1213.6 1305.4,1217.5 1305.4,1221.4 1305.4,1225.3 1305.4,1229.1 1305.4,1233.0 1305.4,1236.9 1305.4,1240.8 1305.4,1244.6 1305.4,1248.5 1305.4,1252.4 1305.4,1256.3 1305.4,1260.2 1305.4,1264.0 1305.4,1267.9 1305.3,1271.8 1305.3,1275.7 1305.3,1279.6 1305.3,1283.4 1305.3,1287.3 1305.3,1291.2 1305.3,1295.1 1305.3,1298.9 1305.3,1302.8 1305.3,1306.7 1305.3,1310.6 1305.3,1314.5 1305.3,1318.3 1305.3,1322.2 1305.2,1326.1 1305.2,1330.0 1305.2,1333.8 1305.1,1337.7 1305.1,1341.6 1305.1,1345.5 1305.0,1349.4 1305.0,1353.2 1305.0,1357.1 1305.0,1361.0 1304.9,1364.9 1304.9,1368.8 1304.8,1372.6 1304.8,1376.5 1304.7,1380.4 1304.6,1384.3 1304.5,1388.1 1304.3,1392.0 1304.2,1395.9 1304.0,1399.8 1303.8,1403.7 1303.5,1407.5 1303.2,1411.4 1302.7,1415.3 1301.8,1419.2 1300.4,1423.1 1298.3,1426.9 1294.8,1430.8 1290.1,1434.7 1284.3,1438.6 1277.6,1442.4 1270.8,1446.3 1265.1,1450.2 1261.2,1454.1 1260.5,1458.0 1263.0,1461.8 1267.5,1465.7 1273.7,1469.6 1281.1,1473.5 1288.1,1477.4 1294.1,1481.2 1298.4,1485.1 1300.9,1489.0 1302.7,1492.9 1303.7,1496.7 1304.0,1500.6 1304.3,1504.5 1304.5,1508.4 1304.6,1512.3 1304.7,1516.1 1304.8,1520.0 1304.9,1523.9 1305.0,1527.8 1305.1,1531.6 1305.2,1535.5 1305.3,1539.4 1305.4,1543.3 1305.5,1547.2 1305.6,1551.0Z" fill="#3d85c6" stroke="#60666b" stroke-width="2.2" stroke-linejoin="round"/><line x1="958.2" y1="1230.3" x2="958.2" y2="1417.8" stroke="#60666b" stroke-width="1.6" /><line x1="958.2" y1="1257.4" x2="958.2" y2="1328.2" stroke="#60666b" stroke-width="4.8" /><circle cx="958.2" cy="1278.2" r="2.7" fill="#fff" /><line x1="1045.1" y1="1207.4" x2="1045.1" y2="1413.6" stroke="#60666b" stroke-width="1.6" /><line x1="1045.1" y1="1269.9" x2="1045.1" y2="1336.5" stroke="#60666b" stroke-width="4.8" /><circle cx="1045.1" cy="1279.1" r="2.7" fill="#fff" /><line x1="1132.1" y1="1257.4" x2="1132.1" y2="1430.3" stroke="#60666b" stroke-width="1.6" /><line x1="1132.1" y1="1286.6" x2="1132.1" y2="1353.2" stroke="#60666b" stroke-width="4.8" /><circle cx="1132.1" cy="1303.2" r="2.7" fill="#fff" /><line x1="1219.5" y1="1232.4" x2="1219.5" y2="1421.9" stroke="#60666b" stroke-width="1.6" /><line x1="1219.5" y1="1257.4" x2="1219.5" y2="1336.5" stroke="#60666b" stroke-width="4.8" /><circle cx="1219.5" cy="1297.0" r="2.7" fill="#fff" /><line x1="1306.4" y1="1419.8" x2="1306.4" y2="1488.6" stroke="#60666b" stroke-width="1.6" /><line x1="1306.4" y1="1442.8" x2="1306.4" y2="1465.7" stroke="#60666b" stroke-width="4.8" /><circle cx="1306.4" cy="1454.0" r="2.7" fill="#fff" /><path d="M928.4,1097.5 V1602 H1375.5" fill="none" stroke="#111" stroke-width="3" stroke-linejoin="miter"/><line x1="919.2" y1="1567.7" x2="928.4" y2="1567.7" stroke="#111" stroke-width="2.6" /><text x="911.5" y="1573.8" font-size="17.2" text-anchor="end">−3</text><line x1="919.2" y1="1484.4" x2="928.4" y2="1484.4" stroke="#111" stroke-width="2.6" /><text x="911.5" y="1490.5" font-size="17.2" text-anchor="end">−1</text><line x1="919.2" y1="1401.1" x2="928.4" y2="1401.1" stroke="#111" stroke-width="2.6" /><text x="911.5" y="1407.2" font-size="17.2" text-anchor="end">1</text><line x1="919.2" y1="1317.8" x2="928.4" y2="1317.8" stroke="#111" stroke-width="2.6" /><text x="911.5" y="1323.9" font-size="17.2" text-anchor="end">3</text><line x1="919.2" y1="1234.5" x2="928.4" y2="1234.5" stroke="#111" stroke-width="2.6" /><text x="911.5" y="1240.6" font-size="17.2" text-anchor="end">5</text><line x1="919.2" y1="1151.2" x2="928.4" y2="1151.2" stroke="#111" stroke-width="2.6" /><text x="911.5" y="1157.3" font-size="17.2" text-anchor="end">7</text><line x1="958.2" y1="1602" x2="958.2" y2="1610" stroke="#111" stroke-width="2.6" /><text x="972.7" y="1618.5" font-size="20.3" transform="rotate(-45 972.7 1618.5)" text-anchor="end">Gal4_AD1</text><line x1="1045.1" y1="1602" x2="1045.1" y2="1610" stroke="#111" stroke-width="2.6" /><text x="1059.6" y="1618.5" font-size="20.3" transform="rotate(-45 1059.6 1618.5)" text-anchor="end">VP16C</text><line x1="1132.1" y1="1602" x2="1132.1" y2="1610" stroke="#111" stroke-width="2.6" /><text x="1146.6" y="1618.5" font-size="20.3" transform="rotate(-45 1146.6 1618.5)" text-anchor="end">VP16N</text><line x1="1219.5" y1="1602" x2="1219.5" y2="1610" stroke="#111" stroke-width="2.6" /><text x="1234" y="1618.5" font-size="20.3" transform="rotate(-45 1234 1618.5)" text-anchor="end">WAR1_Cterm</text><line x1="1306.4" y1="1602" x2="1306.4" y2="1610" stroke="#111" stroke-width="2.6" /><text x="1320.9" y="1618.5" font-size="20.3" transform="rotate(-45 1320.9 1618.5)" text-anchor="end">At Fragments</text><text x="892" y="1344" font-size="19.4" transform="rotate(-90 892 1344)" text-anchor="middle">AD Score</text><text x="1398" y="1106" font-size="26" font-weight="bold">f</text><line x1="1442.2" y1="1454.8" x2="1665" y2="1454.8" stroke="#888888" stroke-width="4" stroke-dasharray="17 5.5"/><line x1="1469.8" y1="1155" x2="1469.8" y2="1205.8" stroke="#000" stroke-width="3" /><line x1="1469.8" y1="1324.1" x2="1469.8" y2="1327.8" stroke="#000" stroke-width="3" /><rect x="1447.5" y="1205.8" width="44.6" height="118.3" fill="none" stroke="#000" stroke-width="3"/><line x1="1447.5" y1="1239.2" x2="1492.1" y2="1239.2" stroke="#000" stroke-width="3" /><line x1="1457.8" y1="1155" x2="1481.8" y2="1155" stroke="#000" stroke-width="3" /><line x1="1457.8" y1="1327.8" x2="1481.8" y2="1327.8" stroke="#000" stroke-width="3" /><line x1="1525.1" y1="1122.3" x2="1525.1" y2="1223.2" stroke="#000" stroke-width="3" /><line x1="1525.1" y1="1337.9" x2="1525.1" y2="1481.7" stroke="#000" stroke-width="3" /><rect x="1502.8" y="1223.2" width="44.6" height="114.7" fill="none" stroke="#000" stroke-width="3"/><line x1="1502.8" y1="1240.6" x2="1547.4" y2="1240.6" stroke="#000" stroke-width="3" /><line x1="1513.1" y1="1122.3" x2="1537.1" y2="1122.3" stroke="#000" stroke-width="3" /><line x1="1513.1" y1="1481.7" x2="1537.1" y2="1481.7" stroke="#000" stroke-width="3" /><line x1="1580.6" y1="1204.3" x2="1580.6" y2="1257.3" stroke="#000" stroke-width="3" /><line x1="1580.6" y1="1369.1" x2="1580.6" y2="1534.7" stroke="#000" stroke-width="3" /><rect x="1558.3" y="1257.3" width="44.6" height="111.8" fill="none" stroke="#000" stroke-width="3"/><line x1="1558.3" y1="1282.7" x2="1602.9" y2="1282.7" stroke="#000" stroke-width="3" /><line x1="1568.6" y1="1204.3" x2="1592.6" y2="1204.3" stroke="#000" stroke-width="3" /><line x1="1568.6" y1="1534.7" x2="1592.6" y2="1534.7" stroke="#000" stroke-width="3" /><line x1="1636.1" y1="1158.6" x2="1636.1" y2="1205.1" stroke="#000" stroke-width="3" /><line x1="1636.1" y1="1340.8" x2="1636.1" y2="1525.9" stroke="#000" stroke-width="3" /><rect x="1613.8" y="1205.1" width="44.6" height="135.8" fill="none" stroke="#000" stroke-width="3"/><line x1="1613.8" y1="1271.8" x2="1658.4" y2="1271.8" stroke="#000" stroke-width="3" /><line x1="1624.1" y1="1158.6" x2="1648.1" y2="1158.6" stroke="#000" stroke-width="3" /><line x1="1624.1" y1="1525.9" x2="1648.1" y2="1525.9" stroke="#000" stroke-width="3" /><ellipse cx="1469.8" cy="1155.0" rx="1.8" ry="3.6" fill="#98df8a"/><ellipse cx="1469.8" cy="1160.8" rx="1.8" ry="3.6" fill="#2ca02c"/><ellipse cx="1469.8" cy="1200.7" rx="1.8" ry="3.6" fill="#ff7f0e"/><ellipse cx="1469.8" cy="1231.2" rx="1.8" ry="3.6" fill="#1f77b4"/><ellipse cx="1469.8" cy="1238.5" rx="1.8" ry="3.6" fill="#ff9896"/><ellipse cx="1469.8" cy="1242.8" rx="1.8" ry="3.6" fill="#d62728"/><ellipse cx="1469.8" cy="1318.3" rx="1.8" ry="3.6" fill="#aec7e8"/><ellipse cx="1469.8" cy="1327.8" rx="1.8" ry="3.6" fill="#9467bd"/><ellipse cx="1469.8" cy="1541.9" rx="1.8" ry="3.6" fill="#ffbb78"/><ellipse cx="1469.8" cy="1578.2" rx="1.8" ry="3.6" fill="#c5b0d5"/><ellipse cx="1525.1" cy="1122.3" rx="1.8" ry="3.6" fill="#98df8a"/><ellipse cx="1525.1" cy="1213.8" rx="1.8" ry="3.6" fill="#c5b0d5"/><ellipse cx="1525.1" cy="1223.9" rx="1.8" ry="3.6" fill="#ff7f0e"/><ellipse cx="1525.1" cy="1224.7" rx="1.8" ry="3.6" fill="#ffbb78"/><ellipse cx="1525.1" cy="1228.3" rx="1.8" ry="3.6" fill="#2ca02c"/><ellipse cx="1525.1" cy="1257.3" rx="1.8" ry="3.6" fill="#ff9896"/><ellipse cx="1525.1" cy="1297.3" rx="1.8" ry="3.6" fill="#d62728"/><ellipse cx="1525.1" cy="1351.7" rx="1.8" ry="3.6" fill="#1f77b4"/><ellipse cx="1525.1" cy="1433.0" rx="1.8" ry="3.6" fill="#aec7e8"/><ellipse cx="1525.1" cy="1481.7" rx="1.8" ry="3.6" fill="#9467bd"/><ellipse cx="1580.6" cy="1204.3" rx="1.8" ry="3.6" fill="#ffbb78"/><ellipse cx="1580.6" cy="1242.1" rx="1.8" ry="3.6" fill="#9467bd"/><ellipse cx="1580.6" cy="1258.8" rx="1.8" ry="3.6" fill="#ff7f0e"/><ellipse cx="1580.6" cy="1260.2" rx="1.8" ry="3.6" fill="#d62728"/><ellipse cx="1580.6" cy="1258.8" rx="1.8" ry="3.6" fill="#2ca02c"/><ellipse cx="1580.6" cy="1308.1" rx="1.8" ry="3.6" fill="#c5b0d5"/><ellipse cx="1580.6" cy="1332.8" rx="1.8" ry="3.6" fill="#1f77b4"/><ellipse cx="1580.6" cy="1382.2" rx="1.8" ry="3.6" fill="#aec7e8"/><ellipse cx="1580.6" cy="1383.7" rx="1.8" ry="3.6" fill="#ff9896"/><ellipse cx="1580.6" cy="1534.7" rx="1.8" ry="3.6" fill="#98df8a"/><ellipse cx="1636.1" cy="1158.6" rx="1.8" ry="3.6" fill="#1f77b4"/><ellipse cx="1636.1" cy="1168.0" rx="1.8" ry="3.6" fill="#98df8a"/><ellipse cx="1636.1" cy="1204.3" rx="1.8" ry="3.6" fill="#9467bd"/><ellipse cx="1636.1" cy="1211.6" rx="1.8" ry="3.6" fill="#d62728"/><ellipse cx="1636.1" cy="1233.4" rx="1.8" ry="3.6" fill="#ffbb78"/><ellipse cx="1636.1" cy="1311.8" rx="1.8" ry="3.6" fill="#98df8a"/><ellipse cx="1636.1" cy="1332.8" rx="1.8" ry="3.6" fill="#c5b0d5"/><ellipse cx="1636.1" cy="1345.9" rx="1.8" ry="3.6" fill="#ff7f0e"/><ellipse cx="1636.1" cy="1344.4" rx="1.8" ry="3.6" fill="#ff9896"/><ellipse cx="1636.1" cy="1525.9" rx="1.8" ry="3.6" fill="#aec7e8"/><path d="M1442.2,1098.8 V1601.7 H1665" fill="none" stroke="#000" stroke-width="3.2"/><line x1="1434.2" y1="1600" x2="1442.2" y2="1600" stroke="#000" stroke-width="2.6" /><text x="1432" y="1606.1" font-size="17.2" text-anchor="end">−1</text><line x1="1434.2" y1="1527.4" x2="1442.2" y2="1527.4" stroke="#000" stroke-width="2.6" /><text x="1432" y="1533.5" font-size="17.2" text-anchor="end">0</text><line x1="1434.2" y1="1454.8" x2="1442.2" y2="1454.8" stroke="#000" stroke-width="2.6" /><text x="1432" y="1460.9" font-size="17.2" text-anchor="end">1</text><line x1="1434.2" y1="1382.2" x2="1442.2" y2="1382.2" stroke="#000" stroke-width="2.6" /><text x="1432" y="1388.3" font-size="17.2" text-anchor="end">2</text><line x1="1434.2" y1="1309.6" x2="1442.2" y2="1309.6" stroke="#000" stroke-width="2.6" /><text x="1432" y="1315.7" font-size="17.2" text-anchor="end">3</text><line x1="1434.2" y1="1237" x2="1442.2" y2="1237" stroke="#000" stroke-width="2.6" /><text x="1432" y="1243.1" font-size="17.2" text-anchor="end">4</text><line x1="1434.2" y1="1164.4" x2="1442.2" y2="1164.4" stroke="#000" stroke-width="2.6" /><text x="1432" y="1170.5" font-size="17.2" text-anchor="end">5</text><line x1="1469.8" y1="1601.7" x2="1469.8" y2="1609.7" stroke="#000" stroke-width="2.6" /><text x="1484.3" y="1618.2" font-size="20.3" transform="rotate(-45 1484.3 1618.2)" text-anchor="end">Gal4_AD1</text><line x1="1525.1" y1="1601.7" x2="1525.1" y2="1609.7" stroke="#000" stroke-width="2.6" /><text x="1539.6" y="1618.2" font-size="20.3" transform="rotate(-45 1539.6 1618.2)" text-anchor="end">VP16C</text><line x1="1580.6" y1="1601.7" x2="1580.6" y2="1609.7" stroke="#000" stroke-width="2.6" /><text x="1595.1" y="1618.2" font-size="20.3" transform="rotate(-45 1595.1 1618.2)" text-anchor="end">VP16N</text><line x1="1636.1" y1="1601.7" x2="1636.1" y2="1609.7" stroke="#000" stroke-width="2.6" /><text x="1650.6" y="1618.2" font-size="20.3" transform="rotate(-45 1650.6 1618.2)" text-anchor="end">WAR1_Cterm</text><text x="1411" y="1340" font-size="19.4" transform="rotate(-90 1411 1340)" text-anchor="middle">AD Score</text><text x="1693.5" y="1219.5" font-size="14.8">Library</text><circle cx="1694.5" cy="1234.2" r="3.6" fill="#1f77b4" /><text x="1719.3" y="1239.4" font-size="14.6">1</text><circle cx="1694.5" cy="1253.9" r="3.6" fill="#aec7e8" /><text x="1719.3" y="1259.1" font-size="14.6">2</text><circle cx="1694.5" cy="1273.6" r="3.6" fill="#ff7f0e" /><text x="1719.3" y="1278.8" font-size="14.6">3</text><circle cx="1694.5" cy="1293.3" r="3.6" fill="#ffbb78" /><text x="1719.3" y="1298.5" font-size="14.6">4</text><circle cx="1694.5" cy="1313.0" r="3.6" fill="#2ca02c" /><text x="1719.3" y="1318.2" font-size="14.6">5</text><circle cx="1694.5" cy="1332.7" r="3.6" fill="#98df8a" /><text x="1719.3" y="1337.9" font-size="14.6">6</text><circle cx="1694.5" cy="1352.4" r="3.6" fill="#d62728" /><text x="1719.3" y="1357.6" font-size="14.6">7</text><circle cx="1694.5" cy="1372.1" r="3.6" fill="#ff9896" /><text x="1719.3" y="1377.3" font-size="14.6">8</text><circle cx="1694.5" cy="1391.8" r="3.6" fill="#9467bd" /><text x="1719.3" y="1397" font-size="14.6">9</text><circle cx="1694.5" cy="1411.5" r="3.6" fill="#c5b0d5" /><text x="1719.3" y="1416.7" font-size="14.6">10</text><text x="1.5" y="1728" font-size="26" font-weight="bold">g</text><text x="1.5" y="1753.8" font-size="27.4" font-weight="bold">Hits filtered by presence in region of intrinsic disorder (data identical to Figure 1 of the main text)</text><text x="1.5" y="2155.6" font-size="27.2" font-weight="bold">Unfiltered hits</text><text x="1.5" y="1784" font-size="26" font-weight="bold" fill="#a9a9a9">h</text><text x="525.5" y="1782" font-size="26" font-weight="bold" fill="#a9a9a9">i</text><text x="1011.5" y="1788" font-size="26" font-weight="bold" fill="#a9a9a9">j</text><text x="1221" y="1788" font-size="26" font-weight="bold" fill="#a9a9a9">k</text><text x="1516" y="1788" font-size="26" font-weight="bold" fill="#a9a9a9">l</text><text x="1.5" y="2185.5" font-size="26" font-weight="bold" fill="#a9a9a9">h</text><text x="525.5" y="2183.5" font-size="26" font-weight="bold" fill="#a9a9a9">i</text><text x="1011.5" y="2189.5" font-size="26" font-weight="bold" fill="#a9a9a9">j</text><text x="1221" y="2189.5" font-size="26" font-weight="bold" fill="#a9a9a9">k</text><text x="1516" y="2189.5" font-size="26" font-weight="bold" fill="#a9a9a9">l</text><rect x="62.2" y="1802.2" width="15.4" height="44.8" fill="#5fd5d5" stroke="#2e3b3b" stroke-width="1"/><rect x="62.2" y="1846.9" width="15.4" height="161.7" fill="#ec7f2c" stroke="#2e3b3b" stroke-width="1"/><text x="64.4" y="2011.8" font-size="17.0" transform="rotate(90 64.4 2011.8)">MYB</text><rect x="81.2" y="1825.3" width="15.4" height="59.2" fill="#5fd5d5" stroke="#2e3b3b" stroke-width="1"/><rect x="81.2" y="1884.5" width="15.4" height="124.1" fill="#ec7f2c" stroke="#2e3b3b" stroke-width="1"/><text x="83.4" y="2011.8" font-size="17.0" transform="rotate(90 83.4 2011.8)">bHLH</text><rect x="100.3" y="1833.9" width="15.4" height="50.5" fill="#5fd5d5" stroke="#2e3b3b" stroke-width="1"/><rect x="100.3" y="1884.5" width="15.4" height="124.1" fill="#ec7f2c" stroke="#2e3b3b" stroke-width="1"/><text x="102.5" y="2011.8" font-size="17.0" transform="rotate(90 102.5 2011.8)">ERF</text><rect x="119.4" y="1854.1" width="15.4" height="47.6" fill="#5fd5d5" stroke="#2e3b3b" stroke-width="1"/><rect x="119.4" y="1901.8" width="15.4" height="106.8" fill="#ec7f2c" stroke="#2e3b3b" stroke-width="1"/><text x="121.5" y="2011.8" font-size="17.0" transform="rotate(90 121.5 2011.8)">NAC</text><rect x="138.4" y="1864.2" width="15.4" height="82.3" fill="#5fd5d5" stroke="#2e3b3b" stroke-width="1"/><rect x="138.4" y="1946.5" width="15.4" height="62.1" fill="#ec7f2c" stroke="#2e3b3b" stroke-width="1"/><text x="140.6" y="2011.8" font-size="17.0" transform="rotate(90 140.6 2011.8)">C2H2</text><rect x="157.4" y="1906.1" width="15.4" height="27.4" fill="#5fd5d5" stroke="#2e3b3b" stroke-width="1"/><rect x="157.4" y="1933.5" width="15.4" height="75.1" fill="#ec7f2c" stroke="#2e3b3b" stroke-width="1"/><text x="159.6" y="2011.8" font-size="17.0" transform="rotate(90 159.6 2011.8)">WRKY</text><rect x="176.5" y="1907.5" width="15.4" height="28.9" fill="#5fd5d5" stroke="#2e3b3b" stroke-width="1"/><rect x="176.5" y="1936.4" width="15.4" height="72.2" fill="#ec7f2c" stroke="#2e3b3b" stroke-width="1"/><text x="178.7" y="2011.8" font-size="17.0" transform="rotate(90 178.7 2011.8)">bZIP</text><rect x="195.6" y="1922.0" width="15.4" height="33.2" fill="#5fd5d5" stroke="#2e3b3b" stroke-width="1"/><rect x="195.6" y="1955.2" width="15.4" height="53.4" fill="#ec7f2c" stroke="#2e3b3b" stroke-width="1"/><text x="197.7" y="2011.8" font-size="17.0" transform="rotate(90 197.7 2011.8)">M-type MADS</text><rect x="214.6" y="1923.4" width="15.4" height="65.0" fill="#5fd5d5" stroke="#2e3b3b" stroke-width="1"/><rect x="214.6" y="1988.4" width="15.4" height="20.2" fill="#ec7f2c" stroke="#2e3b3b" stroke-width="1"/><text x="216.8" y="2011.8" font-size="17.0" transform="rotate(90 216.8 2011.8)">B3</text><rect x="233.7" y="1933.5" width="15.4" height="44.8" fill="#5fd5d5" stroke="#2e3b3b" stroke-width="1"/><rect x="233.7" y="1978.3" width="15.4" height="30.3" fill="#ec7f2c" stroke="#2e3b3b" stroke-width="1"/><text x="235.8" y="2011.8" font-size="17.0" transform="rotate(90 235.8 2011.8)">MYB related</text><rect x="252.7" y="1940.8" width="15.4" height="40.4" fill="#5fd5d5" stroke="#2e3b3b" stroke-width="1"/><rect x="252.7" y="1981.2" width="15.4" height="27.4" fill="#ec7f2c" stroke="#2e3b3b" stroke-width="1"/><text x="254.9" y="2011.8" font-size="17.0" transform="rotate(90 254.9 2011.8)">HD-ZIP</text><rect x="271.8" y="1942.2" width="15.4" height="33.2" fill="#5fd5d5" stroke="#2e3b3b" stroke-width="1"/><rect x="271.8" y="1975.4" width="15.4" height="33.2" fill="#ec7f2c" stroke="#2e3b3b" stroke-width="1"/><text x="273.9" y="2011.8" font-size="17.0" transform="rotate(90 273.9 2011.8)">C3H</text><rect x="290.8" y="1948.0" width="15.4" height="47.6" fill="#5fd5d5" stroke="#2e3b3b" stroke-width="1"/><rect x="290.8" y="1995.6" width="15.4" height="13.0" fill="#ec7f2c" stroke="#2e3b3b" stroke-width="1"/><text x="293.0" y="2011.8" font-size="17.0" transform="rotate(90 293.0 2011.8)">MIKC MADS</text><rect x="309.9" y="1948.0" width="15.4" height="43.3" fill="#5fd5d5" stroke="#2e3b3b" stroke-width="1"/><rect x="309.9" y="1991.3" width="15.4" height="17.3" fill="#ec7f2c" stroke="#2e3b3b" stroke-width="1"/><text x="312.0" y="2011.8" font-size="17.0" transform="rotate(90 312.0 2011.8)">LBD</text><rect x="328.9" y="1950.9" width="15.4" height="26.0" fill="#5fd5d5" stroke="#2e3b3b" stroke-width="1"/><rect x="328.9" y="1976.8" width="15.4" height="31.8" fill="#ec7f2c" stroke="#2e3b3b" stroke-width="1"/><text x="331.1" y="2011.8" font-size="17.0" transform="rotate(90 331.1 2011.8)">G2-like</text><rect x="347.9" y="1956.6" width="15.4" height="20.2" fill="#5fd5d5" stroke="#2e3b3b" stroke-width="1"/><rect x="347.9" y="1976.8" width="15.4" height="31.8" fill="#ec7f2c" stroke="#2e3b3b" stroke-width="1"/><text x="350.1" y="2011.8" font-size="17.0" transform="rotate(90 350.1 2011.8)">Dof</text><rect x="367.0" y="1961.0" width="15.4" height="14.4" fill="#5fd5d5" stroke="#2e3b3b" stroke-width="1"/><rect x="367.0" y="1975.4" width="15.4" height="33.2" fill="#ec7f2c" stroke="#2e3b3b" stroke-width="1"/><text x="369.2" y="2011.8" font-size="17.0" transform="rotate(90 369.2 2011.8)">GRAS</text><rect x="386.1" y="1966.7" width="15.4" height="11.5" fill="#5fd5d5" stroke="#2e3b3b" stroke-width="1"/><rect x="386.1" y="1978.3" width="15.4" height="30.3" fill="#ec7f2c" stroke="#2e3b3b" stroke-width="1"/><text x="388.2" y="2011.8" font-size="17.0" transform="rotate(90 388.2 2011.8)">GATA</text><rect x="405.1" y="1971.1" width="15.4" height="24.5" fill="#5fd5d5" stroke="#2e3b3b" stroke-width="1"/><rect x="405.1" y="1995.6" width="15.4" height="13.0" fill="#ec7f2c" stroke="#2e3b3b" stroke-width="1"/><text x="407.3" y="2011.8" font-size="17.0" transform="rotate(90 407.3 2011.8)">Trihelix</text><rect x="424.1" y="1975.4" width="15.4" height="14.4" fill="#5fd5d5" stroke="#2e3b3b" stroke-width="1"/><rect x="424.1" y="1989.8" width="15.4" height="18.8" fill="#ec7f2c" stroke="#2e3b3b" stroke-width="1"/><text x="426.3" y="2011.8" font-size="17.0" transform="rotate(90 426.3 2011.8)">HSF</text><rect x="443.2" y="1975.4" width="15.4" height="18.8" fill="#5fd5d5" stroke="#2e3b3b" stroke-width="1"/><rect x="443.2" y="1994.2" width="15.4" height="14.4" fill="#ec7f2c" stroke="#2e3b3b" stroke-width="1"/><text x="445.4" y="2011.8" font-size="17.0" transform="rotate(90 445.4 2011.8)">TCP</text><rect x="462.2" y="1976.8" width="15.4" height="15.9" fill="#5fd5d5" stroke="#2e3b3b" stroke-width="1"/><rect x="462.2" y="1992.7" width="15.4" height="15.9" fill="#ec7f2c" stroke="#2e3b3b" stroke-width="1"/><text x="464.4" y="2011.8" font-size="17.0" transform="rotate(90 464.4 2011.8)">ARF</text><line x1="60.5" y1="1792.9" x2="60.5" y2="2009.4" stroke="#111" stroke-width="1.6" /><line x1="55" y1="2008.6" x2="60.5" y2="2008.6" stroke="#111" stroke-width="1.6" /><text x="51.7" y="2014.4" font-size="16.2" text-anchor="end">0</text><line x1="55" y1="1979.7" x2="60.5" y2="1979.7" stroke="#111" stroke-width="1.6" /><text x="51.7" y="1985.6" font-size="16.2" text-anchor="end">20</text><line x1="55" y1="1950.9" x2="60.5" y2="1950.9" stroke="#111" stroke-width="1.6" /><text x="51.7" y="1956.7" font-size="16.2" text-anchor="end">40</text><line x1="55" y1="1922" x2="60.5" y2="1922" stroke="#111" stroke-width="1.6" /><text x="51.7" y="1927.8" font-size="16.2" text-anchor="end">60</text><line x1="55" y1="1893.1" x2="60.5" y2="1893.1" stroke="#111" stroke-width="1.6" /><text x="51.7" y="1898.9" font-size="16.2" text-anchor="end">80</text><line x1="55" y1="1864.2" x2="60.5" y2="1864.2" stroke="#111" stroke-width="1.6" /><text x="51.7" y="1870.1" font-size="16.2" text-anchor="end">100</text><line x1="55" y1="1835.4" x2="60.5" y2="1835.4" stroke="#111" stroke-width="1.6" /><text x="51.7" y="1841.2" font-size="16.2" text-anchor="end">120</text><line x1="55" y1="1806.5" x2="60.5" y2="1806.5" stroke="#111" stroke-width="1.6" /><text x="51.7" y="1812.3" font-size="16.2" text-anchor="end">140</text><line x1="60.5" y1="2008.6" x2="479" y2="2008.6" stroke="#111" stroke-width="1.6" /><text x="20.5" y="1900" font-size="17" transform="rotate(-90 20.5 1900)" text-anchor="middle">Number of TFs</text><circle cx="286.2" cy="1861.7" r="43.6" fill="#5fd5d5" stroke="#2e3b3b" stroke-width="1"/><path d="M286.2,1861.7 V1818.1 A43.6,43.6 0 0 1 313.9,1895.4 Z" fill="#ec7f2c" stroke="#2e3b3b" stroke-width="1" stroke-linejoin="round"/><text x="287.2" y="1810.8" font-size="16.9" text-anchor="middle">Other TFs</text><text x="263.9" y="1864.1" font-size="16.5" text-anchor="middle" fill="#fff">365</text><text x="309.2" y="1864.1" font-size="16.5" text-anchor="middle" fill="#fff">234</text><rect x="335.2" y="1907.5" width="18.6" height="6.7" fill="#5fd5d5" stroke="#2e3b3b" stroke-width="1"/><text x="356.5" y="1916.8" font-size="17.05">No AD identified</text><rect x="335.2" y="1926.1" width="18.6" height="6.5" fill="#ec7f2c" stroke="#2e3b3b" stroke-width="1"/><text x="356.5" y="1934.8" font-size="17.05">AD identified</text><text x="148" y="1785" font-size="20.4" font-weight="bold">1,553 ADs identified</text><line x1="570.2" y1="1833.7" x2="570.2" y2="1879.2" stroke="#222" stroke-width="1.3" /><line x1="570.2" y1="1924.7" x2="570.2" y2="1993.8" stroke="#222" stroke-width="1.3" /><line x1="567" y1="1833.7" x2="573.4" y2="1833.7" stroke="#222" stroke-width="1.3" /><line x1="567" y1="1993.8" x2="573.4" y2="1993.8" stroke="#222" stroke-width="1.3" /><rect x="562.6" y="1879.2" width="15.2" height="45.5" fill="#ec7f2c" stroke="#222" stroke-width="1.1"/><line x1="562.6" y1="1899.6" x2="577.8" y2="1899.6" stroke="#222" stroke-width="1.5" /><path d="M570.2,1993.4 l2.8,3.6 l-2.8,3.6 l-2.8,-3.6z" fill="#222"/><text x="564.7" y="2011.8" font-size="17.0" transform="rotate(90 564.7 2011.8)">MYB</text><line x1="589.3" y1="1866.6" x2="589.3" y2="1888" stroke="#222" stroke-width="1.3" /><line x1="589.3" y1="1954.6" x2="589.3" y2="1998.5" stroke="#222" stroke-width="1.3" /><line x1="586.1" y1="1866.6" x2="592.5" y2="1866.6" stroke="#222" stroke-width="1.3" /><line x1="586.1" y1="1998.5" x2="592.5" y2="1998.5" stroke="#222" stroke-width="1.3" /><rect x="581.7" y="1888.0" width="15.2" height="66.6" fill="#ec7f2c" stroke="#222" stroke-width="1.1"/><line x1="581.7" y1="1910.6" x2="596.9" y2="1910.6" stroke="#222" stroke-width="1.5" /><text x="583.8" y="2011.8" font-size="17.0" transform="rotate(90 583.8 2011.8)">bHLH</text><line x1="608.4" y1="1835.2" x2="608.4" y2="1872.9" stroke="#222" stroke-width="1.3" /><line x1="608.4" y1="1913.8" x2="608.4" y2="1973.4" stroke="#222" stroke-width="1.3" /><line x1="605.2" y1="1835.2" x2="611.6" y2="1835.2" stroke="#222" stroke-width="1.3" /><line x1="605.2" y1="1973.4" x2="611.6" y2="1973.4" stroke="#222" stroke-width="1.3" /><rect x="600.8" y="1872.9" width="15.2" height="40.8" fill="#ec7f2c" stroke="#222" stroke-width="1.1"/><line x1="600.8" y1="1891.8" x2="616" y2="1891.8" stroke="#222" stroke-width="1.5" /><path d="M608.4,1798.7 l2.8,3.6 l-2.8,3.6 l-2.8,-3.6z" fill="#222"/><path d="M608.4,1980.8 l2.8,3.6 l-2.8,3.6 l-2.8,-3.6z" fill="#222"/><path d="M608.4,1983.9 l2.8,3.6 l-2.8,3.6 l-2.8,-3.6z" fill="#222"/><path d="M608.4,1987.1 l2.8,3.6 l-2.8,3.6 l-2.8,-3.6z" fill="#222"/><text x="602.8" y="2011.8" font-size="17.0" transform="rotate(90 602.8 2011.8)">ERF</text><line x1="627.4" y1="1814.8" x2="627.4" y2="1876.7" stroke="#222" stroke-width="1.3" /><line x1="627.4" y1="1951.4" x2="627.4" y2="1998.5" stroke="#222" stroke-width="1.3" /><line x1="624.2" y1="1814.8" x2="630.6" y2="1814.8" stroke="#222" stroke-width="1.3" /><line x1="624.2" y1="1998.5" x2="630.6" y2="1998.5" stroke="#222" stroke-width="1.3" /><rect x="619.8" y="1876.7" width="15.2" height="74.7" fill="#ec7f2c" stroke="#222" stroke-width="1.1"/><line x1="619.8" y1="1891.1" x2="635" y2="1891.1" stroke="#222" stroke-width="1.5" /><text x="621.9" y="2011.8" font-size="17.0" transform="rotate(90 621.9 2011.8)">NAC</text><line x1="646.5" y1="1870.4" x2="646.5" y2="1935.7" stroke="#222" stroke-width="1.3" /><line x1="646.5" y1="1983.5" x2="646.5" y2="1997.6" stroke="#222" stroke-width="1.3" /><line x1="643.3" y1="1870.4" x2="649.7" y2="1870.4" stroke="#222" stroke-width="1.3" /><line x1="643.3" y1="1997.6" x2="649.7" y2="1997.6" stroke="#222" stroke-width="1.3" /><rect x="638.9" y="1935.7" width="15.2" height="47.7" fill="#ec7f2c" stroke="#222" stroke-width="1.1"/><line x1="638.9" y1="1966.5" x2="654.1" y2="1966.5" stroke="#222" stroke-width="1.5" /><text x="641.0" y="2011.8" font-size="17.0" transform="rotate(90 641.0 2011.8)">C2H2</text><line x1="665.6" y1="1850.3" x2="665.6" y2="1883.3" stroke="#222" stroke-width="1.3" /><line x1="665.6" y1="1949.9" x2="665.6" y2="1997.9" stroke="#222" stroke-width="1.3" /><line x1="662.4" y1="1850.3" x2="668.8" y2="1850.3" stroke="#222" stroke-width="1.3" /><line x1="662.4" y1="1997.9" x2="668.8" y2="1997.9" stroke="#222" stroke-width="1.3" /><rect x="658.0" y="1883.3" width="15.2" height="66.6" fill="#ec7f2c" stroke="#222" stroke-width="1.1"/><line x1="658" y1="1913.8" x2="673.2" y2="1913.8" stroke="#222" stroke-width="1.5" /><text x="660.1" y="2011.8" font-size="17.0" transform="rotate(90 660.1 2011.8)">WRKY</text><line x1="684.7" y1="1853.1" x2="684.7" y2="1881.7" stroke="#222" stroke-width="1.3" /><line x1="684.7" y1="1953" x2="684.7" y2="1998.5" stroke="#222" stroke-width="1.3" /><line x1="681.5" y1="1853.1" x2="687.9" y2="1853.1" stroke="#222" stroke-width="1.3" /><line x1="681.5" y1="1998.5" x2="687.9" y2="1998.5" stroke="#222" stroke-width="1.3" /><rect x="677.1" y="1881.7" width="15.2" height="71.3" fill="#ec7f2c" stroke="#222" stroke-width="1.1"/><line x1="677.1" y1="1911.2" x2="692.3" y2="1911.2" stroke="#222" stroke-width="1.5" /><text x="679.2" y="2011.8" font-size="17.0" transform="rotate(90 679.2 2011.8)">bZIP</text><line x1="703.8" y1="1870.4" x2="703.8" y2="1894.3" stroke="#222" stroke-width="1.3" /><line x1="703.8" y1="1972.5" x2="703.8" y2="1998.5" stroke="#222" stroke-width="1.3" /><line x1="700.6" y1="1870.4" x2="707" y2="1870.4" stroke="#222" stroke-width="1.3" /><line x1="700.6" y1="1998.5" x2="707" y2="1998.5" stroke="#222" stroke-width="1.3" /><rect x="696.2" y="1894.3" width="15.2" height="78.2" fill="#ec7f2c" stroke="#222" stroke-width="1.1"/><line x1="696.2" y1="1928.5" x2="711.4" y2="1928.5" stroke="#222" stroke-width="1.5" /><text x="698.2" y="2011.8" font-size="17.0" transform="rotate(90 698.2 2011.8)">M-type MADS</text><line x1="722.8" y1="1850.9" x2="722.8" y2="1936.7" stroke="#222" stroke-width="1.3" /><line x1="722.8" y1="1993.8" x2="722.8" y2="1999.2" stroke="#222" stroke-width="1.3" /><line x1="719.6" y1="1850.9" x2="726" y2="1850.9" stroke="#222" stroke-width="1.3" /><line x1="719.6" y1="1999.2" x2="726" y2="1999.2" stroke="#222" stroke-width="1.3" /><rect x="715.2" y="1936.7" width="15.2" height="57.1" fill="#ec7f2c" stroke="#222" stroke-width="1.1"/><line x1="715.2" y1="1979.1" x2="730.4" y2="1979.1" stroke="#222" stroke-width="1.5" /><text x="717.3" y="2011.8" font-size="17.0" transform="rotate(90 717.3 2011.8)">B3</text><line x1="741.9" y1="1872.3" x2="741.9" y2="1922.5" stroke="#222" stroke-width="1.3" /><line x1="741.9" y1="1987.5" x2="741.9" y2="1997.9" stroke="#222" stroke-width="1.3" /><line x1="738.7" y1="1872.3" x2="745.1" y2="1872.3" stroke="#222" stroke-width="1.3" /><line x1="738.7" y1="1997.9" x2="745.1" y2="1997.9" stroke="#222" stroke-width="1.3" /><rect x="734.3" y="1922.5" width="15.2" height="65.0" fill="#ec7f2c" stroke="#222" stroke-width="1.1"/><line x1="734.3" y1="1974" x2="749.5" y2="1974" stroke="#222" stroke-width="1.5" /><path d="M741.9,1798.7 l2.8,3.6 l-2.8,3.6 l-2.8,-3.6z" fill="#222"/><text x="736.4" y="2011.8" font-size="17.0" transform="rotate(90 736.4 2011.8)">MYB related</text><line x1="761" y1="1875.1" x2="761" y2="1898" stroke="#222" stroke-width="1.3" /><line x1="761" y1="1947.7" x2="761" y2="1994.8" stroke="#222" stroke-width="1.3" /><line x1="757.8" y1="1875.1" x2="764.2" y2="1875.1" stroke="#222" stroke-width="1.3" /><line x1="757.8" y1="1994.8" x2="764.2" y2="1994.8" stroke="#222" stroke-width="1.3" /><rect x="753.4" y="1898.0" width="15.2" height="49.6" fill="#ec7f2c" stroke="#222" stroke-width="1.1"/><line x1="753.4" y1="1922.5" x2="768.6" y2="1922.5" stroke="#222" stroke-width="1.5" /><text x="755.5" y="2011.8" font-size="17.0" transform="rotate(90 755.5 2011.8)">HD-ZIP</text><line x1="780.1" y1="1887.7" x2="780.1" y2="1943.6" stroke="#222" stroke-width="1.3" /><line x1="780.1" y1="1985.3" x2="780.1" y2="1997.6" stroke="#222" stroke-width="1.3" /><line x1="776.9" y1="1887.7" x2="783.3" y2="1887.7" stroke="#222" stroke-width="1.3" /><line x1="776.9" y1="1997.6" x2="783.3" y2="1997.6" stroke="#222" stroke-width="1.3" /><rect x="772.5" y="1943.6" width="15.2" height="41.8" fill="#ec7f2c" stroke="#222" stroke-width="1.1"/><line x1="772.5" y1="1957.7" x2="787.7" y2="1957.7" stroke="#222" stroke-width="1.5" /><text x="774.6" y="2011.8" font-size="17.0" transform="rotate(90 774.6 2011.8)">C3H</text><line x1="799.2" y1="1879.2" x2="799.2" y2="1903.7" stroke="#222" stroke-width="1.3" /><line x1="799.2" y1="1959.3" x2="799.2" y2="1994.8" stroke="#222" stroke-width="1.3" /><line x1="796" y1="1879.2" x2="802.4" y2="1879.2" stroke="#222" stroke-width="1.3" /><line x1="796" y1="1994.8" x2="802.4" y2="1994.8" stroke="#222" stroke-width="1.3" /><rect x="791.6" y="1903.7" width="15.2" height="55.6" fill="#ec7f2c" stroke="#222" stroke-width="1.1"/><line x1="791.6" y1="1939.8" x2="806.8" y2="1939.8" stroke="#222" stroke-width="1.5" /><text x="793.6" y="2011.8" font-size="17.0" transform="rotate(90 793.6 2011.8)">MIKC MADS</text><line x1="818.2" y1="1883" x2="818.2" y2="1917.8" stroke="#222" stroke-width="1.3" /><line x1="818.2" y1="1964.9" x2="818.2" y2="1997" stroke="#222" stroke-width="1.3" /><line x1="815" y1="1883" x2="821.4" y2="1883" stroke="#222" stroke-width="1.3" /><line x1="815" y1="1997" x2="821.4" y2="1997" stroke="#222" stroke-width="1.3" /><rect x="810.6" y="1917.8" width="15.2" height="47.1" fill="#ec7f2c" stroke="#222" stroke-width="1.1"/><line x1="810.6" y1="1948.9" x2="825.8" y2="1948.9" stroke="#222" stroke-width="1.5" /><text x="812.7" y="2011.8" font-size="17.0" transform="rotate(90 812.7 2011.8)">LBD</text><line x1="837.3" y1="1860.4" x2="837.3" y2="1884.5" stroke="#222" stroke-width="1.3" /><line x1="837.3" y1="1949.9" x2="837.3" y2="1990.1" stroke="#222" stroke-width="1.3" /><line x1="834.1" y1="1860.4" x2="840.5" y2="1860.4" stroke="#222" stroke-width="1.3" /><line x1="834.1" y1="1990.1" x2="840.5" y2="1990.1" stroke="#222" stroke-width="1.3" /><rect x="829.7" y="1884.5" width="15.2" height="65.3" fill="#ec7f2c" stroke="#222" stroke-width="1.1"/><line x1="829.7" y1="1920.7" x2="844.9" y2="1920.7" stroke="#222" stroke-width="1.5" /><text x="831.8" y="2011.8" font-size="17.0" transform="rotate(90 831.8 2011.8)">G2-like</text><line x1="856.4" y1="1801.7" x2="856.4" y2="1886.4" stroke="#222" stroke-width="1.3" /><line x1="856.4" y1="1970.3" x2="856.4" y2="1995.4" stroke="#222" stroke-width="1.3" /><line x1="853.2" y1="1801.7" x2="859.6" y2="1801.7" stroke="#222" stroke-width="1.3" /><line x1="853.2" y1="1995.4" x2="859.6" y2="1995.4" stroke="#222" stroke-width="1.3" /><rect x="848.8" y="1886.4" width="15.2" height="83.8" fill="#ec7f2c" stroke="#222" stroke-width="1.1"/><line x1="848.8" y1="1928.8" x2="864" y2="1928.8" stroke="#222" stroke-width="1.5" /><text x="850.9" y="2011.8" font-size="17.0" transform="rotate(90 850.9 2011.8)">Dof</text><line x1="875.5" y1="1801.7" x2="875.5" y2="1886.4" stroke="#222" stroke-width="1.3" /><line x1="875.5" y1="1962.4" x2="875.5" y2="1995.4" stroke="#222" stroke-width="1.3" /><line x1="872.3" y1="1801.7" x2="878.7" y2="1801.7" stroke="#222" stroke-width="1.3" /><line x1="872.3" y1="1995.4" x2="878.7" y2="1995.4" stroke="#222" stroke-width="1.3" /><rect x="867.9" y="1886.4" width="15.2" height="76.0" fill="#ec7f2c" stroke="#222" stroke-width="1.1"/><line x1="867.9" y1="1921.6" x2="883.1" y2="1921.6" stroke="#222" stroke-width="1.5" /><text x="870.0" y="2011.8" font-size="17.0" transform="rotate(90 870.0 2011.8)">GRAS</text><line x1="894.6" y1="1801.7" x2="894.6" y2="1872.9" stroke="#222" stroke-width="1.3" /><line x1="894.6" y1="1930.4" x2="894.6" y2="1992.2" stroke="#222" stroke-width="1.3" /><line x1="891.4" y1="1801.7" x2="897.8" y2="1801.7" stroke="#222" stroke-width="1.3" /><line x1="891.4" y1="1992.2" x2="897.8" y2="1992.2" stroke="#222" stroke-width="1.3" /><rect x="887.0" y="1872.9" width="15.2" height="57.5" fill="#ec7f2c" stroke="#222" stroke-width="1.1"/><line x1="887" y1="1895.9" x2="902.2" y2="1895.9" stroke="#222" stroke-width="1.5" /><text x="889.0" y="2011.8" font-size="17.0" transform="rotate(90 889.0 2011.8)">GATA</text><line x1="913.6" y1="1878.3" x2="913.6" y2="1905.3" stroke="#222" stroke-width="1.3" /><line x1="913.6" y1="1972.8" x2="913.6" y2="1997.6" stroke="#222" stroke-width="1.3" /><line x1="910.4" y1="1878.3" x2="916.8" y2="1878.3" stroke="#222" stroke-width="1.3" /><line x1="910.4" y1="1997.6" x2="916.8" y2="1997.6" stroke="#222" stroke-width="1.3" /><rect x="906.0" y="1905.3" width="15.2" height="67.5" fill="#ec7f2c" stroke="#222" stroke-width="1.1"/><line x1="906" y1="1937.3" x2="921.2" y2="1937.3" stroke="#222" stroke-width="1.5" /><text x="908.1" y="2011.8" font-size="17.0" transform="rotate(90 908.1 2011.8)">Trihelix</text><line x1="932.7" y1="1856.6" x2="932.7" y2="1870.4" stroke="#222" stroke-width="1.3" /><line x1="932.7" y1="1908.4" x2="932.7" y2="1922.5" stroke="#222" stroke-width="1.3" /><line x1="929.5" y1="1856.6" x2="935.9" y2="1856.6" stroke="#222" stroke-width="1.3" /><line x1="929.5" y1="1922.5" x2="935.9" y2="1922.5" stroke="#222" stroke-width="1.3" /><rect x="925.1" y="1870.4" width="15.2" height="38.0" fill="#ec7f2c" stroke="#222" stroke-width="1.1"/><line x1="925.1" y1="1889.3" x2="940.3" y2="1889.3" stroke="#222" stroke-width="1.5" /><path d="M932.7,1970.4 l2.8,3.6 l-2.8,3.6 l-2.8,-3.6z" fill="#222"/><path d="M932.7,1983.0 l2.8,3.6 l-2.8,3.6 l-2.8,-3.6z" fill="#222"/><text x="927.2" y="2011.8" font-size="17.0" transform="rotate(90 927.2 2011.8)">HSF</text><line x1="951.8" y1="1944.2" x2="951.8" y2="1946.7" stroke="#222" stroke-width="1.3" /><line x1="951.8" y1="1969.3" x2="951.8" y2="1981.3" stroke="#222" stroke-width="1.3" /><line x1="948.6" y1="1944.2" x2="955" y2="1944.2" stroke="#222" stroke-width="1.3" /><line x1="948.6" y1="1981.3" x2="955" y2="1981.3" stroke="#222" stroke-width="1.3" /><rect x="944.2" y="1946.7" width="15.2" height="22.6" fill="#ec7f2c" stroke="#222" stroke-width="1.1"/><line x1="944.2" y1="1964" x2="959.4" y2="1964" stroke="#222" stroke-width="1.5" /><path d="M951.8,1881.3 l2.8,3.6 l-2.8,3.6 l-2.8,-3.6z" fill="#222"/><path d="M951.8,1898.2 l2.8,3.6 l-2.8,3.6 l-2.8,-3.6z" fill="#222"/><text x="946.3" y="2011.8" font-size="17.0" transform="rotate(90 946.3 2011.8)">TCP</text><line x1="970.9" y1="1889.3" x2="970.9" y2="1946.7" stroke="#222" stroke-width="1.3" /><line x1="970.9" y1="1986" x2="970.9" y2="1994.8" stroke="#222" stroke-width="1.3" /><line x1="967.7" y1="1889.3" x2="974.1" y2="1889.3" stroke="#222" stroke-width="1.3" /><line x1="967.7" y1="1994.8" x2="974.1" y2="1994.8" stroke="#222" stroke-width="1.3" /><rect x="963.3" y="1946.7" width="15.2" height="39.2" fill="#ec7f2c" stroke="#222" stroke-width="1.1"/><line x1="963.3" y1="1964.9" x2="978.5" y2="1964.9" stroke="#222" stroke-width="1.5" /><text x="965.4" y="2011.8" font-size="17.0" transform="rotate(90 965.4 2011.8)">ARF</text><line x1="560.5" y1="1792.4" x2="560.5" y2="2009.4" stroke="#111" stroke-width="1.6" /><line x1="555" y1="2000.1" x2="560.5" y2="2000.1" stroke="#111" stroke-width="1.6" /><text x="551.7" y="2005.9" font-size="16.2" text-anchor="end">1</text><line x1="555" y1="1968.7" x2="560.5" y2="1968.7" stroke="#111" stroke-width="1.6" /><text x="551.7" y="1974.5" font-size="16.2" text-anchor="end">2</text><line x1="555" y1="1937.3" x2="560.5" y2="1937.3" stroke="#111" stroke-width="1.6" /><text x="551.7" y="1943.1" font-size="16.2" text-anchor="end">3</text><line x1="555" y1="1905.9" x2="560.5" y2="1905.9" stroke="#111" stroke-width="1.6" /><text x="551.7" y="1911.7" font-size="16.2" text-anchor="end">4</text><line x1="555" y1="1874.5" x2="560.5" y2="1874.5" stroke="#111" stroke-width="1.6" /><text x="551.7" y="1880.3" font-size="16.2" text-anchor="end">5</text><line x1="555" y1="1843.1" x2="560.5" y2="1843.1" stroke="#111" stroke-width="1.6" /><text x="551.7" y="1848.9" font-size="16.2" text-anchor="end">6</text><line x1="555" y1="1811.7" x2="560.5" y2="1811.7" stroke="#111" stroke-width="1.6" /><text x="551.7" y="1817.5" font-size="16.2" text-anchor="end">7</text><line x1="560.5" y1="2008.6" x2="980" y2="2008.6" stroke="#111" stroke-width="1.6" /><text x="539" y="1900.5" font-size="17" transform="rotate(-90 539 1900.5)" text-anchor="middle">AD Scores</text><rect x="1074.3" y="1802.2" width="16.7" height="204.8" fill="#5fd5d5" stroke="#2e3b3b" stroke-width="1"/><rect x="1091.0" y="1919.0" width="16.7" height="88.0" fill="#5fd5d5" stroke="#2e3b3b" stroke-width="1"/><rect x="1107.7" y="1977.8" width="16.7" height="29.2" fill="#5fd5d5" stroke="#2e3b3b" stroke-width="1"/><rect x="1124.4" y="1999.7" width="16.7" height="7.3" fill="#5fd5d5" stroke="#2e3b3b" stroke-width="1"/><rect x="1141.1" y="2004.0" width="16.7" height="3.0" fill="#5fd5d5" stroke="#2e3b3b" stroke-width="1"/><rect x="1157.8" y="2006.3" width="16.7" height="0.7" fill="#5fd5d5" stroke="#2e3b3b" stroke-width="1"/><rect x="1174.5" y="2006.7" width="16.7" height="0.3" fill="#5fd5d5" stroke="#2e3b3b" stroke-width="1"/><rect x="1191.2" y="2006.8" width="16.7" height="0.2" fill="#5fd5d5" stroke="#2e3b3b" stroke-width="1"/><line x1="1065.9" y1="1791.6" x2="1065.9" y2="2007.8" stroke="#111" stroke-width="1.6" /><line x1="1060.4" y1="2007" x2="1065.9" y2="2007" stroke="#111" stroke-width="1.6" /><text x="1059.4" y="2013" font-size="16.7" text-anchor="end">0</text><line x1="1060.4" y1="1973.8" x2="1065.9" y2="1973.8" stroke="#111" stroke-width="1.6" /><text x="1059.4" y="1979.8" font-size="16.7" text-anchor="end">100</text><line x1="1060.4" y1="1940.6" x2="1065.9" y2="1940.6" stroke="#111" stroke-width="1.6" /><text x="1059.4" y="1946.6" font-size="16.7" text-anchor="end">200</text><line x1="1060.4" y1="1907.4" x2="1065.9" y2="1907.4" stroke="#111" stroke-width="1.6" /><text x="1059.4" y="1913.4" font-size="16.7" text-anchor="end">300</text><line x1="1060.4" y1="1874.2" x2="1065.9" y2="1874.2" stroke="#111" stroke-width="1.6" /><text x="1059.4" y="1880.2" font-size="16.7" text-anchor="end">400</text><line x1="1060.4" y1="1841" x2="1065.9" y2="1841" stroke="#111" stroke-width="1.6" /><text x="1059.4" y="1847" font-size="16.7" text-anchor="end">500</text><line x1="1060.4" y1="1807.8" x2="1065.9" y2="1807.8" stroke="#111" stroke-width="1.6" /><text x="1059.4" y="1813.8" font-size="16.7" text-anchor="end">600</text><line x1="1065.9" y1="2007" x2="1214.5" y2="2007" stroke="#111" stroke-width="1.6" /><line x1="1082.7" y1="2007" x2="1082.7" y2="2011.5" stroke="#111" stroke-width="1.4" /><text x="1082.7" y="2027.5" font-size="16.7" text-anchor="middle">1</text><line x1="1099.4" y1="2007" x2="1099.4" y2="2011.5" stroke="#111" stroke-width="1.4" /><text x="1099.4" y="2027.5" font-size="16.7" text-anchor="middle">2</text><line x1="1116.1" y1="2007" x2="1116.1" y2="2011.5" stroke="#111" stroke-width="1.4" /><text x="1116.1" y="2027.5" font-size="16.7" text-anchor="middle">3</text><line x1="1132.8" y1="2007" x2="1132.8" y2="2011.5" stroke="#111" stroke-width="1.4" /><text x="1132.8" y="2027.5" font-size="16.7" text-anchor="middle">4</text><line x1="1149.5" y1="2007" x2="1149.5" y2="2011.5" stroke="#111" stroke-width="1.4" /><text x="1149.5" y="2027.5" font-size="16.7" text-anchor="middle">5</text><line x1="1166.2" y1="2007" x2="1166.2" y2="2011.5" stroke="#111" stroke-width="1.4" /><text x="1166.2" y="2027.5" font-size="16.7" text-anchor="middle">6</text><line x1="1182.9" y1="2007" x2="1182.9" y2="2011.5" stroke="#111" stroke-width="1.4" /><text x="1182.9" y="2027.5" font-size="16.7" text-anchor="middle">7</text><line x1="1199.6" y1="2007" x2="1199.6" y2="2011.5" stroke="#111" stroke-width="1.4" /><text x="1199.6" y="2027.5" font-size="16.7" text-anchor="middle">8</text><text x="1136" y="2044.5" font-size="17.1" text-anchor="middle">ADs per TF</text><text x="1026" y="1873.7" font-size="17.1" transform="rotate(-90 1026 1873.7)" text-anchor="middle">Number of TFs</text><rect x="1283.0" y="1804.3" width="15.9" height="202.7" fill="#5fd5d5" stroke="#2e3b3b" stroke-width="1"/><rect x="1298.9" y="1883.2" width="15.9" height="123.8" fill="#5fd5d5" stroke="#2e3b3b" stroke-width="1"/><rect x="1314.8" y="1943.6" width="15.9" height="63.4" fill="#5fd5d5" stroke="#2e3b3b" stroke-width="1"/><rect x="1330.7" y="1963.7" width="15.9" height="43.3" fill="#5fd5d5" stroke="#2e3b3b" stroke-width="1"/><rect x="1346.6" y="1982.9" width="15.9" height="24.1" fill="#5fd5d5" stroke="#2e3b3b" stroke-width="1"/><rect x="1362.5" y="1996.2" width="15.9" height="10.8" fill="#5fd5d5" stroke="#2e3b3b" stroke-width="1"/><rect x="1378.4" y="2000.8" width="15.9" height="6.2" fill="#5fd5d5" stroke="#2e3b3b" stroke-width="1"/><rect x="1394.3" y="2003.9" width="15.9" height="3.1" fill="#5fd5d5" stroke="#2e3b3b" stroke-width="1"/><rect x="1410.2" y="2004.5" width="15.9" height="2.5" fill="#5fd5d5" stroke="#2e3b3b" stroke-width="1"/><rect x="1426.1" y="2006.4" width="15.9" height="0.6" fill="#5fd5d5" stroke="#2e3b3b" stroke-width="1"/><rect x="1442.0" y="2006.7" width="15.9" height="0.3" fill="#5fd5d5" stroke="#2e3b3b" stroke-width="1"/><rect x="1457.9" y="2006.7" width="15.9" height="0.3" fill="#5fd5d5" stroke="#2e3b3b" stroke-width="1"/><rect x="1473.8" y="2006.8" width="15.9" height="0.2" fill="#5fd5d5" stroke="#2e3b3b" stroke-width="1"/><line x1="1277.6" y1="1794.8" x2="1277.6" y2="2007.8" stroke="#111" stroke-width="1.6" /><line x1="1272.1" y1="2007" x2="1277.6" y2="2007" stroke="#111" stroke-width="1.6" /><text x="1271.1" y="2013" font-size="16.7" text-anchor="end">0</text><line x1="1272.1" y1="1976" x2="1277.6" y2="1976" stroke="#111" stroke-width="1.6" /><text x="1271.1" y="1982.1" font-size="16.7" text-anchor="end">100</text><line x1="1272.1" y1="1945.1" x2="1277.6" y2="1945.1" stroke="#111" stroke-width="1.6" /><text x="1271.1" y="1951.1" font-size="16.7" text-anchor="end">200</text><line x1="1272.1" y1="1914.2" x2="1277.6" y2="1914.2" stroke="#111" stroke-width="1.6" /><text x="1271.1" y="1920.2" font-size="16.7" text-anchor="end">300</text><line x1="1272.1" y1="1883.2" x2="1277.6" y2="1883.2" stroke="#111" stroke-width="1.6" /><text x="1271.1" y="1889.2" font-size="16.7" text-anchor="end">400</text><line x1="1272.1" y1="1852.2" x2="1277.6" y2="1852.2" stroke="#111" stroke-width="1.6" /><text x="1271.1" y="1858.3" font-size="16.7" text-anchor="end">500</text><line x1="1272.1" y1="1821.3" x2="1277.6" y2="1821.3" stroke="#111" stroke-width="1.6" /><text x="1271.1" y="1827.3" font-size="16.7" text-anchor="end">600</text><line x1="1277.6" y1="2007" x2="1496.8" y2="2007" stroke="#111" stroke-width="1.6" /><line x1="1289.7" y1="2007" x2="1289.7" y2="2011.5" stroke="#111" stroke-width="1.4" /><text x="1289.7" y="2027.5" font-size="16.7" text-anchor="middle">1</text><line x1="1321.5" y1="2007" x2="1321.5" y2="2011.5" stroke="#111" stroke-width="1.4" /><text x="1321.5" y="2027.5" font-size="16.7" text-anchor="middle">3</text><line x1="1353.3" y1="2007" x2="1353.3" y2="2011.5" stroke="#111" stroke-width="1.4" /><text x="1353.3" y="2027.5" font-size="16.7" text-anchor="middle">5</text><line x1="1385.1" y1="2007" x2="1385.1" y2="2011.5" stroke="#111" stroke-width="1.4" /><text x="1385.1" y="2027.5" font-size="16.7" text-anchor="middle">7</text><line x1="1416.9" y1="2007" x2="1416.9" y2="2011.5" stroke="#111" stroke-width="1.4" /><text x="1416.9" y="2027.5" font-size="16.7" text-anchor="middle">9</text><line x1="1448.7" y1="2007" x2="1448.7" y2="2011.5" stroke="#111" stroke-width="1.4" /><text x="1448.7" y="2027.5" font-size="16.7" text-anchor="middle">11</text><line x1="1480.5" y1="2007" x2="1480.5" y2="2011.5" stroke="#111" stroke-width="1.4" /><text x="1480.5" y="2027.5" font-size="16.7" text-anchor="middle">13</text><text x="1390.7" y="2044.5" font-size="17.1" text-anchor="middle">Contiguous Fragments</text><text x="1236" y="1899" font-size="17.1" transform="rotate(-90 1236 1899)" text-anchor="middle">Number of ADs</text><rect x="1574.8" y="1889.6" width="15.7" height="117.4" fill="#5fd5d5" stroke="#2e3b3b" stroke-width="1"/><rect x="1590.5" y="1940.4" width="15.7" height="66.6" fill="#5fd5d5" stroke="#2e3b3b" stroke-width="1"/><rect x="1606.2" y="1952.1" width="15.7" height="54.9" fill="#5fd5d5" stroke="#2e3b3b" stroke-width="1"/><rect x="1621.9" y="1960.7" width="15.7" height="46.3" fill="#5fd5d5" stroke="#2e3b3b" stroke-width="1"/><rect x="1637.6" y="1969.8" width="15.7" height="37.2" fill="#5fd5d5" stroke="#2e3b3b" stroke-width="1"/><rect x="1653.2" y="1967.9" width="15.7" height="39.1" fill="#5fd5d5" stroke="#2e3b3b" stroke-width="1"/><rect x="1668.9" y="1944.5" width="15.7" height="62.5" fill="#5fd5d5" stroke="#2e3b3b" stroke-width="1"/><rect x="1684.6" y="1931.4" width="15.7" height="75.6" fill="#5fd5d5" stroke="#2e3b3b" stroke-width="1"/><rect x="1700.3" y="1906.1" width="15.7" height="100.9" fill="#5fd5d5" stroke="#2e3b3b" stroke-width="1"/><rect x="1716.0" y="1802.7" width="15.7" height="204.3" fill="#5fd5d5" stroke="#2e3b3b" stroke-width="1"/><line x1="1567.3" y1="1792.5" x2="1567.3" y2="2007.8" stroke="#111" stroke-width="1.6" /><line x1="1561.8" y1="2007" x2="1567.3" y2="2007" stroke="#111" stroke-width="1.6" /><text x="1560.8" y="2013" font-size="16.7" text-anchor="end">0</text><line x1="1561.8" y1="1961.8" x2="1567.3" y2="1961.8" stroke="#111" stroke-width="1.6" /><text x="1560.8" y="1967.9" font-size="16.7" text-anchor="end">200</text><line x1="1561.8" y1="1916.7" x2="1567.3" y2="1916.7" stroke="#111" stroke-width="1.6" /><text x="1560.8" y="1922.7" font-size="16.7" text-anchor="end">400</text><line x1="1561.8" y1="1871.5" x2="1567.3" y2="1871.5" stroke="#111" stroke-width="1.6" /><text x="1560.8" y="1877.6" font-size="16.7" text-anchor="end">600</text><line x1="1561.8" y1="1826.4" x2="1567.3" y2="1826.4" stroke="#111" stroke-width="1.6" /><text x="1560.8" y="1832.4" font-size="16.7" text-anchor="end">800</text><line x1="1567.3" y1="2007" x2="1733.5" y2="2007" stroke="#111" stroke-width="1.6" /><text x="1598.9" y="2027.5" font-size="16.7" text-anchor="middle">N-term</text><text x="1708" y="2027.5" font-size="16.7" text-anchor="middle">C-term</text><text x="1654.6" y="2044.5" font-size="17.1" text-anchor="middle">AD Position</text><text x="1529" y="1904" font-size="17.1" transform="rotate(-90 1529 1904)" text-anchor="middle">Number of hits</text><rect x="1325.6" y="1811.0" width="23.9" height="10.4" fill="#a8a8a8" stroke="#555" stroke-width="0.8"/><rect x="1349.5" y="1811.0" width="23.3" height="10.4" fill="#ec7f2c" stroke="#555" stroke-width="0.8"/><rect x="1337.1" y="1823.3" width="12.4" height="10.4" fill="#a8a8a8" stroke="#555" stroke-width="0.8"/><rect x="1349.5" y="1823.3" width="23.3" height="10.4" fill="#ec7f2c" stroke="#555" stroke-width="0.8"/><rect x="1372.8" y="1823.3" width="12.0" height="10.4" fill="#a8a8a8" stroke="#555" stroke-width="0.8"/><rect x="1349.5" y="1835.5" width="23.3" height="10.4" fill="#ec7f2c" stroke="#555" stroke-width="0.8"/><rect x="1372.8" y="1835.5" width="23.9" height="10.4" fill="#a8a8a8" stroke="#555" stroke-width="0.8"/><rect x="1423.8" y="1809.2" width="47.3" height="10.4" fill="#ec7f2c" stroke="#555" stroke-width="0.8"/><rect x="1435.6" y="1821.4" width="47.4" height="10.4" fill="#ec7f2c" stroke="#555" stroke-width="0.8"/><rect x="1447.2" y="1833.8" width="47.6" height="10.4" fill="#ec7f2c" stroke="#555" stroke-width="0.8"/><path d="M1349.3,1848.5 v3.9 h23.7 v-3.9 M1423.2,1848.5 v3.9 h72.2 v-3.9" fill="none" stroke="#222" stroke-width="1.2"/><text x="1325.6" y="1865.4" font-size="16.8" textLength="71.1" lengthAdjust="spacingAndGlyphs">20 AA AD</text><text x="1426" y="1865.4" font-size="16.8" textLength="70" lengthAdjust="spacingAndGlyphs">60 AA AD</text><text x="1400" y="1832" font-size="16">-or-</text><rect x="65.2" y="2192.7" width="15.2" height="31.8" fill="#5fd5d5" stroke="#2e3b3b" stroke-width="1"/><rect x="65.2" y="2224.5" width="15.2" height="184.6" fill="#ec7f2c" stroke="#2e3b3b" stroke-width="1"/><text x="67.3" y="2412.3" font-size="17.0" transform="rotate(90 67.3 2412.3)">MYB</text><rect x="84.2" y="2216.9" width="15.2" height="40.9" fill="#5fd5d5" stroke="#2e3b3b" stroke-width="1"/><rect x="84.2" y="2257.8" width="15.2" height="151.3" fill="#ec7f2c" stroke="#2e3b3b" stroke-width="1"/><text x="86.3" y="2412.3" font-size="17.0" transform="rotate(90 86.3 2412.3)">bHLH</text><rect x="103.3" y="2226.0" width="15.2" height="39.3" fill="#5fd5d5" stroke="#2e3b3b" stroke-width="1"/><rect x="103.3" y="2265.4" width="15.2" height="143.7" fill="#ec7f2c" stroke="#2e3b3b" stroke-width="1"/><text x="105.4" y="2412.3" font-size="17.0" transform="rotate(90 105.4 2412.3)">ERF</text><rect x="122.3" y="2247.2" width="15.2" height="22.7" fill="#5fd5d5" stroke="#2e3b3b" stroke-width="1"/><rect x="122.3" y="2269.9" width="15.2" height="139.2" fill="#ec7f2c" stroke="#2e3b3b" stroke-width="1"/><text x="124.4" y="2412.3" font-size="17.0" transform="rotate(90 124.4 2412.3)">NAC</text><rect x="141.4" y="2257.8" width="15.2" height="74.1" fill="#5fd5d5" stroke="#2e3b3b" stroke-width="1"/><rect x="141.4" y="2331.9" width="15.2" height="77.2" fill="#ec7f2c" stroke="#2e3b3b" stroke-width="1"/><text x="143.4" y="2412.3" font-size="17.0" transform="rotate(90 143.4 2412.3)">C2H2</text><rect x="160.4" y="2301.7" width="15.2" height="22.7" fill="#5fd5d5" stroke="#2e3b3b" stroke-width="1"/><rect x="160.4" y="2324.4" width="15.2" height="84.7" fill="#ec7f2c" stroke="#2e3b3b" stroke-width="1"/><text x="162.5" y="2412.3" font-size="17.0" transform="rotate(90 162.5 2412.3)">WRKY</text><rect x="179.4" y="2303.2" width="15.2" height="15.1" fill="#5fd5d5" stroke="#2e3b3b" stroke-width="1"/><rect x="179.4" y="2318.3" width="15.2" height="90.8" fill="#ec7f2c" stroke="#2e3b3b" stroke-width="1"/><text x="181.5" y="2412.3" font-size="17.0" transform="rotate(90 181.5 2412.3)">bZIP</text><rect x="198.5" y="2318.3" width="15.2" height="24.2" fill="#5fd5d5" stroke="#2e3b3b" stroke-width="1"/><rect x="198.5" y="2342.5" width="15.2" height="66.6" fill="#ec7f2c" stroke="#2e3b3b" stroke-width="1"/><text x="200.6" y="2412.3" font-size="17.0" transform="rotate(90 200.6 2412.3)">M-type MADS</text><rect x="217.5" y="2319.8" width="15.2" height="37.8" fill="#5fd5d5" stroke="#2e3b3b" stroke-width="1"/><rect x="217.5" y="2357.7" width="15.2" height="51.4" fill="#ec7f2c" stroke="#2e3b3b" stroke-width="1"/><text x="219.6" y="2412.3" font-size="17.0" transform="rotate(90 219.6 2412.3)">B3</text><rect x="236.6" y="2330.4" width="15.2" height="30.3" fill="#5fd5d5" stroke="#2e3b3b" stroke-width="1"/><rect x="236.6" y="2360.7" width="15.2" height="48.4" fill="#ec7f2c" stroke="#2e3b3b" stroke-width="1"/><text x="238.6" y="2412.3" font-size="17.0" transform="rotate(90 238.6 2412.3)">MYB related</text><rect x="255.6" y="2338.0" width="15.2" height="22.7" fill="#5fd5d5" stroke="#2e3b3b" stroke-width="1"/><rect x="255.6" y="2360.7" width="15.2" height="48.4" fill="#ec7f2c" stroke="#2e3b3b" stroke-width="1"/><text x="257.7" y="2412.3" font-size="17.0" transform="rotate(90 257.7 2412.3)">HD-ZIP</text><rect x="274.6" y="2339.5" width="15.2" height="27.2" fill="#5fd5d5" stroke="#2e3b3b" stroke-width="1"/><rect x="274.6" y="2366.7" width="15.2" height="42.4" fill="#ec7f2c" stroke="#2e3b3b" stroke-width="1"/><text x="276.7" y="2412.3" font-size="17.0" transform="rotate(90 276.7 2412.3)">C3H</text><rect x="293.7" y="2345.6" width="15.2" height="31.8" fill="#5fd5d5" stroke="#2e3b3b" stroke-width="1"/><rect x="293.7" y="2377.3" width="15.2" height="31.8" fill="#ec7f2c" stroke="#2e3b3b" stroke-width="1"/><text x="295.8" y="2412.3" font-size="17.0" transform="rotate(90 295.8 2412.3)">MIKC MADS</text><rect x="312.7" y="2345.6" width="15.2" height="30.3" fill="#5fd5d5" stroke="#2e3b3b" stroke-width="1"/><rect x="312.7" y="2375.8" width="15.2" height="33.3" fill="#ec7f2c" stroke="#2e3b3b" stroke-width="1"/><text x="314.8" y="2412.3" font-size="17.0" transform="rotate(90 314.8 2412.3)">LBD</text><rect x="331.8" y="2348.6" width="15.2" height="25.7" fill="#5fd5d5" stroke="#2e3b3b" stroke-width="1"/><rect x="331.8" y="2374.3" width="15.2" height="34.8" fill="#ec7f2c" stroke="#2e3b3b" stroke-width="1"/><text x="333.8" y="2412.3" font-size="17.0" transform="rotate(90 333.8 2412.3)">G2-like</text><rect x="350.8" y="2354.6" width="15.2" height="19.7" fill="#5fd5d5" stroke="#2e3b3b" stroke-width="1"/><rect x="350.8" y="2374.3" width="15.2" height="34.8" fill="#ec7f2c" stroke="#2e3b3b" stroke-width="1"/><text x="352.9" y="2412.3" font-size="17.0" transform="rotate(90 352.9 2412.3)">Dof</text><rect x="369.8" y="2359.2" width="15.2" height="3.0" fill="#5fd5d5" stroke="#2e3b3b" stroke-width="1"/><rect x="369.8" y="2362.2" width="15.2" height="46.9" fill="#ec7f2c" stroke="#2e3b3b" stroke-width="1"/><text x="371.9" y="2412.3" font-size="17.0" transform="rotate(90 371.9 2412.3)">GRAS</text><rect x="388.9" y="2365.2" width="15.2" height="7.6" fill="#5fd5d5" stroke="#2e3b3b" stroke-width="1"/><rect x="388.9" y="2372.8" width="15.2" height="36.3" fill="#ec7f2c" stroke="#2e3b3b" stroke-width="1"/><text x="391.0" y="2412.3" font-size="17.0" transform="rotate(90 391.0 2412.3)">GATA</text><rect x="407.9" y="2369.8" width="15.2" height="18.2" fill="#5fd5d5" stroke="#2e3b3b" stroke-width="1"/><rect x="407.9" y="2387.9" width="15.2" height="21.2" fill="#ec7f2c" stroke="#2e3b3b" stroke-width="1"/><text x="410.0" y="2412.3" font-size="17.0" transform="rotate(90 410.0 2412.3)">Trihelix</text><rect x="427.0" y="2374.3" width="15.2" height="6.1" fill="#5fd5d5" stroke="#2e3b3b" stroke-width="1"/><rect x="427.0" y="2380.4" width="15.2" height="28.7" fill="#ec7f2c" stroke="#2e3b3b" stroke-width="1"/><text x="429.0" y="2412.3" font-size="17.0" transform="rotate(90 429.0 2412.3)">HSF</text><rect x="446.0" y="2374.3" width="15.2" height="16.6" fill="#5fd5d5" stroke="#2e3b3b" stroke-width="1"/><rect x="446.0" y="2390.9" width="15.2" height="18.2" fill="#ec7f2c" stroke="#2e3b3b" stroke-width="1"/><text x="448.1" y="2412.3" font-size="17.0" transform="rotate(90 448.1 2412.3)">TCP</text><rect x="465.0" y="2375.8" width="15.2" height="0.0" fill="#5fd5d5" stroke="#2e3b3b" stroke-width="1"/><rect x="465.0" y="2375.8" width="15.2" height="33.3" fill="#ec7f2c" stroke="#2e3b3b" stroke-width="1"/><text x="467.1" y="2412.3" font-size="17.0" transform="rotate(90 467.1 2412.3)">ARF</text><line x1="63.2" y1="2181.7" x2="63.2" y2="2409.9" stroke="#111" stroke-width="1.6" /><line x1="57.7" y1="2409.1" x2="63.2" y2="2409.1" stroke="#111" stroke-width="1.6" /><text x="54.4" y="2414.9" font-size="16.2" text-anchor="end">0</text><line x1="57.7" y1="2378.8" x2="63.2" y2="2378.8" stroke="#111" stroke-width="1.6" /><text x="54.4" y="2384.7" font-size="16.2" text-anchor="end">20</text><line x1="57.7" y1="2348.6" x2="63.2" y2="2348.6" stroke="#111" stroke-width="1.6" /><text x="54.4" y="2354.4" font-size="16.2" text-anchor="end">40</text><line x1="57.7" y1="2318.3" x2="63.2" y2="2318.3" stroke="#111" stroke-width="1.6" /><text x="54.4" y="2324.2" font-size="16.2" text-anchor="end">60</text><line x1="57.7" y1="2288.1" x2="63.2" y2="2288.1" stroke="#111" stroke-width="1.6" /><text x="54.4" y="2293.9" font-size="16.2" text-anchor="end">80</text><line x1="57.7" y1="2257.8" x2="63.2" y2="2257.8" stroke="#111" stroke-width="1.6" /><text x="54.4" y="2263.6" font-size="16.2" text-anchor="end">100</text><line x1="57.7" y1="2227.5" x2="63.2" y2="2227.5" stroke="#111" stroke-width="1.6" /><text x="54.4" y="2233.4" font-size="16.2" text-anchor="end">120</text><line x1="57.7" y1="2197.3" x2="63.2" y2="2197.3" stroke="#111" stroke-width="1.6" /><text x="54.4" y="2203.1" font-size="16.2" text-anchor="end">140</text><line x1="63.2" y1="2409.1" x2="481.5" y2="2409.1" stroke="#111" stroke-width="1.6" /><text x="23" y="2300" font-size="17" transform="rotate(-90 23 2300)" text-anchor="middle">Number of TFs</text><circle cx="286.7" cy="2263.5" r="44.2" fill="#5fd5d5" stroke="#2e3b3b" stroke-width="1"/><path d="M286.7,2263.5 V2219.3 A44.2,44.2 0 1 1 245.5,2279.5 Z" fill="#ec7f2c" stroke="#2e3b3b" stroke-width="1" stroke-linejoin="round"/><text x="287.7" y="2211.7" font-size="16.9" text-anchor="middle">Other TFs</text><text x="264.4" y="2259.2" font-size="16.5" text-anchor="middle" fill="#fff">185</text><text x="309.7" y="2259.2" font-size="16.5" text-anchor="middle" fill="#fff">414</text><rect x="335.2" y="2309.4" width="18.6" height="6.7" fill="#5fd5d5" stroke="#2e3b3b" stroke-width="1"/><text x="356.5" y="2318.7" font-size="17.05">No AD identified</text><rect x="335.2" y="2328.0" width="18.6" height="6.5" fill="#ec7f2c" stroke="#2e3b3b" stroke-width="1"/><text x="356.5" y="2336.7" font-size="17.05">AD identified</text><text x="148" y="2186.6" font-size="20.4" font-weight="bold">2,771 ADs identified</text><line x1="568.9" y1="2233.7" x2="568.9" y2="2280" stroke="#222" stroke-width="1.3" /><line x1="568.9" y1="2321" x2="568.9" y2="2379.9" stroke="#222" stroke-width="1.3" /><line x1="563.4" y1="2233.7" x2="574.4" y2="2233.7" stroke="#222" stroke-width="3.6" /><line x1="563.4" y1="2379.9" x2="574.4" y2="2379.9" stroke="#222" stroke-width="3.6" /><rect x="561.3" y="2280.0" width="15.2" height="41.0" fill="#ec7f2c" stroke="#222" stroke-width="1.1"/><line x1="561.3" y1="2299.9" x2="576.5" y2="2299.9" stroke="#222" stroke-width="1.5" /><ellipse cx="568.9" cy="2388.7" rx="2.6" ry="2" fill="none" stroke="#222" stroke-width="1.2"/><ellipse cx="568.9" cy="2399.7" rx="2.6" ry="2" fill="none" stroke="#222" stroke-width="1.2"/><text x="563.4" y="2413.0" font-size="17.0" transform="rotate(90 563.4 2413.0)">MYB</text><line x1="588.1" y1="2261.8" x2="588.1" y2="2288.5" stroke="#222" stroke-width="1.3" /><line x1="588.1" y1="2354.7" x2="588.1" y2="2398.8" stroke="#222" stroke-width="1.3" /><line x1="582.6" y1="2261.8" x2="593.6" y2="2261.8" stroke="#222" stroke-width="3.6" /><line x1="582.6" y1="2398.8" x2="593.6" y2="2398.8" stroke="#222" stroke-width="3.6" /><rect x="580.5" y="2288.5" width="15.2" height="66.2" fill="#ec7f2c" stroke="#222" stroke-width="1.1"/><line x1="580.5" y1="2312.2" x2="595.7" y2="2312.2" stroke="#222" stroke-width="1.5" /><text x="582.5" y="2413.0" font-size="17.0" transform="rotate(90 582.5 2413.0)">bHLH</text><line x1="607.2" y1="2235.3" x2="607.2" y2="2273.7" stroke="#222" stroke-width="1.3" /><line x1="607.2" y1="2313.1" x2="607.2" y2="2372.3" stroke="#222" stroke-width="1.3" /><line x1="601.7" y1="2235.3" x2="612.7" y2="2235.3" stroke="#222" stroke-width="3.6" /><line x1="601.7" y1="2372.3" x2="612.7" y2="2372.3" stroke="#222" stroke-width="3.6" /><rect x="599.6" y="2273.7" width="15.2" height="39.4" fill="#ec7f2c" stroke="#222" stroke-width="1.1"/><line x1="599.6" y1="2291.1" x2="614.8" y2="2291.1" stroke="#222" stroke-width="1.5" /><ellipse cx="607.2" cy="2202.2" rx="2.6" ry="2" fill="none" stroke="#222" stroke-width="1.2"/><ellipse cx="607.2" cy="2376.7" rx="2.6" ry="2" fill="none" stroke="#222" stroke-width="1.2"/><ellipse cx="607.2" cy="2385.6" rx="2.6" ry="2" fill="none" stroke="#222" stroke-width="1.2"/><ellipse cx="607.2" cy="2388.7" rx="2.6" ry="2" fill="none" stroke="#222" stroke-width="1.2"/><ellipse cx="607.2" cy="2393.4" rx="2.6" ry="2" fill="none" stroke="#222" stroke-width="1.2"/><text x="601.7" y="2413.0" font-size="17.0" transform="rotate(90 601.7 2413.0)">ERF</text><line x1="626.4" y1="2215.5" x2="626.4" y2="2276.9" stroke="#222" stroke-width="1.3" /><line x1="626.4" y1="2328.9" x2="626.4" y2="2395.6" stroke="#222" stroke-width="1.3" /><line x1="620.9" y1="2215.5" x2="631.9" y2="2215.5" stroke="#222" stroke-width="3.6" /><line x1="620.9" y1="2395.6" x2="631.9" y2="2395.6" stroke="#222" stroke-width="3.6" /><rect x="618.8" y="2276.9" width="15.2" height="52.0" fill="#ec7f2c" stroke="#222" stroke-width="1.1"/><line x1="618.8" y1="2291.7" x2="634" y2="2291.7" stroke="#222" stroke-width="1.5" /><text x="620.9" y="2413.0" font-size="17.0" transform="rotate(90 620.9 2413.0)">NAC</text><line x1="645.6" y1="2271.2" x2="645.6" y2="2322.6" stroke="#222" stroke-width="1.3" /><line x1="645.6" y1="2384" x2="645.6" y2="2399.1" stroke="#222" stroke-width="1.3" /><line x1="640.1" y1="2271.2" x2="651.1" y2="2271.2" stroke="#222" stroke-width="3.6" /><line x1="640.1" y1="2399.1" x2="651.1" y2="2399.1" stroke="#222" stroke-width="3.6" /><rect x="638.0" y="2322.6" width="15.2" height="61.4" fill="#ec7f2c" stroke="#222" stroke-width="1.1"/><line x1="638" y1="2365.1" x2="653.2" y2="2365.1" stroke="#222" stroke-width="1.5" /><text x="640.1" y="2413.0" font-size="17.0" transform="rotate(90 640.1 2413.0)">C2H2</text><line x1="664.8" y1="2251" x2="664.8" y2="2282.5" stroke="#222" stroke-width="1.3" /><line x1="664.8" y1="2339.9" x2="664.8" y2="2395" stroke="#222" stroke-width="1.3" /><line x1="659.2" y1="2251" x2="670.2" y2="2251" stroke="#222" stroke-width="3.6" /><line x1="659.2" y1="2395" x2="670.2" y2="2395" stroke="#222" stroke-width="3.6" /><rect x="657.1" y="2282.5" width="15.2" height="57.3" fill="#ec7f2c" stroke="#222" stroke-width="1.1"/><line x1="657.1" y1="2310.9" x2="672.4" y2="2310.9" stroke="#222" stroke-width="1.5" /><text x="659.2" y="2413.0" font-size="17.0" transform="rotate(90 659.2 2413.0)">WRKY</text><line x1="683.9" y1="2253.9" x2="683.9" y2="2288.8" stroke="#222" stroke-width="1.3" /><line x1="683.9" y1="2368.9" x2="683.9" y2="2399.7" stroke="#222" stroke-width="1.3" /><line x1="678.4" y1="2253.9" x2="689.4" y2="2253.9" stroke="#222" stroke-width="3.6" /><line x1="678.4" y1="2399.7" x2="689.4" y2="2399.7" stroke="#222" stroke-width="3.6" /><rect x="676.3" y="2288.8" width="15.2" height="80.0" fill="#ec7f2c" stroke="#222" stroke-width="1.1"/><line x1="676.3" y1="2315.3" x2="691.5" y2="2315.3" stroke="#222" stroke-width="1.5" /><text x="678.4" y="2413.0" font-size="17.0" transform="rotate(90 678.4 2413.0)">bZIP</text><line x1="703.1" y1="2259.6" x2="703.1" y2="2293.6" stroke="#222" stroke-width="1.3" /><line x1="703.1" y1="2373" x2="703.1" y2="2399.7" stroke="#222" stroke-width="1.3" /><line x1="697.6" y1="2259.6" x2="708.6" y2="2259.6" stroke="#222" stroke-width="3.6" /><line x1="697.6" y1="2399.7" x2="708.6" y2="2399.7" stroke="#222" stroke-width="3.6" /><rect x="695.5" y="2293.6" width="15.2" height="79.4" fill="#ec7f2c" stroke="#222" stroke-width="1.1"/><line x1="695.5" y1="2318.8" x2="710.7" y2="2318.8" stroke="#222" stroke-width="1.5" /><text x="697.6" y="2413.0" font-size="17.0" transform="rotate(90 697.6 2413.0)">M-type MADS</text><line x1="722.3" y1="2251.7" x2="722.3" y2="2327.3" stroke="#222" stroke-width="1.3" /><line x1="722.3" y1="2390.9" x2="722.3" y2="2399.1" stroke="#222" stroke-width="1.3" /><line x1="716.8" y1="2251.7" x2="727.8" y2="2251.7" stroke="#222" stroke-width="3.6" /><line x1="716.8" y1="2399.1" x2="727.8" y2="2399.1" stroke="#222" stroke-width="3.6" /><rect x="714.7" y="2327.3" width="15.2" height="63.6" fill="#ec7f2c" stroke="#222" stroke-width="1.1"/><line x1="714.7" y1="2359.7" x2="729.9" y2="2359.7" stroke="#222" stroke-width="1.5" /><text x="716.7" y="2413.0" font-size="17.0" transform="rotate(90 716.7 2413.0)">B3</text><line x1="741.4" y1="2273.1" x2="741.4" y2="2322.6" stroke="#222" stroke-width="1.3" /><line x1="741.4" y1="2381.8" x2="741.4" y2="2399.7" stroke="#222" stroke-width="1.3" /><line x1="735.9" y1="2273.1" x2="746.9" y2="2273.1" stroke="#222" stroke-width="3.6" /><line x1="735.9" y1="2399.7" x2="746.9" y2="2399.7" stroke="#222" stroke-width="3.6" /><rect x="733.8" y="2322.6" width="15.2" height="59.2" fill="#ec7f2c" stroke="#222" stroke-width="1.1"/><line x1="733.8" y1="2357.8" x2="749" y2="2357.8" stroke="#222" stroke-width="1.5" /><ellipse cx="741.4" cy="2202.2" rx="2.6" ry="2" fill="none" stroke="#222" stroke-width="1.2"/><text x="735.9" y="2413.0" font-size="17.0" transform="rotate(90 735.9 2413.0)">MYB related</text><line x1="760.6" y1="2251" x2="760.6" y2="2296.7" stroke="#222" stroke-width="1.3" /><line x1="760.6" y1="2358.8" x2="760.6" y2="2396.6" stroke="#222" stroke-width="1.3" /><line x1="755.1" y1="2251" x2="766.1" y2="2251" stroke="#222" stroke-width="3.6" /><line x1="755.1" y1="2396.6" x2="766.1" y2="2396.6" stroke="#222" stroke-width="3.6" /><rect x="753.0" y="2296.7" width="15.2" height="62.1" fill="#ec7f2c" stroke="#222" stroke-width="1.1"/><line x1="753" y1="2323.5" x2="768.2" y2="2323.5" stroke="#222" stroke-width="1.5" /><text x="755.1" y="2413.0" font-size="17.0" transform="rotate(90 755.1 2413.0)">HD-ZIP</text><line x1="779.8" y1="2277.8" x2="779.8" y2="2316.2" stroke="#222" stroke-width="1.3" /><line x1="779.8" y1="2379.2" x2="779.8" y2="2397.5" stroke="#222" stroke-width="1.3" /><line x1="774.3" y1="2277.8" x2="785.3" y2="2277.8" stroke="#222" stroke-width="3.6" /><line x1="774.3" y1="2397.5" x2="785.3" y2="2397.5" stroke="#222" stroke-width="3.6" /><rect x="772.2" y="2316.2" width="15.2" height="63.0" fill="#ec7f2c" stroke="#222" stroke-width="1.1"/><line x1="772.2" y1="2344.6" x2="787.4" y2="2344.6" stroke="#222" stroke-width="1.5" /><text x="774.2" y="2413.0" font-size="17.0" transform="rotate(90 774.2 2413.0)">C3H</text><line x1="798.9" y1="2275.9" x2="798.9" y2="2313.1" stroke="#222" stroke-width="1.3" /><line x1="798.9" y1="2381.5" x2="798.9" y2="2398.2" stroke="#222" stroke-width="1.3" /><line x1="793.4" y1="2275.9" x2="804.4" y2="2275.9" stroke="#222" stroke-width="3.6" /><line x1="793.4" y1="2398.2" x2="804.4" y2="2398.2" stroke="#222" stroke-width="3.6" /><rect x="791.3" y="2313.1" width="15.2" height="68.4" fill="#ec7f2c" stroke="#222" stroke-width="1.1"/><line x1="791.3" y1="2349.3" x2="806.5" y2="2349.3" stroke="#222" stroke-width="1.5" /><text x="793.4" y="2413.0" font-size="17.0" transform="rotate(90 793.4 2413.0)">MIKC MADS</text><line x1="818.1" y1="2272.2" x2="818.1" y2="2299.6" stroke="#222" stroke-width="1.3" /><line x1="818.1" y1="2375.5" x2="818.1" y2="2398.8" stroke="#222" stroke-width="1.3" /><line x1="812.6" y1="2272.2" x2="823.6" y2="2272.2" stroke="#222" stroke-width="3.6" /><line x1="812.6" y1="2398.8" x2="823.6" y2="2398.8" stroke="#222" stroke-width="3.6" /><rect x="810.5" y="2299.6" width="15.2" height="75.9" fill="#ec7f2c" stroke="#222" stroke-width="1.1"/><line x1="810.5" y1="2346.2" x2="825.7" y2="2346.2" stroke="#222" stroke-width="1.5" /><text x="812.6" y="2413.0" font-size="17.0" transform="rotate(90 812.6 2413.0)">LBD</text><line x1="837.3" y1="2260.5" x2="837.3" y2="2285.4" stroke="#222" stroke-width="1.3" /><line x1="837.3" y1="2347.1" x2="837.3" y2="2391.2" stroke="#222" stroke-width="1.3" /><line x1="831.8" y1="2260.5" x2="842.8" y2="2260.5" stroke="#222" stroke-width="3.6" /><line x1="831.8" y1="2391.2" x2="842.8" y2="2391.2" stroke="#222" stroke-width="3.6" /><rect x="829.7" y="2285.4" width="15.2" height="61.7" fill="#ec7f2c" stroke="#222" stroke-width="1.1"/><line x1="829.7" y1="2317.8" x2="844.9" y2="2317.8" stroke="#222" stroke-width="1.5" /><text x="831.8" y="2413.0" font-size="17.0" transform="rotate(90 831.8 2413.0)">G2-like</text><line x1="856.5" y1="2202.2" x2="856.5" y2="2285.4" stroke="#222" stroke-width="1.3" /><line x1="856.5" y1="2366.7" x2="856.5" y2="2396.6" stroke="#222" stroke-width="1.3" /><line x1="851" y1="2202.2" x2="862" y2="2202.2" stroke="#222" stroke-width="3.6" /><line x1="851" y1="2396.6" x2="862" y2="2396.6" stroke="#222" stroke-width="3.6" /><rect x="848.9" y="2285.4" width="15.2" height="81.3" fill="#ec7f2c" stroke="#222" stroke-width="1.1"/><line x1="848.9" y1="2327.3" x2="864.1" y2="2327.3" stroke="#222" stroke-width="1.5" /><text x="850.9" y="2413.0" font-size="17.0" transform="rotate(90 850.9 2413.0)">Dof</text><line x1="875.6" y1="2202.2" x2="875.6" y2="2273.7" stroke="#222" stroke-width="1.3" /><line x1="875.6" y1="2323.5" x2="875.6" y2="2386.5" stroke="#222" stroke-width="1.3" /><line x1="870.1" y1="2202.2" x2="881.1" y2="2202.2" stroke="#222" stroke-width="3.6" /><line x1="870.1" y1="2386.5" x2="881.1" y2="2386.5" stroke="#222" stroke-width="3.6" /><rect x="868.0" y="2273.7" width="15.2" height="49.8" fill="#ec7f2c" stroke="#222" stroke-width="1.1"/><line x1="868" y1="2306.2" x2="883.2" y2="2306.2" stroke="#222" stroke-width="1.5" /><text x="870.1" y="2413.0" font-size="17.0" transform="rotate(90 870.1 2413.0)">GRAS</text><line x1="894.8" y1="2254.8" x2="894.8" y2="2275.3" stroke="#222" stroke-width="1.3" /><line x1="894.8" y1="2320.3" x2="894.8" y2="2384.6" stroke="#222" stroke-width="1.3" /><line x1="889.3" y1="2254.8" x2="900.3" y2="2254.8" stroke="#222" stroke-width="3.6" /><line x1="889.3" y1="2384.6" x2="900.3" y2="2384.6" stroke="#222" stroke-width="3.6" /><rect x="887.2" y="2275.3" width="15.2" height="45.0" fill="#ec7f2c" stroke="#222" stroke-width="1.1"/><line x1="887.2" y1="2293.6" x2="902.4" y2="2293.6" stroke="#222" stroke-width="1.5" /><ellipse cx="894.8" cy="2202.2" rx="2.6" ry="2" fill="none" stroke="#222" stroke-width="1.2"/><ellipse cx="894.8" cy="2392.8" rx="2.6" ry="2" fill="none" stroke="#222" stroke-width="1.2"/><text x="889.3" y="2413.0" font-size="17.0" transform="rotate(90 889.3 2413.0)">GATA</text><line x1="914" y1="2278.5" x2="914" y2="2330.4" stroke="#222" stroke-width="1.3" /><line x1="914" y1="2376.7" x2="914" y2="2398.8" stroke="#222" stroke-width="1.3" /><line x1="908.5" y1="2278.5" x2="919.5" y2="2278.5" stroke="#222" stroke-width="3.6" /><line x1="908.5" y1="2398.8" x2="919.5" y2="2398.8" stroke="#222" stroke-width="3.6" /><rect x="906.4" y="2330.4" width="15.2" height="46.3" fill="#ec7f2c" stroke="#222" stroke-width="1.1"/><line x1="906.4" y1="2361.9" x2="921.6" y2="2361.9" stroke="#222" stroke-width="1.5" /><text x="908.4" y="2413.0" font-size="17.0" transform="rotate(90 908.4 2413.0)">Trihelix</text><line x1="933.1" y1="2257.3" x2="933.1" y2="2274.7" stroke="#222" stroke-width="1.3" /><line x1="933.1" y1="2345.5" x2="933.1" y2="2388.1" stroke="#222" stroke-width="1.3" /><line x1="927.6" y1="2257.3" x2="938.6" y2="2257.3" stroke="#222" stroke-width="3.6" /><line x1="927.6" y1="2388.1" x2="938.6" y2="2388.1" stroke="#222" stroke-width="3.6" /><rect x="925.5" y="2274.7" width="15.2" height="70.9" fill="#ec7f2c" stroke="#222" stroke-width="1.1"/><line x1="925.5" y1="2291.1" x2="940.7" y2="2291.1" stroke="#222" stroke-width="1.5" /><text x="927.6" y="2413.0" font-size="17.0" transform="rotate(90 927.6 2413.0)">HSF</text><line x1="952.3" y1="2277.5" x2="952.3" y2="2292.6" stroke="#222" stroke-width="1.3" /><line x1="952.3" y1="2372.3" x2="952.3" y2="2385.6" stroke="#222" stroke-width="1.3" /><line x1="946.8" y1="2277.5" x2="957.8" y2="2277.5" stroke="#222" stroke-width="3.6" /><line x1="946.8" y1="2385.6" x2="957.8" y2="2385.6" stroke="#222" stroke-width="3.6" /><rect x="944.7" y="2292.6" width="15.2" height="79.7" fill="#ec7f2c" stroke="#222" stroke-width="1.1"/><line x1="944.7" y1="2360.4" x2="959.9" y2="2360.4" stroke="#222" stroke-width="1.5" /><text x="946.8" y="2413.0" font-size="17.0" transform="rotate(90 946.8 2413.0)">TCP</text><line x1="971.5" y1="2275.3" x2="971.5" y2="2291.1" stroke="#222" stroke-width="1.3" /><line x1="971.5" y1="2347.1" x2="971.5" y2="2392.8" stroke="#222" stroke-width="1.3" /><line x1="966" y1="2275.3" x2="977" y2="2275.3" stroke="#222" stroke-width="3.6" /><line x1="966" y1="2392.8" x2="977" y2="2392.8" stroke="#222" stroke-width="3.6" /><rect x="963.9" y="2291.1" width="15.2" height="56.1" fill="#ec7f2c" stroke="#222" stroke-width="1.1"/><line x1="963.9" y1="2320" x2="979.1" y2="2320" stroke="#222" stroke-width="1.5" /><text x="966.0" y="2413.0" font-size="17.0" transform="rotate(90 966.0 2413.0)">ARF</text><line x1="559.5" y1="2192.7" x2="559.5" y2="2410.6" stroke="#111" stroke-width="1.6" /><line x1="554" y1="2401.3" x2="559.5" y2="2401.3" stroke="#111" stroke-width="1.6" /><text x="550.7" y="2407.1" font-size="16.2" text-anchor="end">1</text><line x1="554" y1="2369.8" x2="559.5" y2="2369.8" stroke="#111" stroke-width="1.6" /><text x="550.7" y="2375.6" font-size="16.2" text-anchor="end">2</text><line x1="554" y1="2338.3" x2="559.5" y2="2338.3" stroke="#111" stroke-width="1.6" /><text x="550.7" y="2344.1" font-size="16.2" text-anchor="end">3</text><line x1="554" y1="2306.8" x2="559.5" y2="2306.8" stroke="#111" stroke-width="1.6" /><text x="550.7" y="2312.6" font-size="16.2" text-anchor="end">4</text><line x1="554" y1="2275.3" x2="559.5" y2="2275.3" stroke="#111" stroke-width="1.6" /><text x="550.7" y="2281.1" font-size="16.2" text-anchor="end">5</text><line x1="554" y1="2243.8" x2="559.5" y2="2243.8" stroke="#111" stroke-width="1.6" /><text x="550.7" y="2249.6" font-size="16.2" text-anchor="end">6</text><line x1="554" y1="2212.3" x2="559.5" y2="2212.3" stroke="#111" stroke-width="1.6" /><text x="550.7" y="2218.1" font-size="16.2" text-anchor="end">7</text><line x1="559.5" y1="2409.8" x2="980.9" y2="2409.8" stroke="#111" stroke-width="1.6" /><text x="538" y="2301" font-size="17" transform="rotate(-90 538 2301)" text-anchor="middle">AD Scores</text><rect x="1072.6" y="2208.0" width="10.6" height="201.0" fill="#5fd5d5" stroke="#2e3b3b" stroke-width="1"/><rect x="1083.2" y="2291.2" width="10.6" height="117.8" fill="#5fd5d5" stroke="#2e3b3b" stroke-width="1"/><rect x="1093.8" y="2350.0" width="10.6" height="59.0" fill="#5fd5d5" stroke="#2e3b3b" stroke-width="1"/><rect x="1104.3" y="2382.3" width="10.6" height="26.7" fill="#5fd5d5" stroke="#2e3b3b" stroke-width="1"/><rect x="1114.9" y="2394.6" width="10.6" height="14.4" fill="#5fd5d5" stroke="#2e3b3b" stroke-width="1"/><rect x="1125.5" y="2404.9" width="10.6" height="4.1" fill="#5fd5d5" stroke="#2e3b3b" stroke-width="1"/><rect x="1136.1" y="2406.5" width="10.6" height="2.5" fill="#5fd5d5" stroke="#2e3b3b" stroke-width="1"/><rect x="1146.6" y="2408.4" width="10.6" height="0.6" fill="#5fd5d5" stroke="#2e3b3b" stroke-width="1"/><rect x="1157.2" y="2408.7" width="10.6" height="0.3" fill="#5fd5d5" stroke="#2e3b3b" stroke-width="1"/><rect x="1167.8" y="2408.7" width="10.6" height="0.3" fill="#5fd5d5" stroke="#2e3b3b" stroke-width="1"/><rect x="1178.4" y="2408.8" width="10.6" height="0.2" fill="#5fd5d5" stroke="#2e3b3b" stroke-width="1"/><rect x="1189.0" y="2408.7" width="10.6" height="0.3" fill="#5fd5d5" stroke="#2e3b3b" stroke-width="1"/><rect x="1199.5" y="2408.8" width="10.6" height="0.2" fill="#5fd5d5" stroke="#2e3b3b" stroke-width="1"/><rect x="1210.1" y="2408.8" width="10.6" height="0.2" fill="#5fd5d5" stroke="#2e3b3b" stroke-width="1"/><line x1="1066" y1="2196.4" x2="1066" y2="2409.8" stroke="#111" stroke-width="1.6" /><line x1="1060.5" y1="2409" x2="1066" y2="2409" stroke="#111" stroke-width="1.6" /><text x="1059.5" y="2415" font-size="16.7" text-anchor="end">0</text><line x1="1060.5" y1="2377.6" x2="1066" y2="2377.6" stroke="#111" stroke-width="1.6" /><text x="1059.5" y="2383.6" font-size="16.7" text-anchor="end">100</text><line x1="1060.5" y1="2346.2" x2="1066" y2="2346.2" stroke="#111" stroke-width="1.6" /><text x="1059.5" y="2352.2" font-size="16.7" text-anchor="end">200</text><line x1="1060.5" y1="2314.8" x2="1066" y2="2314.8" stroke="#111" stroke-width="1.6" /><text x="1059.5" y="2320.8" font-size="16.7" text-anchor="end">300</text><line x1="1060.5" y1="2283.4" x2="1066" y2="2283.4" stroke="#111" stroke-width="1.6" /><text x="1059.5" y="2289.4" font-size="16.7" text-anchor="end">400</text><line x1="1060.5" y1="2252" x2="1066" y2="2252" stroke="#111" stroke-width="1.6" /><text x="1059.5" y="2258" font-size="16.7" text-anchor="end">500</text><line x1="1060.5" y1="2220.6" x2="1066" y2="2220.6" stroke="#111" stroke-width="1.6" /><text x="1059.5" y="2226.6" font-size="16.7" text-anchor="end">600</text><line x1="1066" y1="2409" x2="1218" y2="2409" stroke="#111" stroke-width="1.6" /><line x1="1067.3" y1="2409" x2="1067.3" y2="2413.5" stroke="#111" stroke-width="1.4" /><text x="1067.3" y="2429.5" font-size="16" text-anchor="middle" transform="translate(1067.3 0) scale(0.72 1) translate(-1067.3 0)">0</text><line x1="1088.5" y1="2409" x2="1088.5" y2="2413.5" stroke="#111" stroke-width="1.4" /><text x="1088.5" y="2429.5" font-size="16" text-anchor="middle" transform="translate(1088.5 0) scale(0.72 1) translate(-1088.5 0)">2</text><line x1="1109.6" y1="2409" x2="1109.6" y2="2413.5" stroke="#111" stroke-width="1.4" /><text x="1109.6" y="2429.5" font-size="16" text-anchor="middle" transform="translate(1109.6 0) scale(0.72 1) translate(-1109.6 0)">4</text><line x1="1130.8" y1="2409" x2="1130.8" y2="2413.5" stroke="#111" stroke-width="1.4" /><text x="1130.8" y="2429.5" font-size="16" text-anchor="middle" transform="translate(1130.8 0) scale(0.72 1) translate(-1130.8 0)">6</text><line x1="1151.9" y1="2409" x2="1151.9" y2="2413.5" stroke="#111" stroke-width="1.4" /><text x="1151.9" y="2429.5" font-size="16" text-anchor="middle" transform="translate(1151.9 0) scale(0.72 1) translate(-1151.9 0)">8</text><line x1="1173.1" y1="2409" x2="1173.1" y2="2413.5" stroke="#111" stroke-width="1.4" /><text x="1173.1" y="2429.5" font-size="16" text-anchor="middle" transform="translate(1173.1 0) scale(0.72 1) translate(-1173.1 0)">10</text><line x1="1194.3" y1="2409" x2="1194.3" y2="2413.5" stroke="#111" stroke-width="1.4" /><text x="1194.3" y="2429.5" font-size="16" text-anchor="middle" transform="translate(1194.3 0) scale(0.72 1) translate(-1194.3 0)">12</text><line x1="1215.4" y1="2409" x2="1215.4" y2="2413.5" stroke="#111" stroke-width="1.4" /><text x="1215.4" y="2429.5" font-size="16" text-anchor="middle" transform="translate(1215.4 0) scale(0.72 1) translate(-1215.4 0)">14</text><text x="1136" y="2446.5" font-size="17.1" text-anchor="middle">ADs per TF</text><text x="1026" y="2300" font-size="17.1" transform="rotate(-90 1026 2300)" text-anchor="middle">Number of TFs</text><rect x="1285.0" y="2202.7" width="15.7" height="206.3" fill="#5fd5d5" stroke="#2e3b3b" stroke-width="1"/><rect x="1300.7" y="2272.3" width="15.7" height="136.7" fill="#5fd5d5" stroke="#2e3b3b" stroke-width="1"/><rect x="1316.4" y="2334.8" width="15.7" height="74.2" fill="#5fd5d5" stroke="#2e3b3b" stroke-width="1"/><rect x="1332.1" y="2366.5" width="15.7" height="42.5" fill="#5fd5d5" stroke="#2e3b3b" stroke-width="1"/><rect x="1347.8" y="2389.1" width="15.7" height="19.9" fill="#5fd5d5" stroke="#2e3b3b" stroke-width="1"/><rect x="1363.5" y="2399.0" width="15.7" height="10.0" fill="#5fd5d5" stroke="#2e3b3b" stroke-width="1"/><rect x="1379.2" y="2404.5" width="15.7" height="4.5" fill="#5fd5d5" stroke="#2e3b3b" stroke-width="1"/><rect x="1394.9" y="2406.3" width="15.7" height="2.7" fill="#5fd5d5" stroke="#2e3b3b" stroke-width="1"/><rect x="1410.6" y="2407.2" width="15.7" height="1.8" fill="#5fd5d5" stroke="#2e3b3b" stroke-width="1"/><rect x="1426.3" y="2408.5" width="15.7" height="0.5" fill="#5fd5d5" stroke="#2e3b3b" stroke-width="1"/><rect x="1441.9" y="2408.6" width="15.7" height="0.4" fill="#5fd5d5" stroke="#2e3b3b" stroke-width="1"/><rect x="1457.6" y="2408.6" width="15.7" height="0.4" fill="#5fd5d5" stroke="#2e3b3b" stroke-width="1"/><rect x="1473.3" y="2408.8" width="15.7" height="0.2" fill="#5fd5d5" stroke="#2e3b3b" stroke-width="1"/><line x1="1275.8" y1="2192.7" x2="1275.8" y2="2409.8" stroke="#111" stroke-width="1.6" /><line x1="1270.3" y1="2409" x2="1275.8" y2="2409" stroke="#111" stroke-width="1.6" /><text x="1269.3" y="2415" font-size="16.7" text-anchor="end">0</text><line x1="1270.3" y1="2372.8" x2="1275.8" y2="2372.8" stroke="#111" stroke-width="1.6" /><text x="1269.3" y="2378.8" font-size="16.7" text-anchor="end">200</text><line x1="1270.3" y1="2336.6" x2="1275.8" y2="2336.6" stroke="#111" stroke-width="1.6" /><text x="1269.3" y="2342.6" font-size="16.7" text-anchor="end">400</text><line x1="1270.3" y1="2300.4" x2="1275.8" y2="2300.4" stroke="#111" stroke-width="1.6" /><text x="1269.3" y="2306.4" font-size="16.7" text-anchor="end">600</text><line x1="1270.3" y1="2264.2" x2="1275.8" y2="2264.2" stroke="#111" stroke-width="1.6" /><text x="1269.3" y="2270.2" font-size="16.7" text-anchor="end">800</text><line x1="1270.3" y1="2228" x2="1275.8" y2="2228" stroke="#111" stroke-width="1.6" /><text x="1269.3" y="2234" font-size="16.7" text-anchor="end">1000</text><line x1="1275.8" y1="2409" x2="1496.8" y2="2409" stroke="#111" stroke-width="1.6" /><line x1="1277.2" y1="2409" x2="1277.2" y2="2413.5" stroke="#111" stroke-width="1.4" /><text x="1277.2" y="2429.5" font-size="16.7" text-anchor="middle">0</text><line x1="1308.6" y1="2409" x2="1308.6" y2="2413.5" stroke="#111" stroke-width="1.4" /><text x="1308.6" y="2429.5" font-size="16.7" text-anchor="middle">2</text><line x1="1340" y1="2409" x2="1340" y2="2413.5" stroke="#111" stroke-width="1.4" /><text x="1340" y="2429.5" font-size="16.7" text-anchor="middle">4</text><line x1="1371.3" y1="2409" x2="1371.3" y2="2413.5" stroke="#111" stroke-width="1.4" /><text x="1371.3" y="2429.5" font-size="16.7" text-anchor="middle">6</text><line x1="1402.7" y1="2409" x2="1402.7" y2="2413.5" stroke="#111" stroke-width="1.4" /><text x="1402.7" y="2429.5" font-size="16.7" text-anchor="middle">8</text><line x1="1434.1" y1="2409" x2="1434.1" y2="2413.5" stroke="#111" stroke-width="1.4" /><text x="1434.1" y="2429.5" font-size="16.7" text-anchor="middle">10</text><line x1="1465.5" y1="2409" x2="1465.5" y2="2413.5" stroke="#111" stroke-width="1.4" /><text x="1465.5" y="2429.5" font-size="16.7" text-anchor="middle">12</text><line x1="1496.9" y1="2409" x2="1496.9" y2="2413.5" stroke="#111" stroke-width="1.4" /><text x="1496.9" y="2429.5" font-size="16.7" text-anchor="middle">14</text><text x="1390.7" y="2446.5" font-size="17.1" text-anchor="middle">Contiguous Fragments</text><text x="1236" y="2300" font-size="17.1" transform="rotate(-90 1236 2300)" text-anchor="middle">Number of ADs</text><rect x="1574.7" y="2281.7" width="15.6" height="127.3" fill="#5fd5d5" stroke="#2e3b3b" stroke-width="1"/><rect x="1590.3" y="2324.6" width="15.6" height="84.4" fill="#5fd5d5" stroke="#2e3b3b" stroke-width="1"/><rect x="1605.9" y="2331.7" width="15.6" height="77.3" fill="#5fd5d5" stroke="#2e3b3b" stroke-width="1"/><rect x="1621.5" y="2339.0" width="15.6" height="70.0" fill="#5fd5d5" stroke="#2e3b3b" stroke-width="1"/><rect x="1637.1" y="2344.9" width="15.6" height="64.1" fill="#5fd5d5" stroke="#2e3b3b" stroke-width="1"/><rect x="1652.7" y="2344.9" width="15.6" height="64.1" fill="#5fd5d5" stroke="#2e3b3b" stroke-width="1"/><rect x="1668.3" y="2328.5" width="15.6" height="80.5" fill="#5fd5d5" stroke="#2e3b3b" stroke-width="1"/><rect x="1683.9" y="2324.6" width="15.6" height="84.4" fill="#5fd5d5" stroke="#2e3b3b" stroke-width="1"/><rect x="1699.5" y="2298.1" width="15.6" height="110.9" fill="#5fd5d5" stroke="#2e3b3b" stroke-width="1"/><rect x="1715.1" y="2202.0" width="15.6" height="207.0" fill="#5fd5d5" stroke="#2e3b3b" stroke-width="1"/><line x1="1567.3" y1="2190.9" x2="1567.3" y2="2409.8" stroke="#111" stroke-width="1.6" /><line x1="1561.8" y1="2409" x2="1567.3" y2="2409" stroke="#111" stroke-width="1.6" /><text x="1560.8" y="2415" font-size="16.7" text-anchor="end">0</text><line x1="1561.8" y1="2377.8" x2="1567.3" y2="2377.8" stroke="#111" stroke-width="1.6" /><text x="1560.8" y="2383.8" font-size="16.7" text-anchor="end">200</text><line x1="1561.8" y1="2346.5" x2="1567.3" y2="2346.5" stroke="#111" stroke-width="1.6" /><text x="1560.8" y="2352.5" font-size="16.7" text-anchor="end">400</text><line x1="1561.8" y1="2315.2" x2="1567.3" y2="2315.2" stroke="#111" stroke-width="1.6" /><text x="1560.8" y="2321.3" font-size="16.7" text-anchor="end">600</text><line x1="1561.8" y1="2284" x2="1567.3" y2="2284" stroke="#111" stroke-width="1.6" /><text x="1560.8" y="2290" font-size="16.7" text-anchor="end">800</text><line x1="1561.8" y1="2252.8" x2="1567.3" y2="2252.8" stroke="#111" stroke-width="1.6" /><text x="1560.8" y="2258.8" font-size="16.7" text-anchor="end">1000</text><line x1="1561.8" y1="2221.5" x2="1567.3" y2="2221.5" stroke="#111" stroke-width="1.6" /><text x="1560.8" y="2227.5" font-size="16.7" text-anchor="end">1200</text><line x1="1567.3" y1="2409" x2="1737" y2="2409" stroke="#111" stroke-width="1.6" /><text x="1598.9" y="2429.5" font-size="16.7" text-anchor="middle">N-term</text><text x="1708" y="2429.5" font-size="16.7" text-anchor="middle">C-term</text><text x="1654.6" y="2446.5" font-size="17.1" text-anchor="middle">AD Position</text><text x="1529" y="2300" font-size="17.1" transform="rotate(-90 1529 2300)" text-anchor="middle">Number of hits</text><rect x="1325.6" y="2212.7" width="23.9" height="10.4" fill="#a8a8a8" stroke="#555" stroke-width="0.8"/><rect x="1349.5" y="2212.7" width="23.3" height="10.4" fill="#ec7f2c" stroke="#555" stroke-width="0.8"/><rect x="1337.1" y="2225.0" width="12.4" height="10.4" fill="#a8a8a8" stroke="#555" stroke-width="0.8"/><rect x="1349.5" y="2225.0" width="23.3" height="10.4" fill="#ec7f2c" stroke="#555" stroke-width="0.8"/><rect x="1372.8" y="2225.0" width="12.0" height="10.4" fill="#a8a8a8" stroke="#555" stroke-width="0.8"/><rect x="1349.5" y="2237.2" width="23.3" height="10.4" fill="#ec7f2c" stroke="#555" stroke-width="0.8"/><rect x="1372.8" y="2237.2" width="23.9" height="10.4" fill="#a8a8a8" stroke="#555" stroke-width="0.8"/><rect x="1423.8" y="2210.9" width="47.3" height="10.4" fill="#ec7f2c" stroke="#555" stroke-width="0.8"/><rect x="1435.6" y="2223.1" width="47.4" height="10.4" fill="#ec7f2c" stroke="#555" stroke-width="0.8"/><rect x="1447.2" y="2235.5" width="47.6" height="10.4" fill="#ec7f2c" stroke="#555" stroke-width="0.8"/><path d="M1349.3,2250.2 v3.9 h23.7 v-3.9 M1423.2,2250.2 v3.9 h72.2 v-3.9" fill="none" stroke="#222" stroke-width="1.2"/><text x="1325.6" y="2267.1" font-size="16.8" textLength="71.1" lengthAdjust="spacingAndGlyphs">20 AA AD</text><text x="1426" y="2267.1" font-size="16.8" textLength="70" lengthAdjust="spacingAndGlyphs">60 AA AD</text><text x="1400" y="2233.7" font-size="16">-or-</text></svg></body></html>
